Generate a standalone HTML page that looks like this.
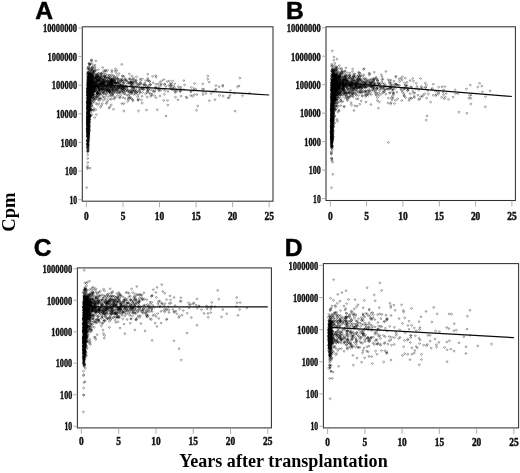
<!DOCTYPE html>
<html><head><meta charset="utf-8"><title>Figure</title>
<style>
html,body{margin:0;padding:0;background:#fff}
svg{display:block}
.tk text{font-family:"Liberation Serif",serif;font-weight:bold;font-size:11.5px;fill:#111;stroke:#111;stroke-width:.45px}
.pl{font-family:"Liberation Sans",sans-serif;font-weight:bold;font-size:24.6px;fill:#000;stroke:#000;stroke-width:.5px}
.ax{font-family:"Liberation Serif",serif;font-weight:bold;font-size:18px;fill:#000}
</style></head><body>
<svg width="520" height="473" viewBox="0 0 520 473">
<rect width="520" height="473" fill="#fff"/>
<g fill="none" stroke="#000" stroke-width="0.8" stroke-opacity="0.42">
<path d="M120.2 84.7a.85 .85 0 1 0 .01 0M88.4 128.6a.85 .85 0 1 0 .01 0M211.1 92.7a.85 .85 0 1 0 .01 0M88.4 111.8a.85 .85 0 1 0 .01 0M89.4 88.7a.85 .85 0 1 0 .01 0M88.1 103.7a.85 .85 0 1 0 .01 0M215.2 89.2a.85 .85 0 1 0 .01 0M91.4 88.2a.85 .85 0 1 0 .01 0M95.3 77.5a.85 .85 0 1 0 .01 0M90.2 77a.85 .85 0 1 0 .01 0M89.2 77.2a.85 .85 0 1 0 .01 0M88.3 84.9a.85 .85 0 1 0 .01 0M87.9 94.8a.85 .85 0 1 0 .01 0M88.6 93.9a.85 .85 0 1 0 .01 0M91.1 85.7a.85 .85 0 1 0 .01 0M105 75.9a.85 .85 0 1 0 .01 0M92.7 93.8a.85 .85 0 1 0 .01 0M163.7 88.4a.85 .85 0 1 0 .01 0M87.5 94.7a.85 .85 0 1 0 .01 0M88.4 87.8a.85 .85 0 1 0 .01 0M138.7 83.8a.85 .85 0 1 0 .01 0M87.6 128.9a.85 .85 0 1 0 .01 0M94.5 68.1a.85 .85 0 1 0 .01 0M102.4 71.7a.85 .85 0 1 0 .01 0M159.8 89.9a.85 .85 0 1 0 .01 0M88.2 132.3a.85 .85 0 1 0 .01 0M88.1 97.7a.85 .85 0 1 0 .01 0M87.8 149.8a.85 .85 0 1 0 .01 0M93.4 90.1a.85 .85 0 1 0 .01 0M148.4 86a.85 .85 0 1 0 .01 0M115 86.4a.85 .85 0 1 0 .01 0M88.4 83.6a.85 .85 0 1 0 .01 0M88.1 112.7a.85 .85 0 1 0 .01 0M140 92a.85 .85 0 1 0 .01 0M89.6 103.4a.85 .85 0 1 0 .01 0M89 113.4a.85 .85 0 1 0 .01 0M90.2 91.4a.85 .85 0 1 0 .01 0M87.6 118.9a.85 .85 0 1 0 .01 0M89.1 86.8a.85 .85 0 1 0 .01 0M88.2 133a.85 .85 0 1 0 .01 0M230.4 89.7a.85 .85 0 1 0 .01 0M90.2 94.5a.85 .85 0 1 0 .01 0M88.3 95.9a.85 .85 0 1 0 .01 0M90.1 78.5a.85 .85 0 1 0 .01 0M123.3 82.2a.85 .85 0 1 0 .01 0M123.4 87.1a.85 .85 0 1 0 .01 0M92.1 92.3a.85 .85 0 1 0 .01 0M90.6 96a.85 .85 0 1 0 .01 0M89 83.9a.85 .85 0 1 0 .01 0M214.9 98.9a.85 .85 0 1 0 .01 0M95.6 74.8a.85 .85 0 1 0 .01 0M87.4 113.9a.85 .85 0 1 0 .01 0M88.2 144.2a.85 .85 0 1 0 .01 0M89.9 108.9a.85 .85 0 1 0 .01 0M87.9 81.6a.85 .85 0 1 0 .01 0M147.8 89.8a.85 .85 0 1 0 .01 0M99.5 78.1a.85 .85 0 1 0 .01 0M126.7 88.8a.85 .85 0 1 0 .01 0M107.1 91a.85 .85 0 1 0 .01 0M87.9 80a.85 .85 0 1 0 .01 0M90.5 73.2a.85 .85 0 1 0 .01 0M94 90.9a.85 .85 0 1 0 .01 0M96.3 73.9a.85 .85 0 1 0 .01 0M107.3 77.2a.85 .85 0 1 0 .01 0M98.3 83.8a.85 .85 0 1 0 .01 0M234.4 92.3a.85 .85 0 1 0 .01 0M180.9 86.4a.85 .85 0 1 0 .01 0M93.1 78.1a.85 .85 0 1 0 .01 0M87.7 121.7a.85 .85 0 1 0 .01 0M145.8 84.2a.85 .85 0 1 0 .01 0M87.8 88.4a.85 .85 0 1 0 .01 0M116.1 88.9a.85 .85 0 1 0 .01 0M89.9 96.9a.85 .85 0 1 0 .01 0M87.8 123a.85 .85 0 1 0 .01 0M87.9 112.3a.85 .85 0 1 0 .01 0M125.2 79.2a.85 .85 0 1 0 .01 0M87.5 102.6a.85 .85 0 1 0 .01 0M91.1 88.6a.85 .85 0 1 0 .01 0M136.6 84.8a.85 .85 0 1 0 .01 0M152.6 75.5a.85 .85 0 1 0 .01 0M96.8 96.1a.85 .85 0 1 0 .01 0M87.9 130a.85 .85 0 1 0 .01 0M132.1 83.9a.85 .85 0 1 0 .01 0M137 82.8a.85 .85 0 1 0 .01 0M89.6 104a.85 .85 0 1 0 .01 0M88.5 94a.85 .85 0 1 0 .01 0M102.8 78.2a.85 .85 0 1 0 .01 0M88 142.1a.85 .85 0 1 0 .01 0M88.3 126.8a.85 .85 0 1 0 .01 0M87.4 166.9a.85 .85 0 1 0 .01 0M145.6 93.1a.85 .85 0 1 0 .01 0M93.7 89.2a.85 .85 0 1 0 .01 0M157.3 109a.85 .85 0 1 0 .01 0M89.4 90.3a.85 .85 0 1 0 .01 0M91.5 90.4a.85 .85 0 1 0 .01 0M88.1 102.4a.85 .85 0 1 0 .01 0M96.4 81.3a.85 .85 0 1 0 .01 0M113.1 88.8a.85 .85 0 1 0 .01 0M90.7 79.1a.85 .85 0 1 0 .01 0M127.5 83a.85 .85 0 1 0 .01 0M105.7 73.4a.85 .85 0 1 0 .01 0M87.6 112a.85 .85 0 1 0 .01 0M100.3 83.2a.85 .85 0 1 0 .01 0M88.2 108.4a.85 .85 0 1 0 .01 0M87.9 139.3a.85 .85 0 1 0 .01 0M171.8 87.7a.85 .85 0 1 0 .01 0M90.5 102.9a.85 .85 0 1 0 .01 0M91.5 75.5a.85 .85 0 1 0 .01 0M88.3 88.3a.85 .85 0 1 0 .01 0M89.2 87.8a.85 .85 0 1 0 .01 0M87.3 120.9a.85 .85 0 1 0 .01 0M101.8 79.5a.85 .85 0 1 0 .01 0M138.1 99.2a.85 .85 0 1 0 .01 0M88.2 101.5a.85 .85 0 1 0 .01 0M92.3 81a.85 .85 0 1 0 .01 0M92.3 82.2a.85 .85 0 1 0 .01 0M112.1 81.6a.85 .85 0 1 0 .01 0M106.3 102.8a.85 .85 0 1 0 .01 0M98.8 87.6a.85 .85 0 1 0 .01 0M87.1 128a.85 .85 0 1 0 .01 0M104.2 79.7a.85 .85 0 1 0 .01 0M108.1 85a.85 .85 0 1 0 .01 0M89 73.3a.85 .85 0 1 0 .01 0M87.8 94.2a.85 .85 0 1 0 .01 0M91.5 94.8a.85 .85 0 1 0 .01 0M88.6 88.3a.85 .85 0 1 0 .01 0M93.6 81.8a.85 .85 0 1 0 .01 0M89.3 128.8a.85 .85 0 1 0 .01 0M111.2 82.6a.85 .85 0 1 0 .01 0M89.1 79.2a.85 .85 0 1 0 .01 0M151.8 93.2a.85 .85 0 1 0 .01 0M87.5 105.4a.85 .85 0 1 0 .01 0M91.9 94.8a.85 .85 0 1 0 .01 0M91.9 66.8a.85 .85 0 1 0 .01 0M87.8 127.1a.85 .85 0 1 0 .01 0M88.9 102.1a.85 .85 0 1 0 .01 0M87.9 116.9a.85 .85 0 1 0 .01 0M98.2 92a.85 .85 0 1 0 .01 0M102.6 82.2a.85 .85 0 1 0 .01 0M88.1 125.1a.85 .85 0 1 0 .01 0M92.5 90.6a.85 .85 0 1 0 .01 0M87.5 123.1a.85 .85 0 1 0 .01 0M115.1 85.4a.85 .85 0 1 0 .01 0M87.8 67.7a.85 .85 0 1 0 .01 0M99 89.1a.85 .85 0 1 0 .01 0M87.9 129.3a.85 .85 0 1 0 .01 0M87.9 94.5a.85 .85 0 1 0 .01 0M90.4 80.5a.85 .85 0 1 0 .01 0M144.9 82.2a.85 .85 0 1 0 .01 0M103.3 80.3a.85 .85 0 1 0 .01 0M91.7 104.5a.85 .85 0 1 0 .01 0M89.8 87.1a.85 .85 0 1 0 .01 0M90.7 87.6a.85 .85 0 1 0 .01 0M239.9 77.2a.85 .85 0 1 0 .01 0M93 89.1a.85 .85 0 1 0 .01 0M91.2 91.2a.85 .85 0 1 0 .01 0M91.7 59.5a.85 .85 0 1 0 .01 0M88.9 102.4a.85 .85 0 1 0 .01 0M110.7 88.4a.85 .85 0 1 0 .01 0M114.2 80.2a.85 .85 0 1 0 .01 0M89.3 94.6a.85 .85 0 1 0 .01 0M112.3 90.7a.85 .85 0 1 0 .01 0M139.2 90a.85 .85 0 1 0 .01 0M95.9 60.1a.85 .85 0 1 0 .01 0M87.6 106.4a.85 .85 0 1 0 .01 0M89.1 126.8a.85 .85 0 1 0 .01 0M142.1 87.6a.85 .85 0 1 0 .01 0M88.2 120.6a.85 .85 0 1 0 .01 0M87.9 119.2a.85 .85 0 1 0 .01 0M87.7 124.9a.85 .85 0 1 0 .01 0M96.9 73.1a.85 .85 0 1 0 .01 0M87.4 120.3a.85 .85 0 1 0 .01 0M88.5 104.1a.85 .85 0 1 0 .01 0M89.5 81.5a.85 .85 0 1 0 .01 0M147.1 90.5a.85 .85 0 1 0 .01 0M114.8 76.5a.85 .85 0 1 0 .01 0M88.3 81.9a.85 .85 0 1 0 .01 0M91.2 73.3a.85 .85 0 1 0 .01 0M161.7 80a.85 .85 0 1 0 .01 0M89 113.9a.85 .85 0 1 0 .01 0M95.1 75.8a.85 .85 0 1 0 .01 0M88.5 109.5a.85 .85 0 1 0 .01 0M114.8 77.5a.85 .85 0 1 0 .01 0M88 85.5a.85 .85 0 1 0 .01 0M91.7 109.2a.85 .85 0 1 0 .01 0M91.6 73.6a.85 .85 0 1 0 .01 0M88.1 127.2a.85 .85 0 1 0 .01 0M148.4 89a.85 .85 0 1 0 .01 0M97 90.9a.85 .85 0 1 0 .01 0M97.1 103.6a.85 .85 0 1 0 .01 0M88.9 107.4a.85 .85 0 1 0 .01 0M93.1 68.8a.85 .85 0 1 0 .01 0M88 135.7a.85 .85 0 1 0 .01 0M87.6 117.6a.85 .85 0 1 0 .01 0M110.1 98.4a.85 .85 0 1 0 .01 0M117.5 78.1a.85 .85 0 1 0 .01 0M88.1 100.6a.85 .85 0 1 0 .01 0M91.8 79.1a.85 .85 0 1 0 .01 0M88 77.6a.85 .85 0 1 0 .01 0M235.1 110.3a.85 .85 0 1 0 .01 0M97.4 89.6a.85 .85 0 1 0 .01 0M87.8 143.9a.85 .85 0 1 0 .01 0M90.8 72.4a.85 .85 0 1 0 .01 0M88.2 91.9a.85 .85 0 1 0 .01 0M87.8 87.2a.85 .85 0 1 0 .01 0M117.2 86.5a.85 .85 0 1 0 .01 0M102.8 91.8a.85 .85 0 1 0 .01 0M87.6 97.9a.85 .85 0 1 0 .01 0M88.1 107.8a.85 .85 0 1 0 .01 0M88.1 102.2a.85 .85 0 1 0 .01 0M87.8 82.6a.85 .85 0 1 0 .01 0M88 96.3a.85 .85 0 1 0 .01 0M117.8 82.1a.85 .85 0 1 0 .01 0M133 82.6a.85 .85 0 1 0 .01 0M92.1 91.8a.85 .85 0 1 0 .01 0M90.1 72a.85 .85 0 1 0 .01 0M91 89.3a.85 .85 0 1 0 .01 0M88 93a.85 .85 0 1 0 .01 0M111.6 98.2a.85 .85 0 1 0 .01 0M110.6 86.2a.85 .85 0 1 0 .01 0M92.3 70.3a.85 .85 0 1 0 .01 0M128.6 94.9a.85 .85 0 1 0 .01 0M88.1 112.1a.85 .85 0 1 0 .01 0M107.7 99.6a.85 .85 0 1 0 .01 0M96 85.2a.85 .85 0 1 0 .01 0M106.1 82.3a.85 .85 0 1 0 .01 0M119 91.1a.85 .85 0 1 0 .01 0M90.1 82.5a.85 .85 0 1 0 .01 0M89.4 109.3a.85 .85 0 1 0 .01 0M94.8 81.2a.85 .85 0 1 0 .01 0M93.2 80.3a.85 .85 0 1 0 .01 0M88.3 129.6a.85 .85 0 1 0 .01 0M97.5 92a.85 .85 0 1 0 .01 0M89.9 102a.85 .85 0 1 0 .01 0M147 87.3a.85 .85 0 1 0 .01 0M110.4 79.3a.85 .85 0 1 0 .01 0M93 83.9a.85 .85 0 1 0 .01 0M93.5 100.3a.85 .85 0 1 0 .01 0M95.4 98.4a.85 .85 0 1 0 .01 0M127.2 90.6a.85 .85 0 1 0 .01 0M90 80.3a.85 .85 0 1 0 .01 0M87.8 92.6a.85 .85 0 1 0 .01 0M89.5 117.6a.85 .85 0 1 0 .01 0M88.1 93.4a.85 .85 0 1 0 .01 0M89.3 80.2a.85 .85 0 1 0 .01 0M89.5 78.8a.85 .85 0 1 0 .01 0M90.4 79.4a.85 .85 0 1 0 .01 0M119.6 83.9a.85 .85 0 1 0 .01 0M87.7 140a.85 .85 0 1 0 .01 0M93.6 89.1a.85 .85 0 1 0 .01 0M87.3 84.2a.85 .85 0 1 0 .01 0M89.3 110.2a.85 .85 0 1 0 .01 0M105.2 81.2a.85 .85 0 1 0 .01 0M116.2 87.2a.85 .85 0 1 0 .01 0M127 86.1a.85 .85 0 1 0 .01 0M88.3 135.1a.85 .85 0 1 0 .01 0M99.4 82.9a.85 .85 0 1 0 .01 0M118.3 88.5a.85 .85 0 1 0 .01 0M131.2 84.3a.85 .85 0 1 0 .01 0M89.1 90.5a.85 .85 0 1 0 .01 0M90.9 79.9a.85 .85 0 1 0 .01 0M131.5 91.4a.85 .85 0 1 0 .01 0M123.5 90.6a.85 .85 0 1 0 .01 0M87.7 88.5a.85 .85 0 1 0 .01 0M90.1 92.6a.85 .85 0 1 0 .01 0M155.7 74.8a.85 .85 0 1 0 .01 0M90.6 87.5a.85 .85 0 1 0 .01 0"/>
<path d="M128.2 89.3a.85 .85 0 1 0 .01 0M91.5 87.4a.85 .85 0 1 0 .01 0M90.5 85.9a.85 .85 0 1 0 .01 0M95.6 102.3a.85 .85 0 1 0 .01 0M88.4 110.8a.85 .85 0 1 0 .01 0M101.2 73.6a.85 .85 0 1 0 .01 0M88.2 133.3a.85 .85 0 1 0 .01 0M89.3 79.5a.85 .85 0 1 0 .01 0M89 101.2a.85 .85 0 1 0 .01 0M107.6 88.1a.85 .85 0 1 0 .01 0M87.6 108.6a.85 .85 0 1 0 .01 0M112.8 77.1a.85 .85 0 1 0 .01 0M170.4 85a.85 .85 0 1 0 .01 0M89.9 102.4a.85 .85 0 1 0 .01 0M89.6 84a.85 .85 0 1 0 .01 0M91 76.2a.85 .85 0 1 0 .01 0M90 89.5a.85 .85 0 1 0 .01 0M87.7 131.6a.85 .85 0 1 0 .01 0M132.9 90.3a.85 .85 0 1 0 .01 0M88.6 113.4a.85 .85 0 1 0 .01 0M92 89.6a.85 .85 0 1 0 .01 0M93.3 85.9a.85 .85 0 1 0 .01 0M93.8 99a.85 .85 0 1 0 .01 0M89.5 101.3a.85 .85 0 1 0 .01 0M91.8 73.1a.85 .85 0 1 0 .01 0M87.6 129.2a.85 .85 0 1 0 .01 0M132.7 81.5a.85 .85 0 1 0 .01 0M88.6 107a.85 .85 0 1 0 .01 0M88.5 133.2a.85 .85 0 1 0 .01 0M87.8 124.4a.85 .85 0 1 0 .01 0M105 85.1a.85 .85 0 1 0 .01 0M109.3 75.1a.85 .85 0 1 0 .01 0M87.8 117.4a.85 .85 0 1 0 .01 0M117.1 88.3a.85 .85 0 1 0 .01 0M88.7 92.4a.85 .85 0 1 0 .01 0M92.9 109.6a.85 .85 0 1 0 .01 0M89.7 93.4a.85 .85 0 1 0 .01 0M142.7 87.5a.85 .85 0 1 0 .01 0M98.1 93.4a.85 .85 0 1 0 .01 0M87.8 102.7a.85 .85 0 1 0 .01 0M105.5 89.1a.85 .85 0 1 0 .01 0M102.3 79.3a.85 .85 0 1 0 .01 0M89 134a.85 .85 0 1 0 .01 0M111.8 80.6a.85 .85 0 1 0 .01 0M88.8 116.5a.85 .85 0 1 0 .01 0M89.6 86.8a.85 .85 0 1 0 .01 0M172.5 80.3a.85 .85 0 1 0 .01 0M89.6 90.5a.85 .85 0 1 0 .01 0M88.4 94.1a.85 .85 0 1 0 .01 0M88.8 110.9a.85 .85 0 1 0 .01 0M88.8 113.1a.85 .85 0 1 0 .01 0M92.3 91.4a.85 .85 0 1 0 .01 0M126.9 87.5a.85 .85 0 1 0 .01 0M98.8 88.7a.85 .85 0 1 0 .01 0M90.7 88.7a.85 .85 0 1 0 .01 0M117.9 79.6a.85 .85 0 1 0 .01 0M87.7 101.2a.85 .85 0 1 0 .01 0M119.5 85.8a.85 .85 0 1 0 .01 0M87.4 143a.85 .85 0 1 0 .01 0M118.1 87.4a.85 .85 0 1 0 .01 0M91.6 75.1a.85 .85 0 1 0 .01 0M89.6 74.7a.85 .85 0 1 0 .01 0M93.1 74.1a.85 .85 0 1 0 .01 0M92.6 78.1a.85 .85 0 1 0 .01 0M105.6 85.6a.85 .85 0 1 0 .01 0M87.6 131.8a.85 .85 0 1 0 .01 0M111.6 91.9a.85 .85 0 1 0 .01 0M169.3 80.2a.85 .85 0 1 0 .01 0M87.8 123.6a.85 .85 0 1 0 .01 0M101.4 83.4a.85 .85 0 1 0 .01 0M87.8 96.5a.85 .85 0 1 0 .01 0M87.2 117.7a.85 .85 0 1 0 .01 0M88 91a.85 .85 0 1 0 .01 0M88.2 90.9a.85 .85 0 1 0 .01 0M147.8 77.7a.85 .85 0 1 0 .01 0M102.6 88.2a.85 .85 0 1 0 .01 0M92.3 86.6a.85 .85 0 1 0 .01 0M92.2 93.2a.85 .85 0 1 0 .01 0M87.6 89.1a.85 .85 0 1 0 .01 0M90 81.4a.85 .85 0 1 0 .01 0M89 109.8a.85 .85 0 1 0 .01 0M103 82.2a.85 .85 0 1 0 .01 0M131 81.7a.85 .85 0 1 0 .01 0M89.5 102.7a.85 .85 0 1 0 .01 0M88.1 123.2a.85 .85 0 1 0 .01 0M109.4 87.2a.85 .85 0 1 0 .01 0M87.8 140.2a.85 .85 0 1 0 .01 0M100.6 89.4a.85 .85 0 1 0 .01 0M89.9 87a.85 .85 0 1 0 .01 0M88.7 83.9a.85 .85 0 1 0 .01 0M112.1 78.9a.85 .85 0 1 0 .01 0M90 78a.85 .85 0 1 0 .01 0M175.4 91.8a.85 .85 0 1 0 .01 0M130.6 81.3a.85 .85 0 1 0 .01 0M92.6 87.9a.85 .85 0 1 0 .01 0M143.7 83.9a.85 .85 0 1 0 .01 0M87.6 122a.85 .85 0 1 0 .01 0M87.6 122.7a.85 .85 0 1 0 .01 0M88.3 89.1a.85 .85 0 1 0 .01 0M202.5 88.3a.85 .85 0 1 0 .01 0M97.6 92.7a.85 .85 0 1 0 .01 0M112.4 81.3a.85 .85 0 1 0 .01 0M90.5 87.3a.85 .85 0 1 0 .01 0M98.6 77.5a.85 .85 0 1 0 .01 0M129.1 82.2a.85 .85 0 1 0 .01 0M88.2 116.2a.85 .85 0 1 0 .01 0M88.7 83.3a.85 .85 0 1 0 .01 0M96.7 93.7a.85 .85 0 1 0 .01 0M90.6 77.3a.85 .85 0 1 0 .01 0M87.4 91a.85 .85 0 1 0 .01 0M173.2 89.2a.85 .85 0 1 0 .01 0M90.1 82.3a.85 .85 0 1 0 .01 0M89.1 97.8a.85 .85 0 1 0 .01 0M190.8 90.5a.85 .85 0 1 0 .01 0M88.5 94.4a.85 .85 0 1 0 .01 0M99.8 76.5a.85 .85 0 1 0 .01 0M113.5 108.5a.85 .85 0 1 0 .01 0M87.9 84.4a.85 .85 0 1 0 .01 0M127.7 100.5a.85 .85 0 1 0 .01 0M90.1 110.4a.85 .85 0 1 0 .01 0M164.4 93.4a.85 .85 0 1 0 .01 0M98.1 80.9a.85 .85 0 1 0 .01 0M88 113a.85 .85 0 1 0 .01 0M89.6 116.2a.85 .85 0 1 0 .01 0M116.4 72.5a.85 .85 0 1 0 .01 0M99.2 85.3a.85 .85 0 1 0 .01 0M129.5 97a.85 .85 0 1 0 .01 0M87.8 127.3a.85 .85 0 1 0 .01 0M104.2 96.4a.85 .85 0 1 0 .01 0M102 82a.85 .85 0 1 0 .01 0M104.9 88.2a.85 .85 0 1 0 .01 0M167.5 99.6a.85 .85 0 1 0 .01 0M90 106.1a.85 .85 0 1 0 .01 0M125.1 93.4a.85 .85 0 1 0 .01 0M88 95.4a.85 .85 0 1 0 .01 0M116.8 89.3a.85 .85 0 1 0 .01 0M87.7 103.1a.85 .85 0 1 0 .01 0M147.9 79.1a.85 .85 0 1 0 .01 0M90.5 114.9a.85 .85 0 1 0 .01 0M91.9 86.3a.85 .85 0 1 0 .01 0M180.5 89.5a.85 .85 0 1 0 .01 0M125 91.3a.85 .85 0 1 0 .01 0M110.3 84.4a.85 .85 0 1 0 .01 0M88.6 83.5a.85 .85 0 1 0 .01 0M124.4 88.5a.85 .85 0 1 0 .01 0M97.1 76.1a.85 .85 0 1 0 .01 0M87.2 135.1a.85 .85 0 1 0 .01 0M90 82.7a.85 .85 0 1 0 .01 0M87.7 129.5a.85 .85 0 1 0 .01 0M91.1 93.8a.85 .85 0 1 0 .01 0M191.4 86.6a.85 .85 0 1 0 .01 0M99.4 100.1a.85 .85 0 1 0 .01 0M146.5 109.2a.85 .85 0 1 0 .01 0M103.4 90.9a.85 .85 0 1 0 .01 0M111.4 83.7a.85 .85 0 1 0 .01 0M122.9 80.4a.85 .85 0 1 0 .01 0M207.8 75.2a.85 .85 0 1 0 .01 0M103 91.6a.85 .85 0 1 0 .01 0M87.9 78.5a.85 .85 0 1 0 .01 0M87.8 118.1a.85 .85 0 1 0 .01 0M92.4 86.6a.85 .85 0 1 0 .01 0M90.7 69.3a.85 .85 0 1 0 .01 0M113.3 78.3a.85 .85 0 1 0 .01 0M92.6 98.2a.85 .85 0 1 0 .01 0M87.9 118.2a.85 .85 0 1 0 .01 0M92.9 83.3a.85 .85 0 1 0 .01 0M97.6 85.4a.85 .85 0 1 0 .01 0M96.8 93.6a.85 .85 0 1 0 .01 0M177.1 90.1a.85 .85 0 1 0 .01 0M110.8 92.3a.85 .85 0 1 0 .01 0M88.4 104.9a.85 .85 0 1 0 .01 0M107.1 85.2a.85 .85 0 1 0 .01 0M92.1 63a.85 .85 0 1 0 .01 0M94.2 86.9a.85 .85 0 1 0 .01 0M142.4 91.7a.85 .85 0 1 0 .01 0M88.2 127.8a.85 .85 0 1 0 .01 0M88.1 115a.85 .85 0 1 0 .01 0M93 75.1a.85 .85 0 1 0 .01 0M91.8 78a.85 .85 0 1 0 .01 0M88.3 105.3a.85 .85 0 1 0 .01 0M87.8 114.4a.85 .85 0 1 0 .01 0M90.3 81.4a.85 .85 0 1 0 .01 0M99.2 76.3a.85 .85 0 1 0 .01 0M120.5 78.9a.85 .85 0 1 0 .01 0M88 101a.85 .85 0 1 0 .01 0M87.7 106.7a.85 .85 0 1 0 .01 0M88.9 118.9a.85 .85 0 1 0 .01 0M88.1 89.5a.85 .85 0 1 0 .01 0M113.6 74.9a.85 .85 0 1 0 .01 0M88.3 82.8a.85 .85 0 1 0 .01 0M143.7 88.6a.85 .85 0 1 0 .01 0M106.4 93.2a.85 .85 0 1 0 .01 0M99.2 87.6a.85 .85 0 1 0 .01 0M123.2 85.7a.85 .85 0 1 0 .01 0M115 89.9a.85 .85 0 1 0 .01 0M105.2 84.7a.85 .85 0 1 0 .01 0M88.2 140.3a.85 .85 0 1 0 .01 0M173.6 85.5a.85 .85 0 1 0 .01 0M91.2 109.2a.85 .85 0 1 0 .01 0M92.9 84.6a.85 .85 0 1 0 .01 0M89.5 76.7a.85 .85 0 1 0 .01 0M90.1 96.7a.85 .85 0 1 0 .01 0M88 127.3a.85 .85 0 1 0 .01 0M102.4 85.3a.85 .85 0 1 0 .01 0M107.9 79.7a.85 .85 0 1 0 .01 0M145.2 87.4a.85 .85 0 1 0 .01 0M91 97.1a.85 .85 0 1 0 .01 0M99.8 91.9a.85 .85 0 1 0 .01 0M87.5 150.8a.85 .85 0 1 0 .01 0M90.8 109a.85 .85 0 1 0 .01 0M91.3 97.2a.85 .85 0 1 0 .01 0M131.7 85a.85 .85 0 1 0 .01 0M95.9 69.4a.85 .85 0 1 0 .01 0M122 79a.85 .85 0 1 0 .01 0M98.6 90.1a.85 .85 0 1 0 .01 0M90 63.5a.85 .85 0 1 0 .01 0M89.7 96a.85 .85 0 1 0 .01 0M125.7 84.9a.85 .85 0 1 0 .01 0M92.2 78.5a.85 .85 0 1 0 .01 0M115.2 91.8a.85 .85 0 1 0 .01 0M98.5 79.6a.85 .85 0 1 0 .01 0M88.1 87a.85 .85 0 1 0 .01 0M90.7 77.7a.85 .85 0 1 0 .01 0M88.6 76.3a.85 .85 0 1 0 .01 0M142.1 95.5a.85 .85 0 1 0 .01 0M87.6 154a.85 .85 0 1 0 .01 0M88.1 108a.85 .85 0 1 0 .01 0M95 66.6a.85 .85 0 1 0 .01 0M120.9 80.2a.85 .85 0 1 0 .01 0M168 90.7a.85 .85 0 1 0 .01 0M93.1 77.6a.85 .85 0 1 0 .01 0M95.7 88.2a.85 .85 0 1 0 .01 0M116.8 81.1a.85 .85 0 1 0 .01 0M149.1 91.9a.85 .85 0 1 0 .01 0M118.1 84.6a.85 .85 0 1 0 .01 0M91.2 79.7a.85 .85 0 1 0 .01 0M88.8 91.3a.85 .85 0 1 0 .01 0M87.5 99.4a.85 .85 0 1 0 .01 0M87.9 81.7a.85 .85 0 1 0 .01 0M87.6 110.7a.85 .85 0 1 0 .01 0M129.6 93.6a.85 .85 0 1 0 .01 0M88 100.8a.85 .85 0 1 0 .01 0M87.7 116.8a.85 .85 0 1 0 .01 0M114.9 81.9a.85 .85 0 1 0 .01 0M92.9 96.9a.85 .85 0 1 0 .01 0M89.1 96.8a.85 .85 0 1 0 .01 0M88.9 82.4a.85 .85 0 1 0 .01 0M88.4 122.5a.85 .85 0 1 0 .01 0M93.6 78.4a.85 .85 0 1 0 .01 0M89 92.5a.85 .85 0 1 0 .01 0M90.4 83.2a.85 .85 0 1 0 .01 0M88.8 89.2a.85 .85 0 1 0 .01 0M87.6 143.7a.85 .85 0 1 0 .01 0M88.4 78.9a.85 .85 0 1 0 .01 0M90.6 115.2a.85 .85 0 1 0 .01 0M87.8 127.5a.85 .85 0 1 0 .01 0M91.1 76.8a.85 .85 0 1 0 .01 0M100.7 85.1a.85 .85 0 1 0 .01 0M88.3 106.1a.85 .85 0 1 0 .01 0M134.2 83.8a.85 .85 0 1 0 .01 0M91 97.3a.85 .85 0 1 0 .01 0M87.7 109.2a.85 .85 0 1 0 .01 0M106.6 85.5a.85 .85 0 1 0 .01 0M124.5 86.1a.85 .85 0 1 0 .01 0M89.9 108.5a.85 .85 0 1 0 .01 0M99.2 88.7a.85 .85 0 1 0 .01 0M91.1 90a.85 .85 0 1 0 .01 0"/>
<path d="M115.1 78.7a.85 .85 0 1 0 .01 0M106.8 84.2a.85 .85 0 1 0 .01 0M100.4 82.6a.85 .85 0 1 0 .01 0M89.4 90.5a.85 .85 0 1 0 .01 0M88.5 119.1a.85 .85 0 1 0 .01 0M107.7 96.1a.85 .85 0 1 0 .01 0M89.2 117.7a.85 .85 0 1 0 .01 0M87.8 83.8a.85 .85 0 1 0 .01 0M91.8 88.9a.85 .85 0 1 0 .01 0M229.2 96.7a.85 .85 0 1 0 .01 0M90 81.9a.85 .85 0 1 0 .01 0M110.2 88.9a.85 .85 0 1 0 .01 0M89.3 101.6a.85 .85 0 1 0 .01 0M88.3 112.2a.85 .85 0 1 0 .01 0M89 137.3a.85 .85 0 1 0 .01 0M100.2 82.9a.85 .85 0 1 0 .01 0M88 71a.85 .85 0 1 0 .01 0M87.7 135.3a.85 .85 0 1 0 .01 0M90 77.5a.85 .85 0 1 0 .01 0M92 82.3a.85 .85 0 1 0 .01 0M88.3 85.8a.85 .85 0 1 0 .01 0M96.5 85a.85 .85 0 1 0 .01 0M88.1 98a.85 .85 0 1 0 .01 0M88.3 101.1a.85 .85 0 1 0 .01 0M88.6 101.3a.85 .85 0 1 0 .01 0M88.1 112.4a.85 .85 0 1 0 .01 0M125.1 85.5a.85 .85 0 1 0 .01 0M95.2 77.1a.85 .85 0 1 0 .01 0M89.5 99.5a.85 .85 0 1 0 .01 0M87.9 108.6a.85 .85 0 1 0 .01 0M114.9 70.3a.85 .85 0 1 0 .01 0M91.1 88.5a.85 .85 0 1 0 .01 0M140.1 81.8a.85 .85 0 1 0 .01 0M192.6 95.5a.85 .85 0 1 0 .01 0M91.5 82.3a.85 .85 0 1 0 .01 0M88.8 136.4a.85 .85 0 1 0 .01 0M88.2 90.6a.85 .85 0 1 0 .01 0M102.5 93.7a.85 .85 0 1 0 .01 0M89.3 80.3a.85 .85 0 1 0 .01 0M93.2 90.8a.85 .85 0 1 0 .01 0M103.2 87.8a.85 .85 0 1 0 .01 0M111.3 79.6a.85 .85 0 1 0 .01 0M87.9 138.3a.85 .85 0 1 0 .01 0M87.8 130.7a.85 .85 0 1 0 .01 0M118.4 78.1a.85 .85 0 1 0 .01 0M89.9 83.1a.85 .85 0 1 0 .01 0M88 149a.85 .85 0 1 0 .01 0M87.7 80.7a.85 .85 0 1 0 .01 0M178 99a.85 .85 0 1 0 .01 0M115.6 68a.85 .85 0 1 0 .01 0M90.9 89a.85 .85 0 1 0 .01 0M88.5 128.5a.85 .85 0 1 0 .01 0M87.8 97.1a.85 .85 0 1 0 .01 0M87.8 127.8a.85 .85 0 1 0 .01 0M99.7 93.5a.85 .85 0 1 0 .01 0M90.2 70.3a.85 .85 0 1 0 .01 0M117.3 77.9a.85 .85 0 1 0 .01 0M89.7 95a.85 .85 0 1 0 .01 0M89.5 83.1a.85 .85 0 1 0 .01 0M181.1 95.4a.85 .85 0 1 0 .01 0M141.4 99.2a.85 .85 0 1 0 .01 0M87.7 90.3a.85 .85 0 1 0 .01 0M98.7 91a.85 .85 0 1 0 .01 0M89.4 89.9a.85 .85 0 1 0 .01 0M88.1 117.5a.85 .85 0 1 0 .01 0M88.2 123.5a.85 .85 0 1 0 .01 0M88.9 125a.85 .85 0 1 0 .01 0M89.4 81.9a.85 .85 0 1 0 .01 0M88.7 109.7a.85 .85 0 1 0 .01 0M88.6 128.2a.85 .85 0 1 0 .01 0M111.5 78.9a.85 .85 0 1 0 .01 0M89.2 127.7a.85 .85 0 1 0 .01 0M88.5 81.1a.85 .85 0 1 0 .01 0M89.1 116.4a.85 .85 0 1 0 .01 0M88.1 107.5a.85 .85 0 1 0 .01 0M132.2 85.6a.85 .85 0 1 0 .01 0M89 88.9a.85 .85 0 1 0 .01 0M95.8 87.4a.85 .85 0 1 0 .01 0M87.5 105.9a.85 .85 0 1 0 .01 0M191.1 91a.85 .85 0 1 0 .01 0M92.9 80.8a.85 .85 0 1 0 .01 0M89 119.2a.85 .85 0 1 0 .01 0M100.7 85a.85 .85 0 1 0 .01 0M93.9 98.6a.85 .85 0 1 0 .01 0M97.6 79.6a.85 .85 0 1 0 .01 0M109.1 89.6a.85 .85 0 1 0 .01 0M96.3 77.3a.85 .85 0 1 0 .01 0M96.8 82.4a.85 .85 0 1 0 .01 0M93.5 91.7a.85 .85 0 1 0 .01 0M111.3 82.4a.85 .85 0 1 0 .01 0M93.1 93.6a.85 .85 0 1 0 .01 0M87.6 112.4a.85 .85 0 1 0 .01 0M130.6 82a.85 .85 0 1 0 .01 0M87.9 110.2a.85 .85 0 1 0 .01 0M110.2 80.4a.85 .85 0 1 0 .01 0M89 118.5a.85 .85 0 1 0 .01 0M87.6 135.6a.85 .85 0 1 0 .01 0M88.1 87a.85 .85 0 1 0 .01 0M88.4 121.5a.85 .85 0 1 0 .01 0M98.8 87.8a.85 .85 0 1 0 .01 0M88.2 121.9a.85 .85 0 1 0 .01 0M88.2 76.4a.85 .85 0 1 0 .01 0M107.5 88.7a.85 .85 0 1 0 .01 0M88 134.6a.85 .85 0 1 0 .01 0M88 136.2a.85 .85 0 1 0 .01 0M111.4 93.8a.85 .85 0 1 0 .01 0M171.4 84.2a.85 .85 0 1 0 .01 0M88.4 96.1a.85 .85 0 1 0 .01 0M102.7 86.4a.85 .85 0 1 0 .01 0M88 97.4a.85 .85 0 1 0 .01 0M88.2 103.4a.85 .85 0 1 0 .01 0M87.9 129.6a.85 .85 0 1 0 .01 0M150.7 95.5a.85 .85 0 1 0 .01 0M105.4 75.3a.85 .85 0 1 0 .01 0M186.2 96.2a.85 .85 0 1 0 .01 0M131.9 98.1a.85 .85 0 1 0 .01 0M89.6 85.4a.85 .85 0 1 0 .01 0M87.9 132.4a.85 .85 0 1 0 .01 0M94.9 84.5a.85 .85 0 1 0 .01 0M90.4 80.8a.85 .85 0 1 0 .01 0M88.1 67.9a.85 .85 0 1 0 .01 0M110.3 85a.85 .85 0 1 0 .01 0M119.6 88.1a.85 .85 0 1 0 .01 0M89.3 99.6a.85 .85 0 1 0 .01 0M93.5 79.8a.85 .85 0 1 0 .01 0M103 89.3a.85 .85 0 1 0 .01 0M87.9 150.9a.85 .85 0 1 0 .01 0M101.4 88.8a.85 .85 0 1 0 .01 0M117 91.7a.85 .85 0 1 0 .01 0M95 77.3a.85 .85 0 1 0 .01 0M88.3 106.6a.85 .85 0 1 0 .01 0M121.8 102.8a.85 .85 0 1 0 .01 0M88.1 123.4a.85 .85 0 1 0 .01 0M99.4 87.8a.85 .85 0 1 0 .01 0M102.2 87.6a.85 .85 0 1 0 .01 0M140.7 88.3a.85 .85 0 1 0 .01 0M88.9 95.5a.85 .85 0 1 0 .01 0M88.1 109.3a.85 .85 0 1 0 .01 0M87.9 132.2a.85 .85 0 1 0 .01 0M89 113a.85 .85 0 1 0 .01 0M98.2 79.2a.85 .85 0 1 0 .01 0M87.8 134.4a.85 .85 0 1 0 .01 0M89.4 108.8a.85 .85 0 1 0 .01 0M107.5 88.9a.85 .85 0 1 0 .01 0M87.9 81.8a.85 .85 0 1 0 .01 0M116.7 77.3a.85 .85 0 1 0 .01 0M87.9 115.6a.85 .85 0 1 0 .01 0M100.2 76.9a.85 .85 0 1 0 .01 0M88.6 76.4a.85 .85 0 1 0 .01 0M90.1 103.6a.85 .85 0 1 0 .01 0M89.8 114.5a.85 .85 0 1 0 .01 0M88.4 135.1a.85 .85 0 1 0 .01 0M131.4 83a.85 .85 0 1 0 .01 0M93.5 90.6a.85 .85 0 1 0 .01 0M106 85a.85 .85 0 1 0 .01 0M88.4 98.5a.85 .85 0 1 0 .01 0M110.9 85.9a.85 .85 0 1 0 .01 0M89.9 74.8a.85 .85 0 1 0 .01 0M87.9 76.1a.85 .85 0 1 0 .01 0M110 95a.85 .85 0 1 0 .01 0M87.6 122.6a.85 .85 0 1 0 .01 0M88.3 108.1a.85 .85 0 1 0 .01 0M88.2 86.3a.85 .85 0 1 0 .01 0M93.8 86.3a.85 .85 0 1 0 .01 0M88.4 90.8a.85 .85 0 1 0 .01 0M110.2 90.3a.85 .85 0 1 0 .01 0M101.8 75.2a.85 .85 0 1 0 .01 0M88 127.4a.85 .85 0 1 0 .01 0M90.4 83.1a.85 .85 0 1 0 .01 0M215.8 84.8a.85 .85 0 1 0 .01 0M88.8 97.1a.85 .85 0 1 0 .01 0M171.2 82.8a.85 .85 0 1 0 .01 0M89.1 75.2a.85 .85 0 1 0 .01 0M110.6 83.3a.85 .85 0 1 0 .01 0M87.9 98.2a.85 .85 0 1 0 .01 0M87.9 120.4a.85 .85 0 1 0 .01 0M105.2 98a.85 .85 0 1 0 .01 0M99.3 83.3a.85 .85 0 1 0 .01 0M180.9 88.2a.85 .85 0 1 0 .01 0M99.3 77.8a.85 .85 0 1 0 .01 0M89.5 129.8a.85 .85 0 1 0 .01 0M88.1 133.1a.85 .85 0 1 0 .01 0M88.2 118.3a.85 .85 0 1 0 .01 0M92.5 83.7a.85 .85 0 1 0 .01 0M87.8 123.5a.85 .85 0 1 0 .01 0M88.2 119.4a.85 .85 0 1 0 .01 0M111.2 104.2a.85 .85 0 1 0 .01 0M180.5 90.7a.85 .85 0 1 0 .01 0M119.2 72.9a.85 .85 0 1 0 .01 0M97.1 83.1a.85 .85 0 1 0 .01 0M105.8 80a.85 .85 0 1 0 .01 0M91.6 76.9a.85 .85 0 1 0 .01 0M101.5 84.8a.85 .85 0 1 0 .01 0M124.4 79a.85 .85 0 1 0 .01 0M88 122a.85 .85 0 1 0 .01 0M96.9 86.3a.85 .85 0 1 0 .01 0M88.3 85.1a.85 .85 0 1 0 .01 0M89.1 80a.85 .85 0 1 0 .01 0M158.8 89.6a.85 .85 0 1 0 .01 0M90.2 90.4a.85 .85 0 1 0 .01 0M134 87.1a.85 .85 0 1 0 .01 0M87.8 112.4a.85 .85 0 1 0 .01 0M91.3 87.2a.85 .85 0 1 0 .01 0M88.3 117.8a.85 .85 0 1 0 .01 0M88 145.7a.85 .85 0 1 0 .01 0M88.2 109.8a.85 .85 0 1 0 .01 0M120.4 79.5a.85 .85 0 1 0 .01 0M90.3 85.2a.85 .85 0 1 0 .01 0M88.6 106.1a.85 .85 0 1 0 .01 0M128.3 98.6a.85 .85 0 1 0 .01 0M88.8 121.7a.85 .85 0 1 0 .01 0M99 83.7a.85 .85 0 1 0 .01 0M87.8 86.7a.85 .85 0 1 0 .01 0M88.3 82.3a.85 .85 0 1 0 .01 0M87.8 93.6a.85 .85 0 1 0 .01 0M110.6 80.6a.85 .85 0 1 0 .01 0M87.7 123a.85 .85 0 1 0 .01 0M98.4 68.9a.85 .85 0 1 0 .01 0M99.9 83.3a.85 .85 0 1 0 .01 0M88 124.9a.85 .85 0 1 0 .01 0M134.6 89.7a.85 .85 0 1 0 .01 0M96.8 93a.85 .85 0 1 0 .01 0M88.6 115.9a.85 .85 0 1 0 .01 0M87.7 83.3a.85 .85 0 1 0 .01 0M88.1 118.3a.85 .85 0 1 0 .01 0M124.5 88.4a.85 .85 0 1 0 .01 0M105.7 79.5a.85 .85 0 1 0 .01 0M88.7 80.5a.85 .85 0 1 0 .01 0M89.2 62.6a.85 .85 0 1 0 .01 0M148.4 89.1a.85 .85 0 1 0 .01 0M87.9 131.7a.85 .85 0 1 0 .01 0M103.6 84.2a.85 .85 0 1 0 .01 0M89.8 76.5a.85 .85 0 1 0 .01 0M166 115.3a.85 .85 0 1 0 .01 0M87.2 107.2a.85 .85 0 1 0 .01 0M88.3 123.5a.85 .85 0 1 0 .01 0M87.9 107.5a.85 .85 0 1 0 .01 0M120 85.4a.85 .85 0 1 0 .01 0M123.4 90.2a.85 .85 0 1 0 .01 0M90.6 102a.85 .85 0 1 0 .01 0M88.6 100.9a.85 .85 0 1 0 .01 0M89.1 92a.85 .85 0 1 0 .01 0M127.7 81.1a.85 .85 0 1 0 .01 0M103.2 86.8a.85 .85 0 1 0 .01 0M237.5 86a.85 .85 0 1 0 .01 0M88.3 90.9a.85 .85 0 1 0 .01 0M90.8 94a.85 .85 0 1 0 .01 0M194.3 87.7a.85 .85 0 1 0 .01 0M87.5 94.9a.85 .85 0 1 0 .01 0M92 82.3a.85 .85 0 1 0 .01 0M88.1 92.3a.85 .85 0 1 0 .01 0M99 89.5a.85 .85 0 1 0 .01 0M88.3 146.5a.85 .85 0 1 0 .01 0M90.1 81.8a.85 .85 0 1 0 .01 0M87.7 104.5a.85 .85 0 1 0 .01 0M91.1 83.8a.85 .85 0 1 0 .01 0M89 85.4a.85 .85 0 1 0 .01 0M124.1 86a.85 .85 0 1 0 .01 0M109.4 82.2a.85 .85 0 1 0 .01 0M119.4 97a.85 .85 0 1 0 .01 0M87.7 139.8a.85 .85 0 1 0 .01 0M93.5 81.4a.85 .85 0 1 0 .01 0M88.2 124.3a.85 .85 0 1 0 .01 0M98.7 103.1a.85 .85 0 1 0 .01 0M88.4 130.9a.85 .85 0 1 0 .01 0M89.7 89.5a.85 .85 0 1 0 .01 0M89.5 83a.85 .85 0 1 0 .01 0"/>
<path d="M87.5 145.7a.85 .85 0 1 0 .01 0M87.9 120.2a.85 .85 0 1 0 .01 0M88 111.4a.85 .85 0 1 0 .01 0M90.3 83.5a.85 .85 0 1 0 .01 0M111.3 79.2a.85 .85 0 1 0 .01 0M87.7 157.8a.85 .85 0 1 0 .01 0M87.2 140.7a.85 .85 0 1 0 .01 0M91.8 82.6a.85 .85 0 1 0 .01 0M174.7 83a.85 .85 0 1 0 .01 0M150.7 83.9a.85 .85 0 1 0 .01 0M89.2 88a.85 .85 0 1 0 .01 0M112.4 78.3a.85 .85 0 1 0 .01 0M121.6 83.8a.85 .85 0 1 0 .01 0M121.6 79.9a.85 .85 0 1 0 .01 0M87.8 115.8a.85 .85 0 1 0 .01 0M155.5 86.4a.85 .85 0 1 0 .01 0M101.2 97.9a.85 .85 0 1 0 .01 0M95.5 77.9a.85 .85 0 1 0 .01 0M97 80.9a.85 .85 0 1 0 .01 0M89 73.2a.85 .85 0 1 0 .01 0M88.5 116a.85 .85 0 1 0 .01 0M154.7 91a.85 .85 0 1 0 .01 0M165.9 85.8a.85 .85 0 1 0 .01 0M95.2 97.6a.85 .85 0 1 0 .01 0M88 85.1a.85 .85 0 1 0 .01 0M129.2 78a.85 .85 0 1 0 .01 0M91.4 60.5a.85 .85 0 1 0 .01 0M95 89.6a.85 .85 0 1 0 .01 0M92.3 75a.85 .85 0 1 0 .01 0M88.2 91.6a.85 .85 0 1 0 .01 0M249.5 92.4a.85 .85 0 1 0 .01 0M137.9 99.4a.85 .85 0 1 0 .01 0M148 87.8a.85 .85 0 1 0 .01 0M90.8 94.1a.85 .85 0 1 0 .01 0M94.7 86.7a.85 .85 0 1 0 .01 0M88.2 113.4a.85 .85 0 1 0 .01 0M104.4 74.9a.85 .85 0 1 0 .01 0M88 104.7a.85 .85 0 1 0 .01 0M93.4 95.4a.85 .85 0 1 0 .01 0M95.6 78.6a.85 .85 0 1 0 .01 0M89 99.3a.85 .85 0 1 0 .01 0M91.1 100.2a.85 .85 0 1 0 .01 0M100.8 83a.85 .85 0 1 0 .01 0M92.5 76.8a.85 .85 0 1 0 .01 0M93.2 86.7a.85 .85 0 1 0 .01 0M93.6 72a.85 .85 0 1 0 .01 0M88.4 142.1a.85 .85 0 1 0 .01 0M91 82.8a.85 .85 0 1 0 .01 0M113 90a.85 .85 0 1 0 .01 0M87.5 91.9a.85 .85 0 1 0 .01 0M109 84.7a.85 .85 0 1 0 .01 0M87.5 143a.85 .85 0 1 0 .01 0M96.4 76.3a.85 .85 0 1 0 .01 0M87.3 101.2a.85 .85 0 1 0 .01 0M98.3 72.5a.85 .85 0 1 0 .01 0M87.7 120.4a.85 .85 0 1 0 .01 0M91.3 84.2a.85 .85 0 1 0 .01 0M97.3 76a.85 .85 0 1 0 .01 0M164.6 83.6a.85 .85 0 1 0 .01 0M88.6 101.1a.85 .85 0 1 0 .01 0M114.3 75.8a.85 .85 0 1 0 .01 0M89 93.5a.85 .85 0 1 0 .01 0M139.3 84.1a.85 .85 0 1 0 .01 0M89.9 98.8a.85 .85 0 1 0 .01 0M87.7 118a.85 .85 0 1 0 .01 0M133.7 93.6a.85 .85 0 1 0 .01 0M87.7 128.3a.85 .85 0 1 0 .01 0M91.8 83.3a.85 .85 0 1 0 .01 0M121.5 91.9a.85 .85 0 1 0 .01 0M90.2 93a.85 .85 0 1 0 .01 0M87.9 105.3a.85 .85 0 1 0 .01 0M128.9 91.2a.85 .85 0 1 0 .01 0M91.8 69.6a.85 .85 0 1 0 .01 0M142.2 102.3a.85 .85 0 1 0 .01 0M123.4 86.9a.85 .85 0 1 0 .01 0M92.7 82.8a.85 .85 0 1 0 .01 0M88.9 99.1a.85 .85 0 1 0 .01 0M89.7 77a.85 .85 0 1 0 .01 0M159.9 95.3a.85 .85 0 1 0 .01 0M89.5 120.9a.85 .85 0 1 0 .01 0M88.5 85.8a.85 .85 0 1 0 .01 0M89.8 96.6a.85 .85 0 1 0 .01 0M88 133.5a.85 .85 0 1 0 .01 0M88.1 90.9a.85 .85 0 1 0 .01 0M107 101.5a.85 .85 0 1 0 .01 0M95.7 78.7a.85 .85 0 1 0 .01 0M90.3 91.4a.85 .85 0 1 0 .01 0M87.2 128.5a.85 .85 0 1 0 .01 0M87.2 101.4a.85 .85 0 1 0 .01 0M92 80.7a.85 .85 0 1 0 .01 0M202.9 93.8a.85 .85 0 1 0 .01 0M102.6 66.7a.85 .85 0 1 0 .01 0M88.2 102.6a.85 .85 0 1 0 .01 0M90.9 96.1a.85 .85 0 1 0 .01 0M99.8 93.2a.85 .85 0 1 0 .01 0M91.5 96.9a.85 .85 0 1 0 .01 0M93.7 90.4a.85 .85 0 1 0 .01 0M136.2 79.8a.85 .85 0 1 0 .01 0M97.9 74.7a.85 .85 0 1 0 .01 0M88.3 116.1a.85 .85 0 1 0 .01 0M88.4 91.1a.85 .85 0 1 0 .01 0M89.1 101.6a.85 .85 0 1 0 .01 0M104.3 81.2a.85 .85 0 1 0 .01 0M89.3 78.3a.85 .85 0 1 0 .01 0M89.7 125.9a.85 .85 0 1 0 .01 0M88.6 135.3a.85 .85 0 1 0 .01 0M89.2 115.8a.85 .85 0 1 0 .01 0M89 80.3a.85 .85 0 1 0 .01 0M103.7 81.7a.85 .85 0 1 0 .01 0M90.5 95.4a.85 .85 0 1 0 .01 0M167.3 80.8a.85 .85 0 1 0 .01 0M156 76.5a.85 .85 0 1 0 .01 0M87.7 105.5a.85 .85 0 1 0 .01 0M90 115.3a.85 .85 0 1 0 .01 0M99.5 77.3a.85 .85 0 1 0 .01 0M163.7 99.6a.85 .85 0 1 0 .01 0M87.7 137.1a.85 .85 0 1 0 .01 0M88.3 118.2a.85 .85 0 1 0 .01 0M94.2 86.8a.85 .85 0 1 0 .01 0M91.2 94.5a.85 .85 0 1 0 .01 0M90.1 92.7a.85 .85 0 1 0 .01 0M88.1 122.2a.85 .85 0 1 0 .01 0M87.6 142.4a.85 .85 0 1 0 .01 0M87.3 99.1a.85 .85 0 1 0 .01 0M87.9 92.5a.85 .85 0 1 0 .01 0M100.4 75.7a.85 .85 0 1 0 .01 0M87.4 101.9a.85 .85 0 1 0 .01 0M108.9 89.1a.85 .85 0 1 0 .01 0M117 89.7a.85 .85 0 1 0 .01 0M87.6 105.7a.85 .85 0 1 0 .01 0M107.8 74.4a.85 .85 0 1 0 .01 0M105.9 87.9a.85 .85 0 1 0 .01 0M88.5 128.4a.85 .85 0 1 0 .01 0M87.3 131a.85 .85 0 1 0 .01 0M88.8 84.2a.85 .85 0 1 0 .01 0M92.3 105.3a.85 .85 0 1 0 .01 0M89.1 114.6a.85 .85 0 1 0 .01 0M88.3 127.4a.85 .85 0 1 0 .01 0M88.2 90.5a.85 .85 0 1 0 .01 0M87.8 90.6a.85 .85 0 1 0 .01 0M114.1 81.7a.85 .85 0 1 0 .01 0M96.9 92.2a.85 .85 0 1 0 .01 0M87.8 126.1a.85 .85 0 1 0 .01 0M88 125.4a.85 .85 0 1 0 .01 0M87.5 119.4a.85 .85 0 1 0 .01 0M109.7 91.1a.85 .85 0 1 0 .01 0M90.4 83.5a.85 .85 0 1 0 .01 0M90.5 73.3a.85 .85 0 1 0 .01 0M87.8 117.7a.85 .85 0 1 0 .01 0M91.4 77.3a.85 .85 0 1 0 .01 0M89.4 122.4a.85 .85 0 1 0 .01 0M87.3 123.3a.85 .85 0 1 0 .01 0M110.8 75.9a.85 .85 0 1 0 .01 0M197.7 105.2a.85 .85 0 1 0 .01 0M98.3 93.6a.85 .85 0 1 0 .01 0M88.6 115.2a.85 .85 0 1 0 .01 0M111.4 86.9a.85 .85 0 1 0 .01 0M118 90.2a.85 .85 0 1 0 .01 0M87.8 127.7a.85 .85 0 1 0 .01 0M122.6 75.3a.85 .85 0 1 0 .01 0M87.3 147.2a.85 .85 0 1 0 .01 0M123.6 88.9a.85 .85 0 1 0 .01 0M88 136.1a.85 .85 0 1 0 .01 0M89.4 109.2a.85 .85 0 1 0 .01 0M158.6 87.5a.85 .85 0 1 0 .01 0M90.2 82a.85 .85 0 1 0 .01 0M88 121.7a.85 .85 0 1 0 .01 0M122.4 80.7a.85 .85 0 1 0 .01 0M88.2 106.9a.85 .85 0 1 0 .01 0M88.5 109.5a.85 .85 0 1 0 .01 0M99.2 98.3a.85 .85 0 1 0 .01 0M87.9 122.4a.85 .85 0 1 0 .01 0M87.7 85.7a.85 .85 0 1 0 .01 0M111.7 80.6a.85 .85 0 1 0 .01 0M99.7 97.6a.85 .85 0 1 0 .01 0M98.3 85.9a.85 .85 0 1 0 .01 0M88 112.9a.85 .85 0 1 0 .01 0M90.1 115.9a.85 .85 0 1 0 .01 0M114 85.5a.85 .85 0 1 0 .01 0M117.4 75.2a.85 .85 0 1 0 .01 0M122.2 89.6a.85 .85 0 1 0 .01 0M113.9 82a.85 .85 0 1 0 .01 0M88.1 86.7a.85 .85 0 1 0 .01 0M89.6 118.8a.85 .85 0 1 0 .01 0M89.6 80.9a.85 .85 0 1 0 .01 0M87.8 126.4a.85 .85 0 1 0 .01 0M120.8 87.2a.85 .85 0 1 0 .01 0M88 112.1a.85 .85 0 1 0 .01 0M167.8 104.3a.85 .85 0 1 0 .01 0M88.5 110.1a.85 .85 0 1 0 .01 0M91.9 86.8a.85 .85 0 1 0 .01 0M90.4 73.3a.85 .85 0 1 0 .01 0M103.9 69.9a.85 .85 0 1 0 .01 0M89 81.5a.85 .85 0 1 0 .01 0M121 85.7a.85 .85 0 1 0 .01 0M92.6 78.8a.85 .85 0 1 0 .01 0M101.5 76.6a.85 .85 0 1 0 .01 0M87.9 128.6a.85 .85 0 1 0 .01 0M88.9 125.5a.85 .85 0 1 0 .01 0M105.2 77.9a.85 .85 0 1 0 .01 0M88 72.3a.85 .85 0 1 0 .01 0M94.4 89.3a.85 .85 0 1 0 .01 0M94.1 107.7a.85 .85 0 1 0 .01 0M105.6 94.2a.85 .85 0 1 0 .01 0M135.5 81.3a.85 .85 0 1 0 .01 0M102.5 84.1a.85 .85 0 1 0 .01 0M102 78.3a.85 .85 0 1 0 .01 0M95.6 86a.85 .85 0 1 0 .01 0M116 89.1a.85 .85 0 1 0 .01 0M92.2 79.5a.85 .85 0 1 0 .01 0M129.8 97.4a.85 .85 0 1 0 .01 0M115.5 82.2a.85 .85 0 1 0 .01 0M223.2 95.2a.85 .85 0 1 0 .01 0M97.1 88.2a.85 .85 0 1 0 .01 0M103.9 85.7a.85 .85 0 1 0 .01 0M112.8 93.6a.85 .85 0 1 0 .01 0M137.6 95.9a.85 .85 0 1 0 .01 0M87.7 79.3a.85 .85 0 1 0 .01 0M88.3 66.3a.85 .85 0 1 0 .01 0M150.4 84a.85 .85 0 1 0 .01 0M87.5 72.6a.85 .85 0 1 0 .01 0M89.1 87.1a.85 .85 0 1 0 .01 0M161.1 84.3a.85 .85 0 1 0 .01 0M136.2 90a.85 .85 0 1 0 .01 0M87.7 108.5a.85 .85 0 1 0 .01 0M161.4 88.7a.85 .85 0 1 0 .01 0M88.8 97.1a.85 .85 0 1 0 .01 0M93.6 65.1a.85 .85 0 1 0 .01 0M87.5 139.7a.85 .85 0 1 0 .01 0M93.2 81.4a.85 .85 0 1 0 .01 0M164.7 83.4a.85 .85 0 1 0 .01 0M119.5 81.9a.85 .85 0 1 0 .01 0M96 84.1a.85 .85 0 1 0 .01 0M88.6 119.9a.85 .85 0 1 0 .01 0M92 74.7a.85 .85 0 1 0 .01 0M89.4 81.9a.85 .85 0 1 0 .01 0M88.2 80.9a.85 .85 0 1 0 .01 0M87.9 101.2a.85 .85 0 1 0 .01 0M122.4 75.2a.85 .85 0 1 0 .01 0M108.7 92.8a.85 .85 0 1 0 .01 0M87.4 121.2a.85 .85 0 1 0 .01 0M89.2 107.2a.85 .85 0 1 0 .01 0M92.4 85.2a.85 .85 0 1 0 .01 0M87.8 104.9a.85 .85 0 1 0 .01 0M88.1 136.7a.85 .85 0 1 0 .01 0M88.2 84.7a.85 .85 0 1 0 .01 0M88.6 89.3a.85 .85 0 1 0 .01 0M88 135.7a.85 .85 0 1 0 .01 0M93.3 88.8a.85 .85 0 1 0 .01 0M98.5 74.3a.85 .85 0 1 0 .01 0M87.4 100.5a.85 .85 0 1 0 .01 0M154.6 95a.85 .85 0 1 0 .01 0M110.7 79.4a.85 .85 0 1 0 .01 0M87.7 116.3a.85 .85 0 1 0 .01 0M105.3 76.7a.85 .85 0 1 0 .01 0M98.3 95a.85 .85 0 1 0 .01 0M88 109.4a.85 .85 0 1 0 .01 0M89.9 100a.85 .85 0 1 0 .01 0M195.8 88.6a.85 .85 0 1 0 .01 0M127 80.4a.85 .85 0 1 0 .01 0M174.3 86.7a.85 .85 0 1 0 .01 0M100.5 106.4a.85 .85 0 1 0 .01 0M145.9 85a.85 .85 0 1 0 .01 0M92.8 70.8a.85 .85 0 1 0 .01 0M94.9 83.6a.85 .85 0 1 0 .01 0M120.7 86a.85 .85 0 1 0 .01 0"/>
<path d="M91.6 91a.85 .85 0 1 0 .01 0M112.7 94.4a.85 .85 0 1 0 .01 0M88.6 107.1a.85 .85 0 1 0 .01 0M88.4 73.3a.85 .85 0 1 0 .01 0M138.6 98.2a.85 .85 0 1 0 .01 0M103.1 82.9a.85 .85 0 1 0 .01 0M88.3 126a.85 .85 0 1 0 .01 0M113.7 81.1a.85 .85 0 1 0 .01 0M90.2 82.7a.85 .85 0 1 0 .01 0M88.8 118.8a.85 .85 0 1 0 .01 0M89.5 82.2a.85 .85 0 1 0 .01 0M136.5 76a.85 .85 0 1 0 .01 0M88.7 108.4a.85 .85 0 1 0 .01 0M103.8 78.5a.85 .85 0 1 0 .01 0M89 100.4a.85 .85 0 1 0 .01 0M89.1 69a.85 .85 0 1 0 .01 0M87.3 146.9a.85 .85 0 1 0 .01 0M87.9 101.6a.85 .85 0 1 0 .01 0M104.1 83.3a.85 .85 0 1 0 .01 0M183.9 88.8a.85 .85 0 1 0 .01 0M87.6 132.4a.85 .85 0 1 0 .01 0M90.2 69.8a.85 .85 0 1 0 .01 0M88.4 90.8a.85 .85 0 1 0 .01 0M88.7 109.4a.85 .85 0 1 0 .01 0M87.9 84.8a.85 .85 0 1 0 .01 0M87.6 100.7a.85 .85 0 1 0 .01 0M88.4 77.7a.85 .85 0 1 0 .01 0M91.3 90.5a.85 .85 0 1 0 .01 0M87.9 120.2a.85 .85 0 1 0 .01 0M88.2 108a.85 .85 0 1 0 .01 0M179.9 90.4a.85 .85 0 1 0 .01 0M135.5 93.3a.85 .85 0 1 0 .01 0M88.6 71.5a.85 .85 0 1 0 .01 0M88.5 88.6a.85 .85 0 1 0 .01 0M139.7 91a.85 .85 0 1 0 .01 0M97.7 79.9a.85 .85 0 1 0 .01 0M89.3 77.8a.85 .85 0 1 0 .01 0M119.9 91.6a.85 .85 0 1 0 .01 0M132.4 86.1a.85 .85 0 1 0 .01 0M89.3 91.1a.85 .85 0 1 0 .01 0M88.2 117.5a.85 .85 0 1 0 .01 0M194.3 93.9a.85 .85 0 1 0 .01 0M87.7 124.6a.85 .85 0 1 0 .01 0M121.7 63.6a.85 .85 0 1 0 .01 0M108.3 83.4a.85 .85 0 1 0 .01 0M133.4 81.4a.85 .85 0 1 0 .01 0M89.9 77.6a.85 .85 0 1 0 .01 0M88.3 132a.85 .85 0 1 0 .01 0M96.4 83.9a.85 .85 0 1 0 .01 0M89.6 115.8a.85 .85 0 1 0 .01 0M90.2 89.8a.85 .85 0 1 0 .01 0M106.9 82a.85 .85 0 1 0 .01 0M95.5 98.3a.85 .85 0 1 0 .01 0M89.9 98.7a.85 .85 0 1 0 .01 0M88 146.7a.85 .85 0 1 0 .01 0M88.6 86a.85 .85 0 1 0 .01 0M87.9 96.8a.85 .85 0 1 0 .01 0M109 107.4a.85 .85 0 1 0 .01 0M118.7 85.3a.85 .85 0 1 0 .01 0M93.7 85.9a.85 .85 0 1 0 .01 0M94.2 70a.85 .85 0 1 0 .01 0M87.8 117a.85 .85 0 1 0 .01 0M89.2 130.4a.85 .85 0 1 0 .01 0M175.5 88.1a.85 .85 0 1 0 .01 0M87.6 107.7a.85 .85 0 1 0 .01 0M102.1 83.3a.85 .85 0 1 0 .01 0M123.8 102.9a.85 .85 0 1 0 .01 0M109.6 85.3a.85 .85 0 1 0 .01 0M209.4 100a.85 .85 0 1 0 .01 0M120.4 86.4a.85 .85 0 1 0 .01 0M88 95.1a.85 .85 0 1 0 .01 0M88.3 77.5a.85 .85 0 1 0 .01 0M121.8 87.9a.85 .85 0 1 0 .01 0M107.8 77.9a.85 .85 0 1 0 .01 0M88.6 126.9a.85 .85 0 1 0 .01 0M100.9 75.6a.85 .85 0 1 0 .01 0M87.7 144.6a.85 .85 0 1 0 .01 0M88.1 140.3a.85 .85 0 1 0 .01 0M96.3 76.1a.85 .85 0 1 0 .01 0M131.1 92a.85 .85 0 1 0 .01 0M100.4 90.9a.85 .85 0 1 0 .01 0M125 85.7a.85 .85 0 1 0 .01 0M213.1 90.8a.85 .85 0 1 0 .01 0M104.3 80.5a.85 .85 0 1 0 .01 0M168.8 84.7a.85 .85 0 1 0 .01 0M88.4 121.1a.85 .85 0 1 0 .01 0M87.7 127a.85 .85 0 1 0 .01 0M158.8 88.6a.85 .85 0 1 0 .01 0M87.9 117.4a.85 .85 0 1 0 .01 0M142.4 78.1a.85 .85 0 1 0 .01 0M125.1 97.7a.85 .85 0 1 0 .01 0M94.1 86.3a.85 .85 0 1 0 .01 0M88.4 120.1a.85 .85 0 1 0 .01 0M92.2 79.4a.85 .85 0 1 0 .01 0M89.5 76.2a.85 .85 0 1 0 .01 0M165.2 89.8a.85 .85 0 1 0 .01 0M112.3 80.7a.85 .85 0 1 0 .01 0M88 131.6a.85 .85 0 1 0 .01 0M89.6 81.8a.85 .85 0 1 0 .01 0M88.1 112.4a.85 .85 0 1 0 .01 0M87.7 118.5a.85 .85 0 1 0 .01 0M89 121.9a.85 .85 0 1 0 .01 0M194.5 82.8a.85 .85 0 1 0 .01 0M88.6 121.4a.85 .85 0 1 0 .01 0M88.6 98.9a.85 .85 0 1 0 .01 0M102.8 75.9a.85 .85 0 1 0 .01 0M90.3 84a.85 .85 0 1 0 .01 0M100.3 87.9a.85 .85 0 1 0 .01 0M103.9 91.7a.85 .85 0 1 0 .01 0M136.3 81.6a.85 .85 0 1 0 .01 0M89 107.6a.85 .85 0 1 0 .01 0M88.5 97.5a.85 .85 0 1 0 .01 0M89.2 79.3a.85 .85 0 1 0 .01 0M87.8 88.8a.85 .85 0 1 0 .01 0M87.7 92.9a.85 .85 0 1 0 .01 0M89 128.8a.85 .85 0 1 0 .01 0M88.2 111.3a.85 .85 0 1 0 .01 0M111.9 86.7a.85 .85 0 1 0 .01 0M89.7 89.9a.85 .85 0 1 0 .01 0M87.4 129.8a.85 .85 0 1 0 .01 0M105.8 77.1a.85 .85 0 1 0 .01 0M106.6 89a.85 .85 0 1 0 .01 0M87.4 134a.85 .85 0 1 0 .01 0M125.6 89.8a.85 .85 0 1 0 .01 0M87.9 115.8a.85 .85 0 1 0 .01 0M117.7 82a.85 .85 0 1 0 .01 0M90.8 100.8a.85 .85 0 1 0 .01 0M87.8 130.7a.85 .85 0 1 0 .01 0M88.3 117.1a.85 .85 0 1 0 .01 0M106.8 87.4a.85 .85 0 1 0 .01 0M108 89.2a.85 .85 0 1 0 .01 0M87.9 125.9a.85 .85 0 1 0 .01 0M92.3 85.8a.85 .85 0 1 0 .01 0M93.8 86.6a.85 .85 0 1 0 .01 0M119.6 84.1a.85 .85 0 1 0 .01 0M122.4 87a.85 .85 0 1 0 .01 0M89.1 115.5a.85 .85 0 1 0 .01 0M143.8 84.1a.85 .85 0 1 0 .01 0M87.9 147.7a.85 .85 0 1 0 .01 0M87.3 97a.85 .85 0 1 0 .01 0M90.9 76.8a.85 .85 0 1 0 .01 0M88.2 84a.85 .85 0 1 0 .01 0M99.6 84.5a.85 .85 0 1 0 .01 0M112.9 93.2a.85 .85 0 1 0 .01 0M99.3 86.5a.85 .85 0 1 0 .01 0M98.8 85.3a.85 .85 0 1 0 .01 0M88.4 97.6a.85 .85 0 1 0 .01 0M87.7 87.8a.85 .85 0 1 0 .01 0M88.1 105.4a.85 .85 0 1 0 .01 0M107.4 81.3a.85 .85 0 1 0 .01 0M89.8 124.4a.85 .85 0 1 0 .01 0M88.1 112.7a.85 .85 0 1 0 .01 0M88.2 97.8a.85 .85 0 1 0 .01 0M95.6 73.5a.85 .85 0 1 0 .01 0M89.8 99.8a.85 .85 0 1 0 .01 0M88.1 88a.85 .85 0 1 0 .01 0M87.8 143.1a.85 .85 0 1 0 .01 0M126.3 79.2a.85 .85 0 1 0 .01 0M111.5 79.6a.85 .85 0 1 0 .01 0M92.3 92a.85 .85 0 1 0 .01 0M89.8 90.9a.85 .85 0 1 0 .01 0M88.3 138.6a.85 .85 0 1 0 .01 0M110.5 77.9a.85 .85 0 1 0 .01 0M91.3 102.1a.85 .85 0 1 0 .01 0M242.6 94.9a.85 .85 0 1 0 .01 0M96 78.4a.85 .85 0 1 0 .01 0M88.3 100.7a.85 .85 0 1 0 .01 0M90.9 76.6a.85 .85 0 1 0 .01 0M203.6 88.4a.85 .85 0 1 0 .01 0M103.5 87.5a.85 .85 0 1 0 .01 0M102.4 80.9a.85 .85 0 1 0 .01 0M88.2 75.4a.85 .85 0 1 0 .01 0M90.6 87.8a.85 .85 0 1 0 .01 0M88 124.5a.85 .85 0 1 0 .01 0M120.2 96.5a.85 .85 0 1 0 .01 0M87.9 124.8a.85 .85 0 1 0 .01 0M88 115.5a.85 .85 0 1 0 .01 0M93.9 109.6a.85 .85 0 1 0 .01 0M133.4 90.1a.85 .85 0 1 0 .01 0M118.1 85.9a.85 .85 0 1 0 .01 0M109 77.1a.85 .85 0 1 0 .01 0M88.7 81.4a.85 .85 0 1 0 .01 0M108.2 81.2a.85 .85 0 1 0 .01 0M97.6 81.8a.85 .85 0 1 0 .01 0M138.5 110.1a.85 .85 0 1 0 .01 0M88.3 96.1a.85 .85 0 1 0 .01 0M88.3 135.5a.85 .85 0 1 0 .01 0M92 90.9a.85 .85 0 1 0 .01 0M175.4 89.8a.85 .85 0 1 0 .01 0M96.6 74.5a.85 .85 0 1 0 .01 0M90 106.4a.85 .85 0 1 0 .01 0M91.6 82.5a.85 .85 0 1 0 .01 0M88.5 86.2a.85 .85 0 1 0 .01 0M123.8 75.6a.85 .85 0 1 0 .01 0M88.3 80.9a.85 .85 0 1 0 .01 0M88.8 101.8a.85 .85 0 1 0 .01 0M128.4 97.3a.85 .85 0 1 0 .01 0M95.6 84.7a.85 .85 0 1 0 .01 0M102.8 88.6a.85 .85 0 1 0 .01 0M107.1 76.8a.85 .85 0 1 0 .01 0M88.3 71.7a.85 .85 0 1 0 .01 0M87.6 120.1a.85 .85 0 1 0 .01 0M115.1 82.5a.85 .85 0 1 0 .01 0M101.3 86.5a.85 .85 0 1 0 .01 0M90 84.8a.85 .85 0 1 0 .01 0M87.6 122.3a.85 .85 0 1 0 .01 0M108.4 83.2a.85 .85 0 1 0 .01 0M148.1 80a.85 .85 0 1 0 .01 0M90.2 90.4a.85 .85 0 1 0 .01 0M130.3 85.1a.85 .85 0 1 0 .01 0M87.5 113.5a.85 .85 0 1 0 .01 0M103.4 99.4a.85 .85 0 1 0 .01 0M95.1 85.2a.85 .85 0 1 0 .01 0M88.5 128a.85 .85 0 1 0 .01 0M97.1 80a.85 .85 0 1 0 .01 0M102.1 87.9a.85 .85 0 1 0 .01 0M89.6 86a.85 .85 0 1 0 .01 0M101.4 104.8a.85 .85 0 1 0 .01 0M87.8 136.4a.85 .85 0 1 0 .01 0M120.8 89.7a.85 .85 0 1 0 .01 0M87.9 145.2a.85 .85 0 1 0 .01 0M88.6 97.7a.85 .85 0 1 0 .01 0M88.4 95a.85 .85 0 1 0 .01 0M93.9 93.6a.85 .85 0 1 0 .01 0M175 90.8a.85 .85 0 1 0 .01 0M90 75.4a.85 .85 0 1 0 .01 0M118.6 80.1a.85 .85 0 1 0 .01 0M88.4 121.8a.85 .85 0 1 0 .01 0M117.9 85.6a.85 .85 0 1 0 .01 0M87.6 119.9a.85 .85 0 1 0 .01 0M88.6 85.7a.85 .85 0 1 0 .01 0M103.4 83.7a.85 .85 0 1 0 .01 0M96.5 91a.85 .85 0 1 0 .01 0M91.4 79.8a.85 .85 0 1 0 .01 0M105.9 89.8a.85 .85 0 1 0 .01 0M87.9 87.4a.85 .85 0 1 0 .01 0M109.5 91a.85 .85 0 1 0 .01 0M100.6 81.7a.85 .85 0 1 0 .01 0M87.9 128.9a.85 .85 0 1 0 .01 0M87.9 104.4a.85 .85 0 1 0 .01 0M88.6 111.9a.85 .85 0 1 0 .01 0M89.4 103.4a.85 .85 0 1 0 .01 0M95.6 86.1a.85 .85 0 1 0 .01 0M87.5 131.1a.85 .85 0 1 0 .01 0M88.6 129.2a.85 .85 0 1 0 .01 0M94.7 81.3a.85 .85 0 1 0 .01 0M87.9 82.2a.85 .85 0 1 0 .01 0M90.6 103.2a.85 .85 0 1 0 .01 0M90.8 90.2a.85 .85 0 1 0 .01 0M95 82.2a.85 .85 0 1 0 .01 0M87.4 116a.85 .85 0 1 0 .01 0M109.7 74.3a.85 .85 0 1 0 .01 0M88 125.6a.85 .85 0 1 0 .01 0M92 77.5a.85 .85 0 1 0 .01 0M98.8 72.7a.85 .85 0 1 0 .01 0M88.4 132.6a.85 .85 0 1 0 .01 0M92 85.2a.85 .85 0 1 0 .01 0M94.6 84.3a.85 .85 0 1 0 .01 0M88 144.6a.85 .85 0 1 0 .01 0M87.9 116a.85 .85 0 1 0 .01 0M87.6 119.3a.85 .85 0 1 0 .01 0M104.6 88.4a.85 .85 0 1 0 .01 0M87.4 120.6a.85 .85 0 1 0 .01 0M111.2 84a.85 .85 0 1 0 .01 0M88.3 107a.85 .85 0 1 0 .01 0M88.5 133.1a.85 .85 0 1 0 .01 0"/>
<path d="M161.2 83.2a.85 .85 0 1 0 .01 0M125.3 77.6a.85 .85 0 1 0 .01 0M190.8 94.7a.85 .85 0 1 0 .01 0M91.2 74.5a.85 .85 0 1 0 .01 0M108.7 89.8a.85 .85 0 1 0 .01 0M89.5 114a.85 .85 0 1 0 .01 0M157.3 87.9a.85 .85 0 1 0 .01 0M88.9 82.3a.85 .85 0 1 0 .01 0M87.8 133.1a.85 .85 0 1 0 .01 0M87.5 143.2a.85 .85 0 1 0 .01 0M96.8 84.8a.85 .85 0 1 0 .01 0M93.7 80.1a.85 .85 0 1 0 .01 0M112.5 88.7a.85 .85 0 1 0 .01 0M88 106.2a.85 .85 0 1 0 .01 0M88.1 93.9a.85 .85 0 1 0 .01 0M125.7 85.8a.85 .85 0 1 0 .01 0M95.1 82.9a.85 .85 0 1 0 .01 0M88 116.8a.85 .85 0 1 0 .01 0M222.8 84.4a.85 .85 0 1 0 .01 0M152.6 89.8a.85 .85 0 1 0 .01 0M97.9 79.8a.85 .85 0 1 0 .01 0M91.5 98.9a.85 .85 0 1 0 .01 0M87.8 73.8a.85 .85 0 1 0 .01 0M108.4 84.6a.85 .85 0 1 0 .01 0M89.5 108.5a.85 .85 0 1 0 .01 0M141.7 87a.85 .85 0 1 0 .01 0M117.4 92.4a.85 .85 0 1 0 .01 0M90.6 95.5a.85 .85 0 1 0 .01 0M112.3 86.6a.85 .85 0 1 0 .01 0M87.6 138.8a.85 .85 0 1 0 .01 0M88 128.3a.85 .85 0 1 0 .01 0M101 86.2a.85 .85 0 1 0 .01 0M88.1 118.7a.85 .85 0 1 0 .01 0M87.8 105.4a.85 .85 0 1 0 .01 0M94 90.7a.85 .85 0 1 0 .01 0M88.3 98.9a.85 .85 0 1 0 .01 0M124 93a.85 .85 0 1 0 .01 0M88 134.9a.85 .85 0 1 0 .01 0M87.5 111.3a.85 .85 0 1 0 .01 0M87.6 125.8a.85 .85 0 1 0 .01 0M228 97.2a.85 .85 0 1 0 .01 0M90.8 111.9a.85 .85 0 1 0 .01 0M193.6 89.4a.85 .85 0 1 0 .01 0M102.1 85.1a.85 .85 0 1 0 .01 0M90 88.5a.85 .85 0 1 0 .01 0M89.8 63.7a.85 .85 0 1 0 .01 0M88.8 90.9a.85 .85 0 1 0 .01 0M106.9 80a.85 .85 0 1 0 .01 0M123.8 110.2a.85 .85 0 1 0 .01 0M125.1 88a.85 .85 0 1 0 .01 0M94.1 89.1a.85 .85 0 1 0 .01 0M89.7 121.2a.85 .85 0 1 0 .01 0M117.6 87.4a.85 .85 0 1 0 .01 0M127.2 94.3a.85 .85 0 1 0 .01 0M92.5 66.9a.85 .85 0 1 0 .01 0M88.2 121.3a.85 .85 0 1 0 .01 0M88.1 111.9a.85 .85 0 1 0 .01 0M97.1 81a.85 .85 0 1 0 .01 0M88.8 119.5a.85 .85 0 1 0 .01 0M88.8 130.8a.85 .85 0 1 0 .01 0M88.5 84.6a.85 .85 0 1 0 .01 0M101.5 84.5a.85 .85 0 1 0 .01 0M88.8 89.7a.85 .85 0 1 0 .01 0M111.8 71.3a.85 .85 0 1 0 .01 0M87.9 127.5a.85 .85 0 1 0 .01 0M87.9 130.5a.85 .85 0 1 0 .01 0M88.5 89.4a.85 .85 0 1 0 .01 0M92.2 84.4a.85 .85 0 1 0 .01 0M88.2 116.6a.85 .85 0 1 0 .01 0M87.6 116.5a.85 .85 0 1 0 .01 0M129.2 90.6a.85 .85 0 1 0 .01 0M111.8 69.6a.85 .85 0 1 0 .01 0M90.2 99.7a.85 .85 0 1 0 .01 0M87.6 125.3a.85 .85 0 1 0 .01 0M87.9 133.3a.85 .85 0 1 0 .01 0M89.9 103.4a.85 .85 0 1 0 .01 0M118.2 81.7a.85 .85 0 1 0 .01 0M89 107.8a.85 .85 0 1 0 .01 0M109.8 85.2a.85 .85 0 1 0 .01 0M104.5 75.7a.85 .85 0 1 0 .01 0M142.6 87.7a.85 .85 0 1 0 .01 0M88 131.5a.85 .85 0 1 0 .01 0M90 72.9a.85 .85 0 1 0 .01 0M87.9 91.9a.85 .85 0 1 0 .01 0M95 64.4a.85 .85 0 1 0 .01 0M115.2 90.3a.85 .85 0 1 0 .01 0M131.9 75.4a.85 .85 0 1 0 .01 0M89.8 83.5a.85 .85 0 1 0 .01 0M119.4 81.5a.85 .85 0 1 0 .01 0M107.2 90.9a.85 .85 0 1 0 .01 0M216.1 88.5a.85 .85 0 1 0 .01 0M87.8 101.5a.85 .85 0 1 0 .01 0M99.3 92.7a.85 .85 0 1 0 .01 0M121.7 78a.85 .85 0 1 0 .01 0M149.7 80.9a.85 .85 0 1 0 .01 0M87.3 88.4a.85 .85 0 1 0 .01 0M89.9 84.9a.85 .85 0 1 0 .01 0M88.2 126.4a.85 .85 0 1 0 .01 0M90.5 74a.85 .85 0 1 0 .01 0M122.9 87.2a.85 .85 0 1 0 .01 0M114.5 84.2a.85 .85 0 1 0 .01 0M87.8 80a.85 .85 0 1 0 .01 0M109.4 89.7a.85 .85 0 1 0 .01 0M159.9 81.5a.85 .85 0 1 0 .01 0M90.8 91.2a.85 .85 0 1 0 .01 0M99.8 79.6a.85 .85 0 1 0 .01 0M94.3 83.3a.85 .85 0 1 0 .01 0M156.2 97a.85 .85 0 1 0 .01 0M88.5 148a.85 .85 0 1 0 .01 0M87.6 124.3a.85 .85 0 1 0 .01 0M88.9 83.8a.85 .85 0 1 0 .01 0M88.5 108.3a.85 .85 0 1 0 .01 0M100.3 97.7a.85 .85 0 1 0 .01 0M101.2 80.7a.85 .85 0 1 0 .01 0M87.9 108a.85 .85 0 1 0 .01 0M89.6 85.9a.85 .85 0 1 0 .01 0M88.2 82a.85 .85 0 1 0 .01 0M95.1 85.2a.85 .85 0 1 0 .01 0M88.8 90.2a.85 .85 0 1 0 .01 0M87.9 117a.85 .85 0 1 0 .01 0M88.4 110.7a.85 .85 0 1 0 .01 0M131.2 82.6a.85 .85 0 1 0 .01 0M88.2 89.5a.85 .85 0 1 0 .01 0M113.2 91.5a.85 .85 0 1 0 .01 0M87.5 74.3a.85 .85 0 1 0 .01 0M106.9 80.6a.85 .85 0 1 0 .01 0M99.7 78.2a.85 .85 0 1 0 .01 0M183.8 79.8a.85 .85 0 1 0 .01 0M130.5 96.5a.85 .85 0 1 0 .01 0M133.7 86.6a.85 .85 0 1 0 .01 0M109.4 89.3a.85 .85 0 1 0 .01 0M111.7 81.2a.85 .85 0 1 0 .01 0M104.2 88.7a.85 .85 0 1 0 .01 0M116.8 69.9a.85 .85 0 1 0 .01 0M95.6 89.5a.85 .85 0 1 0 .01 0M203.3 91.3a.85 .85 0 1 0 .01 0M131.8 92.6a.85 .85 0 1 0 .01 0M88.7 91.9a.85 .85 0 1 0 .01 0M88.2 80.9a.85 .85 0 1 0 .01 0M89.3 96.9a.85 .85 0 1 0 .01 0M89.8 106.5a.85 .85 0 1 0 .01 0M130.6 89.6a.85 .85 0 1 0 .01 0M101.1 72.5a.85 .85 0 1 0 .01 0M184.6 84.1a.85 .85 0 1 0 .01 0M103.8 73a.85 .85 0 1 0 .01 0M88.1 94.3a.85 .85 0 1 0 .01 0M91.6 88.3a.85 .85 0 1 0 .01 0M140.7 79.6a.85 .85 0 1 0 .01 0M99.5 79.6a.85 .85 0 1 0 .01 0M92.5 96.7a.85 .85 0 1 0 .01 0M102.9 81.2a.85 .85 0 1 0 .01 0M88.8 115.6a.85 .85 0 1 0 .01 0M88.4 118a.85 .85 0 1 0 .01 0M90.1 99.8a.85 .85 0 1 0 .01 0M88.9 62.7a.85 .85 0 1 0 .01 0M93 73a.85 .85 0 1 0 .01 0M196.5 109.5a.85 .85 0 1 0 .01 0M93 83.1a.85 .85 0 1 0 .01 0M88.4 89.6a.85 .85 0 1 0 .01 0M97.6 79.5a.85 .85 0 1 0 .01 0M105.1 83.1a.85 .85 0 1 0 .01 0M110.3 83.8a.85 .85 0 1 0 .01 0M87.7 103.2a.85 .85 0 1 0 .01 0M87.7 97.7a.85 .85 0 1 0 .01 0M88.5 82.4a.85 .85 0 1 0 .01 0M132.9 100a.85 .85 0 1 0 .01 0M88 131.6a.85 .85 0 1 0 .01 0M133.4 88.1a.85 .85 0 1 0 .01 0M90 86.9a.85 .85 0 1 0 .01 0M101.3 89.5a.85 .85 0 1 0 .01 0M100.5 81.2a.85 .85 0 1 0 .01 0M88.3 141.7a.85 .85 0 1 0 .01 0M89 75a.85 .85 0 1 0 .01 0M101.2 81.5a.85 .85 0 1 0 .01 0M109.7 90.9a.85 .85 0 1 0 .01 0M102.3 102.9a.85 .85 0 1 0 .01 0M88.4 96.3a.85 .85 0 1 0 .01 0M144.4 83.9a.85 .85 0 1 0 .01 0M94.9 84.5a.85 .85 0 1 0 .01 0M89.5 89.5a.85 .85 0 1 0 .01 0M88.7 116.9a.85 .85 0 1 0 .01 0M88.4 90.8a.85 .85 0 1 0 .01 0M117.4 82.7a.85 .85 0 1 0 .01 0M179.4 87.3a.85 .85 0 1 0 .01 0M87.1 94.8a.85 .85 0 1 0 .01 0M89 90.7a.85 .85 0 1 0 .01 0M108.9 77.5a.85 .85 0 1 0 .01 0M119 92.5a.85 .85 0 1 0 .01 0M88 91.5a.85 .85 0 1 0 .01 0M88.7 88a.85 .85 0 1 0 .01 0M209.2 81.3a.85 .85 0 1 0 .01 0M105.5 92.8a.85 .85 0 1 0 .01 0M89.5 81.3a.85 .85 0 1 0 .01 0M109.8 106.1a.85 .85 0 1 0 .01 0M109.4 80.4a.85 .85 0 1 0 .01 0M89.9 108.1a.85 .85 0 1 0 .01 0M147.8 73.4a.85 .85 0 1 0 .01 0M89.8 94a.85 .85 0 1 0 .01 0M88.4 84.8a.85 .85 0 1 0 .01 0M155.8 83.4a.85 .85 0 1 0 .01 0M91.1 84.2a.85 .85 0 1 0 .01 0M87.9 123.7a.85 .85 0 1 0 .01 0M115.3 87.3a.85 .85 0 1 0 .01 0M95.4 81.4a.85 .85 0 1 0 .01 0M89.5 90.8a.85 .85 0 1 0 .01 0M155.5 87.4a.85 .85 0 1 0 .01 0M134.7 79.4a.85 .85 0 1 0 .01 0M97.8 98.9a.85 .85 0 1 0 .01 0M88.6 128a.85 .85 0 1 0 .01 0M89.7 105.4a.85 .85 0 1 0 .01 0M105.6 86.1a.85 .85 0 1 0 .01 0M97.9 85.7a.85 .85 0 1 0 .01 0M92 89.1a.85 .85 0 1 0 .01 0M219 85.9a.85 .85 0 1 0 .01 0M87.8 134.9a.85 .85 0 1 0 .01 0M88 118.9a.85 .85 0 1 0 .01 0M87.8 135.6a.85 .85 0 1 0 .01 0M118.5 87.1a.85 .85 0 1 0 .01 0M88.9 123.5a.85 .85 0 1 0 .01 0M87.2 91.2a.85 .85 0 1 0 .01 0M133.7 77.3a.85 .85 0 1 0 .01 0M88.2 125.4a.85 .85 0 1 0 .01 0M100.3 81.6a.85 .85 0 1 0 .01 0M103.7 90.1a.85 .85 0 1 0 .01 0M239 85.2a.85 .85 0 1 0 .01 0M120.6 94.6a.85 .85 0 1 0 .01 0M88.4 127.7a.85 .85 0 1 0 .01 0M91.4 89.1a.85 .85 0 1 0 .01 0M89.1 78.8a.85 .85 0 1 0 .01 0M121.7 89.6a.85 .85 0 1 0 .01 0M87.5 165.3a.85 .85 0 1 0 .01 0M90.3 80.4a.85 .85 0 1 0 .01 0M172.6 87.9a.85 .85 0 1 0 .01 0M103.5 80.1a.85 .85 0 1 0 .01 0M88.4 109.5a.85 .85 0 1 0 .01 0M91.5 108.6a.85 .85 0 1 0 .01 0M88.8 91.3a.85 .85 0 1 0 .01 0M89.5 104.2a.85 .85 0 1 0 .01 0M90.1 99.2a.85 .85 0 1 0 .01 0M87.5 103a.85 .85 0 1 0 .01 0M135.7 88.4a.85 .85 0 1 0 .01 0M100.5 94.3a.85 .85 0 1 0 .01 0M88.8 94.8a.85 .85 0 1 0 .01 0M89.1 107.7a.85 .85 0 1 0 .01 0M132.2 87.6a.85 .85 0 1 0 .01 0M96.8 83.2a.85 .85 0 1 0 .01 0M88.5 125.4a.85 .85 0 1 0 .01 0M89.3 98.7a.85 .85 0 1 0 .01 0M127.9 89.7a.85 .85 0 1 0 .01 0M90 100a.85 .85 0 1 0 .01 0M120.6 88.1a.85 .85 0 1 0 .01 0M88.3 87.1a.85 .85 0 1 0 .01 0M88 77.1a.85 .85 0 1 0 .01 0M92.1 66.3a.85 .85 0 1 0 .01 0M92.2 68.3a.85 .85 0 1 0 .01 0M123.1 85.6a.85 .85 0 1 0 .01 0M94.5 94.6a.85 .85 0 1 0 .01 0M202.7 83.1a.85 .85 0 1 0 .01 0M88.3 84a.85 .85 0 1 0 .01 0M119.6 82.5a.85 .85 0 1 0 .01 0M88.4 107.7a.85 .85 0 1 0 .01 0M87.9 111.9a.85 .85 0 1 0 .01 0M101.6 78.6a.85 .85 0 1 0 .01 0M88 118.1a.85 .85 0 1 0 .01 0M95.7 89.9a.85 .85 0 1 0 .01 0M88.2 130.3a.85 .85 0 1 0 .01 0"/>
<path d="M90.6 86a.85 .85 0 1 0 .01 0M88.1 122.1a.85 .85 0 1 0 .01 0M87.3 123a.85 .85 0 1 0 .01 0M87.8 133.8a.85 .85 0 1 0 .01 0M108 85.2a.85 .85 0 1 0 .01 0M90.5 85.8a.85 .85 0 1 0 .01 0M90.7 91.3a.85 .85 0 1 0 .01 0M92 114.1a.85 .85 0 1 0 .01 0M90.9 91.7a.85 .85 0 1 0 .01 0M87.8 123.8a.85 .85 0 1 0 .01 0M88.9 97.9a.85 .85 0 1 0 .01 0M113.2 89.1a.85 .85 0 1 0 .01 0M92.4 93.7a.85 .85 0 1 0 .01 0M99.6 85.4a.85 .85 0 1 0 .01 0M88.2 92a.85 .85 0 1 0 .01 0M93.7 76.1a.85 .85 0 1 0 .01 0M91.9 80.7a.85 .85 0 1 0 .01 0M89.8 101.4a.85 .85 0 1 0 .01 0M105 87.6a.85 .85 0 1 0 .01 0M101.4 88.1a.85 .85 0 1 0 .01 0M97.1 92.4a.85 .85 0 1 0 .01 0M92 93.3a.85 .85 0 1 0 .01 0M98.2 96.2a.85 .85 0 1 0 .01 0M120 91.3a.85 .85 0 1 0 .01 0M91.4 91.7a.85 .85 0 1 0 .01 0M87.6 113.3a.85 .85 0 1 0 .01 0M91.7 86.1a.85 .85 0 1 0 .01 0M153.1 81.9a.85 .85 0 1 0 .01 0M89.8 100.7a.85 .85 0 1 0 .01 0M89 68.3a.85 .85 0 1 0 .01 0M93 84.7a.85 .85 0 1 0 .01 0M93 71.2a.85 .85 0 1 0 .01 0M88.2 129.4a.85 .85 0 1 0 .01 0M90.1 167.4a.85 .85 0 1 0 .01 0M89.1 104.7a.85 .85 0 1 0 .01 0M88.6 85.6a.85 .85 0 1 0 .01 0M88.8 113.7a.85 .85 0 1 0 .01 0M88.8 89.8a.85 .85 0 1 0 .01 0M107.4 84.6a.85 .85 0 1 0 .01 0M131.1 81.2a.85 .85 0 1 0 .01 0M87.4 107.2a.85 .85 0 1 0 .01 0M93 83.9a.85 .85 0 1 0 .01 0M116.3 83a.85 .85 0 1 0 .01 0M135.8 79.5a.85 .85 0 1 0 .01 0M95.7 85.9a.85 .85 0 1 0 .01 0M89.2 85.8a.85 .85 0 1 0 .01 0M103.6 86a.85 .85 0 1 0 .01 0M147 91.9a.85 .85 0 1 0 .01 0M114.4 89.1a.85 .85 0 1 0 .01 0M98.2 85.1a.85 .85 0 1 0 .01 0M99.2 78.9a.85 .85 0 1 0 .01 0M132.8 89.7a.85 .85 0 1 0 .01 0M149.5 80.4a.85 .85 0 1 0 .01 0M88.8 119.5a.85 .85 0 1 0 .01 0M90.6 80a.85 .85 0 1 0 .01 0M108.6 86.8a.85 .85 0 1 0 .01 0M94.6 116.8a.85 .85 0 1 0 .01 0M88.2 119.5a.85 .85 0 1 0 .01 0M132.5 98.9a.85 .85 0 1 0 .01 0M89.4 98.5a.85 .85 0 1 0 .01 0M91.3 79.4a.85 .85 0 1 0 .01 0M110 82.1a.85 .85 0 1 0 .01 0M90 83.1a.85 .85 0 1 0 .01 0M88.3 136.3a.85 .85 0 1 0 .01 0M88.5 82a.85 .85 0 1 0 .01 0M109.6 86.8a.85 .85 0 1 0 .01 0M131.9 91.7a.85 .85 0 1 0 .01 0M88.8 111a.85 .85 0 1 0 .01 0M108.8 85.7a.85 .85 0 1 0 .01 0M89.7 107a.85 .85 0 1 0 .01 0M147.9 85.6a.85 .85 0 1 0 .01 0M92.7 85.2a.85 .85 0 1 0 .01 0M131.2 89.1a.85 .85 0 1 0 .01 0M103.6 82a.85 .85 0 1 0 .01 0M88.7 102.1a.85 .85 0 1 0 .01 0M87.9 104.1a.85 .85 0 1 0 .01 0M87.7 125.9a.85 .85 0 1 0 .01 0M89.2 87.3a.85 .85 0 1 0 .01 0M88.7 83.2a.85 .85 0 1 0 .01 0M87.8 76a.85 .85 0 1 0 .01 0M97.8 84.6a.85 .85 0 1 0 .01 0M133.3 86.3a.85 .85 0 1 0 .01 0M170.5 83a.85 .85 0 1 0 .01 0M108.9 82.5a.85 .85 0 1 0 .01 0M94.1 73a.85 .85 0 1 0 .01 0M150.4 93a.85 .85 0 1 0 .01 0M87.9 149.8a.85 .85 0 1 0 .01 0M88.5 100.4a.85 .85 0 1 0 .01 0M88 127.3a.85 .85 0 1 0 .01 0M97.8 79.8a.85 .85 0 1 0 .01 0M91.5 68.3a.85 .85 0 1 0 .01 0M89.4 89.2a.85 .85 0 1 0 .01 0M87.7 100.6a.85 .85 0 1 0 .01 0M88.7 131.7a.85 .85 0 1 0 .01 0M175.5 96.4a.85 .85 0 1 0 .01 0M88.2 98.3a.85 .85 0 1 0 .01 0M88.8 115.3a.85 .85 0 1 0 .01 0M111.5 95.1a.85 .85 0 1 0 .01 0M91.2 79.6a.85 .85 0 1 0 .01 0M112.3 83.7a.85 .85 0 1 0 .01 0M89.4 98.3a.85 .85 0 1 0 .01 0M111.8 84.8a.85 .85 0 1 0 .01 0M109.2 91.1a.85 .85 0 1 0 .01 0M96.1 75.6a.85 .85 0 1 0 .01 0M88.4 102.8a.85 .85 0 1 0 .01 0M101.5 92.1a.85 .85 0 1 0 .01 0M87.8 91a.85 .85 0 1 0 .01 0M88.1 140.8a.85 .85 0 1 0 .01 0M93.7 95.5a.85 .85 0 1 0 .01 0M88.4 106.6a.85 .85 0 1 0 .01 0M88.2 125.3a.85 .85 0 1 0 .01 0M229.9 94.6a.85 .85 0 1 0 .01 0M90.3 86.7a.85 .85 0 1 0 .01 0M90.3 76.9a.85 .85 0 1 0 .01 0M91.5 87.4a.85 .85 0 1 0 .01 0M94.4 87.9a.85 .85 0 1 0 .01 0M91 81a.85 .85 0 1 0 .01 0M87.9 92.1a.85 .85 0 1 0 .01 0M91.8 86.7a.85 .85 0 1 0 .01 0M94.8 79.8a.85 .85 0 1 0 .01 0M90.4 90.1a.85 .85 0 1 0 .01 0M88.8 74.8a.85 .85 0 1 0 .01 0M140.9 83.3a.85 .85 0 1 0 .01 0M87.1 115.1a.85 .85 0 1 0 .01 0M103.2 82.2a.85 .85 0 1 0 .01 0M92.7 102a.85 .85 0 1 0 .01 0M207.7 78.3a.85 .85 0 1 0 .01 0M88.3 103.5a.85 .85 0 1 0 .01 0M101.2 82.6a.85 .85 0 1 0 .01 0M115 79.3a.85 .85 0 1 0 .01 0M94 90.7a.85 .85 0 1 0 .01 0M109.2 88.1a.85 .85 0 1 0 .01 0M101.5 89.2a.85 .85 0 1 0 .01 0M89.7 114.3a.85 .85 0 1 0 .01 0M101 73.5a.85 .85 0 1 0 .01 0M89.9 89.2a.85 .85 0 1 0 .01 0M95.9 96.4a.85 .85 0 1 0 .01 0M88.6 85.3a.85 .85 0 1 0 .01 0M89.2 108.2a.85 .85 0 1 0 .01 0M88.6 73.1a.85 .85 0 1 0 .01 0M109.1 83.1a.85 .85 0 1 0 .01 0M114.1 98.2a.85 .85 0 1 0 .01 0M116.2 82.3a.85 .85 0 1 0 .01 0M88.6 109.6a.85 .85 0 1 0 .01 0M97.7 75.2a.85 .85 0 1 0 .01 0M121.2 84.7a.85 .85 0 1 0 .01 0M130.8 90.7a.85 .85 0 1 0 .01 0M94 88.8a.85 .85 0 1 0 .01 0M102.6 83.2a.85 .85 0 1 0 .01 0M135.2 91a.85 .85 0 1 0 .01 0M108.3 83.7a.85 .85 0 1 0 .01 0M89 89.9a.85 .85 0 1 0 .01 0M87.5 112.8a.85 .85 0 1 0 .01 0M108.7 83a.85 .85 0 1 0 .01 0M112.6 88.8a.85 .85 0 1 0 .01 0M94.2 70.6a.85 .85 0 1 0 .01 0M103.1 95.9a.85 .85 0 1 0 .01 0M107.1 86.6a.85 .85 0 1 0 .01 0M96.5 77.5a.85 .85 0 1 0 .01 0M92.9 75.9a.85 .85 0 1 0 .01 0M114.4 87.9a.85 .85 0 1 0 .01 0M88.5 106a.85 .85 0 1 0 .01 0M88.6 89.6a.85 .85 0 1 0 .01 0M104.4 79a.85 .85 0 1 0 .01 0M129.7 81.4a.85 .85 0 1 0 .01 0M129.4 73.2a.85 .85 0 1 0 .01 0M107.5 69.4a.85 .85 0 1 0 .01 0M93.2 76.7a.85 .85 0 1 0 .01 0M88.1 87.3a.85 .85 0 1 0 .01 0M87.8 83.2a.85 .85 0 1 0 .01 0M150.4 88.6a.85 .85 0 1 0 .01 0M91.6 77.9a.85 .85 0 1 0 .01 0M112.4 85.1a.85 .85 0 1 0 .01 0M113.5 85.5a.85 .85 0 1 0 .01 0M97.8 75a.85 .85 0 1 0 .01 0M108.9 80.8a.85 .85 0 1 0 .01 0M91.8 94.5a.85 .85 0 1 0 .01 0M87.9 121.3a.85 .85 0 1 0 .01 0M93 75.3a.85 .85 0 1 0 .01 0M103.8 92.6a.85 .85 0 1 0 .01 0M113 79.4a.85 .85 0 1 0 .01 0M89.4 88.7a.85 .85 0 1 0 .01 0M89.9 89.6a.85 .85 0 1 0 .01 0M87.8 124.2a.85 .85 0 1 0 .01 0M88 105.2a.85 .85 0 1 0 .01 0M87.8 87.5a.85 .85 0 1 0 .01 0M88.4 103.9a.85 .85 0 1 0 .01 0M90 91.5a.85 .85 0 1 0 .01 0M88 75.8a.85 .85 0 1 0 .01 0M91.9 91.5a.85 .85 0 1 0 .01 0M95.9 82.8a.85 .85 0 1 0 .01 0M90.2 78.9a.85 .85 0 1 0 .01 0M87.9 93.4a.85 .85 0 1 0 .01 0M92.8 84.2a.85 .85 0 1 0 .01 0M88.1 140.2a.85 .85 0 1 0 .01 0M88 102.1a.85 .85 0 1 0 .01 0M93.1 88.7a.85 .85 0 1 0 .01 0M89.9 63.3a.85 .85 0 1 0 .01 0M92.7 91.6a.85 .85 0 1 0 .01 0M119.1 86.5a.85 .85 0 1 0 .01 0M140.1 78.1a.85 .85 0 1 0 .01 0M130.2 78.7a.85 .85 0 1 0 .01 0M111.5 80.7a.85 .85 0 1 0 .01 0M178.3 85.8a.85 .85 0 1 0 .01 0M88.1 138.2a.85 .85 0 1 0 .01 0M90 80.9a.85 .85 0 1 0 .01 0M101 83.2a.85 .85 0 1 0 .01 0M102.1 85.7a.85 .85 0 1 0 .01 0M87.6 89.1a.85 .85 0 1 0 .01 0M97.3 94.4a.85 .85 0 1 0 .01 0M88.2 101.8a.85 .85 0 1 0 .01 0M88 134.3a.85 .85 0 1 0 .01 0M108.5 81.9a.85 .85 0 1 0 .01 0M88.6 89.1a.85 .85 0 1 0 .01 0M93 71.7a.85 .85 0 1 0 .01 0M89.9 100.9a.85 .85 0 1 0 .01 0M147.2 96.3a.85 .85 0 1 0 .01 0M91.6 85.6a.85 .85 0 1 0 .01 0M89.7 73.1a.85 .85 0 1 0 .01 0M94.3 86.7a.85 .85 0 1 0 .01 0M87.8 112.3a.85 .85 0 1 0 .01 0M90.7 108.3a.85 .85 0 1 0 .01 0M88.8 97.8a.85 .85 0 1 0 .01 0M88.2 84.8a.85 .85 0 1 0 .01 0M111.3 84.5a.85 .85 0 1 0 .01 0M90.6 71.8a.85 .85 0 1 0 .01 0M88.7 106.2a.85 .85 0 1 0 .01 0M89.9 96a.85 .85 0 1 0 .01 0M88.3 86.6a.85 .85 0 1 0 .01 0M89 83.7a.85 .85 0 1 0 .01 0M87.5 128.3a.85 .85 0 1 0 .01 0M88.2 103.7a.85 .85 0 1 0 .01 0M110.5 92a.85 .85 0 1 0 .01 0M94.6 87.9a.85 .85 0 1 0 .01 0M87.8 134.1a.85 .85 0 1 0 .01 0M112.9 83.4a.85 .85 0 1 0 .01 0M170.1 87.4a.85 .85 0 1 0 .01 0M105.4 69.5a.85 .85 0 1 0 .01 0M88 109.1a.85 .85 0 1 0 .01 0M88.8 110.9a.85 .85 0 1 0 .01 0M89.6 76.6a.85 .85 0 1 0 .01 0M109.9 91a.85 .85 0 1 0 .01 0M93.7 80.5a.85 .85 0 1 0 .01 0M89.2 116.3a.85 .85 0 1 0 .01 0M89.5 86.8a.85 .85 0 1 0 .01 0M140.2 88.9a.85 .85 0 1 0 .01 0M111.5 82.1a.85 .85 0 1 0 .01 0M91.3 74.9a.85 .85 0 1 0 .01 0M113.3 83.6a.85 .85 0 1 0 .01 0M94.3 96.4a.85 .85 0 1 0 .01 0M88.1 124a.85 .85 0 1 0 .01 0M88.5 89.1a.85 .85 0 1 0 .01 0M91.7 81.5a.85 .85 0 1 0 .01 0M103.4 82.4a.85 .85 0 1 0 .01 0M115.9 82.2a.85 .85 0 1 0 .01 0M129 82.6a.85 .85 0 1 0 .01 0M222.7 85.5a.85 .85 0 1 0 .01 0M87.6 112.3a.85 .85 0 1 0 .01 0M87.7 101.6a.85 .85 0 1 0 .01 0M87.7 113.7a.85 .85 0 1 0 .01 0M129.6 91.7a.85 .85 0 1 0 .01 0M146.9 87.2a.85 .85 0 1 0 .01 0M87.7 100.5a.85 .85 0 1 0 .01 0M91.7 82.1a.85 .85 0 1 0 .01 0M88.5 129.3a.85 .85 0 1 0 .01 0M87.4 93.8a.85 .85 0 1 0 .01 0"/>
<path d="M90.2 80.1a.85 .85 0 1 0 .01 0M122.9 96.8a.85 .85 0 1 0 .01 0M87.7 115.5a.85 .85 0 1 0 .01 0M113.6 80a.85 .85 0 1 0 .01 0M122.3 85.6a.85 .85 0 1 0 .01 0M92.4 92.3a.85 .85 0 1 0 .01 0M110.5 80.9a.85 .85 0 1 0 .01 0M89.6 77a.85 .85 0 1 0 .01 0M152 94.5a.85 .85 0 1 0 .01 0M109 81.4a.85 .85 0 1 0 .01 0M88.8 100.6a.85 .85 0 1 0 .01 0M112.4 82.9a.85 .85 0 1 0 .01 0M96.4 82.9a.85 .85 0 1 0 .01 0M90 119a.85 .85 0 1 0 .01 0M96.2 96.1a.85 .85 0 1 0 .01 0M97.9 86.4a.85 .85 0 1 0 .01 0M93.5 94a.85 .85 0 1 0 .01 0M87.8 129.7a.85 .85 0 1 0 .01 0M114.1 85.7a.85 .85 0 1 0 .01 0M87.8 103.2a.85 .85 0 1 0 .01 0M87.7 161.8a.85 .85 0 1 0 .01 0M92.4 75.6a.85 .85 0 1 0 .01 0M88.3 124.8a.85 .85 0 1 0 .01 0M124.4 82a.85 .85 0 1 0 .01 0M101.4 73a.85 .85 0 1 0 .01 0M97.3 92.3a.85 .85 0 1 0 .01 0M132.1 79.4a.85 .85 0 1 0 .01 0M87.6 132.9a.85 .85 0 1 0 .01 0M122.7 87.9a.85 .85 0 1 0 .01 0M89.1 131.2a.85 .85 0 1 0 .01 0M171.1 85.4a.85 .85 0 1 0 .01 0M87.6 167.6a.85 .85 0 1 0 .01 0M88.5 122.7a.85 .85 0 1 0 .01 0M92.4 90.6a.85 .85 0 1 0 .01 0M123.3 85.7a.85 .85 0 1 0 .01 0M87.8 91.8a.85 .85 0 1 0 .01 0M136.7 85.9a.85 .85 0 1 0 .01 0M104.4 85.9a.85 .85 0 1 0 .01 0M87.5 119.1a.85 .85 0 1 0 .01 0M98.7 90.3a.85 .85 0 1 0 .01 0M104.4 75.4a.85 .85 0 1 0 .01 0M87.8 149.3a.85 .85 0 1 0 .01 0M135.1 91.9a.85 .85 0 1 0 .01 0M88.3 135.6a.85 .85 0 1 0 .01 0M100.6 79.9a.85 .85 0 1 0 .01 0M87.8 123.8a.85 .85 0 1 0 .01 0M88.3 100.9a.85 .85 0 1 0 .01 0M87.6 111.2a.85 .85 0 1 0 .01 0M88.3 102.1a.85 .85 0 1 0 .01 0M88.5 121.4a.85 .85 0 1 0 .01 0M186.9 97.1a.85 .85 0 1 0 .01 0M196.9 93.8a.85 .85 0 1 0 .01 0M111.6 82.1a.85 .85 0 1 0 .01 0M87.8 143.7a.85 .85 0 1 0 .01 0M88.4 111.4a.85 .85 0 1 0 .01 0M87.8 110.1a.85 .85 0 1 0 .01 0M95.3 70.4a.85 .85 0 1 0 .01 0M91.3 59.1a.85 .85 0 1 0 .01 0M87.5 124a.85 .85 0 1 0 .01 0M97.6 85.9a.85 .85 0 1 0 .01 0M87.9 136.7a.85 .85 0 1 0 .01 0M88.4 78.6a.85 .85 0 1 0 .01 0M137.4 91a.85 .85 0 1 0 .01 0M88.3 100.2a.85 .85 0 1 0 .01 0M91.4 95.3a.85 .85 0 1 0 .01 0M159.5 85.4a.85 .85 0 1 0 .01 0M93.1 81a.85 .85 0 1 0 .01 0M93.4 91.3a.85 .85 0 1 0 .01 0M100.8 77.3a.85 .85 0 1 0 .01 0M89 100a.85 .85 0 1 0 .01 0M87.7 143.8a.85 .85 0 1 0 .01 0M88.1 140.5a.85 .85 0 1 0 .01 0M109.2 76.5a.85 .85 0 1 0 .01 0M88 122.9a.85 .85 0 1 0 .01 0M102.8 79.3a.85 .85 0 1 0 .01 0M87.9 125.4a.85 .85 0 1 0 .01 0M87.6 89.3a.85 .85 0 1 0 .01 0M88.1 118.3a.85 .85 0 1 0 .01 0M88.2 71.6a.85 .85 0 1 0 .01 0M91.3 79.8a.85 .85 0 1 0 .01 0M90.3 76a.85 .85 0 1 0 .01 0M88.9 90.7a.85 .85 0 1 0 .01 0M98.9 80.1a.85 .85 0 1 0 .01 0M219.5 94.6a.85 .85 0 1 0 .01 0M87.6 128.6a.85 .85 0 1 0 .01 0M106 70.6a.85 .85 0 1 0 .01 0M100.1 88.6a.85 .85 0 1 0 .01 0M87.7 130.9a.85 .85 0 1 0 .01 0M95.3 81.5a.85 .85 0 1 0 .01 0M88 107.6a.85 .85 0 1 0 .01 0M88 118.3a.85 .85 0 1 0 .01 0M105 90.3a.85 .85 0 1 0 .01 0M87.5 140.8a.85 .85 0 1 0 .01 0M89.8 95.1a.85 .85 0 1 0 .01 0M94.5 70.4a.85 .85 0 1 0 .01 0M87.7 109.6a.85 .85 0 1 0 .01 0M91.3 83a.85 .85 0 1 0 .01 0M95.3 90.5a.85 .85 0 1 0 .01 0M87.8 117.4a.85 .85 0 1 0 .01 0M97.7 85.8a.85 .85 0 1 0 .01 0M136.6 91.6a.85 .85 0 1 0 .01 0M87.8 114.2a.85 .85 0 1 0 .01 0M87.9 104.7a.85 .85 0 1 0 .01 0M93.1 77.9a.85 .85 0 1 0 .01 0M122.9 91.6a.85 .85 0 1 0 .01 0M89.1 122.3a.85 .85 0 1 0 .01 0M111.1 82.3a.85 .85 0 1 0 .01 0M143.1 88.7a.85 .85 0 1 0 .01 0M113.9 79.2a.85 .85 0 1 0 .01 0M98.3 75.3a.85 .85 0 1 0 .01 0M122.8 84.3a.85 .85 0 1 0 .01 0M113.9 87.3a.85 .85 0 1 0 .01 0M89.5 74.3a.85 .85 0 1 0 .01 0M91.4 85.3a.85 .85 0 1 0 .01 0M98.1 79.9a.85 .85 0 1 0 .01 0M88.8 127.3a.85 .85 0 1 0 .01 0M121.2 84.3a.85 .85 0 1 0 .01 0M136.6 91.5a.85 .85 0 1 0 .01 0M103.7 77a.85 .85 0 1 0 .01 0M111.8 80.6a.85 .85 0 1 0 .01 0M113.4 87.7a.85 .85 0 1 0 .01 0M87.8 130.4a.85 .85 0 1 0 .01 0M88.2 134a.85 .85 0 1 0 .01 0M138.3 94a.85 .85 0 1 0 .01 0M89.1 104.1a.85 .85 0 1 0 .01 0M88.8 102a.85 .85 0 1 0 .01 0M90.2 84.5a.85 .85 0 1 0 .01 0M91.6 80.5a.85 .85 0 1 0 .01 0M89.6 78.5a.85 .85 0 1 0 .01 0M95.7 108.9a.85 .85 0 1 0 .01 0M106.7 90.2a.85 .85 0 1 0 .01 0M107.9 87.3a.85 .85 0 1 0 .01 0M123.8 82.6a.85 .85 0 1 0 .01 0M105.5 85.5a.85 .85 0 1 0 .01 0M112.3 89.4a.85 .85 0 1 0 .01 0M96.7 79.5a.85 .85 0 1 0 .01 0M88.6 111.3a.85 .85 0 1 0 .01 0M145.7 79.8a.85 .85 0 1 0 .01 0M112.1 78.3a.85 .85 0 1 0 .01 0M94.6 80.8a.85 .85 0 1 0 .01 0M154.8 89.6a.85 .85 0 1 0 .01 0M96.1 87.7a.85 .85 0 1 0 .01 0M87.5 87.6a.85 .85 0 1 0 .01 0M89 93.6a.85 .85 0 1 0 .01 0M112.5 85.3a.85 .85 0 1 0 .01 0M88.1 115a.85 .85 0 1 0 .01 0M87.9 88.1a.85 .85 0 1 0 .01 0M87.9 77.7a.85 .85 0 1 0 .01 0M92.3 92.7a.85 .85 0 1 0 .01 0M98.9 87a.85 .85 0 1 0 .01 0M89.5 64.5a.85 .85 0 1 0 .01 0M105.2 84a.85 .85 0 1 0 .01 0M107.4 89.8a.85 .85 0 1 0 .01 0M114.9 80.4a.85 .85 0 1 0 .01 0M88.1 78.8a.85 .85 0 1 0 .01 0M98.4 77.2a.85 .85 0 1 0 .01 0M119 87a.85 .85 0 1 0 .01 0M153.5 90.7a.85 .85 0 1 0 .01 0M112.1 82.9a.85 .85 0 1 0 .01 0M110.2 78.9a.85 .85 0 1 0 .01 0M88.6 114.1a.85 .85 0 1 0 .01 0M87.5 103.3a.85 .85 0 1 0 .01 0M95.1 87.6a.85 .85 0 1 0 .01 0M87.5 111.4a.85 .85 0 1 0 .01 0M91.4 105.4a.85 .85 0 1 0 .01 0M96 76.8a.85 .85 0 1 0 .01 0M122.6 87.7a.85 .85 0 1 0 .01 0M93.2 83.2a.85 .85 0 1 0 .01 0M156.1 86.9a.85 .85 0 1 0 .01 0M97.5 96.3a.85 .85 0 1 0 .01 0M92.6 75.4a.85 .85 0 1 0 .01 0M158.1 83.4a.85 .85 0 1 0 .01 0M90.3 81.2a.85 .85 0 1 0 .01 0M88.9 92.7a.85 .85 0 1 0 .01 0M96.4 113.8a.85 .85 0 1 0 .01 0M104.8 70.4a.85 .85 0 1 0 .01 0M114.5 96.3a.85 .85 0 1 0 .01 0M88.5 82.7a.85 .85 0 1 0 .01 0M88.2 138.9a.85 .85 0 1 0 .01 0M90.7 84.8a.85 .85 0 1 0 .01 0M95.3 84.8a.85 .85 0 1 0 .01 0M90.8 82.6a.85 .85 0 1 0 .01 0M88.4 71.8a.85 .85 0 1 0 .01 0M88.6 106.5a.85 .85 0 1 0 .01 0M88.9 100.5a.85 .85 0 1 0 .01 0M89.4 85.6a.85 .85 0 1 0 .01 0M106.2 81.1a.85 .85 0 1 0 .01 0M89.7 102.5a.85 .85 0 1 0 .01 0M88.6 99.8a.85 .85 0 1 0 .01 0M93.3 100.5a.85 .85 0 1 0 .01 0M89.4 85.2a.85 .85 0 1 0 .01 0M88.7 81.1a.85 .85 0 1 0 .01 0M116.7 86.5a.85 .85 0 1 0 .01 0M87.9 145.3a.85 .85 0 1 0 .01 0M87.5 90.8a.85 .85 0 1 0 .01 0M99.2 86.5a.85 .85 0 1 0 .01 0M111.7 88.1a.85 .85 0 1 0 .01 0M108.6 83.7a.85 .85 0 1 0 .01 0M89 138.9a.85 .85 0 1 0 .01 0M115.3 96.8a.85 .85 0 1 0 .01 0M113.8 86.1a.85 .85 0 1 0 .01 0M92.8 91.3a.85 .85 0 1 0 .01 0M102.4 85.2a.85 .85 0 1 0 .01 0M130.3 78.1a.85 .85 0 1 0 .01 0M104.2 83.1a.85 .85 0 1 0 .01 0M88.6 144.1a.85 .85 0 1 0 .01 0M90.9 103.2a.85 .85 0 1 0 .01 0M91 94.6a.85 .85 0 1 0 .01 0M97.2 76.8a.85 .85 0 1 0 .01 0M87.8 107.5a.85 .85 0 1 0 .01 0M89.3 106.4a.85 .85 0 1 0 .01 0M88.1 150.3a.85 .85 0 1 0 .01 0M111.3 86a.85 .85 0 1 0 .01 0M117.5 95a.85 .85 0 1 0 .01 0M93.3 96.9a.85 .85 0 1 0 .01 0M92.6 72.6a.85 .85 0 1 0 .01 0M89.5 115.3a.85 .85 0 1 0 .01 0M133 78.4a.85 .85 0 1 0 .01 0M89.3 114.2a.85 .85 0 1 0 .01 0M88.9 100.3a.85 .85 0 1 0 .01 0M90 109.4a.85 .85 0 1 0 .01 0M94.2 82.7a.85 .85 0 1 0 .01 0M87.8 140.1a.85 .85 0 1 0 .01 0M90.1 88.3a.85 .85 0 1 0 .01 0M88.2 103a.85 .85 0 1 0 .01 0M104.8 80.8a.85 .85 0 1 0 .01 0M87.9 130.1a.85 .85 0 1 0 .01 0M163.9 78.7a.85 .85 0 1 0 .01 0M113.8 91.7a.85 .85 0 1 0 .01 0M90.8 84.9a.85 .85 0 1 0 .01 0M88.1 95.3a.85 .85 0 1 0 .01 0M107.4 79.8a.85 .85 0 1 0 .01 0M86.6 186.8a.85 .85 0 1 0 .01 0M88.7 133a.85 .85 0 1 0 .01 0M88.4 79.3a.85 .85 0 1 0 .01 0M131.7 82.1a.85 .85 0 1 0 .01 0M106.4 85.3a.85 .85 0 1 0 .01 0M138.5 83.4a.85 .85 0 1 0 .01 0M88 107.7a.85 .85 0 1 0 .01 0M88.6 120.8a.85 .85 0 1 0 .01 0M110.6 77.9a.85 .85 0 1 0 .01 0M126 79.9a.85 .85 0 1 0 .01 0M88.5 91.5a.85 .85 0 1 0 .01 0M95.9 84.9a.85 .85 0 1 0 .01 0M87.8 88.1a.85 .85 0 1 0 .01 0M205.9 92.6a.85 .85 0 1 0 .01 0M111.9 74.3a.85 .85 0 1 0 .01 0M115.9 83.2a.85 .85 0 1 0 .01 0M88.3 104a.85 .85 0 1 0 .01 0M140.7 82.3a.85 .85 0 1 0 .01 0M126.9 86.2a.85 .85 0 1 0 .01 0M88.9 118.2a.85 .85 0 1 0 .01 0M88.5 66.5a.85 .85 0 1 0 .01 0M134.3 89.8a.85 .85 0 1 0 .01 0M91.2 92.3a.85 .85 0 1 0 .01 0M88.1 133.6a.85 .85 0 1 0 .01 0M133.4 80.8a.85 .85 0 1 0 .01 0M88 96.3a.85 .85 0 1 0 .01 0M92.5 93.2a.85 .85 0 1 0 .01 0M90.1 67.5a.85 .85 0 1 0 .01 0M171.2 88.5a.85 .85 0 1 0 .01 0M88.1 131.6a.85 .85 0 1 0 .01 0M139 88.1a.85 .85 0 1 0 .01 0M149.6 84.1a.85 .85 0 1 0 .01 0M88.3 128.5a.85 .85 0 1 0 .01 0M114.7 80.5a.85 .85 0 1 0 .01 0"/>
</g>
<line x1="93.0" y1="84.4" x2="269.2" y2="95.0" stroke="#0a0a0a" stroke-width="1.25"/>
<rect x="82.3" y="26.8" width="190.7" height="174.4" fill="none" stroke="#303030" stroke-width="1.05"/>
<path d="M82.3 199.7h-4M82.3 171.1h-4M82.3 142.5h-4M82.3 113.8h-4M82.3 85.2h-4M82.3 56.6h-4M82.3 28.0h-4M86.4 201.2v6M123.0 201.2v6M159.5 201.2v6M196.1 201.2v6M232.6 201.2v6M269.2 201.2v6" stroke="#999" stroke-width="0.8" fill="none"/>
<g class="tk">
<text x="77.1" y="203.9" text-anchor="end" textLength="7.7" lengthAdjust="spacingAndGlyphs">10</text>
<text x="77.1" y="175.3" text-anchor="end" textLength="12.1" lengthAdjust="spacingAndGlyphs">100</text>
<text x="77.1" y="146.7" text-anchor="end" textLength="16.5" lengthAdjust="spacingAndGlyphs">1000</text>
<text x="77.1" y="118.0" text-anchor="end" textLength="20.9" lengthAdjust="spacingAndGlyphs">10000</text>
<text x="77.1" y="89.4" text-anchor="end" textLength="25.3" lengthAdjust="spacingAndGlyphs">100000</text>
<text x="77.1" y="60.8" text-anchor="end" textLength="29.7" lengthAdjust="spacingAndGlyphs">1000000</text>
<text x="77.1" y="32.2" text-anchor="end" textLength="34.1" lengthAdjust="spacingAndGlyphs">10000000</text>
<text x="86.4" y="220.2" text-anchor="middle" textLength="4.7" lengthAdjust="spacingAndGlyphs">0</text>
<text x="123.0" y="220.2" text-anchor="middle" textLength="4.7" lengthAdjust="spacingAndGlyphs">5</text>
<text x="159.5" y="220.2" text-anchor="middle" textLength="9.4" lengthAdjust="spacingAndGlyphs">10</text>
<text x="196.1" y="220.2" text-anchor="middle" textLength="9.4" lengthAdjust="spacingAndGlyphs">15</text>
<text x="232.6" y="220.2" text-anchor="middle" textLength="9.4" lengthAdjust="spacingAndGlyphs">20</text>
<text x="269.2" y="220.2" text-anchor="middle" textLength="9.4" lengthAdjust="spacingAndGlyphs">25</text>
</g>
<text class="pl" x="35.2" y="18.9">A</text>
<g fill="none" stroke="#000" stroke-width="0.8" stroke-opacity="0.42">
<path d="M331.8 157.8a.85 .85 0 1 0 .01 0M331.7 124.1a.85 .85 0 1 0 .01 0M394.3 84.3a.85 .85 0 1 0 .01 0M336.5 65.8a.85 .85 0 1 0 .01 0M365.2 85a.85 .85 0 1 0 .01 0M354.1 79.9a.85 .85 0 1 0 .01 0M333 96.2a.85 .85 0 1 0 .01 0M331.8 103.8a.85 .85 0 1 0 .01 0M357.1 90.1a.85 .85 0 1 0 .01 0M335.7 74.5a.85 .85 0 1 0 .01 0M331.9 133.9a.85 .85 0 1 0 .01 0M343.4 87.6a.85 .85 0 1 0 .01 0M335.1 94.7a.85 .85 0 1 0 .01 0M333.1 73.8a.85 .85 0 1 0 .01 0M331.4 78.1a.85 .85 0 1 0 .01 0M332 130.2a.85 .85 0 1 0 .01 0M332.5 84.2a.85 .85 0 1 0 .01 0M331.4 123.8a.85 .85 0 1 0 .01 0M353.7 75.6a.85 .85 0 1 0 .01 0M332.1 118.3a.85 .85 0 1 0 .01 0M333.1 107.2a.85 .85 0 1 0 .01 0M455.2 89.1a.85 .85 0 1 0 .01 0M331.9 91.6a.85 .85 0 1 0 .01 0M359.3 72.3a.85 .85 0 1 0 .01 0M332.6 137.6a.85 .85 0 1 0 .01 0M350.9 81.6a.85 .85 0 1 0 .01 0M377.2 86.6a.85 .85 0 1 0 .01 0M349.8 74.2a.85 .85 0 1 0 .01 0M335.8 105.2a.85 .85 0 1 0 .01 0M333.3 96.2a.85 .85 0 1 0 .01 0M332.1 117.8a.85 .85 0 1 0 .01 0M363.4 83.9a.85 .85 0 1 0 .01 0M332.9 109.8a.85 .85 0 1 0 .01 0M331.8 103.3a.85 .85 0 1 0 .01 0M364.8 79.6a.85 .85 0 1 0 .01 0M376.1 76.4a.85 .85 0 1 0 .01 0M344.3 85.3a.85 .85 0 1 0 .01 0M338.8 89a.85 .85 0 1 0 .01 0M481.8 85.2a.85 .85 0 1 0 .01 0M339.4 73.7a.85 .85 0 1 0 .01 0M331.3 129.2a.85 .85 0 1 0 .01 0M485.5 95.9a.85 .85 0 1 0 .01 0M333.8 97.2a.85 .85 0 1 0 .01 0M332.2 106.7a.85 .85 0 1 0 .01 0M332.6 161.4a.85 .85 0 1 0 .01 0M455.5 92.8a.85 .85 0 1 0 .01 0M332.2 85.6a.85 .85 0 1 0 .01 0M333.3 105.6a.85 .85 0 1 0 .01 0M331.8 97.1a.85 .85 0 1 0 .01 0M356 86a.85 .85 0 1 0 .01 0M374.6 85.8a.85 .85 0 1 0 .01 0M332.9 138.9a.85 .85 0 1 0 .01 0M390.8 86.5a.85 .85 0 1 0 .01 0M337.5 84.2a.85 .85 0 1 0 .01 0M405.3 77.3a.85 .85 0 1 0 .01 0M343.2 85.1a.85 .85 0 1 0 .01 0M332.4 91.2a.85 .85 0 1 0 .01 0M437.5 90.6a.85 .85 0 1 0 .01 0M333.7 86.3a.85 .85 0 1 0 .01 0M351.2 85.8a.85 .85 0 1 0 .01 0M332.8 74.6a.85 .85 0 1 0 .01 0M332.1 136.6a.85 .85 0 1 0 .01 0M331.2 108.2a.85 .85 0 1 0 .01 0M336 68.6a.85 .85 0 1 0 .01 0M333.9 89.3a.85 .85 0 1 0 .01 0M342.3 75.5a.85 .85 0 1 0 .01 0M368.7 90.5a.85 .85 0 1 0 .01 0M332.6 111.3a.85 .85 0 1 0 .01 0M332.2 121.9a.85 .85 0 1 0 .01 0M396 83.5a.85 .85 0 1 0 .01 0M337.8 97a.85 .85 0 1 0 .01 0M332.5 79.4a.85 .85 0 1 0 .01 0M336.2 81.3a.85 .85 0 1 0 .01 0M332.6 112a.85 .85 0 1 0 .01 0M331.9 126.6a.85 .85 0 1 0 .01 0M335 81.9a.85 .85 0 1 0 .01 0M339.6 74.7a.85 .85 0 1 0 .01 0M332.5 76.2a.85 .85 0 1 0 .01 0M339.5 86.4a.85 .85 0 1 0 .01 0M332.9 92.5a.85 .85 0 1 0 .01 0M331.5 133.4a.85 .85 0 1 0 .01 0M331.5 110.3a.85 .85 0 1 0 .01 0M344.9 76.6a.85 .85 0 1 0 .01 0M331.9 109.8a.85 .85 0 1 0 .01 0M331.6 137.8a.85 .85 0 1 0 .01 0M345.9 82.8a.85 .85 0 1 0 .01 0M415.6 87.9a.85 .85 0 1 0 .01 0M348 87.9a.85 .85 0 1 0 .01 0M331.8 86.5a.85 .85 0 1 0 .01 0M334.4 108.7a.85 .85 0 1 0 .01 0M337.7 87.5a.85 .85 0 1 0 .01 0M343.9 88.4a.85 .85 0 1 0 .01 0M332.2 106a.85 .85 0 1 0 .01 0M331.8 130.1a.85 .85 0 1 0 .01 0M339.9 78.9a.85 .85 0 1 0 .01 0M453.2 96.3a.85 .85 0 1 0 .01 0M350.5 84.9a.85 .85 0 1 0 .01 0M332.8 116.6a.85 .85 0 1 0 .01 0M370.6 81.4a.85 .85 0 1 0 .01 0M356.6 83.3a.85 .85 0 1 0 .01 0M338.4 79.6a.85 .85 0 1 0 .01 0M365.1 94.2a.85 .85 0 1 0 .01 0M331.5 104.4a.85 .85 0 1 0 .01 0M332.4 97.9a.85 .85 0 1 0 .01 0M340.3 83.6a.85 .85 0 1 0 .01 0M331.8 64.7a.85 .85 0 1 0 .01 0M352.7 95.2a.85 .85 0 1 0 .01 0M331.7 117.6a.85 .85 0 1 0 .01 0M353.7 78.5a.85 .85 0 1 0 .01 0M331.6 97.8a.85 .85 0 1 0 .01 0M336.5 76.1a.85 .85 0 1 0 .01 0M344.6 86a.85 .85 0 1 0 .01 0M334.3 83.9a.85 .85 0 1 0 .01 0M331.9 70.3a.85 .85 0 1 0 .01 0M357.4 82.9a.85 .85 0 1 0 .01 0M344.8 76.2a.85 .85 0 1 0 .01 0M361.1 85.9a.85 .85 0 1 0 .01 0M331.2 120a.85 .85 0 1 0 .01 0M332 128.2a.85 .85 0 1 0 .01 0M331.9 80a.85 .85 0 1 0 .01 0M332 119.2a.85 .85 0 1 0 .01 0M409 99.7a.85 .85 0 1 0 .01 0M352.2 84.8a.85 .85 0 1 0 .01 0M354.6 83.3a.85 .85 0 1 0 .01 0M332 113.6a.85 .85 0 1 0 .01 0M332.8 104a.85 .85 0 1 0 .01 0M371.7 82a.85 .85 0 1 0 .01 0M331.6 145.7a.85 .85 0 1 0 .01 0M332.2 109.4a.85 .85 0 1 0 .01 0M411.6 97.7a.85 .85 0 1 0 .01 0M331.7 135.7a.85 .85 0 1 0 .01 0M401 77.6a.85 .85 0 1 0 .01 0M333.3 99.4a.85 .85 0 1 0 .01 0M331.5 89.1a.85 .85 0 1 0 .01 0M350.6 84.7a.85 .85 0 1 0 .01 0M347.1 79.9a.85 .85 0 1 0 .01 0M339.1 109.5a.85 .85 0 1 0 .01 0M350.5 84.6a.85 .85 0 1 0 .01 0M353 81.5a.85 .85 0 1 0 .01 0M332.2 105.2a.85 .85 0 1 0 .01 0M331.5 120.8a.85 .85 0 1 0 .01 0M337.2 87.6a.85 .85 0 1 0 .01 0M419.6 98.4a.85 .85 0 1 0 .01 0M344.4 90a.85 .85 0 1 0 .01 0M331.9 142.2a.85 .85 0 1 0 .01 0M333.1 88.3a.85 .85 0 1 0 .01 0M331.9 118.7a.85 .85 0 1 0 .01 0M332 120.9a.85 .85 0 1 0 .01 0M332.5 104.3a.85 .85 0 1 0 .01 0M344.9 84.6a.85 .85 0 1 0 .01 0M334.1 84.1a.85 .85 0 1 0 .01 0M332.1 105.4a.85 .85 0 1 0 .01 0M350.6 84.1a.85 .85 0 1 0 .01 0M335.4 90.8a.85 .85 0 1 0 .01 0M334.5 95.4a.85 .85 0 1 0 .01 0M337.1 69.2a.85 .85 0 1 0 .01 0M332.5 113.4a.85 .85 0 1 0 .01 0M331.5 140.3a.85 .85 0 1 0 .01 0M333.8 113.2a.85 .85 0 1 0 .01 0M332.1 121.3a.85 .85 0 1 0 .01 0M344.6 82.9a.85 .85 0 1 0 .01 0M404.3 95.1a.85 .85 0 1 0 .01 0M331.9 134.7a.85 .85 0 1 0 .01 0M334.3 102.7a.85 .85 0 1 0 .01 0M352.5 84.2a.85 .85 0 1 0 .01 0M401.8 99.8a.85 .85 0 1 0 .01 0M332.2 136.3a.85 .85 0 1 0 .01 0M332.5 68.4a.85 .85 0 1 0 .01 0M332.6 103a.85 .85 0 1 0 .01 0M337.1 94.2a.85 .85 0 1 0 .01 0M336.1 81.9a.85 .85 0 1 0 .01 0M336.6 99.2a.85 .85 0 1 0 .01 0M331.4 136a.85 .85 0 1 0 .01 0M342.7 87.9a.85 .85 0 1 0 .01 0M344.3 88.9a.85 .85 0 1 0 .01 0M333.1 90.4a.85 .85 0 1 0 .01 0M332.1 122.2a.85 .85 0 1 0 .01 0M343.2 71.5a.85 .85 0 1 0 .01 0M332.2 113a.85 .85 0 1 0 .01 0M331.9 88.5a.85 .85 0 1 0 .01 0M332 119.1a.85 .85 0 1 0 .01 0M332.4 70.9a.85 .85 0 1 0 .01 0M331.4 84.7a.85 .85 0 1 0 .01 0M334.7 98.7a.85 .85 0 1 0 .01 0M331.8 63.5a.85 .85 0 1 0 .01 0M333.4 112.3a.85 .85 0 1 0 .01 0M331.9 147.1a.85 .85 0 1 0 .01 0M352.1 77.7a.85 .85 0 1 0 .01 0M333.1 73a.85 .85 0 1 0 .01 0M331.6 118.2a.85 .85 0 1 0 .01 0M353.1 89.6a.85 .85 0 1 0 .01 0M336.8 83a.85 .85 0 1 0 .01 0M332.8 95.4a.85 .85 0 1 0 .01 0M352.3 91.7a.85 .85 0 1 0 .01 0M336.9 58.4a.85 .85 0 1 0 .01 0M332 101.9a.85 .85 0 1 0 .01 0M357.5 84.1a.85 .85 0 1 0 .01 0M369.2 81.7a.85 .85 0 1 0 .01 0M404.5 82.1a.85 .85 0 1 0 .01 0M343.2 82.9a.85 .85 0 1 0 .01 0M334.4 86.6a.85 .85 0 1 0 .01 0M379.7 90.1a.85 .85 0 1 0 .01 0M344 83.5a.85 .85 0 1 0 .01 0M350.3 81.1a.85 .85 0 1 0 .01 0M342.4 91.2a.85 .85 0 1 0 .01 0M331.4 112.9a.85 .85 0 1 0 .01 0M357.8 87.7a.85 .85 0 1 0 .01 0M352.6 76.6a.85 .85 0 1 0 .01 0M382.6 83a.85 .85 0 1 0 .01 0M346.1 94.5a.85 .85 0 1 0 .01 0M331.9 146a.85 .85 0 1 0 .01 0M331.8 127.5a.85 .85 0 1 0 .01 0M333 81a.85 .85 0 1 0 .01 0M332.6 110a.85 .85 0 1 0 .01 0M356.7 77.8a.85 .85 0 1 0 .01 0M373.1 84.7a.85 .85 0 1 0 .01 0M333.3 110a.85 .85 0 1 0 .01 0M333.2 96.5a.85 .85 0 1 0 .01 0M354.4 82.9a.85 .85 0 1 0 .01 0M334.3 92.8a.85 .85 0 1 0 .01 0M331.8 82.6a.85 .85 0 1 0 .01 0M331.9 110.9a.85 .85 0 1 0 .01 0M353.3 86.9a.85 .85 0 1 0 .01 0M373.2 81.5a.85 .85 0 1 0 .01 0M405.4 83.9a.85 .85 0 1 0 .01 0M395.7 76.2a.85 .85 0 1 0 .01 0M356.3 92.2a.85 .85 0 1 0 .01 0M352.6 70.9a.85 .85 0 1 0 .01 0M332.4 98.1a.85 .85 0 1 0 .01 0M398.6 84.4a.85 .85 0 1 0 .01 0M331.5 102.4a.85 .85 0 1 0 .01 0M336.6 83.5a.85 .85 0 1 0 .01 0M332.2 112.4a.85 .85 0 1 0 .01 0M331.8 128.6a.85 .85 0 1 0 .01 0M331.7 77.3a.85 .85 0 1 0 .01 0M331.4 119.3a.85 .85 0 1 0 .01 0M343.2 88.1a.85 .85 0 1 0 .01 0M331.9 85.9a.85 .85 0 1 0 .01 0M365.8 81.4a.85 .85 0 1 0 .01 0M359.8 78.3a.85 .85 0 1 0 .01 0M333.4 68.4a.85 .85 0 1 0 .01 0M376.5 88a.85 .85 0 1 0 .01 0M333.9 80.7a.85 .85 0 1 0 .01 0M340 82.8a.85 .85 0 1 0 .01 0M353.7 88.2a.85 .85 0 1 0 .01 0M334.3 96.9a.85 .85 0 1 0 .01 0M376.8 87.6a.85 .85 0 1 0 .01 0M331.2 143.9a.85 .85 0 1 0 .01 0M333.3 129.4a.85 .85 0 1 0 .01 0M356.5 83.4a.85 .85 0 1 0 .01 0M384.4 84.8a.85 .85 0 1 0 .01 0M332.5 108.8a.85 .85 0 1 0 .01 0M341.4 82.4a.85 .85 0 1 0 .01 0M331.7 109.9a.85 .85 0 1 0 .01 0M373.2 78.5a.85 .85 0 1 0 .01 0M348.8 85.1a.85 .85 0 1 0 .01 0M333.2 82.3a.85 .85 0 1 0 .01 0M396.9 91.4a.85 .85 0 1 0 .01 0M337.5 86.2a.85 .85 0 1 0 .01 0M334 79.8a.85 .85 0 1 0 .01 0M332.4 86.8a.85 .85 0 1 0 .01 0M332.8 83.5a.85 .85 0 1 0 .01 0M360.4 86a.85 .85 0 1 0 .01 0M331.9 120.8a.85 .85 0 1 0 .01 0M358.8 86.8a.85 .85 0 1 0 .01 0M332.2 91.1a.85 .85 0 1 0 .01 0"/>
<path d="M477.8 86.2a.85 .85 0 1 0 .01 0M390.6 103.2a.85 .85 0 1 0 .01 0M335.6 91.5a.85 .85 0 1 0 .01 0M331.7 108.9a.85 .85 0 1 0 .01 0M336 83.2a.85 .85 0 1 0 .01 0M332.8 106.8a.85 .85 0 1 0 .01 0M333.7 82.8a.85 .85 0 1 0 .01 0M356.6 79.1a.85 .85 0 1 0 .01 0M332.2 129.9a.85 .85 0 1 0 .01 0M363.6 68.5a.85 .85 0 1 0 .01 0M371.4 86.4a.85 .85 0 1 0 .01 0M340 74.6a.85 .85 0 1 0 .01 0M332.3 103.2a.85 .85 0 1 0 .01 0M348.9 84.2a.85 .85 0 1 0 .01 0M334.5 83.2a.85 .85 0 1 0 .01 0M368.5 88.8a.85 .85 0 1 0 .01 0M337.7 95.4a.85 .85 0 1 0 .01 0M362.2 94.9a.85 .85 0 1 0 .01 0M331.7 110.8a.85 .85 0 1 0 .01 0M337.9 88a.85 .85 0 1 0 .01 0M335.1 81.6a.85 .85 0 1 0 .01 0M335.1 93a.85 .85 0 1 0 .01 0M351.1 102a.85 .85 0 1 0 .01 0M360.6 86.8a.85 .85 0 1 0 .01 0M332.3 106.2a.85 .85 0 1 0 .01 0M349.4 74.5a.85 .85 0 1 0 .01 0M345.6 78.4a.85 .85 0 1 0 .01 0M332 141.9a.85 .85 0 1 0 .01 0M408.3 88.9a.85 .85 0 1 0 .01 0M389.6 81.6a.85 .85 0 1 0 .01 0M332.5 86.9a.85 .85 0 1 0 .01 0M340.6 77.2a.85 .85 0 1 0 .01 0M333.4 99.2a.85 .85 0 1 0 .01 0M339.7 76.2a.85 .85 0 1 0 .01 0M340.8 80.6a.85 .85 0 1 0 .01 0M365.3 86.9a.85 .85 0 1 0 .01 0M342.5 93.5a.85 .85 0 1 0 .01 0M371.4 90.2a.85 .85 0 1 0 .01 0M366 82.3a.85 .85 0 1 0 .01 0M335.4 82.4a.85 .85 0 1 0 .01 0M332.4 116.4a.85 .85 0 1 0 .01 0M331.9 83.2a.85 .85 0 1 0 .01 0M372.6 87.2a.85 .85 0 1 0 .01 0M334.4 74.1a.85 .85 0 1 0 .01 0M331.8 109.1a.85 .85 0 1 0 .01 0M347 83.5a.85 .85 0 1 0 .01 0M336.7 84.3a.85 .85 0 1 0 .01 0M395.5 99.6a.85 .85 0 1 0 .01 0M332.5 93.1a.85 .85 0 1 0 .01 0M331.6 137.4a.85 .85 0 1 0 .01 0M352.7 83.1a.85 .85 0 1 0 .01 0M395.4 87.5a.85 .85 0 1 0 .01 0M372.9 80.7a.85 .85 0 1 0 .01 0M331.3 115.7a.85 .85 0 1 0 .01 0M366.6 93.3a.85 .85 0 1 0 .01 0M332.7 93.1a.85 .85 0 1 0 .01 0M333.6 69.1a.85 .85 0 1 0 .01 0M346.4 83.3a.85 .85 0 1 0 .01 0M334 79.1a.85 .85 0 1 0 .01 0M331.5 109.8a.85 .85 0 1 0 .01 0M332.8 101a.85 .85 0 1 0 .01 0M331.4 141.1a.85 .85 0 1 0 .01 0M332.3 146.4a.85 .85 0 1 0 .01 0M332.8 104.8a.85 .85 0 1 0 .01 0M333.3 78.5a.85 .85 0 1 0 .01 0M383.6 91.3a.85 .85 0 1 0 .01 0M333.2 84.1a.85 .85 0 1 0 .01 0M332.3 99.7a.85 .85 0 1 0 .01 0M331.7 122.9a.85 .85 0 1 0 .01 0M366 85.7a.85 .85 0 1 0 .01 0M335.4 88.1a.85 .85 0 1 0 .01 0M349.6 91.6a.85 .85 0 1 0 .01 0M331.9 106.3a.85 .85 0 1 0 .01 0M331.4 151.9a.85 .85 0 1 0 .01 0M364.6 77.4a.85 .85 0 1 0 .01 0M334.7 62.5a.85 .85 0 1 0 .01 0M335 85.4a.85 .85 0 1 0 .01 0M334.9 85.7a.85 .85 0 1 0 .01 0M375 92.4a.85 .85 0 1 0 .01 0M331.6 124.5a.85 .85 0 1 0 .01 0M331.9 108.3a.85 .85 0 1 0 .01 0M334.9 89.8a.85 .85 0 1 0 .01 0M332.7 84.4a.85 .85 0 1 0 .01 0M470.3 84.3a.85 .85 0 1 0 .01 0M332.4 90.5a.85 .85 0 1 0 .01 0M362.3 80.9a.85 .85 0 1 0 .01 0M352.5 84a.85 .85 0 1 0 .01 0M351.7 80.7a.85 .85 0 1 0 .01 0M331.7 138.6a.85 .85 0 1 0 .01 0M337.1 90.7a.85 .85 0 1 0 .01 0M331.7 73.1a.85 .85 0 1 0 .01 0M332.2 85.9a.85 .85 0 1 0 .01 0M333.8 87a.85 .85 0 1 0 .01 0M332 110.8a.85 .85 0 1 0 .01 0M355.7 88.2a.85 .85 0 1 0 .01 0M332.7 75a.85 .85 0 1 0 .01 0M332.3 109.1a.85 .85 0 1 0 .01 0M331.9 132.1a.85 .85 0 1 0 .01 0M332.9 124.3a.85 .85 0 1 0 .01 0M336.8 85a.85 .85 0 1 0 .01 0M332 105.9a.85 .85 0 1 0 .01 0M332.3 91.6a.85 .85 0 1 0 .01 0M342.9 78a.85 .85 0 1 0 .01 0M334.2 71.6a.85 .85 0 1 0 .01 0M334.3 75.5a.85 .85 0 1 0 .01 0M331.9 137.1a.85 .85 0 1 0 .01 0M351 86.3a.85 .85 0 1 0 .01 0M361.5 89.8a.85 .85 0 1 0 .01 0M331.4 128.1a.85 .85 0 1 0 .01 0M338.1 86.6a.85 .85 0 1 0 .01 0M333.2 89a.85 .85 0 1 0 .01 0M355.6 80.2a.85 .85 0 1 0 .01 0M333 100.6a.85 .85 0 1 0 .01 0M373.7 77.5a.85 .85 0 1 0 .01 0M335.5 89.4a.85 .85 0 1 0 .01 0M350.3 83.4a.85 .85 0 1 0 .01 0M364.6 85.3a.85 .85 0 1 0 .01 0M432.2 87.5a.85 .85 0 1 0 .01 0M333.3 77.2a.85 .85 0 1 0 .01 0M333.6 120.1a.85 .85 0 1 0 .01 0M331.4 120.9a.85 .85 0 1 0 .01 0M331.4 133.1a.85 .85 0 1 0 .01 0M406 87a.85 .85 0 1 0 .01 0M351.8 78.8a.85 .85 0 1 0 .01 0M335.3 80.5a.85 .85 0 1 0 .01 0M402.4 76a.85 .85 0 1 0 .01 0M466.8 112.4a.85 .85 0 1 0 .01 0M417.5 87.7a.85 .85 0 1 0 .01 0M338.4 94.6a.85 .85 0 1 0 .01 0M333.8 109.8a.85 .85 0 1 0 .01 0M335.8 108.6a.85 .85 0 1 0 .01 0M358.5 83.3a.85 .85 0 1 0 .01 0M359.6 86.1a.85 .85 0 1 0 .01 0M331.6 111.5a.85 .85 0 1 0 .01 0M430.6 101.3a.85 .85 0 1 0 .01 0M336.4 96.1a.85 .85 0 1 0 .01 0M349.2 87.9a.85 .85 0 1 0 .01 0M333.4 79.9a.85 .85 0 1 0 .01 0M332.1 133.6a.85 .85 0 1 0 .01 0M332.3 116.2a.85 .85 0 1 0 .01 0M332.4 97.7a.85 .85 0 1 0 .01 0M333.1 110.9a.85 .85 0 1 0 .01 0M331.4 150.8a.85 .85 0 1 0 .01 0M337.4 79.8a.85 .85 0 1 0 .01 0M337.5 120.5a.85 .85 0 1 0 .01 0M333 85a.85 .85 0 1 0 .01 0M347.3 85.3a.85 .85 0 1 0 .01 0M359.7 78.3a.85 .85 0 1 0 .01 0M334 80.7a.85 .85 0 1 0 .01 0M341.4 101a.85 .85 0 1 0 .01 0M332.4 145.2a.85 .85 0 1 0 .01 0M331.9 137.9a.85 .85 0 1 0 .01 0M350.8 82.9a.85 .85 0 1 0 .01 0M347.6 76.6a.85 .85 0 1 0 .01 0M333.3 82.2a.85 .85 0 1 0 .01 0M331.9 75.4a.85 .85 0 1 0 .01 0M343.2 83.6a.85 .85 0 1 0 .01 0M332.4 112.3a.85 .85 0 1 0 .01 0M332.2 95.3a.85 .85 0 1 0 .01 0M431.8 88.6a.85 .85 0 1 0 .01 0M332.5 87.9a.85 .85 0 1 0 .01 0M332.9 93.7a.85 .85 0 1 0 .01 0M332.5 91.5a.85 .85 0 1 0 .01 0M332.2 138.6a.85 .85 0 1 0 .01 0M334.3 100.2a.85 .85 0 1 0 .01 0M337.8 75.1a.85 .85 0 1 0 .01 0M332.1 105.3a.85 .85 0 1 0 .01 0M332.1 101.3a.85 .85 0 1 0 .01 0M342.9 90.4a.85 .85 0 1 0 .01 0M332 138.8a.85 .85 0 1 0 .01 0M331.7 90.7a.85 .85 0 1 0 .01 0M334.1 90.3a.85 .85 0 1 0 .01 0M346.1 91.4a.85 .85 0 1 0 .01 0M331.7 122.9a.85 .85 0 1 0 .01 0M332.8 118.3a.85 .85 0 1 0 .01 0M347.1 82.6a.85 .85 0 1 0 .01 0M348.1 80.7a.85 .85 0 1 0 .01 0M331.2 132.9a.85 .85 0 1 0 .01 0M360.8 84.4a.85 .85 0 1 0 .01 0M331.7 99.4a.85 .85 0 1 0 .01 0M332.4 101.3a.85 .85 0 1 0 .01 0M331.8 81.8a.85 .85 0 1 0 .01 0M360.8 83.2a.85 .85 0 1 0 .01 0M331.2 153.2a.85 .85 0 1 0 .01 0M396.7 83.8a.85 .85 0 1 0 .01 0M350.2 92a.85 .85 0 1 0 .01 0M331.6 84.6a.85 .85 0 1 0 .01 0M339.9 83.4a.85 .85 0 1 0 .01 0M347.3 98.3a.85 .85 0 1 0 .01 0M417.9 94.4a.85 .85 0 1 0 .01 0M381.1 88.2a.85 .85 0 1 0 .01 0M370.9 103.7a.85 .85 0 1 0 .01 0M331.4 127a.85 .85 0 1 0 .01 0M337.5 82.9a.85 .85 0 1 0 .01 0M334.4 78.8a.85 .85 0 1 0 .01 0M334.4 70.6a.85 .85 0 1 0 .01 0M331.8 133.1a.85 .85 0 1 0 .01 0M331.7 108.5a.85 .85 0 1 0 .01 0M334.1 96.2a.85 .85 0 1 0 .01 0M334.8 80.3a.85 .85 0 1 0 .01 0M342.1 70.3a.85 .85 0 1 0 .01 0M332 87a.85 .85 0 1 0 .01 0M338.7 77.4a.85 .85 0 1 0 .01 0M342.4 83a.85 .85 0 1 0 .01 0M358.4 74.8a.85 .85 0 1 0 .01 0M335 77.3a.85 .85 0 1 0 .01 0M336.1 82.2a.85 .85 0 1 0 .01 0M338 92.1a.85 .85 0 1 0 .01 0M342.1 85.7a.85 .85 0 1 0 .01 0M332.9 87.9a.85 .85 0 1 0 .01 0M331.5 83.8a.85 .85 0 1 0 .01 0M335.2 94.6a.85 .85 0 1 0 .01 0M331.6 128.4a.85 .85 0 1 0 .01 0M331.8 107.8a.85 .85 0 1 0 .01 0M334.5 103.1a.85 .85 0 1 0 .01 0M332.9 106.9a.85 .85 0 1 0 .01 0M346.7 83.8a.85 .85 0 1 0 .01 0M391.4 84.3a.85 .85 0 1 0 .01 0M344.5 97a.85 .85 0 1 0 .01 0M335.4 90.2a.85 .85 0 1 0 .01 0M338.5 91.8a.85 .85 0 1 0 .01 0M339.1 84.2a.85 .85 0 1 0 .01 0M332.8 94.4a.85 .85 0 1 0 .01 0M356 85.1a.85 .85 0 1 0 .01 0M393.1 97.1a.85 .85 0 1 0 .01 0M332.1 92.3a.85 .85 0 1 0 .01 0M338.8 101.3a.85 .85 0 1 0 .01 0M332.4 130.9a.85 .85 0 1 0 .01 0M375.4 83.5a.85 .85 0 1 0 .01 0M342 72.8a.85 .85 0 1 0 .01 0M332.5 70.9a.85 .85 0 1 0 .01 0M333.2 79a.85 .85 0 1 0 .01 0M338.6 92.7a.85 .85 0 1 0 .01 0M340.1 93.5a.85 .85 0 1 0 .01 0M360 81.7a.85 .85 0 1 0 .01 0M331.9 123.4a.85 .85 0 1 0 .01 0M333.4 98.5a.85 .85 0 1 0 .01 0M332.9 90.9a.85 .85 0 1 0 .01 0M357 105.4a.85 .85 0 1 0 .01 0M334 95.7a.85 .85 0 1 0 .01 0M363.8 74.1a.85 .85 0 1 0 .01 0M364.2 86a.85 .85 0 1 0 .01 0M336.3 94a.85 .85 0 1 0 .01 0M331.3 114.2a.85 .85 0 1 0 .01 0M331.6 121.5a.85 .85 0 1 0 .01 0M334 119.1a.85 .85 0 1 0 .01 0M357.5 86.7a.85 .85 0 1 0 .01 0M334.3 110.3a.85 .85 0 1 0 .01 0M371.4 93.9a.85 .85 0 1 0 .01 0M333.2 85.2a.85 .85 0 1 0 .01 0M343.1 79.2a.85 .85 0 1 0 .01 0M373.9 86.6a.85 .85 0 1 0 .01 0M338.7 83.9a.85 .85 0 1 0 .01 0M423.1 94.5a.85 .85 0 1 0 .01 0M343.9 79.2a.85 .85 0 1 0 .01 0M370.2 92.6a.85 .85 0 1 0 .01 0M332.3 137.3a.85 .85 0 1 0 .01 0M355.3 88.3a.85 .85 0 1 0 .01 0M334.8 74.2a.85 .85 0 1 0 .01 0M354.1 87.7a.85 .85 0 1 0 .01 0M353.1 74.7a.85 .85 0 1 0 .01 0M343.1 79.4a.85 .85 0 1 0 .01 0M332.9 133.6a.85 .85 0 1 0 .01 0M332 104.2a.85 .85 0 1 0 .01 0M443.6 94.2a.85 .85 0 1 0 .01 0M420.5 77.8a.85 .85 0 1 0 .01 0"/>
<path d="M332.5 87.6a.85 .85 0 1 0 .01 0M331.1 125.6a.85 .85 0 1 0 .01 0M344.4 106a.85 .85 0 1 0 .01 0M331.9 102.8a.85 .85 0 1 0 .01 0M338.2 82.2a.85 .85 0 1 0 .01 0M359.7 72.2a.85 .85 0 1 0 .01 0M354.8 105a.85 .85 0 1 0 .01 0M335.7 87.7a.85 .85 0 1 0 .01 0M331.7 106.5a.85 .85 0 1 0 .01 0M341.4 92.7a.85 .85 0 1 0 .01 0M331.6 121.4a.85 .85 0 1 0 .01 0M340.7 72.5a.85 .85 0 1 0 .01 0M353.6 79.7a.85 .85 0 1 0 .01 0M366.6 86a.85 .85 0 1 0 .01 0M340.9 99.4a.85 .85 0 1 0 .01 0M338.7 84.8a.85 .85 0 1 0 .01 0M338.3 75.6a.85 .85 0 1 0 .01 0M363.9 78.2a.85 .85 0 1 0 .01 0M403.2 86.9a.85 .85 0 1 0 .01 0M331.9 129.5a.85 .85 0 1 0 .01 0M333.4 90.4a.85 .85 0 1 0 .01 0M337.3 105.2a.85 .85 0 1 0 .01 0M332.9 95.9a.85 .85 0 1 0 .01 0M335.2 81.7a.85 .85 0 1 0 .01 0M332.9 69.1a.85 .85 0 1 0 .01 0M332.3 124.9a.85 .85 0 1 0 .01 0M374 79.5a.85 .85 0 1 0 .01 0M332.1 136.8a.85 .85 0 1 0 .01 0M339.7 87.4a.85 .85 0 1 0 .01 0M390.8 79.4a.85 .85 0 1 0 .01 0M331.3 86.9a.85 .85 0 1 0 .01 0M331.5 107a.85 .85 0 1 0 .01 0M342.9 83.9a.85 .85 0 1 0 .01 0M331.8 139.4a.85 .85 0 1 0 .01 0M332.5 102.3a.85 .85 0 1 0 .01 0M331.9 113.4a.85 .85 0 1 0 .01 0M332.8 103.1a.85 .85 0 1 0 .01 0M331.9 113.3a.85 .85 0 1 0 .01 0M332.9 109a.85 .85 0 1 0 .01 0M335.2 97.5a.85 .85 0 1 0 .01 0M332.4 97.9a.85 .85 0 1 0 .01 0M332.1 126.1a.85 .85 0 1 0 .01 0M395.1 82.9a.85 .85 0 1 0 .01 0M407.5 89.8a.85 .85 0 1 0 .01 0M331.8 118.6a.85 .85 0 1 0 .01 0M331.5 115.4a.85 .85 0 1 0 .01 0M333.8 73.4a.85 .85 0 1 0 .01 0M371.1 78.4a.85 .85 0 1 0 .01 0M433.3 83.4a.85 .85 0 1 0 .01 0M335.9 82a.85 .85 0 1 0 .01 0M331.7 131.6a.85 .85 0 1 0 .01 0M349.8 88.4a.85 .85 0 1 0 .01 0M340.7 88.1a.85 .85 0 1 0 .01 0M331.9 126.9a.85 .85 0 1 0 .01 0M378.4 107.4a.85 .85 0 1 0 .01 0M332.4 76.8a.85 .85 0 1 0 .01 0M370.2 89.5a.85 .85 0 1 0 .01 0M331.7 108.3a.85 .85 0 1 0 .01 0M331.3 131.4a.85 .85 0 1 0 .01 0M332.3 102.9a.85 .85 0 1 0 .01 0M362.2 86.8a.85 .85 0 1 0 .01 0M333.9 99.4a.85 .85 0 1 0 .01 0M333.3 88.1a.85 .85 0 1 0 .01 0M332.1 144.8a.85 .85 0 1 0 .01 0M359.9 85.5a.85 .85 0 1 0 .01 0M333 117.8a.85 .85 0 1 0 .01 0M333.5 108.4a.85 .85 0 1 0 .01 0M336.2 88.1a.85 .85 0 1 0 .01 0M364.8 91.1a.85 .85 0 1 0 .01 0M388.4 97.3a.85 .85 0 1 0 .01 0M339.8 77.9a.85 .85 0 1 0 .01 0M332.1 100.8a.85 .85 0 1 0 .01 0M335.6 92.2a.85 .85 0 1 0 .01 0M334 96.8a.85 .85 0 1 0 .01 0M388.4 141.6a.85 .85 0 1 0 .01 0M332.1 134.3a.85 .85 0 1 0 .01 0M333.3 117.9a.85 .85 0 1 0 .01 0M337 84.7a.85 .85 0 1 0 .01 0M331.8 126.7a.85 .85 0 1 0 .01 0M332.1 134.4a.85 .85 0 1 0 .01 0M333.1 96.9a.85 .85 0 1 0 .01 0M342.6 78.8a.85 .85 0 1 0 .01 0M335.9 87.5a.85 .85 0 1 0 .01 0M387 88.1a.85 .85 0 1 0 .01 0M349.6 87.5a.85 .85 0 1 0 .01 0M331.7 119.9a.85 .85 0 1 0 .01 0M331.9 131.7a.85 .85 0 1 0 .01 0M339.8 88.1a.85 .85 0 1 0 .01 0M331.8 112.3a.85 .85 0 1 0 .01 0M334.3 74.2a.85 .85 0 1 0 .01 0M377.4 80.3a.85 .85 0 1 0 .01 0M333.5 131.4a.85 .85 0 1 0 .01 0M331.8 139.1a.85 .85 0 1 0 .01 0M340.6 99.5a.85 .85 0 1 0 .01 0M333.1 107.7a.85 .85 0 1 0 .01 0M333.7 126.1a.85 .85 0 1 0 .01 0M358 76.5a.85 .85 0 1 0 .01 0M333.4 73.7a.85 .85 0 1 0 .01 0M332 117.8a.85 .85 0 1 0 .01 0M351.4 104.2a.85 .85 0 1 0 .01 0M336 84a.85 .85 0 1 0 .01 0M371.4 84.6a.85 .85 0 1 0 .01 0M331.7 136.3a.85 .85 0 1 0 .01 0M331.2 119.9a.85 .85 0 1 0 .01 0M345.9 80.1a.85 .85 0 1 0 .01 0M428.4 93.2a.85 .85 0 1 0 .01 0M379.7 83.7a.85 .85 0 1 0 .01 0M338.8 110a.85 .85 0 1 0 .01 0M331.9 91.9a.85 .85 0 1 0 .01 0M333.5 82a.85 .85 0 1 0 .01 0M331.8 130.6a.85 .85 0 1 0 .01 0M389.4 79.9a.85 .85 0 1 0 .01 0M332.7 93a.85 .85 0 1 0 .01 0M444.2 98a.85 .85 0 1 0 .01 0M331.6 133.1a.85 .85 0 1 0 .01 0M333.2 91.6a.85 .85 0 1 0 .01 0M358 84.1a.85 .85 0 1 0 .01 0M334.4 87.9a.85 .85 0 1 0 .01 0M356 82a.85 .85 0 1 0 .01 0M399.2 78a.85 .85 0 1 0 .01 0M335 80.5a.85 .85 0 1 0 .01 0M342.7 82.4a.85 .85 0 1 0 .01 0M331.9 145.8a.85 .85 0 1 0 .01 0M370.5 82.1a.85 .85 0 1 0 .01 0M332.3 124.3a.85 .85 0 1 0 .01 0M389.9 86.7a.85 .85 0 1 0 .01 0M360.4 89.4a.85 .85 0 1 0 .01 0M346.7 79.3a.85 .85 0 1 0 .01 0M330.9 125.6a.85 .85 0 1 0 .01 0M331.3 97a.85 .85 0 1 0 .01 0M360.4 90.2a.85 .85 0 1 0 .01 0M333.5 84.1a.85 .85 0 1 0 .01 0M333.1 81.3a.85 .85 0 1 0 .01 0M403.9 93a.85 .85 0 1 0 .01 0M361.2 100.2a.85 .85 0 1 0 .01 0M385.9 70.8a.85 .85 0 1 0 .01 0M336.4 98a.85 .85 0 1 0 .01 0M336.9 91.6a.85 .85 0 1 0 .01 0M334.7 88a.85 .85 0 1 0 .01 0M333 93.5a.85 .85 0 1 0 .01 0M359.8 103.4a.85 .85 0 1 0 .01 0M337.9 101.5a.85 .85 0 1 0 .01 0M335.7 73.7a.85 .85 0 1 0 .01 0M334.1 71.7a.85 .85 0 1 0 .01 0M332.8 104.2a.85 .85 0 1 0 .01 0M332.9 90a.85 .85 0 1 0 .01 0M338.2 84.6a.85 .85 0 1 0 .01 0M344.1 87.1a.85 .85 0 1 0 .01 0M367.6 92.6a.85 .85 0 1 0 .01 0M412 87.6a.85 .85 0 1 0 .01 0M353.3 87a.85 .85 0 1 0 .01 0M337 86.4a.85 .85 0 1 0 .01 0M412.7 77.8a.85 .85 0 1 0 .01 0M347.5 72a.85 .85 0 1 0 .01 0M343.9 89.6a.85 .85 0 1 0 .01 0M482.4 91.1a.85 .85 0 1 0 .01 0M356.3 81.6a.85 .85 0 1 0 .01 0M343.7 76.6a.85 .85 0 1 0 .01 0M343 88.9a.85 .85 0 1 0 .01 0M331.5 136.4a.85 .85 0 1 0 .01 0M356.8 83.5a.85 .85 0 1 0 .01 0M335.9 76.9a.85 .85 0 1 0 .01 0M340.5 84.3a.85 .85 0 1 0 .01 0M446.2 92.7a.85 .85 0 1 0 .01 0M333.2 114.8a.85 .85 0 1 0 .01 0M345.5 80.6a.85 .85 0 1 0 .01 0M422.1 95.7a.85 .85 0 1 0 .01 0M342 73.3a.85 .85 0 1 0 .01 0M353.2 95.9a.85 .85 0 1 0 .01 0M331.2 94.3a.85 .85 0 1 0 .01 0M332.7 126.9a.85 .85 0 1 0 .01 0M342.8 85.7a.85 .85 0 1 0 .01 0M332.2 87a.85 .85 0 1 0 .01 0M331.8 95.6a.85 .85 0 1 0 .01 0M393.8 86.5a.85 .85 0 1 0 .01 0M333.1 88.2a.85 .85 0 1 0 .01 0M339.6 88.7a.85 .85 0 1 0 .01 0M404.1 95.1a.85 .85 0 1 0 .01 0M333.5 82.4a.85 .85 0 1 0 .01 0M331.3 115.5a.85 .85 0 1 0 .01 0M365.8 91.4a.85 .85 0 1 0 .01 0M333.9 87.2a.85 .85 0 1 0 .01 0M332.4 85.5a.85 .85 0 1 0 .01 0M332.2 124.8a.85 .85 0 1 0 .01 0M354.5 92a.85 .85 0 1 0 .01 0M333.7 77a.85 .85 0 1 0 .01 0M390.7 86.6a.85 .85 0 1 0 .01 0M332.6 126a.85 .85 0 1 0 .01 0M379.2 94.7a.85 .85 0 1 0 .01 0M332.5 80.3a.85 .85 0 1 0 .01 0M332.7 97.6a.85 .85 0 1 0 .01 0M331.4 82.5a.85 .85 0 1 0 .01 0M337.7 93.4a.85 .85 0 1 0 .01 0M332.5 125.2a.85 .85 0 1 0 .01 0M332.3 110.4a.85 .85 0 1 0 .01 0M333.4 90.3a.85 .85 0 1 0 .01 0M332.1 101.5a.85 .85 0 1 0 .01 0M332.6 109.6a.85 .85 0 1 0 .01 0M332.2 115.4a.85 .85 0 1 0 .01 0M332.3 105.2a.85 .85 0 1 0 .01 0M357.6 86.3a.85 .85 0 1 0 .01 0M384.3 82.8a.85 .85 0 1 0 .01 0M331.8 108.9a.85 .85 0 1 0 .01 0M332.8 87.6a.85 .85 0 1 0 .01 0M344.6 79a.85 .85 0 1 0 .01 0M332.5 98.6a.85 .85 0 1 0 .01 0M366 101.3a.85 .85 0 1 0 .01 0M377.6 79.9a.85 .85 0 1 0 .01 0M339.2 77.5a.85 .85 0 1 0 .01 0M332.9 109.3a.85 .85 0 1 0 .01 0M332.2 107.1a.85 .85 0 1 0 .01 0M331.9 139a.85 .85 0 1 0 .01 0M345.1 92.8a.85 .85 0 1 0 .01 0M331.4 94.5a.85 .85 0 1 0 .01 0M334.8 92.3a.85 .85 0 1 0 .01 0M334.6 90.7a.85 .85 0 1 0 .01 0M332 108a.85 .85 0 1 0 .01 0M332.2 102.9a.85 .85 0 1 0 .01 0M341.4 67.5a.85 .85 0 1 0 .01 0M332.9 86.6a.85 .85 0 1 0 .01 0M339 86.5a.85 .85 0 1 0 .01 0M331.3 147.3a.85 .85 0 1 0 .01 0M368.3 94.4a.85 .85 0 1 0 .01 0M414.3 95.5a.85 .85 0 1 0 .01 0M402.6 91.6a.85 .85 0 1 0 .01 0M331.9 128a.85 .85 0 1 0 .01 0M335.1 79.7a.85 .85 0 1 0 .01 0M331.7 115.6a.85 .85 0 1 0 .01 0M332 80.8a.85 .85 0 1 0 .01 0M333.6 85.5a.85 .85 0 1 0 .01 0M363.9 81.7a.85 .85 0 1 0 .01 0M332 81.4a.85 .85 0 1 0 .01 0M340.4 76.4a.85 .85 0 1 0 .01 0M362.3 95.3a.85 .85 0 1 0 .01 0M331.6 137.8a.85 .85 0 1 0 .01 0M331.9 133.9a.85 .85 0 1 0 .01 0M331.9 127.2a.85 .85 0 1 0 .01 0M364.8 82.8a.85 .85 0 1 0 .01 0M377.5 96.8a.85 .85 0 1 0 .01 0M333.2 118.3a.85 .85 0 1 0 .01 0M336.5 87.4a.85 .85 0 1 0 .01 0M342.8 85.8a.85 .85 0 1 0 .01 0M331.4 141a.85 .85 0 1 0 .01 0M404 88.6a.85 .85 0 1 0 .01 0M360.1 83.8a.85 .85 0 1 0 .01 0M347.5 92.8a.85 .85 0 1 0 .01 0M334.8 93a.85 .85 0 1 0 .01 0M335 67.5a.85 .85 0 1 0 .01 0M334.9 88.9a.85 .85 0 1 0 .01 0M349.9 76.8a.85 .85 0 1 0 .01 0M332.2 115.7a.85 .85 0 1 0 .01 0M334 82.2a.85 .85 0 1 0 .01 0M337 72.2a.85 .85 0 1 0 .01 0M332.1 68.9a.85 .85 0 1 0 .01 0M337.6 88.7a.85 .85 0 1 0 .01 0M349.2 91.2a.85 .85 0 1 0 .01 0M335.4 84.4a.85 .85 0 1 0 .01 0M339.6 91.8a.85 .85 0 1 0 .01 0M337 79.3a.85 .85 0 1 0 .01 0M332.1 100.4a.85 .85 0 1 0 .01 0M410.1 79.7a.85 .85 0 1 0 .01 0M354.6 80.2a.85 .85 0 1 0 .01 0M333.9 74.7a.85 .85 0 1 0 .01 0M333.9 76.5a.85 .85 0 1 0 .01 0M341 89.9a.85 .85 0 1 0 .01 0M333.6 70.1a.85 .85 0 1 0 .01 0"/>
<path d="M332.7 96.7a.85 .85 0 1 0 .01 0M392.8 91.7a.85 .85 0 1 0 .01 0M334.3 86.5a.85 .85 0 1 0 .01 0M378.7 92.5a.85 .85 0 1 0 .01 0M332 128.4a.85 .85 0 1 0 .01 0M367 85a.85 .85 0 1 0 .01 0M332.9 81.8a.85 .85 0 1 0 .01 0M331.5 117.2a.85 .85 0 1 0 .01 0M377.9 82.9a.85 .85 0 1 0 .01 0M333.2 73.3a.85 .85 0 1 0 .01 0M334.2 96.3a.85 .85 0 1 0 .01 0M359.4 79.3a.85 .85 0 1 0 .01 0M332.1 128.1a.85 .85 0 1 0 .01 0M353.4 88.3a.85 .85 0 1 0 .01 0M338.6 88.8a.85 .85 0 1 0 .01 0M343.1 85.2a.85 .85 0 1 0 .01 0M350.7 84.7a.85 .85 0 1 0 .01 0M352.2 83.9a.85 .85 0 1 0 .01 0M350.9 89.5a.85 .85 0 1 0 .01 0M347.5 92.8a.85 .85 0 1 0 .01 0M331.8 140.9a.85 .85 0 1 0 .01 0M370 73.1a.85 .85 0 1 0 .01 0M332 140.2a.85 .85 0 1 0 .01 0M468.9 97.5a.85 .85 0 1 0 .01 0M358.8 85.9a.85 .85 0 1 0 .01 0M413.5 80.4a.85 .85 0 1 0 .01 0M355.6 75.5a.85 .85 0 1 0 .01 0M342.6 85.6a.85 .85 0 1 0 .01 0M410.8 97.1a.85 .85 0 1 0 .01 0M332.4 97.7a.85 .85 0 1 0 .01 0M335.4 87.8a.85 .85 0 1 0 .01 0M337.3 87.3a.85 .85 0 1 0 .01 0M367.2 83.2a.85 .85 0 1 0 .01 0M332.1 123a.85 .85 0 1 0 .01 0M362.5 85.1a.85 .85 0 1 0 .01 0M332.1 98.3a.85 .85 0 1 0 .01 0M332.7 136.8a.85 .85 0 1 0 .01 0M334.6 81.6a.85 .85 0 1 0 .01 0M338.4 87.5a.85 .85 0 1 0 .01 0M333.1 107.8a.85 .85 0 1 0 .01 0M336.6 82.9a.85 .85 0 1 0 .01 0M335.9 72.1a.85 .85 0 1 0 .01 0M390 87.8a.85 .85 0 1 0 .01 0M334.4 95.6a.85 .85 0 1 0 .01 0M331.1 131a.85 .85 0 1 0 .01 0M334.6 99.8a.85 .85 0 1 0 .01 0M331.5 142.1a.85 .85 0 1 0 .01 0M332.7 95.7a.85 .85 0 1 0 .01 0M331.9 117.4a.85 .85 0 1 0 .01 0M335.3 86.2a.85 .85 0 1 0 .01 0M384.6 90.8a.85 .85 0 1 0 .01 0M336.8 92.7a.85 .85 0 1 0 .01 0M336.4 88.3a.85 .85 0 1 0 .01 0M335.5 82.9a.85 .85 0 1 0 .01 0M334.7 80a.85 .85 0 1 0 .01 0M370.1 85a.85 .85 0 1 0 .01 0M333.2 99a.85 .85 0 1 0 .01 0M333.1 112.7a.85 .85 0 1 0 .01 0M331.6 103.6a.85 .85 0 1 0 .01 0M338.4 77a.85 .85 0 1 0 .01 0M338.3 97.4a.85 .85 0 1 0 .01 0M332.1 117.9a.85 .85 0 1 0 .01 0M333.1 96.6a.85 .85 0 1 0 .01 0M343.3 76.3a.85 .85 0 1 0 .01 0M331.9 110a.85 .85 0 1 0 .01 0M332.1 98.4a.85 .85 0 1 0 .01 0M336.2 93.2a.85 .85 0 1 0 .01 0M416.3 82.5a.85 .85 0 1 0 .01 0M352.3 81.5a.85 .85 0 1 0 .01 0M331.9 130.7a.85 .85 0 1 0 .01 0M405.2 87.1a.85 .85 0 1 0 .01 0M361.3 91.9a.85 .85 0 1 0 .01 0M332.6 100a.85 .85 0 1 0 .01 0M348.1 88.8a.85 .85 0 1 0 .01 0M332 89.6a.85 .85 0 1 0 .01 0M338.7 87.1a.85 .85 0 1 0 .01 0M336.9 90a.85 .85 0 1 0 .01 0M333 99.5a.85 .85 0 1 0 .01 0M340.8 84.6a.85 .85 0 1 0 .01 0M331.6 108.9a.85 .85 0 1 0 .01 0M331.7 89.8a.85 .85 0 1 0 .01 0M334.4 83.4a.85 .85 0 1 0 .01 0M332.2 122.4a.85 .85 0 1 0 .01 0M418.6 98.5a.85 .85 0 1 0 .01 0M334.3 85.5a.85 .85 0 1 0 .01 0M334 85.7a.85 .85 0 1 0 .01 0M343.9 78.7a.85 .85 0 1 0 .01 0M334.1 74.6a.85 .85 0 1 0 .01 0M332 106a.85 .85 0 1 0 .01 0M332 134.7a.85 .85 0 1 0 .01 0M332.9 93.2a.85 .85 0 1 0 .01 0M332.1 121.2a.85 .85 0 1 0 .01 0M374 87.9a.85 .85 0 1 0 .01 0M332.4 89.7a.85 .85 0 1 0 .01 0M333.7 75.3a.85 .85 0 1 0 .01 0M349.2 84.9a.85 .85 0 1 0 .01 0M336.8 102.6a.85 .85 0 1 0 .01 0M331.6 104.3a.85 .85 0 1 0 .01 0M362 87a.85 .85 0 1 0 .01 0M332.6 118.8a.85 .85 0 1 0 .01 0M332.9 102a.85 .85 0 1 0 .01 0M357.2 83.3a.85 .85 0 1 0 .01 0M383.4 89a.85 .85 0 1 0 .01 0M331 138.6a.85 .85 0 1 0 .01 0M358.1 85.6a.85 .85 0 1 0 .01 0M334.3 93.3a.85 .85 0 1 0 .01 0M331.9 105.6a.85 .85 0 1 0 .01 0M332 81.9a.85 .85 0 1 0 .01 0M458.8 111.3a.85 .85 0 1 0 .01 0M331.6 128.5a.85 .85 0 1 0 .01 0M438.6 86.4a.85 .85 0 1 0 .01 0M360.3 88.2a.85 .85 0 1 0 .01 0M333 104.3a.85 .85 0 1 0 .01 0M332 137.8a.85 .85 0 1 0 .01 0M332 159.9a.85 .85 0 1 0 .01 0M366.2 94.6a.85 .85 0 1 0 .01 0M332.6 90.3a.85 .85 0 1 0 .01 0M358.4 91.1a.85 .85 0 1 0 .01 0M336.3 87.7a.85 .85 0 1 0 .01 0M332 116.8a.85 .85 0 1 0 .01 0M332.2 109.6a.85 .85 0 1 0 .01 0M334.4 96.8a.85 .85 0 1 0 .01 0M332.3 87.6a.85 .85 0 1 0 .01 0M331.6 99.2a.85 .85 0 1 0 .01 0M354.1 73.2a.85 .85 0 1 0 .01 0M332.3 80.5a.85 .85 0 1 0 .01 0M341.5 83.3a.85 .85 0 1 0 .01 0M335.7 105.4a.85 .85 0 1 0 .01 0M334 90.7a.85 .85 0 1 0 .01 0M367 80.3a.85 .85 0 1 0 .01 0M339.4 64.8a.85 .85 0 1 0 .01 0M339 84.8a.85 .85 0 1 0 .01 0M337.5 85.2a.85 .85 0 1 0 .01 0M332.1 104.4a.85 .85 0 1 0 .01 0M371.1 85.6a.85 .85 0 1 0 .01 0M332.4 123a.85 .85 0 1 0 .01 0M335.1 76.2a.85 .85 0 1 0 .01 0M342.4 87.3a.85 .85 0 1 0 .01 0M335.5 77.8a.85 .85 0 1 0 .01 0M332 135.9a.85 .85 0 1 0 .01 0M334.8 82.1a.85 .85 0 1 0 .01 0M395.9 75.5a.85 .85 0 1 0 .01 0M332.8 90.8a.85 .85 0 1 0 .01 0M374.4 88.3a.85 .85 0 1 0 .01 0M343.4 84.7a.85 .85 0 1 0 .01 0M332.3 134.8a.85 .85 0 1 0 .01 0M399.5 84.6a.85 .85 0 1 0 .01 0M336.6 94.9a.85 .85 0 1 0 .01 0M336.2 87.1a.85 .85 0 1 0 .01 0M332.6 82.8a.85 .85 0 1 0 .01 0M337 87.8a.85 .85 0 1 0 .01 0M333.2 92.9a.85 .85 0 1 0 .01 0M397.6 98.1a.85 .85 0 1 0 .01 0M331.8 79.4a.85 .85 0 1 0 .01 0M359.7 76.2a.85 .85 0 1 0 .01 0M332 111.3a.85 .85 0 1 0 .01 0M331.5 84.4a.85 .85 0 1 0 .01 0M336.3 107.8a.85 .85 0 1 0 .01 0M334.1 88.2a.85 .85 0 1 0 .01 0M332.2 104.8a.85 .85 0 1 0 .01 0M339.8 82.5a.85 .85 0 1 0 .01 0M331.3 96.5a.85 .85 0 1 0 .01 0M366.4 83.1a.85 .85 0 1 0 .01 0M332.1 98.8a.85 .85 0 1 0 .01 0M337.6 85a.85 .85 0 1 0 .01 0M377.4 99.7a.85 .85 0 1 0 .01 0M336.9 78.6a.85 .85 0 1 0 .01 0M334.1 89.3a.85 .85 0 1 0 .01 0M346 95.2a.85 .85 0 1 0 .01 0M361.3 84.8a.85 .85 0 1 0 .01 0M331.6 81.9a.85 .85 0 1 0 .01 0M332.5 141a.85 .85 0 1 0 .01 0M331.5 99.9a.85 .85 0 1 0 .01 0M331.6 123.7a.85 .85 0 1 0 .01 0M353.6 83.2a.85 .85 0 1 0 .01 0M332.1 106.3a.85 .85 0 1 0 .01 0M342.3 87.2a.85 .85 0 1 0 .01 0M348.3 80.8a.85 .85 0 1 0 .01 0M332.1 99.4a.85 .85 0 1 0 .01 0M338.1 93.4a.85 .85 0 1 0 .01 0M343.1 83.7a.85 .85 0 1 0 .01 0M393 88.7a.85 .85 0 1 0 .01 0M331.9 91.6a.85 .85 0 1 0 .01 0M347 87a.85 .85 0 1 0 .01 0M334.6 87.1a.85 .85 0 1 0 .01 0M332.7 115.4a.85 .85 0 1 0 .01 0M348.1 89.5a.85 .85 0 1 0 .01 0M334.1 80.9a.85 .85 0 1 0 .01 0M333.6 103.5a.85 .85 0 1 0 .01 0M342.8 94.7a.85 .85 0 1 0 .01 0M331.7 97.5a.85 .85 0 1 0 .01 0M355.5 82a.85 .85 0 1 0 .01 0M441.9 86a.85 .85 0 1 0 .01 0M380.7 86.1a.85 .85 0 1 0 .01 0M333.8 71.6a.85 .85 0 1 0 .01 0M418.7 89.2a.85 .85 0 1 0 .01 0M335 105.1a.85 .85 0 1 0 .01 0M332.2 87.7a.85 .85 0 1 0 .01 0M342.1 70.6a.85 .85 0 1 0 .01 0M374.2 78.8a.85 .85 0 1 0 .01 0M331.6 70.4a.85 .85 0 1 0 .01 0M390.8 87a.85 .85 0 1 0 .01 0M332.1 140.5a.85 .85 0 1 0 .01 0M331.8 122.4a.85 .85 0 1 0 .01 0M332.3 89.8a.85 .85 0 1 0 .01 0M334.6 84.6a.85 .85 0 1 0 .01 0M332.7 108.6a.85 .85 0 1 0 .01 0M392.3 95.5a.85 .85 0 1 0 .01 0M379.3 101.1a.85 .85 0 1 0 .01 0M333.1 79.7a.85 .85 0 1 0 .01 0M346.9 75.1a.85 .85 0 1 0 .01 0M333.7 73.3a.85 .85 0 1 0 .01 0M396.5 83.7a.85 .85 0 1 0 .01 0M353.7 76.2a.85 .85 0 1 0 .01 0M332 89a.85 .85 0 1 0 .01 0M333 107.8a.85 .85 0 1 0 .01 0M426.4 84.3a.85 .85 0 1 0 .01 0M331.8 103.8a.85 .85 0 1 0 .01 0M435.8 94.8a.85 .85 0 1 0 .01 0M331.9 110.5a.85 .85 0 1 0 .01 0M333.1 100.7a.85 .85 0 1 0 .01 0M351.3 87.1a.85 .85 0 1 0 .01 0M333.6 108.4a.85 .85 0 1 0 .01 0M345 70.1a.85 .85 0 1 0 .01 0M335.6 85.4a.85 .85 0 1 0 .01 0M340.2 94.7a.85 .85 0 1 0 .01 0M332 142a.85 .85 0 1 0 .01 0M337.7 88.8a.85 .85 0 1 0 .01 0M342.7 81.4a.85 .85 0 1 0 .01 0M331.3 121a.85 .85 0 1 0 .01 0M331.3 98.1a.85 .85 0 1 0 .01 0M333.2 100.9a.85 .85 0 1 0 .01 0M331.8 144.9a.85 .85 0 1 0 .01 0M391.5 85.7a.85 .85 0 1 0 .01 0M332.7 122.5a.85 .85 0 1 0 .01 0M333.7 101.8a.85 .85 0 1 0 .01 0M331.8 113.6a.85 .85 0 1 0 .01 0M346 86.4a.85 .85 0 1 0 .01 0M331.3 133.9a.85 .85 0 1 0 .01 0M358.2 77.9a.85 .85 0 1 0 .01 0M331.5 187a.85 .85 0 1 0 .01 0M334.8 69a.85 .85 0 1 0 .01 0M333 85a.85 .85 0 1 0 .01 0M332.9 76.5a.85 .85 0 1 0 .01 0M332.3 86.1a.85 .85 0 1 0 .01 0M333.8 90.9a.85 .85 0 1 0 .01 0M332.4 111.2a.85 .85 0 1 0 .01 0M335.3 79.8a.85 .85 0 1 0 .01 0M373.9 83.6a.85 .85 0 1 0 .01 0M336.3 76a.85 .85 0 1 0 .01 0M337 90.3a.85 .85 0 1 0 .01 0M331.8 126.9a.85 .85 0 1 0 .01 0M331.7 96.3a.85 .85 0 1 0 .01 0M332.6 122.1a.85 .85 0 1 0 .01 0M349.4 96.6a.85 .85 0 1 0 .01 0M334 115.8a.85 .85 0 1 0 .01 0M333.1 103.6a.85 .85 0 1 0 .01 0M333.9 98.9a.85 .85 0 1 0 .01 0M334.3 75.4a.85 .85 0 1 0 .01 0M351 80a.85 .85 0 1 0 .01 0M425.4 86.6a.85 .85 0 1 0 .01 0M332.5 85.3a.85 .85 0 1 0 .01 0M340.4 71.6a.85 .85 0 1 0 .01 0M393.9 80.4a.85 .85 0 1 0 .01 0M346.7 81a.85 .85 0 1 0 .01 0M331.7 133.3a.85 .85 0 1 0 .01 0"/>
<path d="M334.8 83.2a.85 .85 0 1 0 .01 0M333 87.7a.85 .85 0 1 0 .01 0M354.9 73.4a.85 .85 0 1 0 .01 0M338.5 85.8a.85 .85 0 1 0 .01 0M332.4 148.8a.85 .85 0 1 0 .01 0M425.3 82.3a.85 .85 0 1 0 .01 0M333.4 83.3a.85 .85 0 1 0 .01 0M371.8 85.4a.85 .85 0 1 0 .01 0M334.4 115.4a.85 .85 0 1 0 .01 0M331.5 75.2a.85 .85 0 1 0 .01 0M332.5 110.2a.85 .85 0 1 0 .01 0M334.7 85.9a.85 .85 0 1 0 .01 0M335.4 102.9a.85 .85 0 1 0 .01 0M351 95a.85 .85 0 1 0 .01 0M359.4 79.6a.85 .85 0 1 0 .01 0M331.5 99.5a.85 .85 0 1 0 .01 0M350.5 77.7a.85 .85 0 1 0 .01 0M355.7 93.4a.85 .85 0 1 0 .01 0M378.2 82.4a.85 .85 0 1 0 .01 0M338.4 84.1a.85 .85 0 1 0 .01 0M369.1 84.7a.85 .85 0 1 0 .01 0M333.4 96.9a.85 .85 0 1 0 .01 0M332.5 88.8a.85 .85 0 1 0 .01 0M344.4 79.1a.85 .85 0 1 0 .01 0M331.8 105.3a.85 .85 0 1 0 .01 0M350 84.4a.85 .85 0 1 0 .01 0M336.8 85a.85 .85 0 1 0 .01 0M343.9 86.3a.85 .85 0 1 0 .01 0M331.8 119.2a.85 .85 0 1 0 .01 0M336 95.1a.85 .85 0 1 0 .01 0M332 111.4a.85 .85 0 1 0 .01 0M332.3 92.9a.85 .85 0 1 0 .01 0M357.2 78.7a.85 .85 0 1 0 .01 0M354.2 84.3a.85 .85 0 1 0 .01 0M404 87.6a.85 .85 0 1 0 .01 0M374.3 71.5a.85 .85 0 1 0 .01 0M359.3 86.5a.85 .85 0 1 0 .01 0M331.5 121.6a.85 .85 0 1 0 .01 0M331.6 131.7a.85 .85 0 1 0 .01 0M389.3 85.3a.85 .85 0 1 0 .01 0M358.4 94.6a.85 .85 0 1 0 .01 0M373.3 85.4a.85 .85 0 1 0 .01 0M438.5 93.2a.85 .85 0 1 0 .01 0M332.7 113.4a.85 .85 0 1 0 .01 0M360.4 91.8a.85 .85 0 1 0 .01 0M332.4 87.6a.85 .85 0 1 0 .01 0M331.8 116.4a.85 .85 0 1 0 .01 0M360.2 79.1a.85 .85 0 1 0 .01 0M331.9 127.6a.85 .85 0 1 0 .01 0M352.5 87.2a.85 .85 0 1 0 .01 0M331.9 102.3a.85 .85 0 1 0 .01 0M332.2 132.7a.85 .85 0 1 0 .01 0M334.5 87.7a.85 .85 0 1 0 .01 0M361 75a.85 .85 0 1 0 .01 0M331.5 108.4a.85 .85 0 1 0 .01 0M346.2 77.8a.85 .85 0 1 0 .01 0M338.5 82.6a.85 .85 0 1 0 .01 0M345.6 73.5a.85 .85 0 1 0 .01 0M333.4 89.8a.85 .85 0 1 0 .01 0M346.2 80.3a.85 .85 0 1 0 .01 0M335.6 98.9a.85 .85 0 1 0 .01 0M335.3 95.2a.85 .85 0 1 0 .01 0M335.4 78.3a.85 .85 0 1 0 .01 0M335.8 67.3a.85 .85 0 1 0 .01 0M340.4 90.9a.85 .85 0 1 0 .01 0M343.5 92a.85 .85 0 1 0 .01 0M333 82.7a.85 .85 0 1 0 .01 0M332.5 120.6a.85 .85 0 1 0 .01 0M331.8 134.4a.85 .85 0 1 0 .01 0M355.9 82a.85 .85 0 1 0 .01 0M380.6 86.8a.85 .85 0 1 0 .01 0M331.8 112a.85 .85 0 1 0 .01 0M334.9 109.9a.85 .85 0 1 0 .01 0M336 74.1a.85 .85 0 1 0 .01 0M338.9 91.2a.85 .85 0 1 0 .01 0M332.2 119.6a.85 .85 0 1 0 .01 0M331.8 138a.85 .85 0 1 0 .01 0M334.7 78.7a.85 .85 0 1 0 .01 0M331.8 139.3a.85 .85 0 1 0 .01 0M332 119.3a.85 .85 0 1 0 .01 0M332 124.4a.85 .85 0 1 0 .01 0M337.2 83.6a.85 .85 0 1 0 .01 0M343.3 84.9a.85 .85 0 1 0 .01 0M331.5 137.4a.85 .85 0 1 0 .01 0M331.6 105a.85 .85 0 1 0 .01 0M333.6 91.9a.85 .85 0 1 0 .01 0M368.1 90.2a.85 .85 0 1 0 .01 0M331.7 107.8a.85 .85 0 1 0 .01 0M332.1 79.4a.85 .85 0 1 0 .01 0M392.4 87.5a.85 .85 0 1 0 .01 0M348.9 83.4a.85 .85 0 1 0 .01 0M332.1 81.7a.85 .85 0 1 0 .01 0M332.3 84.5a.85 .85 0 1 0 .01 0M332.8 120.7a.85 .85 0 1 0 .01 0M332.9 133.3a.85 .85 0 1 0 .01 0M332.1 83.4a.85 .85 0 1 0 .01 0M332.1 118.6a.85 .85 0 1 0 .01 0M354.1 75.5a.85 .85 0 1 0 .01 0M331.8 113a.85 .85 0 1 0 .01 0M332.2 92.9a.85 .85 0 1 0 .01 0M342.7 88.2a.85 .85 0 1 0 .01 0M336.8 66.5a.85 .85 0 1 0 .01 0M354.2 92.4a.85 .85 0 1 0 .01 0M331.6 129.5a.85 .85 0 1 0 .01 0M336.8 77.2a.85 .85 0 1 0 .01 0M331.7 89.9a.85 .85 0 1 0 .01 0M331.5 117.7a.85 .85 0 1 0 .01 0M333.4 82.5a.85 .85 0 1 0 .01 0M339.6 78.9a.85 .85 0 1 0 .01 0M331.9 136a.85 .85 0 1 0 .01 0M344.6 82.2a.85 .85 0 1 0 .01 0M331.5 112.6a.85 .85 0 1 0 .01 0M331.8 112.7a.85 .85 0 1 0 .01 0M332.2 125a.85 .85 0 1 0 .01 0M335.3 81.9a.85 .85 0 1 0 .01 0M333.4 84.1a.85 .85 0 1 0 .01 0M332 105.1a.85 .85 0 1 0 .01 0M331.5 105a.85 .85 0 1 0 .01 0M337.8 111.3a.85 .85 0 1 0 .01 0M357.7 80.7a.85 .85 0 1 0 .01 0M357.8 80.8a.85 .85 0 1 0 .01 0M333.6 91.8a.85 .85 0 1 0 .01 0M331.7 116.3a.85 .85 0 1 0 .01 0M333.5 91.2a.85 .85 0 1 0 .01 0M332 107.8a.85 .85 0 1 0 .01 0M332.7 116.9a.85 .85 0 1 0 .01 0M470.8 103.2a.85 .85 0 1 0 .01 0M331.6 132.8a.85 .85 0 1 0 .01 0M363 85.1a.85 .85 0 1 0 .01 0M332.3 116.9a.85 .85 0 1 0 .01 0M332.4 116a.85 .85 0 1 0 .01 0M367.6 93.5a.85 .85 0 1 0 .01 0M332.7 70.5a.85 .85 0 1 0 .01 0M339.7 72.1a.85 .85 0 1 0 .01 0M348 82.1a.85 .85 0 1 0 .01 0M346.1 80.6a.85 .85 0 1 0 .01 0M337.4 86a.85 .85 0 1 0 .01 0M333.6 85.1a.85 .85 0 1 0 .01 0M336.6 93.1a.85 .85 0 1 0 .01 0M332.6 95.3a.85 .85 0 1 0 .01 0M338.2 75.9a.85 .85 0 1 0 .01 0M332.6 95.9a.85 .85 0 1 0 .01 0M344.5 81.1a.85 .85 0 1 0 .01 0M331.8 142.4a.85 .85 0 1 0 .01 0M344.8 92.2a.85 .85 0 1 0 .01 0M338.3 77.6a.85 .85 0 1 0 .01 0M369 91a.85 .85 0 1 0 .01 0M332.1 120.1a.85 .85 0 1 0 .01 0M351.9 78.2a.85 .85 0 1 0 .01 0M389.5 92.2a.85 .85 0 1 0 .01 0M347.5 74.8a.85 .85 0 1 0 .01 0M332.1 113.2a.85 .85 0 1 0 .01 0M333 83.1a.85 .85 0 1 0 .01 0M332.2 110.9a.85 .85 0 1 0 .01 0M340 80.2a.85 .85 0 1 0 .01 0M344.5 92.8a.85 .85 0 1 0 .01 0M364.9 86.7a.85 .85 0 1 0 .01 0M458.1 92.9a.85 .85 0 1 0 .01 0M332.4 139.4a.85 .85 0 1 0 .01 0M406.2 85.4a.85 .85 0 1 0 .01 0M333.2 104.6a.85 .85 0 1 0 .01 0M335.5 91a.85 .85 0 1 0 .01 0M377 88.1a.85 .85 0 1 0 .01 0M333 71.7a.85 .85 0 1 0 .01 0M356.6 88.5a.85 .85 0 1 0 .01 0M331.9 129.6a.85 .85 0 1 0 .01 0M332.3 50.1a.85 .85 0 1 0 .01 0M347.2 87.4a.85 .85 0 1 0 .01 0M332.5 91.1a.85 .85 0 1 0 .01 0M342.6 81.1a.85 .85 0 1 0 .01 0M332.2 127.2a.85 .85 0 1 0 .01 0M332 136.2a.85 .85 0 1 0 .01 0M332.3 101a.85 .85 0 1 0 .01 0M335.7 69.6a.85 .85 0 1 0 .01 0M335 97.8a.85 .85 0 1 0 .01 0M338.2 85.6a.85 .85 0 1 0 .01 0M332.5 76.5a.85 .85 0 1 0 .01 0M335.7 101.6a.85 .85 0 1 0 .01 0M331.6 102.8a.85 .85 0 1 0 .01 0M341.1 90.6a.85 .85 0 1 0 .01 0M332.5 104.2a.85 .85 0 1 0 .01 0M435.4 90.5a.85 .85 0 1 0 .01 0M408 87.4a.85 .85 0 1 0 .01 0M332.1 111.8a.85 .85 0 1 0 .01 0M336.7 68.8a.85 .85 0 1 0 .01 0M349 91.7a.85 .85 0 1 0 .01 0M351 84.4a.85 .85 0 1 0 .01 0M364.1 85.8a.85 .85 0 1 0 .01 0M334 82.6a.85 .85 0 1 0 .01 0M336.8 79.7a.85 .85 0 1 0 .01 0M331.7 127.7a.85 .85 0 1 0 .01 0M332.4 106.1a.85 .85 0 1 0 .01 0M376.2 77.7a.85 .85 0 1 0 .01 0M331.3 136.1a.85 .85 0 1 0 .01 0M345.9 78.7a.85 .85 0 1 0 .01 0M372.9 88.6a.85 .85 0 1 0 .01 0M385.3 84.4a.85 .85 0 1 0 .01 0M332.1 108.1a.85 .85 0 1 0 .01 0M381.2 86.4a.85 .85 0 1 0 .01 0M356.3 94.5a.85 .85 0 1 0 .01 0M331.9 105.2a.85 .85 0 1 0 .01 0M331.8 108.8a.85 .85 0 1 0 .01 0M331.5 126.4a.85 .85 0 1 0 .01 0M332.6 120.9a.85 .85 0 1 0 .01 0M369.1 74.2a.85 .85 0 1 0 .01 0M338.3 73.6a.85 .85 0 1 0 .01 0M331.7 141.4a.85 .85 0 1 0 .01 0M341.4 82.9a.85 .85 0 1 0 .01 0M365.9 86.5a.85 .85 0 1 0 .01 0M340.1 86.6a.85 .85 0 1 0 .01 0M333.8 91.6a.85 .85 0 1 0 .01 0M332.6 111.7a.85 .85 0 1 0 .01 0M379.4 84a.85 .85 0 1 0 .01 0M336 88.1a.85 .85 0 1 0 .01 0M393.6 93.9a.85 .85 0 1 0 .01 0M333.1 66.5a.85 .85 0 1 0 .01 0M331.6 131.5a.85 .85 0 1 0 .01 0M335.1 96a.85 .85 0 1 0 .01 0M332.2 114.1a.85 .85 0 1 0 .01 0M344.6 83.6a.85 .85 0 1 0 .01 0M333.8 70.1a.85 .85 0 1 0 .01 0M332.9 109.3a.85 .85 0 1 0 .01 0M331.3 130.3a.85 .85 0 1 0 .01 0M332.6 113.6a.85 .85 0 1 0 .01 0M332.1 73.3a.85 .85 0 1 0 .01 0M331.8 123a.85 .85 0 1 0 .01 0M331.6 143.1a.85 .85 0 1 0 .01 0M333.3 95.3a.85 .85 0 1 0 .01 0M426.6 97.3a.85 .85 0 1 0 .01 0M332.9 129.5a.85 .85 0 1 0 .01 0M336.4 84.3a.85 .85 0 1 0 .01 0M331.6 137.2a.85 .85 0 1 0 .01 0M332.4 108.8a.85 .85 0 1 0 .01 0M335.9 93.8a.85 .85 0 1 0 .01 0M342.9 87.9a.85 .85 0 1 0 .01 0M336.7 67.1a.85 .85 0 1 0 .01 0M333.5 97.7a.85 .85 0 1 0 .01 0M331.7 77.7a.85 .85 0 1 0 .01 0M331.7 125.2a.85 .85 0 1 0 .01 0M389.7 86.3a.85 .85 0 1 0 .01 0M333.3 113.7a.85 .85 0 1 0 .01 0M332.3 92a.85 .85 0 1 0 .01 0M371.2 83.8a.85 .85 0 1 0 .01 0M332.7 71a.85 .85 0 1 0 .01 0M347.5 84a.85 .85 0 1 0 .01 0M332 104.5a.85 .85 0 1 0 .01 0M349.7 84.6a.85 .85 0 1 0 .01 0M332 132.2a.85 .85 0 1 0 .01 0M405.6 96.8a.85 .85 0 1 0 .01 0M334.1 90.9a.85 .85 0 1 0 .01 0M333 88.4a.85 .85 0 1 0 .01 0M350.4 90.2a.85 .85 0 1 0 .01 0M332.1 119.2a.85 .85 0 1 0 .01 0M392.1 99.1a.85 .85 0 1 0 .01 0M331.3 118.6a.85 .85 0 1 0 .01 0M359.9 91.7a.85 .85 0 1 0 .01 0M485.4 106a.85 .85 0 1 0 .01 0M334 112.6a.85 .85 0 1 0 .01 0M338.6 87.5a.85 .85 0 1 0 .01 0M335.8 79.6a.85 .85 0 1 0 .01 0M364.4 90.5a.85 .85 0 1 0 .01 0M345.2 89.6a.85 .85 0 1 0 .01 0M335.4 99.5a.85 .85 0 1 0 .01 0M331.5 119.3a.85 .85 0 1 0 .01 0M334.4 85.2a.85 .85 0 1 0 .01 0M335.9 79a.85 .85 0 1 0 .01 0"/>
<path d="M337.6 84.6a.85 .85 0 1 0 .01 0M332.2 137a.85 .85 0 1 0 .01 0M333.3 93.5a.85 .85 0 1 0 .01 0M352.6 90.4a.85 .85 0 1 0 .01 0M332 110.6a.85 .85 0 1 0 .01 0M337.9 81.4a.85 .85 0 1 0 .01 0M336.7 73.5a.85 .85 0 1 0 .01 0M340.8 89.7a.85 .85 0 1 0 .01 0M331.9 99.9a.85 .85 0 1 0 .01 0M383.1 87.1a.85 .85 0 1 0 .01 0M332 98.7a.85 .85 0 1 0 .01 0M346.9 91.9a.85 .85 0 1 0 .01 0M343.7 89.7a.85 .85 0 1 0 .01 0M340.9 94.3a.85 .85 0 1 0 .01 0M332 87.7a.85 .85 0 1 0 .01 0M384.1 86.2a.85 .85 0 1 0 .01 0M331.8 109.2a.85 .85 0 1 0 .01 0M332.2 105.1a.85 .85 0 1 0 .01 0M332.6 131.4a.85 .85 0 1 0 .01 0M333.3 95.8a.85 .85 0 1 0 .01 0M331.6 112.1a.85 .85 0 1 0 .01 0M354.8 86.6a.85 .85 0 1 0 .01 0M394.5 85.6a.85 .85 0 1 0 .01 0M352.6 84.7a.85 .85 0 1 0 .01 0M341.6 68.5a.85 .85 0 1 0 .01 0M355 90.1a.85 .85 0 1 0 .01 0M349.1 92.2a.85 .85 0 1 0 .01 0M332.8 90.9a.85 .85 0 1 0 .01 0M333 123.2a.85 .85 0 1 0 .01 0M379.7 82.9a.85 .85 0 1 0 .01 0M334.7 115a.85 .85 0 1 0 .01 0M333.8 84a.85 .85 0 1 0 .01 0M332.2 109.9a.85 .85 0 1 0 .01 0M374.4 82.9a.85 .85 0 1 0 .01 0M332.4 89.8a.85 .85 0 1 0 .01 0M332.2 114.9a.85 .85 0 1 0 .01 0M332 145.1a.85 .85 0 1 0 .01 0M332 137.8a.85 .85 0 1 0 .01 0M362.4 81.2a.85 .85 0 1 0 .01 0M362.6 75.4a.85 .85 0 1 0 .01 0M358.5 84.8a.85 .85 0 1 0 .01 0M338.9 79.8a.85 .85 0 1 0 .01 0M333.5 92.7a.85 .85 0 1 0 .01 0M444.7 85.8a.85 .85 0 1 0 .01 0M407.7 87.8a.85 .85 0 1 0 .01 0M335.3 97.9a.85 .85 0 1 0 .01 0M337.1 78.3a.85 .85 0 1 0 .01 0M332.6 133.6a.85 .85 0 1 0 .01 0M359.6 76.2a.85 .85 0 1 0 .01 0M332.7 86.8a.85 .85 0 1 0 .01 0M332.4 91.5a.85 .85 0 1 0 .01 0M331.8 145.2a.85 .85 0 1 0 .01 0M335.2 69.2a.85 .85 0 1 0 .01 0M332.9 112.5a.85 .85 0 1 0 .01 0M331.7 88.8a.85 .85 0 1 0 .01 0M332.5 80a.85 .85 0 1 0 .01 0M347.5 99.7a.85 .85 0 1 0 .01 0M333.8 125.6a.85 .85 0 1 0 .01 0M335.4 82.6a.85 .85 0 1 0 .01 0M347.6 85.5a.85 .85 0 1 0 .01 0M332.8 113.3a.85 .85 0 1 0 .01 0M333.4 92.8a.85 .85 0 1 0 .01 0M332.3 116.6a.85 .85 0 1 0 .01 0M333.8 92.7a.85 .85 0 1 0 .01 0M333.7 112.1a.85 .85 0 1 0 .01 0M334.6 79.9a.85 .85 0 1 0 .01 0M331.2 87.1a.85 .85 0 1 0 .01 0M332.8 122.5a.85 .85 0 1 0 .01 0M363.4 82.1a.85 .85 0 1 0 .01 0M332 88.2a.85 .85 0 1 0 .01 0M351 83.2a.85 .85 0 1 0 .01 0M354.8 76.8a.85 .85 0 1 0 .01 0M333.3 94.7a.85 .85 0 1 0 .01 0M344.7 91.8a.85 .85 0 1 0 .01 0M334.9 91.4a.85 .85 0 1 0 .01 0M362.8 88.4a.85 .85 0 1 0 .01 0M344.7 78.2a.85 .85 0 1 0 .01 0M355.4 83.3a.85 .85 0 1 0 .01 0M361.2 83.1a.85 .85 0 1 0 .01 0M331.7 75.4a.85 .85 0 1 0 .01 0M350.1 93.9a.85 .85 0 1 0 .01 0M332.4 96.2a.85 .85 0 1 0 .01 0M332.4 111.7a.85 .85 0 1 0 .01 0M347.8 78.3a.85 .85 0 1 0 .01 0M352.9 82.3a.85 .85 0 1 0 .01 0M333.5 108.3a.85 .85 0 1 0 .01 0M336.4 91.4a.85 .85 0 1 0 .01 0M381.3 73.9a.85 .85 0 1 0 .01 0M350 83.9a.85 .85 0 1 0 .01 0M334.8 86a.85 .85 0 1 0 .01 0M433.3 94.4a.85 .85 0 1 0 .01 0M331.3 141.4a.85 .85 0 1 0 .01 0M359.3 86.3a.85 .85 0 1 0 .01 0M337.9 83.4a.85 .85 0 1 0 .01 0M339.5 91.5a.85 .85 0 1 0 .01 0M334.5 64.8a.85 .85 0 1 0 .01 0M332.2 112.2a.85 .85 0 1 0 .01 0M332.5 83.5a.85 .85 0 1 0 .01 0M346.6 82.1a.85 .85 0 1 0 .01 0M332.3 117.7a.85 .85 0 1 0 .01 0M331.5 134.3a.85 .85 0 1 0 .01 0M331.8 125.8a.85 .85 0 1 0 .01 0M332 109.8a.85 .85 0 1 0 .01 0M373.7 86.2a.85 .85 0 1 0 .01 0M353.2 89.6a.85 .85 0 1 0 .01 0M332.1 140.1a.85 .85 0 1 0 .01 0M341 83.5a.85 .85 0 1 0 .01 0M341.1 80.7a.85 .85 0 1 0 .01 0M352.6 93a.85 .85 0 1 0 .01 0M424.6 93.1a.85 .85 0 1 0 .01 0M470.9 94.2a.85 .85 0 1 0 .01 0M332.7 109.2a.85 .85 0 1 0 .01 0M333.9 83.3a.85 .85 0 1 0 .01 0M358.4 79a.85 .85 0 1 0 .01 0M331.3 108.6a.85 .85 0 1 0 .01 0M369.2 79.1a.85 .85 0 1 0 .01 0M335.7 74.7a.85 .85 0 1 0 .01 0M343.6 81.5a.85 .85 0 1 0 .01 0M333.2 105.9a.85 .85 0 1 0 .01 0M334.6 79a.85 .85 0 1 0 .01 0M331.5 132.9a.85 .85 0 1 0 .01 0M346.5 86.2a.85 .85 0 1 0 .01 0M331.4 122.2a.85 .85 0 1 0 .01 0M331.8 134.6a.85 .85 0 1 0 .01 0M341.5 80.2a.85 .85 0 1 0 .01 0M332.2 68.7a.85 .85 0 1 0 .01 0M331.6 125.8a.85 .85 0 1 0 .01 0M352.1 93a.85 .85 0 1 0 .01 0M331.8 113.8a.85 .85 0 1 0 .01 0M331.8 132.8a.85 .85 0 1 0 .01 0M331.4 126.4a.85 .85 0 1 0 .01 0M333.7 101.9a.85 .85 0 1 0 .01 0M372.4 79.3a.85 .85 0 1 0 .01 0M338.9 93.3a.85 .85 0 1 0 .01 0M388.1 102.3a.85 .85 0 1 0 .01 0M391.4 84.2a.85 .85 0 1 0 .01 0M375.3 84.3a.85 .85 0 1 0 .01 0M335.3 96.9a.85 .85 0 1 0 .01 0M335.1 87.5a.85 .85 0 1 0 .01 0M369 85.2a.85 .85 0 1 0 .01 0M335.6 74.3a.85 .85 0 1 0 .01 0M331.4 114.9a.85 .85 0 1 0 .01 0M399.6 80.6a.85 .85 0 1 0 .01 0M331.8 138.7a.85 .85 0 1 0 .01 0M337.3 73.4a.85 .85 0 1 0 .01 0M335.8 70.3a.85 .85 0 1 0 .01 0M332.2 104.2a.85 .85 0 1 0 .01 0M334.5 92.2a.85 .85 0 1 0 .01 0M389.6 82.5a.85 .85 0 1 0 .01 0M354.6 86.1a.85 .85 0 1 0 .01 0M377.1 78.2a.85 .85 0 1 0 .01 0M333.4 117.5a.85 .85 0 1 0 .01 0M362.5 84.1a.85 .85 0 1 0 .01 0M341.2 92.3a.85 .85 0 1 0 .01 0M355.5 85.6a.85 .85 0 1 0 .01 0M348.5 83a.85 .85 0 1 0 .01 0M343.1 84a.85 .85 0 1 0 .01 0M407.7 89.5a.85 .85 0 1 0 .01 0M385.1 89.4a.85 .85 0 1 0 .01 0M331.8 128.5a.85 .85 0 1 0 .01 0M337.9 87.5a.85 .85 0 1 0 .01 0M334.9 98.6a.85 .85 0 1 0 .01 0M334.7 91.3a.85 .85 0 1 0 .01 0M336.9 118.6a.85 .85 0 1 0 .01 0M338.3 92.8a.85 .85 0 1 0 .01 0M361.1 83.4a.85 .85 0 1 0 .01 0M331.7 88.3a.85 .85 0 1 0 .01 0M334 78.2a.85 .85 0 1 0 .01 0M331.9 120.1a.85 .85 0 1 0 .01 0M333.1 120.5a.85 .85 0 1 0 .01 0M332.9 81a.85 .85 0 1 0 .01 0M341.6 79.5a.85 .85 0 1 0 .01 0M344.5 92.1a.85 .85 0 1 0 .01 0M336.5 99.9a.85 .85 0 1 0 .01 0M348.1 96.1a.85 .85 0 1 0 .01 0M343 76.9a.85 .85 0 1 0 .01 0M338 89.8a.85 .85 0 1 0 .01 0M333.5 75.8a.85 .85 0 1 0 .01 0M332.4 101.4a.85 .85 0 1 0 .01 0M332.2 118a.85 .85 0 1 0 .01 0M354.1 109.7a.85 .85 0 1 0 .01 0M352.2 93.3a.85 .85 0 1 0 .01 0M334.1 116.4a.85 .85 0 1 0 .01 0M445.4 96.5a.85 .85 0 1 0 .01 0M343 84.5a.85 .85 0 1 0 .01 0M339.2 92.2a.85 .85 0 1 0 .01 0M381.7 81.2a.85 .85 0 1 0 .01 0M337.5 90.9a.85 .85 0 1 0 .01 0M332.2 120.2a.85 .85 0 1 0 .01 0M334.9 96.8a.85 .85 0 1 0 .01 0M358.1 98.1a.85 .85 0 1 0 .01 0M345.4 85.1a.85 .85 0 1 0 .01 0M331.7 117.9a.85 .85 0 1 0 .01 0M436.4 93.8a.85 .85 0 1 0 .01 0M332.2 111.5a.85 .85 0 1 0 .01 0M331.5 114.8a.85 .85 0 1 0 .01 0M337.6 84a.85 .85 0 1 0 .01 0M336.9 99a.85 .85 0 1 0 .01 0M378.1 85a.85 .85 0 1 0 .01 0M427.8 89.9a.85 .85 0 1 0 .01 0M361.4 87.1a.85 .85 0 1 0 .01 0M332.6 88.3a.85 .85 0 1 0 .01 0M414.3 96.7a.85 .85 0 1 0 .01 0M342.5 87.3a.85 .85 0 1 0 .01 0M334.9 79a.85 .85 0 1 0 .01 0M354.5 86.3a.85 .85 0 1 0 .01 0M334.5 98.8a.85 .85 0 1 0 .01 0M365.9 90.2a.85 .85 0 1 0 .01 0M336.5 81.3a.85 .85 0 1 0 .01 0M344.7 83.8a.85 .85 0 1 0 .01 0M334.1 103.1a.85 .85 0 1 0 .01 0M345.5 75.9a.85 .85 0 1 0 .01 0M331.4 118.9a.85 .85 0 1 0 .01 0M332 136.1a.85 .85 0 1 0 .01 0M333.3 93.1a.85 .85 0 1 0 .01 0M334.5 75.4a.85 .85 0 1 0 .01 0M332.3 79.1a.85 .85 0 1 0 .01 0M331.7 143.5a.85 .85 0 1 0 .01 0M332 134.8a.85 .85 0 1 0 .01 0M357 81.9a.85 .85 0 1 0 .01 0M422.3 86.9a.85 .85 0 1 0 .01 0M331.4 126.4a.85 .85 0 1 0 .01 0M405.4 85a.85 .85 0 1 0 .01 0M333.6 74.3a.85 .85 0 1 0 .01 0M331.6 131.1a.85 .85 0 1 0 .01 0M334.4 90a.85 .85 0 1 0 .01 0M333.8 78.3a.85 .85 0 1 0 .01 0M333.7 86.5a.85 .85 0 1 0 .01 0M331.8 119.8a.85 .85 0 1 0 .01 0M337.7 77.4a.85 .85 0 1 0 .01 0M407.1 81.5a.85 .85 0 1 0 .01 0M331.9 114a.85 .85 0 1 0 .01 0M335 101.6a.85 .85 0 1 0 .01 0M332.5 90.8a.85 .85 0 1 0 .01 0M333.5 88.4a.85 .85 0 1 0 .01 0M336.2 75a.85 .85 0 1 0 .01 0M347.4 92a.85 .85 0 1 0 .01 0M332.3 118.5a.85 .85 0 1 0 .01 0M332.4 109.8a.85 .85 0 1 0 .01 0M346.3 84.8a.85 .85 0 1 0 .01 0M332 146a.85 .85 0 1 0 .01 0M388.3 78.9a.85 .85 0 1 0 .01 0M331.7 82.1a.85 .85 0 1 0 .01 0M350.2 95.6a.85 .85 0 1 0 .01 0M337.8 85.2a.85 .85 0 1 0 .01 0M377 92.3a.85 .85 0 1 0 .01 0M344.4 93.4a.85 .85 0 1 0 .01 0M335.9 83a.85 .85 0 1 0 .01 0M332.7 87a.85 .85 0 1 0 .01 0M332 131.3a.85 .85 0 1 0 .01 0M390 92a.85 .85 0 1 0 .01 0M338.3 75.6a.85 .85 0 1 0 .01 0M490.1 90.1a.85 .85 0 1 0 .01 0M334.2 84.1a.85 .85 0 1 0 .01 0M331.7 93.1a.85 .85 0 1 0 .01 0M340 81.6a.85 .85 0 1 0 .01 0M333.8 59.4a.85 .85 0 1 0 .01 0M333.5 106.9a.85 .85 0 1 0 .01 0M333 90.8a.85 .85 0 1 0 .01 0M370.8 82.8a.85 .85 0 1 0 .01 0M375.4 90.2a.85 .85 0 1 0 .01 0M332.1 89.9a.85 .85 0 1 0 .01 0M358.3 74.8a.85 .85 0 1 0 .01 0M338.4 77.2a.85 .85 0 1 0 .01 0M333.5 70.7a.85 .85 0 1 0 .01 0"/>
<path d="M355.8 84.6a.85 .85 0 1 0 .01 0M331.8 114.5a.85 .85 0 1 0 .01 0M333.3 85.7a.85 .85 0 1 0 .01 0M333.1 100.5a.85 .85 0 1 0 .01 0M331.6 132.7a.85 .85 0 1 0 .01 0M333.6 97.2a.85 .85 0 1 0 .01 0M332.3 116.3a.85 .85 0 1 0 .01 0M332.8 92.4a.85 .85 0 1 0 .01 0M332.2 110.1a.85 .85 0 1 0 .01 0M332.3 139a.85 .85 0 1 0 .01 0M332.9 86.2a.85 .85 0 1 0 .01 0M333.5 136.1a.85 .85 0 1 0 .01 0M350.5 82.3a.85 .85 0 1 0 .01 0M337.9 79.9a.85 .85 0 1 0 .01 0M332 134.2a.85 .85 0 1 0 .01 0M331.4 137.1a.85 .85 0 1 0 .01 0M331.5 105.9a.85 .85 0 1 0 .01 0M331.3 139.8a.85 .85 0 1 0 .01 0M331.9 124.1a.85 .85 0 1 0 .01 0M333.5 75.5a.85 .85 0 1 0 .01 0M332.4 83.4a.85 .85 0 1 0 .01 0M333 81.6a.85 .85 0 1 0 .01 0M360.1 85.8a.85 .85 0 1 0 .01 0M331.9 122.9a.85 .85 0 1 0 .01 0M371.7 85.5a.85 .85 0 1 0 .01 0M333.4 90.1a.85 .85 0 1 0 .01 0M372.3 86.3a.85 .85 0 1 0 .01 0M336.5 89.4a.85 .85 0 1 0 .01 0M331.7 119.8a.85 .85 0 1 0 .01 0M331.6 133.9a.85 .85 0 1 0 .01 0M350.1 72.4a.85 .85 0 1 0 .01 0M333.3 106.5a.85 .85 0 1 0 .01 0M340 85.7a.85 .85 0 1 0 .01 0M345.5 76.1a.85 .85 0 1 0 .01 0M335.6 76.6a.85 .85 0 1 0 .01 0M375.3 90.5a.85 .85 0 1 0 .01 0M336.8 85.7a.85 .85 0 1 0 .01 0M338.5 76.9a.85 .85 0 1 0 .01 0M339.8 85.3a.85 .85 0 1 0 .01 0M417 85.6a.85 .85 0 1 0 .01 0M338.2 84.6a.85 .85 0 1 0 .01 0M337.1 85.5a.85 .85 0 1 0 .01 0M338 91a.85 .85 0 1 0 .01 0M391.3 97.4a.85 .85 0 1 0 .01 0M333.3 82.3a.85 .85 0 1 0 .01 0M334.4 122.2a.85 .85 0 1 0 .01 0M332.4 87.1a.85 .85 0 1 0 .01 0M332.4 120.9a.85 .85 0 1 0 .01 0M410.1 92.9a.85 .85 0 1 0 .01 0M351.2 86.3a.85 .85 0 1 0 .01 0M331.7 119.7a.85 .85 0 1 0 .01 0M333 97.8a.85 .85 0 1 0 .01 0M345.2 75.3a.85 .85 0 1 0 .01 0M370.6 82.8a.85 .85 0 1 0 .01 0M443.6 89.2a.85 .85 0 1 0 .01 0M361.5 78.5a.85 .85 0 1 0 .01 0M332.2 133.2a.85 .85 0 1 0 .01 0M332.1 92.6a.85 .85 0 1 0 .01 0M331.5 129.8a.85 .85 0 1 0 .01 0M426.9 115.1a.85 .85 0 1 0 .01 0M367.5 80.7a.85 .85 0 1 0 .01 0M394.5 102.8a.85 .85 0 1 0 .01 0M331.3 117.9a.85 .85 0 1 0 .01 0M331.8 79.4a.85 .85 0 1 0 .01 0M332.7 100.3a.85 .85 0 1 0 .01 0M381.3 93.2a.85 .85 0 1 0 .01 0M336.5 72.7a.85 .85 0 1 0 .01 0M365.7 95.6a.85 .85 0 1 0 .01 0M332.5 87.1a.85 .85 0 1 0 .01 0M332.7 93.5a.85 .85 0 1 0 .01 0M332.3 127.1a.85 .85 0 1 0 .01 0M340.5 85.8a.85 .85 0 1 0 .01 0M420.6 87.7a.85 .85 0 1 0 .01 0M331.6 126.1a.85 .85 0 1 0 .01 0M331.7 136.3a.85 .85 0 1 0 .01 0M354.9 84.4a.85 .85 0 1 0 .01 0M353.3 76.3a.85 .85 0 1 0 .01 0M335.4 74.1a.85 .85 0 1 0 .01 0M334 95.5a.85 .85 0 1 0 .01 0M334.4 122.3a.85 .85 0 1 0 .01 0M335.4 81.7a.85 .85 0 1 0 .01 0M393.2 92.8a.85 .85 0 1 0 .01 0M335.4 78.7a.85 .85 0 1 0 .01 0M331.7 89.2a.85 .85 0 1 0 .01 0M332.2 113.4a.85 .85 0 1 0 .01 0M380.2 86.2a.85 .85 0 1 0 .01 0M331.7 106.6a.85 .85 0 1 0 .01 0M331.9 114.3a.85 .85 0 1 0 .01 0M336.3 82a.85 .85 0 1 0 .01 0M402 90a.85 .85 0 1 0 .01 0M332.3 83.2a.85 .85 0 1 0 .01 0M333.1 103.5a.85 .85 0 1 0 .01 0M362.2 86.5a.85 .85 0 1 0 .01 0M364.8 83.6a.85 .85 0 1 0 .01 0M332.6 136.5a.85 .85 0 1 0 .01 0M368.4 81a.85 .85 0 1 0 .01 0M338.2 84.4a.85 .85 0 1 0 .01 0M348.7 96.4a.85 .85 0 1 0 .01 0M336.5 74.7a.85 .85 0 1 0 .01 0M334.2 80.7a.85 .85 0 1 0 .01 0M333.7 85.6a.85 .85 0 1 0 .01 0M352 82.2a.85 .85 0 1 0 .01 0M338 81.2a.85 .85 0 1 0 .01 0M332.7 99.9a.85 .85 0 1 0 .01 0M338.1 75.4a.85 .85 0 1 0 .01 0M336.9 103.2a.85 .85 0 1 0 .01 0M333.5 95.3a.85 .85 0 1 0 .01 0M332.4 137.5a.85 .85 0 1 0 .01 0M340.5 97.3a.85 .85 0 1 0 .01 0M332.6 119.5a.85 .85 0 1 0 .01 0M358.1 80.3a.85 .85 0 1 0 .01 0M356.5 98.1a.85 .85 0 1 0 .01 0M335.6 88.8a.85 .85 0 1 0 .01 0M407 84.6a.85 .85 0 1 0 .01 0M356 85.7a.85 .85 0 1 0 .01 0M332.5 121.7a.85 .85 0 1 0 .01 0M349.1 77.8a.85 .85 0 1 0 .01 0M359 82.1a.85 .85 0 1 0 .01 0M331.8 129.6a.85 .85 0 1 0 .01 0M345.5 83.4a.85 .85 0 1 0 .01 0M332.8 120.5a.85 .85 0 1 0 .01 0M334.3 85.2a.85 .85 0 1 0 .01 0M350.5 83.5a.85 .85 0 1 0 .01 0M332.4 129.7a.85 .85 0 1 0 .01 0M335.8 82.9a.85 .85 0 1 0 .01 0M376.3 94.6a.85 .85 0 1 0 .01 0M331.7 134.8a.85 .85 0 1 0 .01 0M332 108a.85 .85 0 1 0 .01 0M351.2 90.5a.85 .85 0 1 0 .01 0M331.4 130.4a.85 .85 0 1 0 .01 0M335.1 84.9a.85 .85 0 1 0 .01 0M332 115a.85 .85 0 1 0 .01 0M361.4 80a.85 .85 0 1 0 .01 0M332.1 130.2a.85 .85 0 1 0 .01 0M336.3 81.8a.85 .85 0 1 0 .01 0M342.2 80a.85 .85 0 1 0 .01 0M338.9 84.9a.85 .85 0 1 0 .01 0M331.6 95.8a.85 .85 0 1 0 .01 0M333.3 98.5a.85 .85 0 1 0 .01 0M331.7 158.3a.85 .85 0 1 0 .01 0M331.9 131.7a.85 .85 0 1 0 .01 0M342.4 82a.85 .85 0 1 0 .01 0M331.2 131.6a.85 .85 0 1 0 .01 0M362.1 91.1a.85 .85 0 1 0 .01 0M420.6 96a.85 .85 0 1 0 .01 0M340.3 94a.85 .85 0 1 0 .01 0M368.6 83.5a.85 .85 0 1 0 .01 0M331.7 135.6a.85 .85 0 1 0 .01 0M333.9 85a.85 .85 0 1 0 .01 0M333.6 94.6a.85 .85 0 1 0 .01 0M332.5 86.4a.85 .85 0 1 0 .01 0M441.6 96.6a.85 .85 0 1 0 .01 0M331.5 135.3a.85 .85 0 1 0 .01 0M355.8 86.1a.85 .85 0 1 0 .01 0M331.4 138.3a.85 .85 0 1 0 .01 0M331.3 130.8a.85 .85 0 1 0 .01 0M331.6 117.6a.85 .85 0 1 0 .01 0M382.9 78.5a.85 .85 0 1 0 .01 0M385.9 93.4a.85 .85 0 1 0 .01 0M332.3 112a.85 .85 0 1 0 .01 0M331.7 104.3a.85 .85 0 1 0 .01 0M448.5 98.6a.85 .85 0 1 0 .01 0M426.2 119.4a.85 .85 0 1 0 .01 0M331.7 110.9a.85 .85 0 1 0 .01 0M332.1 93a.85 .85 0 1 0 .01 0M331.9 139a.85 .85 0 1 0 .01 0M397.2 84.3a.85 .85 0 1 0 .01 0M356.1 84.8a.85 .85 0 1 0 .01 0M356.2 83.7a.85 .85 0 1 0 .01 0M359 86.7a.85 .85 0 1 0 .01 0M332.5 97a.85 .85 0 1 0 .01 0M343 82.4a.85 .85 0 1 0 .01 0M331.2 96.2a.85 .85 0 1 0 .01 0M365.1 82.2a.85 .85 0 1 0 .01 0M332.1 99.3a.85 .85 0 1 0 .01 0M411.4 86.1a.85 .85 0 1 0 .01 0M364.7 85.4a.85 .85 0 1 0 .01 0M381.9 78.8a.85 .85 0 1 0 .01 0M382.1 76a.85 .85 0 1 0 .01 0M336.4 97.4a.85 .85 0 1 0 .01 0M331.7 102.4a.85 .85 0 1 0 .01 0M331.8 120.3a.85 .85 0 1 0 .01 0M338.1 80.1a.85 .85 0 1 0 .01 0M391 101.9a.85 .85 0 1 0 .01 0M343.9 87.6a.85 .85 0 1 0 .01 0M338.1 93.8a.85 .85 0 1 0 .01 0M331.3 106.6a.85 .85 0 1 0 .01 0M335 108.2a.85 .85 0 1 0 .01 0M331.4 137.4a.85 .85 0 1 0 .01 0M345.4 75a.85 .85 0 1 0 .01 0M336.2 81.6a.85 .85 0 1 0 .01 0M331.9 120.1a.85 .85 0 1 0 .01 0M383 91.8a.85 .85 0 1 0 .01 0M378.6 88.5a.85 .85 0 1 0 .01 0M339.6 81.2a.85 .85 0 1 0 .01 0M334.1 105.9a.85 .85 0 1 0 .01 0M469.6 94.9a.85 .85 0 1 0 .01 0M334.9 99.9a.85 .85 0 1 0 .01 0M332.3 102.5a.85 .85 0 1 0 .01 0M333.1 98.9a.85 .85 0 1 0 .01 0M331.7 134.7a.85 .85 0 1 0 .01 0M335.7 77.6a.85 .85 0 1 0 .01 0M347.5 80.7a.85 .85 0 1 0 .01 0M331.4 115.2a.85 .85 0 1 0 .01 0M356.7 86.6a.85 .85 0 1 0 .01 0M377.8 79.5a.85 .85 0 1 0 .01 0M377 86.7a.85 .85 0 1 0 .01 0M346.6 95.4a.85 .85 0 1 0 .01 0M332.4 128.6a.85 .85 0 1 0 .01 0M336 82a.85 .85 0 1 0 .01 0M335.5 106a.85 .85 0 1 0 .01 0M341.6 89.6a.85 .85 0 1 0 .01 0M466.4 88.1a.85 .85 0 1 0 .01 0M332.9 81a.85 .85 0 1 0 .01 0M331.5 110.7a.85 .85 0 1 0 .01 0M337.3 84.4a.85 .85 0 1 0 .01 0M334.9 79.8a.85 .85 0 1 0 .01 0M332.7 94a.85 .85 0 1 0 .01 0M334.9 96.8a.85 .85 0 1 0 .01 0M333.1 114.8a.85 .85 0 1 0 .01 0M339.8 75.5a.85 .85 0 1 0 .01 0M340.7 104.8a.85 .85 0 1 0 .01 0M372.1 80.7a.85 .85 0 1 0 .01 0M333.7 92.7a.85 .85 0 1 0 .01 0M332.6 89.3a.85 .85 0 1 0 .01 0M332.5 92.4a.85 .85 0 1 0 .01 0M391.3 82.4a.85 .85 0 1 0 .01 0M332.9 79.6a.85 .85 0 1 0 .01 0M331.3 101.9a.85 .85 0 1 0 .01 0M332.3 112.6a.85 .85 0 1 0 .01 0M333.6 102.2a.85 .85 0 1 0 .01 0M332.5 86.1a.85 .85 0 1 0 .01 0M333.2 108.8a.85 .85 0 1 0 .01 0M349.1 77.1a.85 .85 0 1 0 .01 0M331.5 89.5a.85 .85 0 1 0 .01 0M332.2 107.4a.85 .85 0 1 0 .01 0M347 85.5a.85 .85 0 1 0 .01 0M342.7 82a.85 .85 0 1 0 .01 0M363.2 84.7a.85 .85 0 1 0 .01 0M331.9 80.5a.85 .85 0 1 0 .01 0M335.7 84.3a.85 .85 0 1 0 .01 0M355.7 82.7a.85 .85 0 1 0 .01 0M347.7 97.9a.85 .85 0 1 0 .01 0M333 86.5a.85 .85 0 1 0 .01 0M331.5 132a.85 .85 0 1 0 .01 0M393.3 89.2a.85 .85 0 1 0 .01 0M334.2 95.4a.85 .85 0 1 0 .01 0M332.7 83.9a.85 .85 0 1 0 .01 0M425.7 86.8a.85 .85 0 1 0 .01 0M358.7 91.1a.85 .85 0 1 0 .01 0M383 87.3a.85 .85 0 1 0 .01 0M339.8 75.3a.85 .85 0 1 0 .01 0M414.8 92.1a.85 .85 0 1 0 .01 0M338.7 82.2a.85 .85 0 1 0 .01 0M352 88.3a.85 .85 0 1 0 .01 0M331.6 90.9a.85 .85 0 1 0 .01 0M345.9 67.1a.85 .85 0 1 0 .01 0M345.2 85.4a.85 .85 0 1 0 .01 0M333.6 78.5a.85 .85 0 1 0 .01 0M338.6 85.9a.85 .85 0 1 0 .01 0M334.2 86.4a.85 .85 0 1 0 .01 0M337.7 93.3a.85 .85 0 1 0 .01 0M331.6 120.6a.85 .85 0 1 0 .01 0M331.3 124.5a.85 .85 0 1 0 .01 0M331.8 78.9a.85 .85 0 1 0 .01 0"/>
<path d="M389.2 88.2a.85 .85 0 1 0 .01 0M331.5 157.3a.85 .85 0 1 0 .01 0M333.8 81.2a.85 .85 0 1 0 .01 0M344.6 74.3a.85 .85 0 1 0 .01 0M331.9 108a.85 .85 0 1 0 .01 0M331.9 96.6a.85 .85 0 1 0 .01 0M438.7 91.6a.85 .85 0 1 0 .01 0M412.8 90.5a.85 .85 0 1 0 .01 0M331.4 124.7a.85 .85 0 1 0 .01 0M335 94.5a.85 .85 0 1 0 .01 0M333.2 91.3a.85 .85 0 1 0 .01 0M335.2 82.2a.85 .85 0 1 0 .01 0M332.8 173.5a.85 .85 0 1 0 .01 0M334.4 84a.85 .85 0 1 0 .01 0M333.3 123.9a.85 .85 0 1 0 .01 0M338.5 81.4a.85 .85 0 1 0 .01 0M334.8 100.7a.85 .85 0 1 0 .01 0M338 83.1a.85 .85 0 1 0 .01 0M334.2 89.6a.85 .85 0 1 0 .01 0M336 83.4a.85 .85 0 1 0 .01 0M331.9 106.2a.85 .85 0 1 0 .01 0M376.5 93.7a.85 .85 0 1 0 .01 0M331.9 143.3a.85 .85 0 1 0 .01 0M339.2 86.7a.85 .85 0 1 0 .01 0M356.6 88a.85 .85 0 1 0 .01 0M334.2 82.3a.85 .85 0 1 0 .01 0M364.8 81a.85 .85 0 1 0 .01 0M332 110a.85 .85 0 1 0 .01 0M331.8 114.6a.85 .85 0 1 0 .01 0M331.7 65.7a.85 .85 0 1 0 .01 0M443.2 91.6a.85 .85 0 1 0 .01 0M332.7 107.3a.85 .85 0 1 0 .01 0M334.5 98.4a.85 .85 0 1 0 .01 0M336.9 75.3a.85 .85 0 1 0 .01 0M331.5 143.7a.85 .85 0 1 0 .01 0M349 83.6a.85 .85 0 1 0 .01 0M345.8 77.6a.85 .85 0 1 0 .01 0M409.4 97.9a.85 .85 0 1 0 .01 0M336.2 82.6a.85 .85 0 1 0 .01 0M332.7 84.1a.85 .85 0 1 0 .01 0M479.5 82.5a.85 .85 0 1 0 .01 0M339.9 74a.85 .85 0 1 0 .01 0M358.5 71.5a.85 .85 0 1 0 .01 0M402.1 79.4a.85 .85 0 1 0 .01 0M363.7 81.6a.85 .85 0 1 0 .01 0M384.3 86.4a.85 .85 0 1 0 .01 0M360.4 73.8a.85 .85 0 1 0 .01 0M332.2 74.4a.85 .85 0 1 0 .01 0M333 104.9a.85 .85 0 1 0 .01 0M331 130.7a.85 .85 0 1 0 .01 0M337.3 99a.85 .85 0 1 0 .01 0M339.3 67.7a.85 .85 0 1 0 .01 0M336.1 87a.85 .85 0 1 0 .01 0M341.2 82a.85 .85 0 1 0 .01 0M339.4 79.1a.85 .85 0 1 0 .01 0M362.8 91.6a.85 .85 0 1 0 .01 0M333.5 99.2a.85 .85 0 1 0 .01 0M331.5 93.7a.85 .85 0 1 0 .01 0M333.8 80a.85 .85 0 1 0 .01 0M331.3 93.4a.85 .85 0 1 0 .01 0M332.9 73.5a.85 .85 0 1 0 .01 0M333.9 56.2a.85 .85 0 1 0 .01 0M361.4 80.2a.85 .85 0 1 0 .01 0M332.8 98.2a.85 .85 0 1 0 .01 0M332.1 103.6a.85 .85 0 1 0 .01 0M332.8 94.3a.85 .85 0 1 0 .01 0M332.5 128a.85 .85 0 1 0 .01 0M332.8 102.6a.85 .85 0 1 0 .01 0M350.5 82.1a.85 .85 0 1 0 .01 0M331.2 143a.85 .85 0 1 0 .01 0M367 86.2a.85 .85 0 1 0 .01 0M342.3 75.9a.85 .85 0 1 0 .01 0M345.4 79.1a.85 .85 0 1 0 .01 0M331.5 119.5a.85 .85 0 1 0 .01 0M332.2 91.9a.85 .85 0 1 0 .01 0M332.5 96.8a.85 .85 0 1 0 .01 0M343.9 85.2a.85 .85 0 1 0 .01 0M353 93a.85 .85 0 1 0 .01 0M343 80.3a.85 .85 0 1 0 .01 0M357.5 80a.85 .85 0 1 0 .01 0M339.8 78.8a.85 .85 0 1 0 .01 0M370.1 79.6a.85 .85 0 1 0 .01 0M332.4 119.9a.85 .85 0 1 0 .01 0M343.1 80.2a.85 .85 0 1 0 .01 0M413.6 92.3a.85 .85 0 1 0 .01 0M340.7 78a.85 .85 0 1 0 .01 0M331.8 113a.85 .85 0 1 0 .01 0M336.6 77.2a.85 .85 0 1 0 .01 0M366 78.2a.85 .85 0 1 0 .01 0M334.5 90.7a.85 .85 0 1 0 .01 0M332.7 88.1a.85 .85 0 1 0 .01 0M359.3 76a.85 .85 0 1 0 .01 0M375.3 82.4a.85 .85 0 1 0 .01 0M357.5 82a.85 .85 0 1 0 .01 0M335.7 78.9a.85 .85 0 1 0 .01 0M332.3 95.9a.85 .85 0 1 0 .01 0M334.5 75.2a.85 .85 0 1 0 .01 0M401 87.6a.85 .85 0 1 0 .01 0M331.9 92.7a.85 .85 0 1 0 .01 0M338.4 75.8a.85 .85 0 1 0 .01 0M334.8 73.3a.85 .85 0 1 0 .01 0M333.5 74.2a.85 .85 0 1 0 .01 0M332.2 129.9a.85 .85 0 1 0 .01 0M351.6 84.7a.85 .85 0 1 0 .01 0M331.8 101.8a.85 .85 0 1 0 .01 0M332.4 108a.85 .85 0 1 0 .01 0M384.8 88.7a.85 .85 0 1 0 .01 0M331.8 100.9a.85 .85 0 1 0 .01 0M331.7 115.4a.85 .85 0 1 0 .01 0M331.7 117a.85 .85 0 1 0 .01 0M346.4 92.9a.85 .85 0 1 0 .01 0M331.8 86.3a.85 .85 0 1 0 .01 0M333 101.8a.85 .85 0 1 0 .01 0M332.3 130.1a.85 .85 0 1 0 .01 0M391.8 89.2a.85 .85 0 1 0 .01 0M340.9 73.3a.85 .85 0 1 0 .01 0M332.9 127a.85 .85 0 1 0 .01 0M332.7 135.2a.85 .85 0 1 0 .01 0M371.5 84.4a.85 .85 0 1 0 .01 0M339.7 85.4a.85 .85 0 1 0 .01 0M334.1 89.5a.85 .85 0 1 0 .01 0M332.6 88.1a.85 .85 0 1 0 .01 0M338.3 105.5a.85 .85 0 1 0 .01 0M334.2 94.4a.85 .85 0 1 0 .01 0M365.7 90.2a.85 .85 0 1 0 .01 0M352.2 81.9a.85 .85 0 1 0 .01 0M332.1 109.1a.85 .85 0 1 0 .01 0M331.4 128.2a.85 .85 0 1 0 .01 0M369.1 72.3a.85 .85 0 1 0 .01 0M332.3 113.6a.85 .85 0 1 0 .01 0M340 82.9a.85 .85 0 1 0 .01 0M331.6 139.1a.85 .85 0 1 0 .01 0M339 87.7a.85 .85 0 1 0 .01 0M334.9 83.8a.85 .85 0 1 0 .01 0M470.9 97.5a.85 .85 0 1 0 .01 0M373.4 83a.85 .85 0 1 0 .01 0M340.1 79.2a.85 .85 0 1 0 .01 0M367 79a.85 .85 0 1 0 .01 0M340.6 88.1a.85 .85 0 1 0 .01 0M333.7 93.3a.85 .85 0 1 0 .01 0M352.7 84.1a.85 .85 0 1 0 .01 0M335.5 90a.85 .85 0 1 0 .01 0M349.7 75.5a.85 .85 0 1 0 .01 0M331.9 69.8a.85 .85 0 1 0 .01 0M335.1 96.7a.85 .85 0 1 0 .01 0M373.7 81a.85 .85 0 1 0 .01 0M351.2 87.7a.85 .85 0 1 0 .01 0M331.5 128.4a.85 .85 0 1 0 .01 0M331.7 136.9a.85 .85 0 1 0 .01 0M340.4 82a.85 .85 0 1 0 .01 0M331.6 121.5a.85 .85 0 1 0 .01 0M333.4 73.6a.85 .85 0 1 0 .01 0M333.2 97.4a.85 .85 0 1 0 .01 0M333.2 86.6a.85 .85 0 1 0 .01 0M332.2 99.3a.85 .85 0 1 0 .01 0M338.2 71.2a.85 .85 0 1 0 .01 0M331.6 146.2a.85 .85 0 1 0 .01 0M369.3 84.8a.85 .85 0 1 0 .01 0M353.7 87.3a.85 .85 0 1 0 .01 0M374.6 78.1a.85 .85 0 1 0 .01 0M331.6 135.5a.85 .85 0 1 0 .01 0M344.2 83.9a.85 .85 0 1 0 .01 0M331.3 136.4a.85 .85 0 1 0 .01 0M393.8 92.1a.85 .85 0 1 0 .01 0M370.9 82.3a.85 .85 0 1 0 .01 0M336.1 85.3a.85 .85 0 1 0 .01 0M343.8 79.3a.85 .85 0 1 0 .01 0M332.1 133.4a.85 .85 0 1 0 .01 0M370.1 81.9a.85 .85 0 1 0 .01 0M331.5 145.1a.85 .85 0 1 0 .01 0M352.7 68.1a.85 .85 0 1 0 .01 0M350.2 85.3a.85 .85 0 1 0 .01 0M352.3 80.3a.85 .85 0 1 0 .01 0M364.1 67.9a.85 .85 0 1 0 .01 0M346.2 78.7a.85 .85 0 1 0 .01 0M334.4 91.3a.85 .85 0 1 0 .01 0M401 88.7a.85 .85 0 1 0 .01 0M339.8 75.1a.85 .85 0 1 0 .01 0M333.8 102.3a.85 .85 0 1 0 .01 0M337.5 71a.85 .85 0 1 0 .01 0M332 138.2a.85 .85 0 1 0 .01 0M331.8 137.8a.85 .85 0 1 0 .01 0M332.3 82a.85 .85 0 1 0 .01 0M373.1 89.5a.85 .85 0 1 0 .01 0M332.8 82.9a.85 .85 0 1 0 .01 0M332 128.8a.85 .85 0 1 0 .01 0M331.6 88.8a.85 .85 0 1 0 .01 0M332.3 97.2a.85 .85 0 1 0 .01 0M332.7 105.7a.85 .85 0 1 0 .01 0M378.8 82.5a.85 .85 0 1 0 .01 0M336.4 87.5a.85 .85 0 1 0 .01 0M346.3 97.2a.85 .85 0 1 0 .01 0M334 83.5a.85 .85 0 1 0 .01 0M332.8 74.6a.85 .85 0 1 0 .01 0M331.3 124a.85 .85 0 1 0 .01 0M337 79.1a.85 .85 0 1 0 .01 0M336.7 84.7a.85 .85 0 1 0 .01 0M332.7 83a.85 .85 0 1 0 .01 0M338 89.3a.85 .85 0 1 0 .01 0M386 85.7a.85 .85 0 1 0 .01 0M354.4 80.2a.85 .85 0 1 0 .01 0M369.6 86.4a.85 .85 0 1 0 .01 0M340.4 91.7a.85 .85 0 1 0 .01 0M342.7 100.7a.85 .85 0 1 0 .01 0M334.2 90.1a.85 .85 0 1 0 .01 0M331.6 114a.85 .85 0 1 0 .01 0M340.4 76.8a.85 .85 0 1 0 .01 0M332 107a.85 .85 0 1 0 .01 0M331.5 128.1a.85 .85 0 1 0 .01 0M331.9 118.1a.85 .85 0 1 0 .01 0M335.4 81.6a.85 .85 0 1 0 .01 0M344.9 90.9a.85 .85 0 1 0 .01 0M332.4 99.8a.85 .85 0 1 0 .01 0M421.3 85.7a.85 .85 0 1 0 .01 0M332.1 130.8a.85 .85 0 1 0 .01 0M333 87.6a.85 .85 0 1 0 .01 0M339.6 76.2a.85 .85 0 1 0 .01 0M333.2 102.7a.85 .85 0 1 0 .01 0M346.6 89.1a.85 .85 0 1 0 .01 0M334.4 83.7a.85 .85 0 1 0 .01 0M410.6 86.2a.85 .85 0 1 0 .01 0M336.5 92.9a.85 .85 0 1 0 .01 0M331.7 117.2a.85 .85 0 1 0 .01 0M347.5 80.3a.85 .85 0 1 0 .01 0M331.9 132.6a.85 .85 0 1 0 .01 0M332.8 106.5a.85 .85 0 1 0 .01 0M335.8 79.1a.85 .85 0 1 0 .01 0M344 105.6a.85 .85 0 1 0 .01 0M331.5 127.5a.85 .85 0 1 0 .01 0M340.4 83.7a.85 .85 0 1 0 .01 0M333.9 100.1a.85 .85 0 1 0 .01 0M335.9 94.8a.85 .85 0 1 0 .01 0M341.8 88.2a.85 .85 0 1 0 .01 0M332.2 118.9a.85 .85 0 1 0 .01 0M332.3 112.6a.85 .85 0 1 0 .01 0M331.5 133.4a.85 .85 0 1 0 .01 0M343.1 78.8a.85 .85 0 1 0 .01 0M341.5 71.6a.85 .85 0 1 0 .01 0M358.1 78.1a.85 .85 0 1 0 .01 0M345 70.8a.85 .85 0 1 0 .01 0M338.7 96.5a.85 .85 0 1 0 .01 0M331.8 132.9a.85 .85 0 1 0 .01 0M332.9 89.8a.85 .85 0 1 0 .01 0M352.4 78.7a.85 .85 0 1 0 .01 0M332.9 111.7a.85 .85 0 1 0 .01 0M332.9 92.8a.85 .85 0 1 0 .01 0M334.9 94.8a.85 .85 0 1 0 .01 0M336.6 76.5a.85 .85 0 1 0 .01 0M349.2 81.5a.85 .85 0 1 0 .01 0M388.2 88.2a.85 .85 0 1 0 .01 0M387.2 88a.85 .85 0 1 0 .01 0M333 86.1a.85 .85 0 1 0 .01 0M332.8 94.8a.85 .85 0 1 0 .01 0M332.3 110.4a.85 .85 0 1 0 .01 0M331.7 136.2a.85 .85 0 1 0 .01 0M333.6 85.8a.85 .85 0 1 0 .01 0M334.5 78.3a.85 .85 0 1 0 .01 0M331.4 152.9a.85 .85 0 1 0 .01 0M365.4 83a.85 .85 0 1 0 .01 0M350.3 75.6a.85 .85 0 1 0 .01 0M343.2 71.7a.85 .85 0 1 0 .01 0M349.3 80.1a.85 .85 0 1 0 .01 0M336 80.2a.85 .85 0 1 0 .01 0M337.9 90a.85 .85 0 1 0 .01 0M346.1 83.7a.85 .85 0 1 0 .01 0"/>
</g>
<line x1="336.8" y1="82.4" x2="511.9" y2="96.5" stroke="#0a0a0a" stroke-width="1.25"/>
<rect x="326.0" y="26.8" width="189.4" height="173.7" fill="none" stroke="#303030" stroke-width="1.05"/>
<path d="M326.0 198.5h-4M326.0 170.1h-4M326.0 141.6h-4M326.0 113.2h-4M326.0 84.7h-4M326.0 56.2h-4M326.0 27.8h-4M330.3 200.5v6M366.6 200.5v6M402.9 200.5v6M439.3 200.5v6M475.6 200.5v6M511.9 200.5v6" stroke="#999" stroke-width="0.8" fill="none"/>
<g class="tk">
<text x="320.8" y="202.7" text-anchor="end" textLength="7.7" lengthAdjust="spacingAndGlyphs">10</text>
<text x="320.8" y="174.2" text-anchor="end" textLength="12.1" lengthAdjust="spacingAndGlyphs">100</text>
<text x="320.8" y="145.8" text-anchor="end" textLength="16.5" lengthAdjust="spacingAndGlyphs">1000</text>
<text x="320.8" y="117.4" text-anchor="end" textLength="20.9" lengthAdjust="spacingAndGlyphs">10000</text>
<text x="320.8" y="88.9" text-anchor="end" textLength="25.3" lengthAdjust="spacingAndGlyphs">100000</text>
<text x="320.8" y="60.5" text-anchor="end" textLength="29.7" lengthAdjust="spacingAndGlyphs">1000000</text>
<text x="320.8" y="32.0" text-anchor="end" textLength="34.1" lengthAdjust="spacingAndGlyphs">10000000</text>
<text x="330.3" y="219.5" text-anchor="middle" textLength="4.7" lengthAdjust="spacingAndGlyphs">0</text>
<text x="366.6" y="219.5" text-anchor="middle" textLength="4.7" lengthAdjust="spacingAndGlyphs">5</text>
<text x="402.9" y="219.5" text-anchor="middle" textLength="9.4" lengthAdjust="spacingAndGlyphs">10</text>
<text x="439.3" y="219.5" text-anchor="middle" textLength="9.4" lengthAdjust="spacingAndGlyphs">15</text>
<text x="475.6" y="219.5" text-anchor="middle" textLength="9.4" lengthAdjust="spacingAndGlyphs">20</text>
<text x="511.9" y="219.5" text-anchor="middle" textLength="9.4" lengthAdjust="spacingAndGlyphs">25</text>
</g>
<text class="pl" x="286.0" y="18.9">B</text>
<g fill="none" stroke="#000" stroke-width="0.8" stroke-opacity="0.42">
<path d="M211 306.4a.85 .85 0 1 0 .01 0M88.9 307.5a.85 .85 0 1 0 .01 0M121.2 310.7a.85 .85 0 1 0 .01 0M88.2 312.9a.85 .85 0 1 0 .01 0M85.3 310.6a.85 .85 0 1 0 .01 0M84.4 332.7a.85 .85 0 1 0 .01 0M83.8 326.1a.85 .85 0 1 0 .01 0M87.3 309.3a.85 .85 0 1 0 .01 0M121.5 302.8a.85 .85 0 1 0 .01 0M137.8 305.6a.85 .85 0 1 0 .01 0M135.6 297.4a.85 .85 0 1 0 .01 0M86.3 303.2a.85 .85 0 1 0 .01 0M83.9 343.9a.85 .85 0 1 0 .01 0M84.3 340.9a.85 .85 0 1 0 .01 0M83.5 349.4a.85 .85 0 1 0 .01 0M117.1 292.8a.85 .85 0 1 0 .01 0M237.1 302a.85 .85 0 1 0 .01 0M84.4 314.8a.85 .85 0 1 0 .01 0M85.3 334.6a.85 .85 0 1 0 .01 0M111.9 311.7a.85 .85 0 1 0 .01 0M87.7 312.5a.85 .85 0 1 0 .01 0M87.2 310.1a.85 .85 0 1 0 .01 0M84.2 337.4a.85 .85 0 1 0 .01 0M124.8 332.9a.85 .85 0 1 0 .01 0M83.3 305.5a.85 .85 0 1 0 .01 0M83.9 303.7a.85 .85 0 1 0 .01 0M85.6 312.4a.85 .85 0 1 0 .01 0M117.7 315.3a.85 .85 0 1 0 .01 0M112.7 304.6a.85 .85 0 1 0 .01 0M83.6 374.9a.85 .85 0 1 0 .01 0M99 300.5a.85 .85 0 1 0 .01 0M83.2 337.5a.85 .85 0 1 0 .01 0M84.3 339.5a.85 .85 0 1 0 .01 0M140.9 294.5a.85 .85 0 1 0 .01 0M83.3 330.2a.85 .85 0 1 0 .01 0M84.1 329.1a.85 .85 0 1 0 .01 0M87.8 308.3a.85 .85 0 1 0 .01 0M116.6 313.6a.85 .85 0 1 0 .01 0M100.3 290.3a.85 .85 0 1 0 .01 0M84.2 350.2a.85 .85 0 1 0 .01 0M86.6 323.7a.85 .85 0 1 0 .01 0M89.5 280.4a.85 .85 0 1 0 .01 0M84.3 317.4a.85 .85 0 1 0 .01 0M84.4 316.9a.85 .85 0 1 0 .01 0M90.3 326.4a.85 .85 0 1 0 .01 0M149.9 301.4a.85 .85 0 1 0 .01 0M152.9 304.6a.85 .85 0 1 0 .01 0M133.4 311.3a.85 .85 0 1 0 .01 0M86.3 348a.85 .85 0 1 0 .01 0M89.8 328.5a.85 .85 0 1 0 .01 0M83.7 323.8a.85 .85 0 1 0 .01 0M84 316.1a.85 .85 0 1 0 .01 0M86.8 302.6a.85 .85 0 1 0 .01 0M125.3 304.5a.85 .85 0 1 0 .01 0M84.3 307.2a.85 .85 0 1 0 .01 0M85.1 341.9a.85 .85 0 1 0 .01 0M84.2 317.9a.85 .85 0 1 0 .01 0M123.7 312a.85 .85 0 1 0 .01 0M134.2 302.4a.85 .85 0 1 0 .01 0M152 294.9a.85 .85 0 1 0 .01 0M85.7 302.6a.85 .85 0 1 0 .01 0M147 310.8a.85 .85 0 1 0 .01 0M85.5 332.5a.85 .85 0 1 0 .01 0M90.6 303.7a.85 .85 0 1 0 .01 0M143.4 309.5a.85 .85 0 1 0 .01 0M95 304.6a.85 .85 0 1 0 .01 0M84.5 353.9a.85 .85 0 1 0 .01 0M83.6 317.8a.85 .85 0 1 0 .01 0M112.3 305.4a.85 .85 0 1 0 .01 0M84 328.7a.85 .85 0 1 0 .01 0M85 304.1a.85 .85 0 1 0 .01 0M85.2 331.1a.85 .85 0 1 0 .01 0M89.7 301.3a.85 .85 0 1 0 .01 0M85.7 306.5a.85 .85 0 1 0 .01 0M111.9 299.5a.85 .85 0 1 0 .01 0M85 296.5a.85 .85 0 1 0 .01 0M179.6 308.3a.85 .85 0 1 0 .01 0M110.6 318.9a.85 .85 0 1 0 .01 0M86.8 306.8a.85 .85 0 1 0 .01 0M83.5 324.7a.85 .85 0 1 0 .01 0M84.4 317.9a.85 .85 0 1 0 .01 0M94.6 312.2a.85 .85 0 1 0 .01 0M83.6 347.2a.85 .85 0 1 0 .01 0M107.7 307.9a.85 .85 0 1 0 .01 0M84.3 295.6a.85 .85 0 1 0 .01 0M140.6 305.6a.85 .85 0 1 0 .01 0M84.4 300.4a.85 .85 0 1 0 .01 0M84.4 351.8a.85 .85 0 1 0 .01 0M127 302.4a.85 .85 0 1 0 .01 0M89.9 316.6a.85 .85 0 1 0 .01 0M84.1 332.2a.85 .85 0 1 0 .01 0M119.4 316.4a.85 .85 0 1 0 .01 0M92.8 306.5a.85 .85 0 1 0 .01 0M89.1 323a.85 .85 0 1 0 .01 0M120 312.8a.85 .85 0 1 0 .01 0M83.7 336.6a.85 .85 0 1 0 .01 0M83.8 339a.85 .85 0 1 0 .01 0M117.9 301.4a.85 .85 0 1 0 .01 0M132.4 315.2a.85 .85 0 1 0 .01 0M174 311.2a.85 .85 0 1 0 .01 0M84.4 305.5a.85 .85 0 1 0 .01 0M85.4 324.3a.85 .85 0 1 0 .01 0M90.2 316.5a.85 .85 0 1 0 .01 0M83.8 359.9a.85 .85 0 1 0 .01 0M87.3 314.8a.85 .85 0 1 0 .01 0M86.2 330.3a.85 .85 0 1 0 .01 0M84 346.2a.85 .85 0 1 0 .01 0M100 301.8a.85 .85 0 1 0 .01 0M83.9 312.3a.85 .85 0 1 0 .01 0M87.4 298a.85 .85 0 1 0 .01 0M85.2 329.5a.85 .85 0 1 0 .01 0M85.1 311.3a.85 .85 0 1 0 .01 0M112.1 309.4a.85 .85 0 1 0 .01 0M84.6 328.7a.85 .85 0 1 0 .01 0M143.5 305.1a.85 .85 0 1 0 .01 0M86.2 318.8a.85 .85 0 1 0 .01 0M132.9 306.6a.85 .85 0 1 0 .01 0M140.9 322.8a.85 .85 0 1 0 .01 0M196.1 304.4a.85 .85 0 1 0 .01 0M140.9 310.3a.85 .85 0 1 0 .01 0M113.3 309.7a.85 .85 0 1 0 .01 0M84.1 316.6a.85 .85 0 1 0 .01 0M120.5 306.2a.85 .85 0 1 0 .01 0M96.9 321.9a.85 .85 0 1 0 .01 0M107.1 308.6a.85 .85 0 1 0 .01 0M84.8 322.8a.85 .85 0 1 0 .01 0M85.6 314.3a.85 .85 0 1 0 .01 0M91.6 318.1a.85 .85 0 1 0 .01 0M102.5 311.2a.85 .85 0 1 0 .01 0M93.5 295a.85 .85 0 1 0 .01 0M91.1 328.9a.85 .85 0 1 0 .01 0M84.1 336.7a.85 .85 0 1 0 .01 0M110.9 303.9a.85 .85 0 1 0 .01 0M83.6 387.3a.85 .85 0 1 0 .01 0M83.7 318.6a.85 .85 0 1 0 .01 0M146.4 310.2a.85 .85 0 1 0 .01 0M98.9 310.4a.85 .85 0 1 0 .01 0M119.2 308.5a.85 .85 0 1 0 .01 0M110 305.7a.85 .85 0 1 0 .01 0M96.8 311.4a.85 .85 0 1 0 .01 0M83.9 335.7a.85 .85 0 1 0 .01 0M84.5 296.3a.85 .85 0 1 0 .01 0M97.5 300a.85 .85 0 1 0 .01 0M91 323.3a.85 .85 0 1 0 .01 0M109.9 315.9a.85 .85 0 1 0 .01 0M87.1 296.6a.85 .85 0 1 0 .01 0M85.1 380.9a.85 .85 0 1 0 .01 0M84.9 339.6a.85 .85 0 1 0 .01 0M87 310.3a.85 .85 0 1 0 .01 0M89.4 299.2a.85 .85 0 1 0 .01 0M87.3 281.3a.85 .85 0 1 0 .01 0M99.8 294.6a.85 .85 0 1 0 .01 0M102.1 299.3a.85 .85 0 1 0 .01 0M86.5 355a.85 .85 0 1 0 .01 0M105.2 301a.85 .85 0 1 0 .01 0M119 316.5a.85 .85 0 1 0 .01 0M84.1 334.3a.85 .85 0 1 0 .01 0M85.9 306.8a.85 .85 0 1 0 .01 0M89.2 322a.85 .85 0 1 0 .01 0M130.5 309.7a.85 .85 0 1 0 .01 0M89.2 303.6a.85 .85 0 1 0 .01 0M84.8 322.3a.85 .85 0 1 0 .01 0M84 322.2a.85 .85 0 1 0 .01 0M83.6 314.7a.85 .85 0 1 0 .01 0M109.9 312.4a.85 .85 0 1 0 .01 0M83.8 351.2a.85 .85 0 1 0 .01 0M85.4 309a.85 .85 0 1 0 .01 0M84 342.4a.85 .85 0 1 0 .01 0M90.8 312.7a.85 .85 0 1 0 .01 0M88.9 342.2a.85 .85 0 1 0 .01 0M101.6 306.5a.85 .85 0 1 0 .01 0M138.9 301.3a.85 .85 0 1 0 .01 0M83.9 348a.85 .85 0 1 0 .01 0M83.9 348.1a.85 .85 0 1 0 .01 0M92.6 292.2a.85 .85 0 1 0 .01 0M92.8 318a.85 .85 0 1 0 .01 0M83.6 349.4a.85 .85 0 1 0 .01 0M84.7 318.5a.85 .85 0 1 0 .01 0M89.6 298.2a.85 .85 0 1 0 .01 0M84.7 304.3a.85 .85 0 1 0 .01 0M111.7 301.2a.85 .85 0 1 0 .01 0M84.3 326.4a.85 .85 0 1 0 .01 0M85 329.6a.85 .85 0 1 0 .01 0M117.3 312.5a.85 .85 0 1 0 .01 0M85.9 336.9a.85 .85 0 1 0 .01 0M108.3 304.9a.85 .85 0 1 0 .01 0M109.4 300.1a.85 .85 0 1 0 .01 0M84.4 343.2a.85 .85 0 1 0 .01 0M85.4 355a.85 .85 0 1 0 .01 0M91.8 298a.85 .85 0 1 0 .01 0M105.8 309.8a.85 .85 0 1 0 .01 0M131.1 304.4a.85 .85 0 1 0 .01 0M87.3 310.5a.85 .85 0 1 0 .01 0M83.9 322.9a.85 .85 0 1 0 .01 0M116.4 301.6a.85 .85 0 1 0 .01 0M149.1 311a.85 .85 0 1 0 .01 0M94.4 304.7a.85 .85 0 1 0 .01 0M84.4 311.8a.85 .85 0 1 0 .01 0M87.3 347.2a.85 .85 0 1 0 .01 0M84.1 351.4a.85 .85 0 1 0 .01 0M159 299.9a.85 .85 0 1 0 .01 0M126.8 308.4a.85 .85 0 1 0 .01 0M191.3 316.7a.85 .85 0 1 0 .01 0M87 308.5a.85 .85 0 1 0 .01 0M91.3 304.1a.85 .85 0 1 0 .01 0M83.4 352.5a.85 .85 0 1 0 .01 0M83.9 337.8a.85 .85 0 1 0 .01 0M105.7 309a.85 .85 0 1 0 .01 0M84.2 303.7a.85 .85 0 1 0 .01 0M85 316.4a.85 .85 0 1 0 .01 0M88.7 302.7a.85 .85 0 1 0 .01 0M83.9 296a.85 .85 0 1 0 .01 0M100.9 301.5a.85 .85 0 1 0 .01 0M85.3 308.5a.85 .85 0 1 0 .01 0M85.7 332.6a.85 .85 0 1 0 .01 0M84.4 339.8a.85 .85 0 1 0 .01 0M97.1 308.7a.85 .85 0 1 0 .01 0M84.3 349.3a.85 .85 0 1 0 .01 0M164.8 308a.85 .85 0 1 0 .01 0M103 313.4a.85 .85 0 1 0 .01 0M84.2 333a.85 .85 0 1 0 .01 0M83.7 307.4a.85 .85 0 1 0 .01 0M86.4 337.5a.85 .85 0 1 0 .01 0M84.5 326.3a.85 .85 0 1 0 .01 0M111.7 297.9a.85 .85 0 1 0 .01 0M90.2 306.7a.85 .85 0 1 0 .01 0M97.9 319.1a.85 .85 0 1 0 .01 0M175.1 304.7a.85 .85 0 1 0 .01 0M92.9 306a.85 .85 0 1 0 .01 0M207.8 306.1a.85 .85 0 1 0 .01 0M85.1 334.2a.85 .85 0 1 0 .01 0M103.5 316.5a.85 .85 0 1 0 .01 0M237.9 314.6a.85 .85 0 1 0 .01 0M90.7 330.9a.85 .85 0 1 0 .01 0M88.6 311.2a.85 .85 0 1 0 .01 0M146.5 314.9a.85 .85 0 1 0 .01 0M152.1 294.8a.85 .85 0 1 0 .01 0M116.3 311.5a.85 .85 0 1 0 .01 0M91.7 305.1a.85 .85 0 1 0 .01 0M104.8 305.3a.85 .85 0 1 0 .01 0M84.2 315.8a.85 .85 0 1 0 .01 0M87.1 317.2a.85 .85 0 1 0 .01 0M83.6 339.4a.85 .85 0 1 0 .01 0M84.5 351a.85 .85 0 1 0 .01 0M120.4 303.2a.85 .85 0 1 0 .01 0M93.9 316a.85 .85 0 1 0 .01 0M85.8 353.6a.85 .85 0 1 0 .01 0M84.4 317.5a.85 .85 0 1 0 .01 0M174.4 311.1a.85 .85 0 1 0 .01 0M84 327.3a.85 .85 0 1 0 .01 0M179.5 315.3a.85 .85 0 1 0 .01 0M84.7 364a.85 .85 0 1 0 .01 0M83.6 347.7a.85 .85 0 1 0 .01 0M84.5 315.4a.85 .85 0 1 0 .01 0M83.8 340.8a.85 .85 0 1 0 .01 0M87.5 313.5a.85 .85 0 1 0 .01 0M104 311.7a.85 .85 0 1 0 .01 0M84.7 319.3a.85 .85 0 1 0 .01 0M85 324.4a.85 .85 0 1 0 .01 0M146.4 314.1a.85 .85 0 1 0 .01 0M116.8 315.9a.85 .85 0 1 0 .01 0M84.2 341a.85 .85 0 1 0 .01 0M94.7 318.7a.85 .85 0 1 0 .01 0M124.8 306.2a.85 .85 0 1 0 .01 0M90.4 301.3a.85 .85 0 1 0 .01 0"/>
<path d="M86.7 321.6a.85 .85 0 1 0 .01 0M83.2 306.2a.85 .85 0 1 0 .01 0M84.2 346.8a.85 .85 0 1 0 .01 0M90.7 301.5a.85 .85 0 1 0 .01 0M84.8 305.8a.85 .85 0 1 0 .01 0M84.1 330.5a.85 .85 0 1 0 .01 0M98.1 310.8a.85 .85 0 1 0 .01 0M83.5 327.3a.85 .85 0 1 0 .01 0M84 337.9a.85 .85 0 1 0 .01 0M112.7 295.3a.85 .85 0 1 0 .01 0M88.6 328.2a.85 .85 0 1 0 .01 0M89.4 302.6a.85 .85 0 1 0 .01 0M125.6 310.1a.85 .85 0 1 0 .01 0M112.4 311.9a.85 .85 0 1 0 .01 0M84.5 333.2a.85 .85 0 1 0 .01 0M87.4 330.1a.85 .85 0 1 0 .01 0M102.1 315.8a.85 .85 0 1 0 .01 0M83.9 346.2a.85 .85 0 1 0 .01 0M84.4 324.5a.85 .85 0 1 0 .01 0M85 318a.85 .85 0 1 0 .01 0M84.1 344.9a.85 .85 0 1 0 .01 0M84 339.2a.85 .85 0 1 0 .01 0M92.8 308.5a.85 .85 0 1 0 .01 0M95.4 307.2a.85 .85 0 1 0 .01 0M88 301.5a.85 .85 0 1 0 .01 0M88.6 305.3a.85 .85 0 1 0 .01 0M84 308.6a.85 .85 0 1 0 .01 0M88.1 307.3a.85 .85 0 1 0 .01 0M86.2 328.5a.85 .85 0 1 0 .01 0M132.7 312.1a.85 .85 0 1 0 .01 0M98.4 300.3a.85 .85 0 1 0 .01 0M102 306.5a.85 .85 0 1 0 .01 0M84.5 301.7a.85 .85 0 1 0 .01 0M85.4 301.7a.85 .85 0 1 0 .01 0M84.3 322.1a.85 .85 0 1 0 .01 0M86 345.7a.85 .85 0 1 0 .01 0M181.3 359.2a.85 .85 0 1 0 .01 0M91 298a.85 .85 0 1 0 .01 0M85.9 304.4a.85 .85 0 1 0 .01 0M98.8 306.7a.85 .85 0 1 0 .01 0M101.7 299.2a.85 .85 0 1 0 .01 0M86.8 306a.85 .85 0 1 0 .01 0M83.2 322.7a.85 .85 0 1 0 .01 0M86.4 295.4a.85 .85 0 1 0 .01 0M94.6 301.7a.85 .85 0 1 0 .01 0M104.5 320.2a.85 .85 0 1 0 .01 0M145.1 330.1a.85 .85 0 1 0 .01 0M86.6 341.3a.85 .85 0 1 0 .01 0M110.6 298.7a.85 .85 0 1 0 .01 0M84.4 318a.85 .85 0 1 0 .01 0M101.6 314.4a.85 .85 0 1 0 .01 0M84.4 362.5a.85 .85 0 1 0 .01 0M87 303.2a.85 .85 0 1 0 .01 0M83.8 352.8a.85 .85 0 1 0 .01 0M84.6 339.6a.85 .85 0 1 0 .01 0M84 322.7a.85 .85 0 1 0 .01 0M90.1 313.4a.85 .85 0 1 0 .01 0M90.4 312.3a.85 .85 0 1 0 .01 0M85.2 320a.85 .85 0 1 0 .01 0M89.5 316.9a.85 .85 0 1 0 .01 0M204.1 312.6a.85 .85 0 1 0 .01 0M115.9 321.7a.85 .85 0 1 0 .01 0M83.9 317.1a.85 .85 0 1 0 .01 0M161.7 283.8a.85 .85 0 1 0 .01 0M126.1 305a.85 .85 0 1 0 .01 0M92.9 314.5a.85 .85 0 1 0 .01 0M86.8 297.6a.85 .85 0 1 0 .01 0M85.9 313.8a.85 .85 0 1 0 .01 0M110.7 303.4a.85 .85 0 1 0 .01 0M86.2 307.7a.85 .85 0 1 0 .01 0M101.4 310.7a.85 .85 0 1 0 .01 0M84 336.3a.85 .85 0 1 0 .01 0M84.3 333.1a.85 .85 0 1 0 .01 0M86.1 309.4a.85 .85 0 1 0 .01 0M84.1 346.7a.85 .85 0 1 0 .01 0M127.1 318.8a.85 .85 0 1 0 .01 0M101.4 317.7a.85 .85 0 1 0 .01 0M85.4 320.6a.85 .85 0 1 0 .01 0M84.2 352.4a.85 .85 0 1 0 .01 0M120.6 295.6a.85 .85 0 1 0 .01 0M83.6 344.5a.85 .85 0 1 0 .01 0M84 347.4a.85 .85 0 1 0 .01 0M88.6 308.4a.85 .85 0 1 0 .01 0M112.3 308.7a.85 .85 0 1 0 .01 0M85.3 317.8a.85 .85 0 1 0 .01 0M84.3 322.5a.85 .85 0 1 0 .01 0M84.2 342.5a.85 .85 0 1 0 .01 0M107.4 301.2a.85 .85 0 1 0 .01 0M87.3 315.9a.85 .85 0 1 0 .01 0M97.2 308.5a.85 .85 0 1 0 .01 0M84.4 312.8a.85 .85 0 1 0 .01 0M91 327.8a.85 .85 0 1 0 .01 0M88.2 300.3a.85 .85 0 1 0 .01 0M150.5 310a.85 .85 0 1 0 .01 0M84.9 300.8a.85 .85 0 1 0 .01 0M106.6 312.5a.85 .85 0 1 0 .01 0M157.1 286.6a.85 .85 0 1 0 .01 0M94.9 306.8a.85 .85 0 1 0 .01 0M123.8 300.9a.85 .85 0 1 0 .01 0M174.1 296.7a.85 .85 0 1 0 .01 0M110.6 295.9a.85 .85 0 1 0 .01 0M148.9 305a.85 .85 0 1 0 .01 0M137 294.1a.85 .85 0 1 0 .01 0M92.1 298.9a.85 .85 0 1 0 .01 0M83.8 326.5a.85 .85 0 1 0 .01 0M141.3 297a.85 .85 0 1 0 .01 0M113.4 303a.85 .85 0 1 0 .01 0M84.5 310a.85 .85 0 1 0 .01 0M86.6 292.6a.85 .85 0 1 0 .01 0M84.8 311.5a.85 .85 0 1 0 .01 0M211.6 305.4a.85 .85 0 1 0 .01 0M84.6 358.8a.85 .85 0 1 0 .01 0M84.9 354a.85 .85 0 1 0 .01 0M148.1 314.6a.85 .85 0 1 0 .01 0M83.7 340.2a.85 .85 0 1 0 .01 0M93.1 318.2a.85 .85 0 1 0 .01 0M104.9 313.4a.85 .85 0 1 0 .01 0M84.8 312.2a.85 .85 0 1 0 .01 0M83.8 333.6a.85 .85 0 1 0 .01 0M84.6 325.5a.85 .85 0 1 0 .01 0M98.4 303.4a.85 .85 0 1 0 .01 0M151.7 308.3a.85 .85 0 1 0 .01 0M85.5 314.8a.85 .85 0 1 0 .01 0M89.9 302.7a.85 .85 0 1 0 .01 0M128.3 312.9a.85 .85 0 1 0 .01 0M88.6 325.7a.85 .85 0 1 0 .01 0M115.3 316.5a.85 .85 0 1 0 .01 0M109.6 320.5a.85 .85 0 1 0 .01 0M88.1 303.8a.85 .85 0 1 0 .01 0M88.3 313.1a.85 .85 0 1 0 .01 0M93.5 321a.85 .85 0 1 0 .01 0M83.3 311.8a.85 .85 0 1 0 .01 0M85 308.3a.85 .85 0 1 0 .01 0M83.9 335.9a.85 .85 0 1 0 .01 0M83.3 292.1a.85 .85 0 1 0 .01 0M87.4 303.2a.85 .85 0 1 0 .01 0M131.7 307a.85 .85 0 1 0 .01 0M88.9 301.1a.85 .85 0 1 0 .01 0M86.8 312.8a.85 .85 0 1 0 .01 0M169 311.7a.85 .85 0 1 0 .01 0M112.1 295.6a.85 .85 0 1 0 .01 0M109.9 295.6a.85 .85 0 1 0 .01 0M88.8 307.4a.85 .85 0 1 0 .01 0M84.5 322.5a.85 .85 0 1 0 .01 0M94.8 305.6a.85 .85 0 1 0 .01 0M84.2 351.4a.85 .85 0 1 0 .01 0M87.1 299a.85 .85 0 1 0 .01 0M83.7 342.7a.85 .85 0 1 0 .01 0M84 329.6a.85 .85 0 1 0 .01 0M211.7 301.7a.85 .85 0 1 0 .01 0M83.6 329.6a.85 .85 0 1 0 .01 0M86.2 335.6a.85 .85 0 1 0 .01 0M99.7 306.3a.85 .85 0 1 0 .01 0M107.4 294.4a.85 .85 0 1 0 .01 0M95.8 301.2a.85 .85 0 1 0 .01 0M85.7 324.9a.85 .85 0 1 0 .01 0M150.6 303.3a.85 .85 0 1 0 .01 0M86.7 295.8a.85 .85 0 1 0 .01 0M94.9 310.1a.85 .85 0 1 0 .01 0M108.3 295.4a.85 .85 0 1 0 .01 0M95.6 311a.85 .85 0 1 0 .01 0M111.5 307.9a.85 .85 0 1 0 .01 0M104.4 307.7a.85 .85 0 1 0 .01 0M84.3 303.4a.85 .85 0 1 0 .01 0M85.8 319.4a.85 .85 0 1 0 .01 0M84.8 323.3a.85 .85 0 1 0 .01 0M83.7 331.2a.85 .85 0 1 0 .01 0M96.2 310.8a.85 .85 0 1 0 .01 0M85.3 316.2a.85 .85 0 1 0 .01 0M87.9 295.9a.85 .85 0 1 0 .01 0M85.8 310.6a.85 .85 0 1 0 .01 0M132.3 303.4a.85 .85 0 1 0 .01 0M94.6 305.8a.85 .85 0 1 0 .01 0M84 333.1a.85 .85 0 1 0 .01 0M84.5 352.3a.85 .85 0 1 0 .01 0M83.5 342.7a.85 .85 0 1 0 .01 0M84.4 344.5a.85 .85 0 1 0 .01 0M87.5 312.3a.85 .85 0 1 0 .01 0M84.8 355.6a.85 .85 0 1 0 .01 0M83.9 333.7a.85 .85 0 1 0 .01 0M85.7 322.9a.85 .85 0 1 0 .01 0M84.7 331.5a.85 .85 0 1 0 .01 0M151.8 308.2a.85 .85 0 1 0 .01 0M99.1 308.7a.85 .85 0 1 0 .01 0M86.3 300.4a.85 .85 0 1 0 .01 0M84 324.8a.85 .85 0 1 0 .01 0M83.3 330.9a.85 .85 0 1 0 .01 0M84 345.7a.85 .85 0 1 0 .01 0M86.3 326.6a.85 .85 0 1 0 .01 0M85.2 342.6a.85 .85 0 1 0 .01 0M85.9 310.1a.85 .85 0 1 0 .01 0M106.9 307.2a.85 .85 0 1 0 .01 0M85.9 319.4a.85 .85 0 1 0 .01 0M93 291.5a.85 .85 0 1 0 .01 0M145.4 308.1a.85 .85 0 1 0 .01 0M84.1 325a.85 .85 0 1 0 .01 0M128.1 305.7a.85 .85 0 1 0 .01 0M85.7 306.9a.85 .85 0 1 0 .01 0M119.3 298.3a.85 .85 0 1 0 .01 0M94.8 307.2a.85 .85 0 1 0 .01 0M139.5 309.1a.85 .85 0 1 0 .01 0M105.6 302a.85 .85 0 1 0 .01 0M89.1 314.9a.85 .85 0 1 0 .01 0M143.9 292a.85 .85 0 1 0 .01 0M87.4 301.5a.85 .85 0 1 0 .01 0M107.1 306.9a.85 .85 0 1 0 .01 0M84.7 343.8a.85 .85 0 1 0 .01 0M133.7 297.3a.85 .85 0 1 0 .01 0M92.6 303.4a.85 .85 0 1 0 .01 0M109.8 316.8a.85 .85 0 1 0 .01 0M115.4 305.4a.85 .85 0 1 0 .01 0M92.4 298.6a.85 .85 0 1 0 .01 0M135.4 293.2a.85 .85 0 1 0 .01 0M84.3 303.1a.85 .85 0 1 0 .01 0M83.6 348.5a.85 .85 0 1 0 .01 0M85.5 313.3a.85 .85 0 1 0 .01 0M86.3 345a.85 .85 0 1 0 .01 0M120.8 308.4a.85 .85 0 1 0 .01 0M84.9 333.9a.85 .85 0 1 0 .01 0M85 297.4a.85 .85 0 1 0 .01 0M89 328.6a.85 .85 0 1 0 .01 0M95.7 289a.85 .85 0 1 0 .01 0M83.6 327.1a.85 .85 0 1 0 .01 0M129.1 292.6a.85 .85 0 1 0 .01 0M148.5 308.3a.85 .85 0 1 0 .01 0M99.9 309.5a.85 .85 0 1 0 .01 0M83.7 329.8a.85 .85 0 1 0 .01 0M83.4 340.2a.85 .85 0 1 0 .01 0M90.9 314.7a.85 .85 0 1 0 .01 0M103.5 288.3a.85 .85 0 1 0 .01 0M87.5 330.8a.85 .85 0 1 0 .01 0M138 311.2a.85 .85 0 1 0 .01 0M117.5 296.8a.85 .85 0 1 0 .01 0M157 325.7a.85 .85 0 1 0 .01 0M85.4 326a.85 .85 0 1 0 .01 0M119.5 297.3a.85 .85 0 1 0 .01 0M221.5 316.1a.85 .85 0 1 0 .01 0M96.2 297.6a.85 .85 0 1 0 .01 0M84.4 296.3a.85 .85 0 1 0 .01 0M115.3 303.4a.85 .85 0 1 0 .01 0M86.1 312.1a.85 .85 0 1 0 .01 0M86.2 312.1a.85 .85 0 1 0 .01 0M90 315.4a.85 .85 0 1 0 .01 0M120.8 309.2a.85 .85 0 1 0 .01 0M125.2 311.5a.85 .85 0 1 0 .01 0M83.7 329.5a.85 .85 0 1 0 .01 0M84.5 321.9a.85 .85 0 1 0 .01 0M93 309.6a.85 .85 0 1 0 .01 0M83.6 334.7a.85 .85 0 1 0 .01 0M166.9 318.2a.85 .85 0 1 0 .01 0M83.8 318.4a.85 .85 0 1 0 .01 0M83.9 340.5a.85 .85 0 1 0 .01 0M112.5 290.8a.85 .85 0 1 0 .01 0M126 313.4a.85 .85 0 1 0 .01 0M84.3 305.6a.85 .85 0 1 0 .01 0M85.1 319.8a.85 .85 0 1 0 .01 0M93.5 292.4a.85 .85 0 1 0 .01 0M84.9 314.2a.85 .85 0 1 0 .01 0M99.3 309.4a.85 .85 0 1 0 .01 0M86.4 309.6a.85 .85 0 1 0 .01 0M239.5 308.8a.85 .85 0 1 0 .01 0M85.3 315.3a.85 .85 0 1 0 .01 0M84.2 307.8a.85 .85 0 1 0 .01 0M86.6 315.2a.85 .85 0 1 0 .01 0M91.1 303.1a.85 .85 0 1 0 .01 0"/>
<path d="M91.9 307.3a.85 .85 0 1 0 .01 0M92 315.5a.85 .85 0 1 0 .01 0M122.8 311a.85 .85 0 1 0 .01 0M83.4 317.5a.85 .85 0 1 0 .01 0M83.7 352.9a.85 .85 0 1 0 .01 0M85.5 344.8a.85 .85 0 1 0 .01 0M83.8 318a.85 .85 0 1 0 .01 0M84.5 344.7a.85 .85 0 1 0 .01 0M127.5 291.6a.85 .85 0 1 0 .01 0M85.1 320.1a.85 .85 0 1 0 .01 0M89.6 303.4a.85 .85 0 1 0 .01 0M84.1 340.7a.85 .85 0 1 0 .01 0M95.7 338.6a.85 .85 0 1 0 .01 0M83.8 295a.85 .85 0 1 0 .01 0M83.8 310.5a.85 .85 0 1 0 .01 0M160.4 301.1a.85 .85 0 1 0 .01 0M84.3 298.1a.85 .85 0 1 0 .01 0M86 308.2a.85 .85 0 1 0 .01 0M84.1 344.8a.85 .85 0 1 0 .01 0M84.4 298.9a.85 .85 0 1 0 .01 0M84.1 365.5a.85 .85 0 1 0 .01 0M85.1 314a.85 .85 0 1 0 .01 0M84.2 304.8a.85 .85 0 1 0 .01 0M103.9 309.6a.85 .85 0 1 0 .01 0M115 312.2a.85 .85 0 1 0 .01 0M84.6 319.5a.85 .85 0 1 0 .01 0M84.1 335.9a.85 .85 0 1 0 .01 0M119.3 299.6a.85 .85 0 1 0 .01 0M114.2 301.1a.85 .85 0 1 0 .01 0M85.5 304.6a.85 .85 0 1 0 .01 0M84 340.7a.85 .85 0 1 0 .01 0M83.9 359.6a.85 .85 0 1 0 .01 0M84 331.9a.85 .85 0 1 0 .01 0M84.7 310a.85 .85 0 1 0 .01 0M84.7 293.7a.85 .85 0 1 0 .01 0M178.8 316.7a.85 .85 0 1 0 .01 0M111.9 310.8a.85 .85 0 1 0 .01 0M124.8 315.2a.85 .85 0 1 0 .01 0M84.5 309.1a.85 .85 0 1 0 .01 0M84 352.8a.85 .85 0 1 0 .01 0M84 346.6a.85 .85 0 1 0 .01 0M157.6 312.8a.85 .85 0 1 0 .01 0M84.5 309.6a.85 .85 0 1 0 .01 0M85.4 330.3a.85 .85 0 1 0 .01 0M85 333.8a.85 .85 0 1 0 .01 0M96.3 306.6a.85 .85 0 1 0 .01 0M84.1 320a.85 .85 0 1 0 .01 0M88.3 305.7a.85 .85 0 1 0 .01 0M137.4 317a.85 .85 0 1 0 .01 0M88.3 306.6a.85 .85 0 1 0 .01 0M87.2 308.1a.85 .85 0 1 0 .01 0M84 340.2a.85 .85 0 1 0 .01 0M83.6 352.1a.85 .85 0 1 0 .01 0M110 301.5a.85 .85 0 1 0 .01 0M92.9 306.5a.85 .85 0 1 0 .01 0M85.8 319.1a.85 .85 0 1 0 .01 0M84.3 328.4a.85 .85 0 1 0 .01 0M84.2 329a.85 .85 0 1 0 .01 0M87.8 316.2a.85 .85 0 1 0 .01 0M84.3 342.7a.85 .85 0 1 0 .01 0M83.7 313.2a.85 .85 0 1 0 .01 0M84.6 346.5a.85 .85 0 1 0 .01 0M84.7 326.5a.85 .85 0 1 0 .01 0M93.2 308.1a.85 .85 0 1 0 .01 0M103.3 309.3a.85 .85 0 1 0 .01 0M107 312.7a.85 .85 0 1 0 .01 0M83.6 349.7a.85 .85 0 1 0 .01 0M84.8 316.7a.85 .85 0 1 0 .01 0M120.1 300.6a.85 .85 0 1 0 .01 0M147.4 303.7a.85 .85 0 1 0 .01 0M88 295.5a.85 .85 0 1 0 .01 0M84.6 324.4a.85 .85 0 1 0 .01 0M125.7 309.9a.85 .85 0 1 0 .01 0M84.4 338.7a.85 .85 0 1 0 .01 0M88.3 302.5a.85 .85 0 1 0 .01 0M87.2 298.5a.85 .85 0 1 0 .01 0M218.8 298.4a.85 .85 0 1 0 .01 0M83.9 327.4a.85 .85 0 1 0 .01 0M83.7 355.1a.85 .85 0 1 0 .01 0M85 306.1a.85 .85 0 1 0 .01 0M96.2 301.1a.85 .85 0 1 0 .01 0M135.9 318.4a.85 .85 0 1 0 .01 0M84.6 332a.85 .85 0 1 0 .01 0M88.1 340.3a.85 .85 0 1 0 .01 0M84.2 336.2a.85 .85 0 1 0 .01 0M86.5 315a.85 .85 0 1 0 .01 0M83.5 337.2a.85 .85 0 1 0 .01 0M89.4 297.7a.85 .85 0 1 0 .01 0M99.1 291.4a.85 .85 0 1 0 .01 0M95.9 320a.85 .85 0 1 0 .01 0M110.9 298.2a.85 .85 0 1 0 .01 0M102.6 312.1a.85 .85 0 1 0 .01 0M84 329.9a.85 .85 0 1 0 .01 0M99 319.3a.85 .85 0 1 0 .01 0M88.8 305.1a.85 .85 0 1 0 .01 0M89.5 303.7a.85 .85 0 1 0 .01 0M85.7 344.1a.85 .85 0 1 0 .01 0M84.7 331.8a.85 .85 0 1 0 .01 0M85.1 305.4a.85 .85 0 1 0 .01 0M98.1 302.8a.85 .85 0 1 0 .01 0M90 325.6a.85 .85 0 1 0 .01 0M83.8 350.1a.85 .85 0 1 0 .01 0M83.9 335.8a.85 .85 0 1 0 .01 0M84.4 328.1a.85 .85 0 1 0 .01 0M135.9 318.9a.85 .85 0 1 0 .01 0M110.8 310.2a.85 .85 0 1 0 .01 0M85.3 289a.85 .85 0 1 0 .01 0M94.4 303a.85 .85 0 1 0 .01 0M84.2 346.2a.85 .85 0 1 0 .01 0M84.6 342.7a.85 .85 0 1 0 .01 0M84.3 329.4a.85 .85 0 1 0 .01 0M164.7 292.5a.85 .85 0 1 0 .01 0M111.4 317.7a.85 .85 0 1 0 .01 0M84.3 330.7a.85 .85 0 1 0 .01 0M87.8 315.3a.85 .85 0 1 0 .01 0M152.1 310.7a.85 .85 0 1 0 .01 0M84 300.9a.85 .85 0 1 0 .01 0M149.1 307.2a.85 .85 0 1 0 .01 0M86.1 296.6a.85 .85 0 1 0 .01 0M117.4 307.4a.85 .85 0 1 0 .01 0M108.2 318.1a.85 .85 0 1 0 .01 0M84.5 338.5a.85 .85 0 1 0 .01 0M86.5 285a.85 .85 0 1 0 .01 0M84.3 308.8a.85 .85 0 1 0 .01 0M83.2 345.6a.85 .85 0 1 0 .01 0M87.2 309.7a.85 .85 0 1 0 .01 0M84.9 351a.85 .85 0 1 0 .01 0M131 318.2a.85 .85 0 1 0 .01 0M111.4 295a.85 .85 0 1 0 .01 0M83.7 302.7a.85 .85 0 1 0 .01 0M132.6 301.7a.85 .85 0 1 0 .01 0M118.8 293.5a.85 .85 0 1 0 .01 0M83.9 353.3a.85 .85 0 1 0 .01 0M88.5 312a.85 .85 0 1 0 .01 0M91.1 323.8a.85 .85 0 1 0 .01 0M87.6 294.6a.85 .85 0 1 0 .01 0M84.4 344.2a.85 .85 0 1 0 .01 0M90.9 301.2a.85 .85 0 1 0 .01 0M120.2 307.5a.85 .85 0 1 0 .01 0M94.1 303.6a.85 .85 0 1 0 .01 0M89.3 302.8a.85 .85 0 1 0 .01 0M84.7 319.8a.85 .85 0 1 0 .01 0M85.2 352.1a.85 .85 0 1 0 .01 0M92.2 325.7a.85 .85 0 1 0 .01 0M84.4 324.8a.85 .85 0 1 0 .01 0M86.2 333.8a.85 .85 0 1 0 .01 0M84 315.6a.85 .85 0 1 0 .01 0M98.3 301.7a.85 .85 0 1 0 .01 0M139.4 297.5a.85 .85 0 1 0 .01 0M149.8 306.3a.85 .85 0 1 0 .01 0M88.6 327.3a.85 .85 0 1 0 .01 0M85.2 295.3a.85 .85 0 1 0 .01 0M226.7 313a.85 .85 0 1 0 .01 0M208.2 316.5a.85 .85 0 1 0 .01 0M86.1 305.7a.85 .85 0 1 0 .01 0M134.4 305.8a.85 .85 0 1 0 .01 0M123.7 299.3a.85 .85 0 1 0 .01 0M90.2 341.8a.85 .85 0 1 0 .01 0M84.2 307.7a.85 .85 0 1 0 .01 0M106.4 302.9a.85 .85 0 1 0 .01 0M84.5 311.2a.85 .85 0 1 0 .01 0M91.1 305.6a.85 .85 0 1 0 .01 0M83.9 319.3a.85 .85 0 1 0 .01 0M144.5 298.3a.85 .85 0 1 0 .01 0M90.8 305.1a.85 .85 0 1 0 .01 0M84.4 306.4a.85 .85 0 1 0 .01 0M84.5 332.2a.85 .85 0 1 0 .01 0M99.5 311.8a.85 .85 0 1 0 .01 0M85.7 317.4a.85 .85 0 1 0 .01 0M84.2 341.2a.85 .85 0 1 0 .01 0M84.1 362.5a.85 .85 0 1 0 .01 0M109.4 313.4a.85 .85 0 1 0 .01 0M201.5 308.9a.85 .85 0 1 0 .01 0M114.9 299.1a.85 .85 0 1 0 .01 0M87.4 298.7a.85 .85 0 1 0 .01 0M85.1 323.2a.85 .85 0 1 0 .01 0M131 318a.85 .85 0 1 0 .01 0M100.2 312a.85 .85 0 1 0 .01 0M110.1 298.6a.85 .85 0 1 0 .01 0M85.4 299.1a.85 .85 0 1 0 .01 0M85 364.3a.85 .85 0 1 0 .01 0M188.5 302.1a.85 .85 0 1 0 .01 0M88.2 335.1a.85 .85 0 1 0 .01 0M83.8 339.3a.85 .85 0 1 0 .01 0M119.7 307.7a.85 .85 0 1 0 .01 0M85.6 321.3a.85 .85 0 1 0 .01 0M98.9 320.2a.85 .85 0 1 0 .01 0M86.3 320.2a.85 .85 0 1 0 .01 0M84.7 340.6a.85 .85 0 1 0 .01 0M90.5 304.3a.85 .85 0 1 0 .01 0M84.8 338a.85 .85 0 1 0 .01 0M111.3 312.7a.85 .85 0 1 0 .01 0M115.1 303.6a.85 .85 0 1 0 .01 0M84.6 333.4a.85 .85 0 1 0 .01 0M84.4 311.3a.85 .85 0 1 0 .01 0M138.7 303.7a.85 .85 0 1 0 .01 0M101.8 316.6a.85 .85 0 1 0 .01 0M85.6 335a.85 .85 0 1 0 .01 0M84.8 319.1a.85 .85 0 1 0 .01 0M113.1 312.9a.85 .85 0 1 0 .01 0M84.1 333.1a.85 .85 0 1 0 .01 0M112.4 291.8a.85 .85 0 1 0 .01 0M106 315.4a.85 .85 0 1 0 .01 0M84.2 350.1a.85 .85 0 1 0 .01 0M83.9 352.6a.85 .85 0 1 0 .01 0M85.2 334.8a.85 .85 0 1 0 .01 0M84.7 346.8a.85 .85 0 1 0 .01 0M88.9 293.7a.85 .85 0 1 0 .01 0M98.3 310a.85 .85 0 1 0 .01 0M84.4 329.1a.85 .85 0 1 0 .01 0M122.1 314.5a.85 .85 0 1 0 .01 0M83.7 358.2a.85 .85 0 1 0 .01 0M85.8 320.6a.85 .85 0 1 0 .01 0M85.9 307.9a.85 .85 0 1 0 .01 0M83.7 319.2a.85 .85 0 1 0 .01 0M83.4 322.1a.85 .85 0 1 0 .01 0M130.3 295.5a.85 .85 0 1 0 .01 0M84.7 351.1a.85 .85 0 1 0 .01 0M84 361.1a.85 .85 0 1 0 .01 0M114.8 312.6a.85 .85 0 1 0 .01 0M96.6 305.7a.85 .85 0 1 0 .01 0M91.8 306.4a.85 .85 0 1 0 .01 0M142.3 297.8a.85 .85 0 1 0 .01 0M135 295.9a.85 .85 0 1 0 .01 0M88.5 314.6a.85 .85 0 1 0 .01 0M84.9 317.3a.85 .85 0 1 0 .01 0M89.1 318.2a.85 .85 0 1 0 .01 0M87.3 336.5a.85 .85 0 1 0 .01 0M84.1 313.5a.85 .85 0 1 0 .01 0M116.8 301.1a.85 .85 0 1 0 .01 0M85.2 340.7a.85 .85 0 1 0 .01 0M99.2 301a.85 .85 0 1 0 .01 0M84.1 312.3a.85 .85 0 1 0 .01 0M93.4 289.6a.85 .85 0 1 0 .01 0M104.4 290a.85 .85 0 1 0 .01 0M86.9 338.2a.85 .85 0 1 0 .01 0M117.4 296.1a.85 .85 0 1 0 .01 0M222.8 308.7a.85 .85 0 1 0 .01 0M90.6 311.1a.85 .85 0 1 0 .01 0M108.9 307.1a.85 .85 0 1 0 .01 0M138.7 305.7a.85 .85 0 1 0 .01 0M88.3 305.1a.85 .85 0 1 0 .01 0M86 306.4a.85 .85 0 1 0 .01 0M98.3 319.9a.85 .85 0 1 0 .01 0M84.3 339.4a.85 .85 0 1 0 .01 0M104.8 311.5a.85 .85 0 1 0 .01 0M240.2 301.8a.85 .85 0 1 0 .01 0M86.5 302.2a.85 .85 0 1 0 .01 0M92.4 287.1a.85 .85 0 1 0 .01 0M189.5 304.2a.85 .85 0 1 0 .01 0M89.7 303.4a.85 .85 0 1 0 .01 0M84.1 331.9a.85 .85 0 1 0 .01 0M89.2 315.3a.85 .85 0 1 0 .01 0M96.1 321.3a.85 .85 0 1 0 .01 0M114 302a.85 .85 0 1 0 .01 0M85.6 324a.85 .85 0 1 0 .01 0M88.6 314.3a.85 .85 0 1 0 .01 0M123.2 300.8a.85 .85 0 1 0 .01 0M84.8 328.8a.85 .85 0 1 0 .01 0M86.1 288.3a.85 .85 0 1 0 .01 0M89.1 310.9a.85 .85 0 1 0 .01 0M110.4 301.1a.85 .85 0 1 0 .01 0M83.5 345.1a.85 .85 0 1 0 .01 0M107.1 312.1a.85 .85 0 1 0 .01 0M89 311.7a.85 .85 0 1 0 .01 0"/>
<path d="M85.4 296a.85 .85 0 1 0 .01 0M85.5 331.9a.85 .85 0 1 0 .01 0M126.8 303.1a.85 .85 0 1 0 .01 0M88.3 303.4a.85 .85 0 1 0 .01 0M86.1 320a.85 .85 0 1 0 .01 0M87.9 296.2a.85 .85 0 1 0 .01 0M91.8 301.6a.85 .85 0 1 0 .01 0M136.3 308.7a.85 .85 0 1 0 .01 0M93.7 299.6a.85 .85 0 1 0 .01 0M83.9 340a.85 .85 0 1 0 .01 0M109.7 310.5a.85 .85 0 1 0 .01 0M86.3 314.2a.85 .85 0 1 0 .01 0M102.2 304a.85 .85 0 1 0 .01 0M85.9 310.5a.85 .85 0 1 0 .01 0M105.1 301.1a.85 .85 0 1 0 .01 0M102.8 312a.85 .85 0 1 0 .01 0M84.4 312.7a.85 .85 0 1 0 .01 0M83.5 370.4a.85 .85 0 1 0 .01 0M83.5 309.6a.85 .85 0 1 0 .01 0M84.9 288.2a.85 .85 0 1 0 .01 0M86.1 311.5a.85 .85 0 1 0 .01 0M84.1 308.8a.85 .85 0 1 0 .01 0M83.7 337.5a.85 .85 0 1 0 .01 0M94.9 300.5a.85 .85 0 1 0 .01 0M90.2 299.8a.85 .85 0 1 0 .01 0M88.6 311.5a.85 .85 0 1 0 .01 0M91.6 308.9a.85 .85 0 1 0 .01 0M130.3 305.6a.85 .85 0 1 0 .01 0M106.7 305.4a.85 .85 0 1 0 .01 0M83.6 349.7a.85 .85 0 1 0 .01 0M84 326.3a.85 .85 0 1 0 .01 0M104.3 337.3a.85 .85 0 1 0 .01 0M120 327.3a.85 .85 0 1 0 .01 0M84.4 308.3a.85 .85 0 1 0 .01 0M137.2 300.7a.85 .85 0 1 0 .01 0M83.9 351.6a.85 .85 0 1 0 .01 0M83.4 319a.85 .85 0 1 0 .01 0M84.3 319.6a.85 .85 0 1 0 .01 0M83.4 352.8a.85 .85 0 1 0 .01 0M86.4 313.2a.85 .85 0 1 0 .01 0M92.6 317.2a.85 .85 0 1 0 .01 0M85 330.7a.85 .85 0 1 0 .01 0M84 344.8a.85 .85 0 1 0 .01 0M87.5 334a.85 .85 0 1 0 .01 0M88.4 329.7a.85 .85 0 1 0 .01 0M108.6 293a.85 .85 0 1 0 .01 0M83.6 317.7a.85 .85 0 1 0 .01 0M84.3 332.5a.85 .85 0 1 0 .01 0M84.8 304.7a.85 .85 0 1 0 .01 0M97.3 305.2a.85 .85 0 1 0 .01 0M197.2 307.4a.85 .85 0 1 0 .01 0M86.2 305.9a.85 .85 0 1 0 .01 0M93.3 309.6a.85 .85 0 1 0 .01 0M120.8 304.6a.85 .85 0 1 0 .01 0M89.5 297.5a.85 .85 0 1 0 .01 0M85.5 316a.85 .85 0 1 0 .01 0M113.1 303.5a.85 .85 0 1 0 .01 0M84.1 349a.85 .85 0 1 0 .01 0M118.9 291.7a.85 .85 0 1 0 .01 0M124.7 305.7a.85 .85 0 1 0 .01 0M84.5 341.2a.85 .85 0 1 0 .01 0M84.4 307.7a.85 .85 0 1 0 .01 0M83.3 329.4a.85 .85 0 1 0 .01 0M106.6 310.6a.85 .85 0 1 0 .01 0M96.6 298.1a.85 .85 0 1 0 .01 0M101.6 308.1a.85 .85 0 1 0 .01 0M139.3 307.5a.85 .85 0 1 0 .01 0M86.2 316.4a.85 .85 0 1 0 .01 0M85.4 335.7a.85 .85 0 1 0 .01 0M217.7 289.6a.85 .85 0 1 0 .01 0M88.7 313.1a.85 .85 0 1 0 .01 0M93.4 321.2a.85 .85 0 1 0 .01 0M85.1 310.1a.85 .85 0 1 0 .01 0M85.6 295.9a.85 .85 0 1 0 .01 0M84.2 289.3a.85 .85 0 1 0 .01 0M92.5 311.1a.85 .85 0 1 0 .01 0M84.5 332.7a.85 .85 0 1 0 .01 0M85.1 303a.85 .85 0 1 0 .01 0M133.3 306.5a.85 .85 0 1 0 .01 0M126.9 302.3a.85 .85 0 1 0 .01 0M85.7 306.4a.85 .85 0 1 0 .01 0M135 312.4a.85 .85 0 1 0 .01 0M142.6 310.3a.85 .85 0 1 0 .01 0M122.6 305.1a.85 .85 0 1 0 .01 0M84.2 338.9a.85 .85 0 1 0 .01 0M151.4 307a.85 .85 0 1 0 .01 0M84.4 344.9a.85 .85 0 1 0 .01 0M183.3 309.7a.85 .85 0 1 0 .01 0M85.1 288.7a.85 .85 0 1 0 .01 0M85.4 367.5a.85 .85 0 1 0 .01 0M83.7 318.4a.85 .85 0 1 0 .01 0M84.9 327.1a.85 .85 0 1 0 .01 0M129.1 302.6a.85 .85 0 1 0 .01 0M83.9 320.6a.85 .85 0 1 0 .01 0M93.1 310a.85 .85 0 1 0 .01 0M93.3 305.8a.85 .85 0 1 0 .01 0M163.6 309.8a.85 .85 0 1 0 .01 0M130.9 306.2a.85 .85 0 1 0 .01 0M92 309.1a.85 .85 0 1 0 .01 0M122.7 311.6a.85 .85 0 1 0 .01 0M86.1 305.6a.85 .85 0 1 0 .01 0M117.9 301.6a.85 .85 0 1 0 .01 0M118.7 308.7a.85 .85 0 1 0 .01 0M111.5 313.2a.85 .85 0 1 0 .01 0M87.6 312.4a.85 .85 0 1 0 .01 0M90.6 294.2a.85 .85 0 1 0 .01 0M104.7 309.8a.85 .85 0 1 0 .01 0M83.6 393.9a.85 .85 0 1 0 .01 0M86.8 335.1a.85 .85 0 1 0 .01 0M103.4 332.8a.85 .85 0 1 0 .01 0M83.7 323.8a.85 .85 0 1 0 .01 0M85.6 311.5a.85 .85 0 1 0 .01 0M83.8 350a.85 .85 0 1 0 .01 0M83.8 346.9a.85 .85 0 1 0 .01 0M94.3 308a.85 .85 0 1 0 .01 0M85.1 310.3a.85 .85 0 1 0 .01 0M139 299.2a.85 .85 0 1 0 .01 0M110.4 304.1a.85 .85 0 1 0 .01 0M107 317.2a.85 .85 0 1 0 .01 0M210.7 308.3a.85 .85 0 1 0 .01 0M88.6 309.2a.85 .85 0 1 0 .01 0M87.5 297a.85 .85 0 1 0 .01 0M104.9 295.1a.85 .85 0 1 0 .01 0M85.5 311.4a.85 .85 0 1 0 .01 0M121.1 303.4a.85 .85 0 1 0 .01 0M99.4 308.5a.85 .85 0 1 0 .01 0M84.6 310.8a.85 .85 0 1 0 .01 0M208 312.7a.85 .85 0 1 0 .01 0M95.9 297.4a.85 .85 0 1 0 .01 0M84.1 319.9a.85 .85 0 1 0 .01 0M120.3 305.7a.85 .85 0 1 0 .01 0M93 310.1a.85 .85 0 1 0 .01 0M84.3 296.5a.85 .85 0 1 0 .01 0M84 340.7a.85 .85 0 1 0 .01 0M84.9 322.2a.85 .85 0 1 0 .01 0M135.5 298.9a.85 .85 0 1 0 .01 0M83.3 353.6a.85 .85 0 1 0 .01 0M85.8 308.6a.85 .85 0 1 0 .01 0M85.4 329.6a.85 .85 0 1 0 .01 0M130.9 299.3a.85 .85 0 1 0 .01 0M98.4 308.5a.85 .85 0 1 0 .01 0M84.2 322.5a.85 .85 0 1 0 .01 0M89.3 306.5a.85 .85 0 1 0 .01 0M84.8 308.3a.85 .85 0 1 0 .01 0M86.9 318.8a.85 .85 0 1 0 .01 0M96.1 291.5a.85 .85 0 1 0 .01 0M85.1 331a.85 .85 0 1 0 .01 0M125.5 306.8a.85 .85 0 1 0 .01 0M199.1 305.6a.85 .85 0 1 0 .01 0M99.3 309.1a.85 .85 0 1 0 .01 0M91.7 308.4a.85 .85 0 1 0 .01 0M180.8 297a.85 .85 0 1 0 .01 0M84.9 336a.85 .85 0 1 0 .01 0M101.9 322.5a.85 .85 0 1 0 .01 0M167 308.6a.85 .85 0 1 0 .01 0M87.4 325.1a.85 .85 0 1 0 .01 0M193.2 303a.85 .85 0 1 0 .01 0M86.6 332a.85 .85 0 1 0 .01 0M85.5 350.4a.85 .85 0 1 0 .01 0M88 308.4a.85 .85 0 1 0 .01 0M107.3 303a.85 .85 0 1 0 .01 0M85.1 336.7a.85 .85 0 1 0 .01 0M84.7 333.6a.85 .85 0 1 0 .01 0M161 310.6a.85 .85 0 1 0 .01 0M94.1 314.8a.85 .85 0 1 0 .01 0M120.3 307.3a.85 .85 0 1 0 .01 0M130.3 312.5a.85 .85 0 1 0 .01 0M86.1 317.3a.85 .85 0 1 0 .01 0M85 308.1a.85 .85 0 1 0 .01 0M85.3 336.5a.85 .85 0 1 0 .01 0M83.4 306.5a.85 .85 0 1 0 .01 0M151.3 295.7a.85 .85 0 1 0 .01 0M88.9 312.2a.85 .85 0 1 0 .01 0M84.8 313.9a.85 .85 0 1 0 .01 0M83.8 308.1a.85 .85 0 1 0 .01 0M128.4 308.8a.85 .85 0 1 0 .01 0M85.8 319.4a.85 .85 0 1 0 .01 0M115.3 319.4a.85 .85 0 1 0 .01 0M87.3 316.6a.85 .85 0 1 0 .01 0M100 307.5a.85 .85 0 1 0 .01 0M85.9 305a.85 .85 0 1 0 .01 0M84.9 312.4a.85 .85 0 1 0 .01 0M84.8 290.6a.85 .85 0 1 0 .01 0M108.3 308.6a.85 .85 0 1 0 .01 0M89.5 289a.85 .85 0 1 0 .01 0M84.8 319.9a.85 .85 0 1 0 .01 0M89.5 312.5a.85 .85 0 1 0 .01 0M83.8 351a.85 .85 0 1 0 .01 0M104.5 334.7a.85 .85 0 1 0 .01 0M88.1 319.3a.85 .85 0 1 0 .01 0M84.9 315.4a.85 .85 0 1 0 .01 0M83.7 341.7a.85 .85 0 1 0 .01 0M129.1 295.9a.85 .85 0 1 0 .01 0M89.7 302.3a.85 .85 0 1 0 .01 0M84 301.6a.85 .85 0 1 0 .01 0M143.2 298.9a.85 .85 0 1 0 .01 0M131.3 307.6a.85 .85 0 1 0 .01 0M86.8 317.5a.85 .85 0 1 0 .01 0M179.1 347.9a.85 .85 0 1 0 .01 0M96.1 311.7a.85 .85 0 1 0 .01 0M145.8 311.8a.85 .85 0 1 0 .01 0M89.5 338.4a.85 .85 0 1 0 .01 0M92.1 301a.85 .85 0 1 0 .01 0M84.1 336.4a.85 .85 0 1 0 .01 0M84.2 335.1a.85 .85 0 1 0 .01 0M92.5 307.1a.85 .85 0 1 0 .01 0M89.6 300.3a.85 .85 0 1 0 .01 0M106.2 305.7a.85 .85 0 1 0 .01 0M89.4 295.9a.85 .85 0 1 0 .01 0M99.2 306.7a.85 .85 0 1 0 .01 0M114.6 304.4a.85 .85 0 1 0 .01 0M130.7 308.6a.85 .85 0 1 0 .01 0M135.6 299.2a.85 .85 0 1 0 .01 0M187.2 312.4a.85 .85 0 1 0 .01 0M103.1 329.2a.85 .85 0 1 0 .01 0M83.8 323.7a.85 .85 0 1 0 .01 0M103 297.3a.85 .85 0 1 0 .01 0M92.6 310a.85 .85 0 1 0 .01 0M129.5 310.3a.85 .85 0 1 0 .01 0M112 308a.85 .85 0 1 0 .01 0M84.3 329.2a.85 .85 0 1 0 .01 0M114.6 298.8a.85 .85 0 1 0 .01 0M84 325.2a.85 .85 0 1 0 .01 0M86.3 325.7a.85 .85 0 1 0 .01 0M138.2 315.1a.85 .85 0 1 0 .01 0M83.5 330.3a.85 .85 0 1 0 .01 0M85.2 330.7a.85 .85 0 1 0 .01 0M176.8 313a.85 .85 0 1 0 .01 0M85.6 334.8a.85 .85 0 1 0 .01 0M86.9 306.2a.85 .85 0 1 0 .01 0M86.9 298.6a.85 .85 0 1 0 .01 0M88 317.8a.85 .85 0 1 0 .01 0M90.4 296.3a.85 .85 0 1 0 .01 0M124.3 307.6a.85 .85 0 1 0 .01 0M83.5 341.5a.85 .85 0 1 0 .01 0M90.3 309.5a.85 .85 0 1 0 .01 0M84.3 334.8a.85 .85 0 1 0 .01 0M84 364.2a.85 .85 0 1 0 .01 0M124 323.4a.85 .85 0 1 0 .01 0M83.9 319.5a.85 .85 0 1 0 .01 0M84.4 324.9a.85 .85 0 1 0 .01 0M92 306.2a.85 .85 0 1 0 .01 0M85.9 311a.85 .85 0 1 0 .01 0M86.4 324.8a.85 .85 0 1 0 .01 0M126.1 299.1a.85 .85 0 1 0 .01 0M86.5 303a.85 .85 0 1 0 .01 0M85.5 312.5a.85 .85 0 1 0 .01 0M84.8 331.1a.85 .85 0 1 0 .01 0M120.2 293.6a.85 .85 0 1 0 .01 0M123.1 311.5a.85 .85 0 1 0 .01 0M84.4 333.1a.85 .85 0 1 0 .01 0M107.8 303.5a.85 .85 0 1 0 .01 0M84.5 305.8a.85 .85 0 1 0 .01 0M89.6 308.4a.85 .85 0 1 0 .01 0M84 325.7a.85 .85 0 1 0 .01 0M133.3 301.2a.85 .85 0 1 0 .01 0M84.1 345.9a.85 .85 0 1 0 .01 0M190.5 303.6a.85 .85 0 1 0 .01 0M84.6 353a.85 .85 0 1 0 .01 0M83 342.6a.85 .85 0 1 0 .01 0M108.7 302.6a.85 .85 0 1 0 .01 0M96.7 310.1a.85 .85 0 1 0 .01 0M186.9 332.3a.85 .85 0 1 0 .01 0M84.4 341.9a.85 .85 0 1 0 .01 0M86.9 302.1a.85 .85 0 1 0 .01 0"/>
<path d="M111.6 313.3a.85 .85 0 1 0 .01 0M85 322.2a.85 .85 0 1 0 .01 0M87.1 325.8a.85 .85 0 1 0 .01 0M83.2 301.1a.85 .85 0 1 0 .01 0M84.2 313.6a.85 .85 0 1 0 .01 0M83.9 330.3a.85 .85 0 1 0 .01 0M83.8 313.8a.85 .85 0 1 0 .01 0M84.2 320.3a.85 .85 0 1 0 .01 0M140.1 314.8a.85 .85 0 1 0 .01 0M85.5 326.2a.85 .85 0 1 0 .01 0M114 310.5a.85 .85 0 1 0 .01 0M83.9 333.8a.85 .85 0 1 0 .01 0M85.6 318.7a.85 .85 0 1 0 .01 0M87 306.3a.85 .85 0 1 0 .01 0M89.1 299.5a.85 .85 0 1 0 .01 0M85.2 312.1a.85 .85 0 1 0 .01 0M84 317.8a.85 .85 0 1 0 .01 0M85 341.7a.85 .85 0 1 0 .01 0M85.9 307.4a.85 .85 0 1 0 .01 0M83.8 306.1a.85 .85 0 1 0 .01 0M84.9 326.9a.85 .85 0 1 0 .01 0M84.7 349.3a.85 .85 0 1 0 .01 0M84.7 328.1a.85 .85 0 1 0 .01 0M88.9 305.2a.85 .85 0 1 0 .01 0M115.6 311.6a.85 .85 0 1 0 .01 0M85.8 306.6a.85 .85 0 1 0 .01 0M84.1 342a.85 .85 0 1 0 .01 0M130.2 308a.85 .85 0 1 0 .01 0M102.6 311.4a.85 .85 0 1 0 .01 0M91.8 307.9a.85 .85 0 1 0 .01 0M85.4 289.2a.85 .85 0 1 0 .01 0M87.5 316.2a.85 .85 0 1 0 .01 0M109.2 303.3a.85 .85 0 1 0 .01 0M84.5 335.8a.85 .85 0 1 0 .01 0M117 316.7a.85 .85 0 1 0 .01 0M87.1 329.6a.85 .85 0 1 0 .01 0M89.3 308.3a.85 .85 0 1 0 .01 0M95.1 297.5a.85 .85 0 1 0 .01 0M136 299.3a.85 .85 0 1 0 .01 0M83.8 348.4a.85 .85 0 1 0 .01 0M106.8 301.5a.85 .85 0 1 0 .01 0M90.1 321.3a.85 .85 0 1 0 .01 0M107.5 300.5a.85 .85 0 1 0 .01 0M85.4 318.7a.85 .85 0 1 0 .01 0M92.3 310.6a.85 .85 0 1 0 .01 0M100.6 309.7a.85 .85 0 1 0 .01 0M84.7 346.6a.85 .85 0 1 0 .01 0M85.9 299.6a.85 .85 0 1 0 .01 0M119.9 294.1a.85 .85 0 1 0 .01 0M85.7 292.4a.85 .85 0 1 0 .01 0M87.5 302.7a.85 .85 0 1 0 .01 0M84.1 330.6a.85 .85 0 1 0 .01 0M84.1 307a.85 .85 0 1 0 .01 0M84.4 321.3a.85 .85 0 1 0 .01 0M86 313.8a.85 .85 0 1 0 .01 0M104.2 312.7a.85 .85 0 1 0 .01 0M85.7 322.3a.85 .85 0 1 0 .01 0M90.9 304.1a.85 .85 0 1 0 .01 0M84.1 340a.85 .85 0 1 0 .01 0M83.8 344.1a.85 .85 0 1 0 .01 0M156.4 296.6a.85 .85 0 1 0 .01 0M84 334.1a.85 .85 0 1 0 .01 0M116 313a.85 .85 0 1 0 .01 0M118.9 315.5a.85 .85 0 1 0 .01 0M159.5 305.4a.85 .85 0 1 0 .01 0M85 311.2a.85 .85 0 1 0 .01 0M113.3 310.3a.85 .85 0 1 0 .01 0M94.7 299.8a.85 .85 0 1 0 .01 0M85.7 341a.85 .85 0 1 0 .01 0M133.3 312.2a.85 .85 0 1 0 .01 0M85.1 349.7a.85 .85 0 1 0 .01 0M85.4 288.1a.85 .85 0 1 0 .01 0M91.4 304.9a.85 .85 0 1 0 .01 0M130.8 298.6a.85 .85 0 1 0 .01 0M134.9 303.9a.85 .85 0 1 0 .01 0M87.3 325a.85 .85 0 1 0 .01 0M109 309.9a.85 .85 0 1 0 .01 0M83.6 327.6a.85 .85 0 1 0 .01 0M168.8 309.3a.85 .85 0 1 0 .01 0M206.4 305.1a.85 .85 0 1 0 .01 0M90.3 308.7a.85 .85 0 1 0 .01 0M84.2 340.2a.85 .85 0 1 0 .01 0M85.3 295.8a.85 .85 0 1 0 .01 0M84.1 330.6a.85 .85 0 1 0 .01 0M116.2 303.9a.85 .85 0 1 0 .01 0M120 303a.85 .85 0 1 0 .01 0M94 301a.85 .85 0 1 0 .01 0M84.1 311.6a.85 .85 0 1 0 .01 0M85.4 325.6a.85 .85 0 1 0 .01 0M86.9 301.8a.85 .85 0 1 0 .01 0M99.3 307.4a.85 .85 0 1 0 .01 0M162.2 302.5a.85 .85 0 1 0 .01 0M106 303.2a.85 .85 0 1 0 .01 0M102 305.3a.85 .85 0 1 0 .01 0M121.8 313a.85 .85 0 1 0 .01 0M84.5 310.5a.85 .85 0 1 0 .01 0M83.5 309.1a.85 .85 0 1 0 .01 0M125.5 300a.85 .85 0 1 0 .01 0M114.5 300.8a.85 .85 0 1 0 .01 0M126 291.8a.85 .85 0 1 0 .01 0M92.6 295.7a.85 .85 0 1 0 .01 0M175.8 310.3a.85 .85 0 1 0 .01 0M83.4 330.7a.85 .85 0 1 0 .01 0M154.5 313.9a.85 .85 0 1 0 .01 0M94.8 303.9a.85 .85 0 1 0 .01 0M83.6 330.4a.85 .85 0 1 0 .01 0M111.8 311.2a.85 .85 0 1 0 .01 0M84.9 302.7a.85 .85 0 1 0 .01 0M83.6 323.4a.85 .85 0 1 0 .01 0M84.6 336.2a.85 .85 0 1 0 .01 0M180.1 300.5a.85 .85 0 1 0 .01 0M83.6 318.7a.85 .85 0 1 0 .01 0M84.1 314.4a.85 .85 0 1 0 .01 0M110.5 308.1a.85 .85 0 1 0 .01 0M88.1 316.1a.85 .85 0 1 0 .01 0M91.5 291.4a.85 .85 0 1 0 .01 0M90.6 304.9a.85 .85 0 1 0 .01 0M113.2 305.9a.85 .85 0 1 0 .01 0M86.4 313.8a.85 .85 0 1 0 .01 0M84.1 357.1a.85 .85 0 1 0 .01 0M89.3 317.8a.85 .85 0 1 0 .01 0M98.5 315.5a.85 .85 0 1 0 .01 0M97.2 333.9a.85 .85 0 1 0 .01 0M84.2 357.4a.85 .85 0 1 0 .01 0M100.7 299a.85 .85 0 1 0 .01 0M84.6 309.1a.85 .85 0 1 0 .01 0M85.4 303a.85 .85 0 1 0 .01 0M84.5 323a.85 .85 0 1 0 .01 0M136.8 285.8a.85 .85 0 1 0 .01 0M84.9 334.4a.85 .85 0 1 0 .01 0M125.9 306a.85 .85 0 1 0 .01 0M110.6 307.3a.85 .85 0 1 0 .01 0M90.3 318.8a.85 .85 0 1 0 .01 0M84.3 317.5a.85 .85 0 1 0 .01 0M90.9 321a.85 .85 0 1 0 .01 0M85.2 322.2a.85 .85 0 1 0 .01 0M83.9 318.5a.85 .85 0 1 0 .01 0M84.7 319.9a.85 .85 0 1 0 .01 0M86.9 327.5a.85 .85 0 1 0 .01 0M117 303.7a.85 .85 0 1 0 .01 0M115.8 300a.85 .85 0 1 0 .01 0M122.6 308.7a.85 .85 0 1 0 .01 0M84.1 338a.85 .85 0 1 0 .01 0M89.4 310.7a.85 .85 0 1 0 .01 0M84.4 330.5a.85 .85 0 1 0 .01 0M84.8 306a.85 .85 0 1 0 .01 0M127.9 302.2a.85 .85 0 1 0 .01 0M84.3 351a.85 .85 0 1 0 .01 0M93.3 286.5a.85 .85 0 1 0 .01 0M83.5 309.9a.85 .85 0 1 0 .01 0M83.5 330.9a.85 .85 0 1 0 .01 0M83.9 348.8a.85 .85 0 1 0 .01 0M147.7 309.2a.85 .85 0 1 0 .01 0M83.6 332.5a.85 .85 0 1 0 .01 0M95.9 309a.85 .85 0 1 0 .01 0M83.4 322a.85 .85 0 1 0 .01 0M85 322.2a.85 .85 0 1 0 .01 0M83.9 323a.85 .85 0 1 0 .01 0M118.2 300.2a.85 .85 0 1 0 .01 0M105.5 316a.85 .85 0 1 0 .01 0M88.1 316.2a.85 .85 0 1 0 .01 0M93.5 305.7a.85 .85 0 1 0 .01 0M87.9 332.3a.85 .85 0 1 0 .01 0M103 309.9a.85 .85 0 1 0 .01 0M103.6 320.5a.85 .85 0 1 0 .01 0M143.5 308.1a.85 .85 0 1 0 .01 0M84 339.3a.85 .85 0 1 0 .01 0M83.9 341.1a.85 .85 0 1 0 .01 0M85.1 357.1a.85 .85 0 1 0 .01 0M83.7 361a.85 .85 0 1 0 .01 0M83.8 335.5a.85 .85 0 1 0 .01 0M84.9 308.8a.85 .85 0 1 0 .01 0M85.8 320.9a.85 .85 0 1 0 .01 0M154.5 306.5a.85 .85 0 1 0 .01 0M112 306.3a.85 .85 0 1 0 .01 0M86.3 318.9a.85 .85 0 1 0 .01 0M84.3 311.8a.85 .85 0 1 0 .01 0M84.8 295.7a.85 .85 0 1 0 .01 0M85.9 329.1a.85 .85 0 1 0 .01 0M85.4 297.9a.85 .85 0 1 0 .01 0M85.8 294.1a.85 .85 0 1 0 .01 0M83.2 362.1a.85 .85 0 1 0 .01 0M86.9 310.3a.85 .85 0 1 0 .01 0M166.4 319a.85 .85 0 1 0 .01 0M88.7 308.7a.85 .85 0 1 0 .01 0M134.7 308.5a.85 .85 0 1 0 .01 0M85.7 300.2a.85 .85 0 1 0 .01 0M130.3 322.4a.85 .85 0 1 0 .01 0M101.8 310.6a.85 .85 0 1 0 .01 0M109.6 317.1a.85 .85 0 1 0 .01 0M162.8 290.7a.85 .85 0 1 0 .01 0M83.4 345.8a.85 .85 0 1 0 .01 0M197 324.5a.85 .85 0 1 0 .01 0M113.8 316.1a.85 .85 0 1 0 .01 0M138.7 306a.85 .85 0 1 0 .01 0M114 312.7a.85 .85 0 1 0 .01 0M114.5 295.7a.85 .85 0 1 0 .01 0M116.1 305.8a.85 .85 0 1 0 .01 0M92.1 305.3a.85 .85 0 1 0 .01 0M85.6 327.7a.85 .85 0 1 0 .01 0M84.9 333.6a.85 .85 0 1 0 .01 0M88.5 306a.85 .85 0 1 0 .01 0M88.4 303.5a.85 .85 0 1 0 .01 0M93.1 298.2a.85 .85 0 1 0 .01 0M85.3 311a.85 .85 0 1 0 .01 0M104 309.7a.85 .85 0 1 0 .01 0M138.4 301.4a.85 .85 0 1 0 .01 0M86.5 340.3a.85 .85 0 1 0 .01 0M84.1 350.4a.85 .85 0 1 0 .01 0M89.3 305.7a.85 .85 0 1 0 .01 0M83.9 338.4a.85 .85 0 1 0 .01 0M106.6 296a.85 .85 0 1 0 .01 0M114.4 299.1a.85 .85 0 1 0 .01 0M87.1 297.1a.85 .85 0 1 0 .01 0M84.4 302.4a.85 .85 0 1 0 .01 0M83.5 341.8a.85 .85 0 1 0 .01 0M138.3 309a.85 .85 0 1 0 .01 0M102.6 308.4a.85 .85 0 1 0 .01 0M198.9 305.1a.85 .85 0 1 0 .01 0M130.1 299.4a.85 .85 0 1 0 .01 0M87.2 325.5a.85 .85 0 1 0 .01 0M85.1 320.8a.85 .85 0 1 0 .01 0M91.2 295.5a.85 .85 0 1 0 .01 0M83.5 357.8a.85 .85 0 1 0 .01 0M85.6 298.1a.85 .85 0 1 0 .01 0M141.9 309.2a.85 .85 0 1 0 .01 0M85.7 317.7a.85 .85 0 1 0 .01 0M97.8 296.3a.85 .85 0 1 0 .01 0M83.9 356.3a.85 .85 0 1 0 .01 0M166.5 298.9a.85 .85 0 1 0 .01 0M86 323.4a.85 .85 0 1 0 .01 0M84.1 315.2a.85 .85 0 1 0 .01 0M133.7 304.4a.85 .85 0 1 0 .01 0M85.1 334a.85 .85 0 1 0 .01 0M84.3 325.7a.85 .85 0 1 0 .01 0M86.8 306.9a.85 .85 0 1 0 .01 0M108 302.3a.85 .85 0 1 0 .01 0M84.1 303.6a.85 .85 0 1 0 .01 0M92.1 329.5a.85 .85 0 1 0 .01 0M87.4 326.2a.85 .85 0 1 0 .01 0M90.3 300.3a.85 .85 0 1 0 .01 0M114.1 301.6a.85 .85 0 1 0 .01 0M87.6 308.2a.85 .85 0 1 0 .01 0M134.7 312a.85 .85 0 1 0 .01 0M94.3 326.5a.85 .85 0 1 0 .01 0M85.5 312a.85 .85 0 1 0 .01 0M95.6 310.9a.85 .85 0 1 0 .01 0M96.3 295.6a.85 .85 0 1 0 .01 0M84.2 321.1a.85 .85 0 1 0 .01 0M139.6 294.3a.85 .85 0 1 0 .01 0M85.8 308.3a.85 .85 0 1 0 .01 0M109.4 326.6a.85 .85 0 1 0 .01 0M86.6 337.7a.85 .85 0 1 0 .01 0M84.9 329a.85 .85 0 1 0 .01 0M83.7 350.6a.85 .85 0 1 0 .01 0M92.4 306.7a.85 .85 0 1 0 .01 0M84.3 324.1a.85 .85 0 1 0 .01 0M151.3 318.6a.85 .85 0 1 0 .01 0M83.7 394.5a.85 .85 0 1 0 .01 0M84.5 350.6a.85 .85 0 1 0 .01 0M85.3 333.8a.85 .85 0 1 0 .01 0M86.8 318.3a.85 .85 0 1 0 .01 0M88.7 309.1a.85 .85 0 1 0 .01 0M83.8 359a.85 .85 0 1 0 .01 0M84.3 318.9a.85 .85 0 1 0 .01 0"/>
<path d="M104.2 300.5a.85 .85 0 1 0 .01 0M129.2 302.4a.85 .85 0 1 0 .01 0M84 326.8a.85 .85 0 1 0 .01 0M86.7 307.4a.85 .85 0 1 0 .01 0M107.4 301.6a.85 .85 0 1 0 .01 0M83.9 339.7a.85 .85 0 1 0 .01 0M84 347.1a.85 .85 0 1 0 .01 0M85.4 298.1a.85 .85 0 1 0 .01 0M87.1 306.1a.85 .85 0 1 0 .01 0M97.8 316.1a.85 .85 0 1 0 .01 0M84.7 314.8a.85 .85 0 1 0 .01 0M85.8 298.4a.85 .85 0 1 0 .01 0M197.1 298.1a.85 .85 0 1 0 .01 0M89.7 317a.85 .85 0 1 0 .01 0M84 337.4a.85 .85 0 1 0 .01 0M89.6 311.8a.85 .85 0 1 0 .01 0M84.4 319a.85 .85 0 1 0 .01 0M84.5 297.5a.85 .85 0 1 0 .01 0M84.9 337.4a.85 .85 0 1 0 .01 0M135.5 305.8a.85 .85 0 1 0 .01 0M84.6 339.8a.85 .85 0 1 0 .01 0M95.7 303.2a.85 .85 0 1 0 .01 0M84 315.4a.85 .85 0 1 0 .01 0M114.5 295.7a.85 .85 0 1 0 .01 0M84.5 312.4a.85 .85 0 1 0 .01 0M84.1 314.6a.85 .85 0 1 0 .01 0M113.8 305.1a.85 .85 0 1 0 .01 0M145.3 304.4a.85 .85 0 1 0 .01 0M84.3 355.3a.85 .85 0 1 0 .01 0M147.4 315.6a.85 .85 0 1 0 .01 0M83.7 314a.85 .85 0 1 0 .01 0M85.5 298.8a.85 .85 0 1 0 .01 0M84.3 350.7a.85 .85 0 1 0 .01 0M86.5 303.6a.85 .85 0 1 0 .01 0M84.7 312.6a.85 .85 0 1 0 .01 0M84.4 309.3a.85 .85 0 1 0 .01 0M88.8 325.3a.85 .85 0 1 0 .01 0M83.7 298.5a.85 .85 0 1 0 .01 0M84.2 339.6a.85 .85 0 1 0 .01 0M106.5 307.9a.85 .85 0 1 0 .01 0M116.8 300.7a.85 .85 0 1 0 .01 0M155.2 322.3a.85 .85 0 1 0 .01 0M90.2 319.6a.85 .85 0 1 0 .01 0M89.6 315.2a.85 .85 0 1 0 .01 0M84.6 335.1a.85 .85 0 1 0 .01 0M118.1 296.8a.85 .85 0 1 0 .01 0M84.4 307.6a.85 .85 0 1 0 .01 0M83.9 326a.85 .85 0 1 0 .01 0M91.4 301.7a.85 .85 0 1 0 .01 0M86.1 330.1a.85 .85 0 1 0 .01 0M94.6 302.9a.85 .85 0 1 0 .01 0M91.2 288.5a.85 .85 0 1 0 .01 0M84 323.9a.85 .85 0 1 0 .01 0M84.7 326.6a.85 .85 0 1 0 .01 0M85.3 302.4a.85 .85 0 1 0 .01 0M84 357a.85 .85 0 1 0 .01 0M83.9 330.8a.85 .85 0 1 0 .01 0M86.4 316.6a.85 .85 0 1 0 .01 0M150.3 318a.85 .85 0 1 0 .01 0M86.6 302a.85 .85 0 1 0 .01 0M101 304.1a.85 .85 0 1 0 .01 0M86.7 315.1a.85 .85 0 1 0 .01 0M113.2 316.9a.85 .85 0 1 0 .01 0M85.8 326.6a.85 .85 0 1 0 .01 0M111.2 307.3a.85 .85 0 1 0 .01 0M93.2 294a.85 .85 0 1 0 .01 0M113.4 304.7a.85 .85 0 1 0 .01 0M83.8 327.4a.85 .85 0 1 0 .01 0M131.5 300a.85 .85 0 1 0 .01 0M131.7 308.1a.85 .85 0 1 0 .01 0M87.1 322.3a.85 .85 0 1 0 .01 0M84.4 322.1a.85 .85 0 1 0 .01 0M83.8 323.3a.85 .85 0 1 0 .01 0M152.9 314.8a.85 .85 0 1 0 .01 0M118.2 311.9a.85 .85 0 1 0 .01 0M85.9 312.7a.85 .85 0 1 0 .01 0M132 307.5a.85 .85 0 1 0 .01 0M85.6 306.6a.85 .85 0 1 0 .01 0M84.9 318.6a.85 .85 0 1 0 .01 0M137.9 294a.85 .85 0 1 0 .01 0M99.6 321.4a.85 .85 0 1 0 .01 0M99.8 307.4a.85 .85 0 1 0 .01 0M90.1 299a.85 .85 0 1 0 .01 0M84.4 349.5a.85 .85 0 1 0 .01 0M83.6 339.4a.85 .85 0 1 0 .01 0M84.4 332.9a.85 .85 0 1 0 .01 0M84 323.8a.85 .85 0 1 0 .01 0M85.8 330.8a.85 .85 0 1 0 .01 0M98.2 302.6a.85 .85 0 1 0 .01 0M84.6 331.4a.85 .85 0 1 0 .01 0M121 308.9a.85 .85 0 1 0 .01 0M137.1 302.6a.85 .85 0 1 0 .01 0M109.6 300.2a.85 .85 0 1 0 .01 0M84.4 332.5a.85 .85 0 1 0 .01 0M85.2 317.8a.85 .85 0 1 0 .01 0M86.4 326.7a.85 .85 0 1 0 .01 0M84.3 353a.85 .85 0 1 0 .01 0M86.1 333.1a.85 .85 0 1 0 .01 0M127.9 310.8a.85 .85 0 1 0 .01 0M84.6 344.3a.85 .85 0 1 0 .01 0M84.2 336.7a.85 .85 0 1 0 .01 0M87.9 318.1a.85 .85 0 1 0 .01 0M84.6 308.6a.85 .85 0 1 0 .01 0M135.5 303.4a.85 .85 0 1 0 .01 0M84.3 344.3a.85 .85 0 1 0 .01 0M84.4 301.6a.85 .85 0 1 0 .01 0M90.6 301.6a.85 .85 0 1 0 .01 0M84.8 326.7a.85 .85 0 1 0 .01 0M84.9 339a.85 .85 0 1 0 .01 0M84.1 315.9a.85 .85 0 1 0 .01 0M84 324.5a.85 .85 0 1 0 .01 0M84.1 360.3a.85 .85 0 1 0 .01 0M85 317.3a.85 .85 0 1 0 .01 0M142.3 298.6a.85 .85 0 1 0 .01 0M168.4 306a.85 .85 0 1 0 .01 0M84.2 339.5a.85 .85 0 1 0 .01 0M84.1 356.8a.85 .85 0 1 0 .01 0M84 295.3a.85 .85 0 1 0 .01 0M84.5 319.7a.85 .85 0 1 0 .01 0M118.3 308.6a.85 .85 0 1 0 .01 0M104.7 299a.85 .85 0 1 0 .01 0M87.3 311.3a.85 .85 0 1 0 .01 0M83.7 344.9a.85 .85 0 1 0 .01 0M84.5 332.7a.85 .85 0 1 0 .01 0M84.7 338.9a.85 .85 0 1 0 .01 0M83.7 314.7a.85 .85 0 1 0 .01 0M84 351.9a.85 .85 0 1 0 .01 0M84.7 316a.85 .85 0 1 0 .01 0M84.3 302.2a.85 .85 0 1 0 .01 0M84 335.8a.85 .85 0 1 0 .01 0M83.7 335.2a.85 .85 0 1 0 .01 0M139.8 293.4a.85 .85 0 1 0 .01 0M102.7 322.6a.85 .85 0 1 0 .01 0M84.1 303.1a.85 .85 0 1 0 .01 0M98.7 299.5a.85 .85 0 1 0 .01 0M89.1 300.6a.85 .85 0 1 0 .01 0M115.1 312.3a.85 .85 0 1 0 .01 0M84.2 297.3a.85 .85 0 1 0 .01 0M91.8 308.7a.85 .85 0 1 0 .01 0M86.1 342.1a.85 .85 0 1 0 .01 0M83.9 323.9a.85 .85 0 1 0 .01 0M125 297.4a.85 .85 0 1 0 .01 0M148.1 305.2a.85 .85 0 1 0 .01 0M83.9 318.5a.85 .85 0 1 0 .01 0M100.8 309.1a.85 .85 0 1 0 .01 0M125.2 307.7a.85 .85 0 1 0 .01 0M111.2 310.4a.85 .85 0 1 0 .01 0M84.1 358.9a.85 .85 0 1 0 .01 0M86.8 305.8a.85 .85 0 1 0 .01 0M87.3 300.1a.85 .85 0 1 0 .01 0M84.5 328.4a.85 .85 0 1 0 .01 0M143.9 304.7a.85 .85 0 1 0 .01 0M83.7 331.5a.85 .85 0 1 0 .01 0M87.6 311.2a.85 .85 0 1 0 .01 0M108.4 301.7a.85 .85 0 1 0 .01 0M132.9 308.6a.85 .85 0 1 0 .01 0M84.7 287.5a.85 .85 0 1 0 .01 0M84.4 315.3a.85 .85 0 1 0 .01 0M85.6 317.2a.85 .85 0 1 0 .01 0M85 314.2a.85 .85 0 1 0 .01 0M104.2 319.3a.85 .85 0 1 0 .01 0M83.4 337a.85 .85 0 1 0 .01 0M85.1 308.5a.85 .85 0 1 0 .01 0M84.4 326.9a.85 .85 0 1 0 .01 0M84.3 331.4a.85 .85 0 1 0 .01 0M98.2 298.3a.85 .85 0 1 0 .01 0M105.2 306.1a.85 .85 0 1 0 .01 0M98.1 301.5a.85 .85 0 1 0 .01 0M85.5 312.1a.85 .85 0 1 0 .01 0M91.9 293.6a.85 .85 0 1 0 .01 0M84.3 351.1a.85 .85 0 1 0 .01 0M84.4 333.1a.85 .85 0 1 0 .01 0M107.7 317.6a.85 .85 0 1 0 .01 0M86.1 337.1a.85 .85 0 1 0 .01 0M86.3 351.7a.85 .85 0 1 0 .01 0M87.5 302.1a.85 .85 0 1 0 .01 0M116.9 314a.85 .85 0 1 0 .01 0M84 307.6a.85 .85 0 1 0 .01 0M107.3 309.5a.85 .85 0 1 0 .01 0M98.1 297a.85 .85 0 1 0 .01 0M83.9 337.7a.85 .85 0 1 0 .01 0M84.2 342.1a.85 .85 0 1 0 .01 0M83.9 316.7a.85 .85 0 1 0 .01 0M96.3 308.9a.85 .85 0 1 0 .01 0M84.2 341.4a.85 .85 0 1 0 .01 0M86 345.8a.85 .85 0 1 0 .01 0M105.4 310.5a.85 .85 0 1 0 .01 0M90.1 326.5a.85 .85 0 1 0 .01 0M95.4 304.2a.85 .85 0 1 0 .01 0M107.1 307.7a.85 .85 0 1 0 .01 0M95.6 306.4a.85 .85 0 1 0 .01 0M86.2 316.1a.85 .85 0 1 0 .01 0M246.9 307.3a.85 .85 0 1 0 .01 0M84 315.9a.85 .85 0 1 0 .01 0M86.2 326.6a.85 .85 0 1 0 .01 0M84 313.3a.85 .85 0 1 0 .01 0M84.2 325.7a.85 .85 0 1 0 .01 0M131.6 288.1a.85 .85 0 1 0 .01 0M88.6 300.6a.85 .85 0 1 0 .01 0M88.5 294.9a.85 .85 0 1 0 .01 0M86.9 301.1a.85 .85 0 1 0 .01 0M94.4 309.1a.85 .85 0 1 0 .01 0M120.8 294.6a.85 .85 0 1 0 .01 0M86.2 316.9a.85 .85 0 1 0 .01 0M83.9 351.4a.85 .85 0 1 0 .01 0M118.2 310.3a.85 .85 0 1 0 .01 0M100.3 313a.85 .85 0 1 0 .01 0M110.1 288a.85 .85 0 1 0 .01 0M84.2 339.7a.85 .85 0 1 0 .01 0M84.5 339.2a.85 .85 0 1 0 .01 0M158.8 317.7a.85 .85 0 1 0 .01 0M106.1 299.5a.85 .85 0 1 0 .01 0M112.9 302.5a.85 .85 0 1 0 .01 0M95.2 336.7a.85 .85 0 1 0 .01 0M83.1 356.7a.85 .85 0 1 0 .01 0M84.7 300.4a.85 .85 0 1 0 .01 0M86.3 297.8a.85 .85 0 1 0 .01 0M85.5 325.6a.85 .85 0 1 0 .01 0M207.1 308.1a.85 .85 0 1 0 .01 0M99 310.3a.85 .85 0 1 0 .01 0M85.6 351.2a.85 .85 0 1 0 .01 0M89.7 314.1a.85 .85 0 1 0 .01 0M90.1 293.6a.85 .85 0 1 0 .01 0M84.5 304a.85 .85 0 1 0 .01 0M85.2 312.4a.85 .85 0 1 0 .01 0M90.4 343.7a.85 .85 0 1 0 .01 0M88.6 314.1a.85 .85 0 1 0 .01 0M84.1 305a.85 .85 0 1 0 .01 0M89.6 317.3a.85 .85 0 1 0 .01 0M158.4 301.2a.85 .85 0 1 0 .01 0M83.9 381.7a.85 .85 0 1 0 .01 0M90.3 317.3a.85 .85 0 1 0 .01 0M83.9 301.5a.85 .85 0 1 0 .01 0M85.2 330.3a.85 .85 0 1 0 .01 0M97.4 305.8a.85 .85 0 1 0 .01 0M163.9 304.8a.85 .85 0 1 0 .01 0M173.9 340a.85 .85 0 1 0 .01 0M89.5 311.5a.85 .85 0 1 0 .01 0M121.7 302.7a.85 .85 0 1 0 .01 0M84.6 292a.85 .85 0 1 0 .01 0M90 294.4a.85 .85 0 1 0 .01 0M85 326.1a.85 .85 0 1 0 .01 0M88.4 296a.85 .85 0 1 0 .01 0M83.3 355.7a.85 .85 0 1 0 .01 0M122.4 304.7a.85 .85 0 1 0 .01 0M85 338.8a.85 .85 0 1 0 .01 0M89.8 307.5a.85 .85 0 1 0 .01 0M84.3 343.5a.85 .85 0 1 0 .01 0M156.1 315.7a.85 .85 0 1 0 .01 0M83.7 355.3a.85 .85 0 1 0 .01 0M83.9 336.9a.85 .85 0 1 0 .01 0M108.5 297.8a.85 .85 0 1 0 .01 0M85 318.9a.85 .85 0 1 0 .01 0M86.6 304.6a.85 .85 0 1 0 .01 0M135.3 310.1a.85 .85 0 1 0 .01 0M84.9 327.3a.85 .85 0 1 0 .01 0M173 308.8a.85 .85 0 1 0 .01 0M94.5 336.3a.85 .85 0 1 0 .01 0M85.1 355.6a.85 .85 0 1 0 .01 0M84 339.4a.85 .85 0 1 0 .01 0M85.2 334.1a.85 .85 0 1 0 .01 0M84.1 298.7a.85 .85 0 1 0 .01 0M122.7 318.2a.85 .85 0 1 0 .01 0M87.9 298.9a.85 .85 0 1 0 .01 0M87.7 307.2a.85 .85 0 1 0 .01 0"/>
<path d="M84 362.6a.85 .85 0 1 0 .01 0M118 295.2a.85 .85 0 1 0 .01 0M83.9 333a.85 .85 0 1 0 .01 0M94.9 309.3a.85 .85 0 1 0 .01 0M96.2 302.4a.85 .85 0 1 0 .01 0M97 318.7a.85 .85 0 1 0 .01 0M117.4 298.6a.85 .85 0 1 0 .01 0M94.7 307.3a.85 .85 0 1 0 .01 0M123.5 301a.85 .85 0 1 0 .01 0M107.4 306.5a.85 .85 0 1 0 .01 0M104.2 313.3a.85 .85 0 1 0 .01 0M84.5 332.5a.85 .85 0 1 0 .01 0M120.3 305.7a.85 .85 0 1 0 .01 0M85.1 314.4a.85 .85 0 1 0 .01 0M86.4 326a.85 .85 0 1 0 .01 0M83.9 312.7a.85 .85 0 1 0 .01 0M89.1 309.2a.85 .85 0 1 0 .01 0M96.2 296.5a.85 .85 0 1 0 .01 0M84.6 333.5a.85 .85 0 1 0 .01 0M85.4 341.3a.85 .85 0 1 0 .01 0M101.3 325.1a.85 .85 0 1 0 .01 0M143 308.4a.85 .85 0 1 0 .01 0M86.5 289a.85 .85 0 1 0 .01 0M87.4 298.9a.85 .85 0 1 0 .01 0M104.3 307.6a.85 .85 0 1 0 .01 0M83.5 345.4a.85 .85 0 1 0 .01 0M88 318.2a.85 .85 0 1 0 .01 0M109.9 300a.85 .85 0 1 0 .01 0M132.8 309.6a.85 .85 0 1 0 .01 0M83.9 340a.85 .85 0 1 0 .01 0M84.6 322a.85 .85 0 1 0 .01 0M110.9 292.6a.85 .85 0 1 0 .01 0M84.4 343.2a.85 .85 0 1 0 .01 0M100.2 295.4a.85 .85 0 1 0 .01 0M83.9 359.6a.85 .85 0 1 0 .01 0M83.4 358.3a.85 .85 0 1 0 .01 0M105.1 314.2a.85 .85 0 1 0 .01 0M104.6 320a.85 .85 0 1 0 .01 0M86.9 327a.85 .85 0 1 0 .01 0M83.9 306.7a.85 .85 0 1 0 .01 0M127.2 308.3a.85 .85 0 1 0 .01 0M84.2 318.2a.85 .85 0 1 0 .01 0M84.1 297.3a.85 .85 0 1 0 .01 0M89.7 292.8a.85 .85 0 1 0 .01 0M84.9 282.2a.85 .85 0 1 0 .01 0M88.9 307.1a.85 .85 0 1 0 .01 0M92.6 291.8a.85 .85 0 1 0 .01 0M84 325.9a.85 .85 0 1 0 .01 0M85.3 286.5a.85 .85 0 1 0 .01 0M127.6 300.8a.85 .85 0 1 0 .01 0M84.6 339a.85 .85 0 1 0 .01 0M151.7 301.5a.85 .85 0 1 0 .01 0M96.9 318.5a.85 .85 0 1 0 .01 0M112.2 299.6a.85 .85 0 1 0 .01 0M83.8 302.6a.85 .85 0 1 0 .01 0M86.3 339.7a.85 .85 0 1 0 .01 0M86 316.8a.85 .85 0 1 0 .01 0M89.5 319a.85 .85 0 1 0 .01 0M85.2 328.1a.85 .85 0 1 0 .01 0M146.8 299a.85 .85 0 1 0 .01 0M117.8 307.3a.85 .85 0 1 0 .01 0M89.5 311a.85 .85 0 1 0 .01 0M84.3 308.8a.85 .85 0 1 0 .01 0M88.2 303.4a.85 .85 0 1 0 .01 0M85 321.6a.85 .85 0 1 0 .01 0M85.4 307.5a.85 .85 0 1 0 .01 0M87.6 325.6a.85 .85 0 1 0 .01 0M84.1 336.7a.85 .85 0 1 0 .01 0M87.6 295.6a.85 .85 0 1 0 .01 0M86.6 324.6a.85 .85 0 1 0 .01 0M146.6 313.2a.85 .85 0 1 0 .01 0M160 305.8a.85 .85 0 1 0 .01 0M87.3 309.1a.85 .85 0 1 0 .01 0M90.3 301.3a.85 .85 0 1 0 .01 0M85.6 317.9a.85 .85 0 1 0 .01 0M139 301.9a.85 .85 0 1 0 .01 0M133 307a.85 .85 0 1 0 .01 0M85.9 302.6a.85 .85 0 1 0 .01 0M88.5 301.1a.85 .85 0 1 0 .01 0M90.2 302.2a.85 .85 0 1 0 .01 0M87.2 330.7a.85 .85 0 1 0 .01 0M106.9 301.2a.85 .85 0 1 0 .01 0M84.2 328.7a.85 .85 0 1 0 .01 0M130.4 304.7a.85 .85 0 1 0 .01 0M86.6 331.9a.85 .85 0 1 0 .01 0M83.5 306.3a.85 .85 0 1 0 .01 0M85.5 315.7a.85 .85 0 1 0 .01 0M86.2 299.1a.85 .85 0 1 0 .01 0M101.3 302.9a.85 .85 0 1 0 .01 0M170.5 299.2a.85 .85 0 1 0 .01 0M83.6 373.9a.85 .85 0 1 0 .01 0M90 319.5a.85 .85 0 1 0 .01 0M83.8 342.4a.85 .85 0 1 0 .01 0M85.5 334.5a.85 .85 0 1 0 .01 0M86.8 311.9a.85 .85 0 1 0 .01 0M85.2 315.8a.85 .85 0 1 0 .01 0M90.6 310.8a.85 .85 0 1 0 .01 0M94.9 320.8a.85 .85 0 1 0 .01 0M87.8 308a.85 .85 0 1 0 .01 0M118.2 305.7a.85 .85 0 1 0 .01 0M86.4 331.6a.85 .85 0 1 0 .01 0M84.2 353.7a.85 .85 0 1 0 .01 0M118.3 308.7a.85 .85 0 1 0 .01 0M116 296.9a.85 .85 0 1 0 .01 0M140.2 300a.85 .85 0 1 0 .01 0M98.6 312.4a.85 .85 0 1 0 .01 0M117.9 307.1a.85 .85 0 1 0 .01 0M84.8 323.8a.85 .85 0 1 0 .01 0M95.7 307a.85 .85 0 1 0 .01 0M89.8 299.7a.85 .85 0 1 0 .01 0M83.5 327.3a.85 .85 0 1 0 .01 0M83.6 360.8a.85 .85 0 1 0 .01 0M84.6 348.5a.85 .85 0 1 0 .01 0M124.2 303.6a.85 .85 0 1 0 .01 0M84.5 330a.85 .85 0 1 0 .01 0M113.2 308.3a.85 .85 0 1 0 .01 0M84.8 342.2a.85 .85 0 1 0 .01 0M83.8 345.6a.85 .85 0 1 0 .01 0M236.3 305.6a.85 .85 0 1 0 .01 0M84.7 323.1a.85 .85 0 1 0 .01 0M86.2 340.7a.85 .85 0 1 0 .01 0M91.7 309.7a.85 .85 0 1 0 .01 0M91.1 329.4a.85 .85 0 1 0 .01 0M85 313.6a.85 .85 0 1 0 .01 0M118.7 299.3a.85 .85 0 1 0 .01 0M106.7 303.2a.85 .85 0 1 0 .01 0M84.1 328.6a.85 .85 0 1 0 .01 0M84.9 303.8a.85 .85 0 1 0 .01 0M83.6 349.4a.85 .85 0 1 0 .01 0M83.7 348.3a.85 .85 0 1 0 .01 0M83.8 343.4a.85 .85 0 1 0 .01 0M93.7 300.3a.85 .85 0 1 0 .01 0M83.5 362.6a.85 .85 0 1 0 .01 0M94.1 307a.85 .85 0 1 0 .01 0M120.7 301.2a.85 .85 0 1 0 .01 0M132.6 310.4a.85 .85 0 1 0 .01 0M85.2 306.8a.85 .85 0 1 0 .01 0M84.3 330.6a.85 .85 0 1 0 .01 0M91.3 302.6a.85 .85 0 1 0 .01 0M83.6 351.4a.85 .85 0 1 0 .01 0M99 295.3a.85 .85 0 1 0 .01 0M85.9 315.3a.85 .85 0 1 0 .01 0M84.1 300.5a.85 .85 0 1 0 .01 0M83.9 329.6a.85 .85 0 1 0 .01 0M134.8 329.2a.85 .85 0 1 0 .01 0M98.3 309.2a.85 .85 0 1 0 .01 0M92.6 323.6a.85 .85 0 1 0 .01 0M155.9 291.7a.85 .85 0 1 0 .01 0M83.5 355.3a.85 .85 0 1 0 .01 0M92.1 305.6a.85 .85 0 1 0 .01 0M83.8 352.3a.85 .85 0 1 0 .01 0M89.7 294a.85 .85 0 1 0 .01 0M147.1 316.1a.85 .85 0 1 0 .01 0M84.6 334.3a.85 .85 0 1 0 .01 0M84.8 323.4a.85 .85 0 1 0 .01 0M118.3 316.7a.85 .85 0 1 0 .01 0M121.2 306.5a.85 .85 0 1 0 .01 0M143.3 312.2a.85 .85 0 1 0 .01 0M87 302.5a.85 .85 0 1 0 .01 0M83.8 338.3a.85 .85 0 1 0 .01 0M84.1 349.1a.85 .85 0 1 0 .01 0M86 306a.85 .85 0 1 0 .01 0M88.7 298.8a.85 .85 0 1 0 .01 0M91.4 302.7a.85 .85 0 1 0 .01 0M85 353.9a.85 .85 0 1 0 .01 0M102.9 304.5a.85 .85 0 1 0 .01 0M87.6 321.2a.85 .85 0 1 0 .01 0M210.7 311.8a.85 .85 0 1 0 .01 0M86.6 306.8a.85 .85 0 1 0 .01 0M84.1 352.2a.85 .85 0 1 0 .01 0M84.2 333a.85 .85 0 1 0 .01 0M116.4 312.7a.85 .85 0 1 0 .01 0M134.5 304.9a.85 .85 0 1 0 .01 0M83.7 326.7a.85 .85 0 1 0 .01 0M84.5 292.8a.85 .85 0 1 0 .01 0M105.9 298.8a.85 .85 0 1 0 .01 0M84 339.1a.85 .85 0 1 0 .01 0M85 329a.85 .85 0 1 0 .01 0M113.6 300.2a.85 .85 0 1 0 .01 0M84.7 326.2a.85 .85 0 1 0 .01 0M84.1 327.9a.85 .85 0 1 0 .01 0M86.7 321.5a.85 .85 0 1 0 .01 0M88.7 309.9a.85 .85 0 1 0 .01 0M85.7 341.3a.85 .85 0 1 0 .01 0M85 301a.85 .85 0 1 0 .01 0M84.1 336.2a.85 .85 0 1 0 .01 0M91.8 315.2a.85 .85 0 1 0 .01 0M84.6 297.7a.85 .85 0 1 0 .01 0M89.7 331a.85 .85 0 1 0 .01 0M84.4 350.8a.85 .85 0 1 0 .01 0M101.3 304.6a.85 .85 0 1 0 .01 0M215.1 305.8a.85 .85 0 1 0 .01 0M83.9 310.2a.85 .85 0 1 0 .01 0M85.1 328.3a.85 .85 0 1 0 .01 0M85.5 317.2a.85 .85 0 1 0 .01 0M84.9 311.6a.85 .85 0 1 0 .01 0M110.3 306.6a.85 .85 0 1 0 .01 0M85 309.6a.85 .85 0 1 0 .01 0M85.3 318a.85 .85 0 1 0 .01 0M86.4 339.6a.85 .85 0 1 0 .01 0M83.9 336a.85 .85 0 1 0 .01 0M85.9 320.2a.85 .85 0 1 0 .01 0M117.2 316.6a.85 .85 0 1 0 .01 0M117 306.6a.85 .85 0 1 0 .01 0M83.7 316.8a.85 .85 0 1 0 .01 0M84.9 337.9a.85 .85 0 1 0 .01 0M84.6 349.6a.85 .85 0 1 0 .01 0M95.3 302.4a.85 .85 0 1 0 .01 0M87 299.5a.85 .85 0 1 0 .01 0M166.2 309.3a.85 .85 0 1 0 .01 0M83.9 345.2a.85 .85 0 1 0 .01 0M97.3 293.4a.85 .85 0 1 0 .01 0M85.4 313.5a.85 .85 0 1 0 .01 0M95.4 322.1a.85 .85 0 1 0 .01 0M84.5 349.9a.85 .85 0 1 0 .01 0M85.5 314.1a.85 .85 0 1 0 .01 0M83.9 345.5a.85 .85 0 1 0 .01 0M127.2 309.8a.85 .85 0 1 0 .01 0M95.4 311.8a.85 .85 0 1 0 .01 0M98.7 318.3a.85 .85 0 1 0 .01 0M91 301a.85 .85 0 1 0 .01 0M89.7 301.7a.85 .85 0 1 0 .01 0M139.8 316.4a.85 .85 0 1 0 .01 0M83.2 338.6a.85 .85 0 1 0 .01 0M85.9 330.7a.85 .85 0 1 0 .01 0M86 307.4a.85 .85 0 1 0 .01 0M92.8 302.5a.85 .85 0 1 0 .01 0M83 345a.85 .85 0 1 0 .01 0M103.3 302.8a.85 .85 0 1 0 .01 0M84.4 307.9a.85 .85 0 1 0 .01 0M86.5 306.6a.85 .85 0 1 0 .01 0M85.4 332.8a.85 .85 0 1 0 .01 0M83.9 319.6a.85 .85 0 1 0 .01 0M83.3 336.1a.85 .85 0 1 0 .01 0M84.7 304.8a.85 .85 0 1 0 .01 0M85 344.2a.85 .85 0 1 0 .01 0M88.8 301.4a.85 .85 0 1 0 .01 0M83.5 291.4a.85 .85 0 1 0 .01 0M109.4 308.1a.85 .85 0 1 0 .01 0M85 319.2a.85 .85 0 1 0 .01 0M103.9 295a.85 .85 0 1 0 .01 0M84.1 331.3a.85 .85 0 1 0 .01 0M93.1 299.2a.85 .85 0 1 0 .01 0M118.7 310.8a.85 .85 0 1 0 .01 0M86.4 323.5a.85 .85 0 1 0 .01 0M127.3 298.2a.85 .85 0 1 0 .01 0M84.4 345.4a.85 .85 0 1 0 .01 0M83.4 321.6a.85 .85 0 1 0 .01 0M120.4 302a.85 .85 0 1 0 .01 0M85.9 302.1a.85 .85 0 1 0 .01 0M86.5 327.1a.85 .85 0 1 0 .01 0M84 301.7a.85 .85 0 1 0 .01 0M83.8 338.2a.85 .85 0 1 0 .01 0M106.7 318.3a.85 .85 0 1 0 .01 0M83.8 362a.85 .85 0 1 0 .01 0M95.4 287.7a.85 .85 0 1 0 .01 0M106.9 301.4a.85 .85 0 1 0 .01 0M83.5 318.4a.85 .85 0 1 0 .01 0M86.4 282.5a.85 .85 0 1 0 .01 0M125 299.1a.85 .85 0 1 0 .01 0M88.4 319.1a.85 .85 0 1 0 .01 0M119.3 307.2a.85 .85 0 1 0 .01 0M84.2 318.6a.85 .85 0 1 0 .01 0M83.4 411.1a.85 .85 0 1 0 .01 0M86.4 313.8a.85 .85 0 1 0 .01 0"/>
<path d="M83.8 305.9a.85 .85 0 1 0 .01 0M84 323.9a.85 .85 0 1 0 .01 0M97.7 292.1a.85 .85 0 1 0 .01 0M84.1 322.7a.85 .85 0 1 0 .01 0M89 325a.85 .85 0 1 0 .01 0M130.5 303.7a.85 .85 0 1 0 .01 0M87.2 307.9a.85 .85 0 1 0 .01 0M84 330.1a.85 .85 0 1 0 .01 0M83.7 341.1a.85 .85 0 1 0 .01 0M90.7 323.3a.85 .85 0 1 0 .01 0M134.2 295.5a.85 .85 0 1 0 .01 0M83.9 348.6a.85 .85 0 1 0 .01 0M84.6 317.8a.85 .85 0 1 0 .01 0M136 302.2a.85 .85 0 1 0 .01 0M84.8 315.6a.85 .85 0 1 0 .01 0M84.2 347.4a.85 .85 0 1 0 .01 0M84.2 323.4a.85 .85 0 1 0 .01 0M83.4 303.6a.85 .85 0 1 0 .01 0M88.1 320.3a.85 .85 0 1 0 .01 0M121.4 305a.85 .85 0 1 0 .01 0M101.8 303.6a.85 .85 0 1 0 .01 0M102.4 299.4a.85 .85 0 1 0 .01 0M86.5 322.2a.85 .85 0 1 0 .01 0M88.4 309.1a.85 .85 0 1 0 .01 0M88.4 321.5a.85 .85 0 1 0 .01 0M116 304.6a.85 .85 0 1 0 .01 0M164.7 311.2a.85 .85 0 1 0 .01 0M85.2 316.3a.85 .85 0 1 0 .01 0M83.4 348.9a.85 .85 0 1 0 .01 0M83.7 340.6a.85 .85 0 1 0 .01 0M87.2 333.9a.85 .85 0 1 0 .01 0M86.9 312.9a.85 .85 0 1 0 .01 0M88.2 302.7a.85 .85 0 1 0 .01 0M91.8 292.8a.85 .85 0 1 0 .01 0M84.1 309.2a.85 .85 0 1 0 .01 0M84.8 309.4a.85 .85 0 1 0 .01 0M84 347.4a.85 .85 0 1 0 .01 0M97 302.8a.85 .85 0 1 0 .01 0M84.6 315.5a.85 .85 0 1 0 .01 0M89.2 314.6a.85 .85 0 1 0 .01 0M84.6 306.4a.85 .85 0 1 0 .01 0M84.2 358.5a.85 .85 0 1 0 .01 0M132.1 305.6a.85 .85 0 1 0 .01 0M137.4 310.5a.85 .85 0 1 0 .01 0M86.3 318.3a.85 .85 0 1 0 .01 0M181.2 300.5a.85 .85 0 1 0 .01 0M142.2 311.8a.85 .85 0 1 0 .01 0M142.1 294.3a.85 .85 0 1 0 .01 0M84.3 328.3a.85 .85 0 1 0 .01 0M124.9 308.2a.85 .85 0 1 0 .01 0M116.9 309.6a.85 .85 0 1 0 .01 0M85.9 317.3a.85 .85 0 1 0 .01 0M84.5 305.5a.85 .85 0 1 0 .01 0M89.3 303a.85 .85 0 1 0 .01 0M86 317.7a.85 .85 0 1 0 .01 0M84 325.4a.85 .85 0 1 0 .01 0M83.7 311.6a.85 .85 0 1 0 .01 0M83.8 330.7a.85 .85 0 1 0 .01 0M84.4 294.1a.85 .85 0 1 0 .01 0M83.6 328.7a.85 .85 0 1 0 .01 0M83.8 306.8a.85 .85 0 1 0 .01 0M83.7 319.9a.85 .85 0 1 0 .01 0M84.8 351.8a.85 .85 0 1 0 .01 0M84.2 320.7a.85 .85 0 1 0 .01 0M136.3 319.1a.85 .85 0 1 0 .01 0M95.3 305.3a.85 .85 0 1 0 .01 0M87.7 294.1a.85 .85 0 1 0 .01 0M84.6 325.8a.85 .85 0 1 0 .01 0M118.9 307.2a.85 .85 0 1 0 .01 0M84.2 299.4a.85 .85 0 1 0 .01 0M88.7 304.7a.85 .85 0 1 0 .01 0M84.6 340.8a.85 .85 0 1 0 .01 0M103.2 296.9a.85 .85 0 1 0 .01 0M89 297.6a.85 .85 0 1 0 .01 0M169.3 302.6a.85 .85 0 1 0 .01 0M189 307.1a.85 .85 0 1 0 .01 0M87.1 340.7a.85 .85 0 1 0 .01 0M96.9 300.1a.85 .85 0 1 0 .01 0M84.1 316a.85 .85 0 1 0 .01 0M84.3 315.1a.85 .85 0 1 0 .01 0M106 297a.85 .85 0 1 0 .01 0M98.4 299.9a.85 .85 0 1 0 .01 0M84.1 301.4a.85 .85 0 1 0 .01 0M88.1 302.4a.85 .85 0 1 0 .01 0M84.3 315.4a.85 .85 0 1 0 .01 0M86.2 300.6a.85 .85 0 1 0 .01 0M84.6 349.5a.85 .85 0 1 0 .01 0M86.6 299.3a.85 .85 0 1 0 .01 0M87 290.5a.85 .85 0 1 0 .01 0M101.9 305.6a.85 .85 0 1 0 .01 0M88.6 327.6a.85 .85 0 1 0 .01 0M86 303.6a.85 .85 0 1 0 .01 0M85.5 315a.85 .85 0 1 0 .01 0M84.7 312.6a.85 .85 0 1 0 .01 0M83.7 357.5a.85 .85 0 1 0 .01 0M84 289.5a.85 .85 0 1 0 .01 0M85.9 324.3a.85 .85 0 1 0 .01 0M95.8 310.1a.85 .85 0 1 0 .01 0M84.4 321.5a.85 .85 0 1 0 .01 0M153.4 288.8a.85 .85 0 1 0 .01 0M86.4 306.5a.85 .85 0 1 0 .01 0M86.8 329a.85 .85 0 1 0 .01 0M85.8 320.9a.85 .85 0 1 0 .01 0M84.2 342.1a.85 .85 0 1 0 .01 0M88.7 307.7a.85 .85 0 1 0 .01 0M83.5 341.4a.85 .85 0 1 0 .01 0M83.6 355.6a.85 .85 0 1 0 .01 0M84.6 299.5a.85 .85 0 1 0 .01 0M93.9 302.6a.85 .85 0 1 0 .01 0M85.8 290.3a.85 .85 0 1 0 .01 0M144.8 312a.85 .85 0 1 0 .01 0M86.8 301.1a.85 .85 0 1 0 .01 0M108.3 300.1a.85 .85 0 1 0 .01 0M84 346.3a.85 .85 0 1 0 .01 0M83.9 347.7a.85 .85 0 1 0 .01 0M109.5 305.8a.85 .85 0 1 0 .01 0M84.1 349.7a.85 .85 0 1 0 .01 0M87.5 311.7a.85 .85 0 1 0 .01 0M83.8 315.2a.85 .85 0 1 0 .01 0M193.8 302.1a.85 .85 0 1 0 .01 0M106.1 309.5a.85 .85 0 1 0 .01 0M87 313.1a.85 .85 0 1 0 .01 0M87.1 330.6a.85 .85 0 1 0 .01 0M84.3 312.4a.85 .85 0 1 0 .01 0M83.6 330.2a.85 .85 0 1 0 .01 0M85.4 307.6a.85 .85 0 1 0 .01 0M124 301.7a.85 .85 0 1 0 .01 0M87.9 305.5a.85 .85 0 1 0 .01 0M182.1 314.4a.85 .85 0 1 0 .01 0M83.8 316.5a.85 .85 0 1 0 .01 0M86.7 300.9a.85 .85 0 1 0 .01 0M83.5 341.3a.85 .85 0 1 0 .01 0M120 311.5a.85 .85 0 1 0 .01 0M83.6 329.7a.85 .85 0 1 0 .01 0M83.6 331.8a.85 .85 0 1 0 .01 0M85.4 327.8a.85 .85 0 1 0 .01 0M123.9 298.9a.85 .85 0 1 0 .01 0M87 336a.85 .85 0 1 0 .01 0M123 295.9a.85 .85 0 1 0 .01 0M84.8 299.8a.85 .85 0 1 0 .01 0M236.7 296.7a.85 .85 0 1 0 .01 0M127.6 305.6a.85 .85 0 1 0 .01 0M85 337.7a.85 .85 0 1 0 .01 0M84.7 326.1a.85 .85 0 1 0 .01 0M164.9 302.9a.85 .85 0 1 0 .01 0M85.3 301.9a.85 .85 0 1 0 .01 0M92.1 306.4a.85 .85 0 1 0 .01 0M104.7 312.7a.85 .85 0 1 0 .01 0M85.4 338.2a.85 .85 0 1 0 .01 0M84.8 327.7a.85 .85 0 1 0 .01 0M115 308.7a.85 .85 0 1 0 .01 0M93.1 314.3a.85 .85 0 1 0 .01 0M87.5 306.3a.85 .85 0 1 0 .01 0M109.2 299.3a.85 .85 0 1 0 .01 0M84.6 315.7a.85 .85 0 1 0 .01 0M86.4 305.4a.85 .85 0 1 0 .01 0M120.4 308.9a.85 .85 0 1 0 .01 0M111 313.9a.85 .85 0 1 0 .01 0M91.6 310.4a.85 .85 0 1 0 .01 0M119.4 308.3a.85 .85 0 1 0 .01 0M86.7 313.7a.85 .85 0 1 0 .01 0M84.1 346.9a.85 .85 0 1 0 .01 0M118.1 321a.85 .85 0 1 0 .01 0M83.9 333.2a.85 .85 0 1 0 .01 0M114.3 303.7a.85 .85 0 1 0 .01 0M84 330.1a.85 .85 0 1 0 .01 0M84.7 343.3a.85 .85 0 1 0 .01 0M123.2 310.1a.85 .85 0 1 0 .01 0M87.8 325.5a.85 .85 0 1 0 .01 0M84.8 301.5a.85 .85 0 1 0 .01 0M85 322.6a.85 .85 0 1 0 .01 0M140.1 306.9a.85 .85 0 1 0 .01 0M85.4 306a.85 .85 0 1 0 .01 0M157.9 303.2a.85 .85 0 1 0 .01 0M88.4 302.3a.85 .85 0 1 0 .01 0M84.7 353.1a.85 .85 0 1 0 .01 0M115 313.8a.85 .85 0 1 0 .01 0M84.5 341.6a.85 .85 0 1 0 .01 0M86.8 315.3a.85 .85 0 1 0 .01 0M95.7 313.9a.85 .85 0 1 0 .01 0M88.9 313.8a.85 .85 0 1 0 .01 0M84.3 307.2a.85 .85 0 1 0 .01 0M115.7 308.9a.85 .85 0 1 0 .01 0M94.3 307.2a.85 .85 0 1 0 .01 0M84.3 345.6a.85 .85 0 1 0 .01 0M129.5 306.2a.85 .85 0 1 0 .01 0M86.2 337.5a.85 .85 0 1 0 .01 0M116.7 298.2a.85 .85 0 1 0 .01 0M85.4 347.3a.85 .85 0 1 0 .01 0M113.1 298.6a.85 .85 0 1 0 .01 0M86 344.4a.85 .85 0 1 0 .01 0M132.8 291.9a.85 .85 0 1 0 .01 0M85.3 304.3a.85 .85 0 1 0 .01 0M116.2 304.2a.85 .85 0 1 0 .01 0M102.1 294a.85 .85 0 1 0 .01 0M84.5 306.4a.85 .85 0 1 0 .01 0M161.9 303.1a.85 .85 0 1 0 .01 0M129.8 314.8a.85 .85 0 1 0 .01 0M85.4 309.7a.85 .85 0 1 0 .01 0M134.4 307.7a.85 .85 0 1 0 .01 0M85 308.8a.85 .85 0 1 0 .01 0M134.4 298.5a.85 .85 0 1 0 .01 0M95.6 296a.85 .85 0 1 0 .01 0M83.8 336.6a.85 .85 0 1 0 .01 0M86.7 308.9a.85 .85 0 1 0 .01 0M84.2 336.4a.85 .85 0 1 0 .01 0M84.2 304.7a.85 .85 0 1 0 .01 0M83.9 364a.85 .85 0 1 0 .01 0M106.6 307.3a.85 .85 0 1 0 .01 0M84.6 331.6a.85 .85 0 1 0 .01 0M84 363.7a.85 .85 0 1 0 .01 0M84 300.9a.85 .85 0 1 0 .01 0M84 337.9a.85 .85 0 1 0 .01 0M83.5 330.1a.85 .85 0 1 0 .01 0M106.1 303.1a.85 .85 0 1 0 .01 0M84.9 327.2a.85 .85 0 1 0 .01 0M84.3 269.5a.85 .85 0 1 0 .01 0M107.3 293.6a.85 .85 0 1 0 .01 0M139.1 300.8a.85 .85 0 1 0 .01 0M85.7 305.5a.85 .85 0 1 0 .01 0M170.9 302.4a.85 .85 0 1 0 .01 0M92.7 313.8a.85 .85 0 1 0 .01 0M83.9 324.8a.85 .85 0 1 0 .01 0M170 295.2a.85 .85 0 1 0 .01 0M104.9 308.2a.85 .85 0 1 0 .01 0M88.3 309.8a.85 .85 0 1 0 .01 0M123.3 305.7a.85 .85 0 1 0 .01 0M86.8 336.2a.85 .85 0 1 0 .01 0M152.1 339.6a.85 .85 0 1 0 .01 0M103.6 302a.85 .85 0 1 0 .01 0M84.5 326.4a.85 .85 0 1 0 .01 0M83.8 337.9a.85 .85 0 1 0 .01 0M84.5 331.6a.85 .85 0 1 0 .01 0M91.3 314.4a.85 .85 0 1 0 .01 0M92.3 301.4a.85 .85 0 1 0 .01 0M86.6 323.4a.85 .85 0 1 0 .01 0M83.9 339a.85 .85 0 1 0 .01 0M87.3 318.8a.85 .85 0 1 0 .01 0M83.9 336.3a.85 .85 0 1 0 .01 0M113.7 299.6a.85 .85 0 1 0 .01 0M105.8 308a.85 .85 0 1 0 .01 0M84.5 338.2a.85 .85 0 1 0 .01 0M90.2 313.6a.85 .85 0 1 0 .01 0M84.4 343.4a.85 .85 0 1 0 .01 0M113.7 305.4a.85 .85 0 1 0 .01 0M84.1 365.6a.85 .85 0 1 0 .01 0M84.4 344.2a.85 .85 0 1 0 .01 0M86 317.2a.85 .85 0 1 0 .01 0M84.1 345.9a.85 .85 0 1 0 .01 0M104.3 305.9a.85 .85 0 1 0 .01 0M89.8 340.2a.85 .85 0 1 0 .01 0M83.8 326.3a.85 .85 0 1 0 .01 0M161.1 322.3a.85 .85 0 1 0 .01 0M133.2 300.1a.85 .85 0 1 0 .01 0M97.5 315.4a.85 .85 0 1 0 .01 0M112.1 307.1a.85 .85 0 1 0 .01 0M103.6 308.9a.85 .85 0 1 0 .01 0M84.5 339.3a.85 .85 0 1 0 .01 0M120.9 305.2a.85 .85 0 1 0 .01 0M90.2 314.3a.85 .85 0 1 0 .01 0M87.9 307.1a.85 .85 0 1 0 .01 0M135.8 312.7a.85 .85 0 1 0 .01 0M92.4 297.8a.85 .85 0 1 0 .01 0M86.7 315.7a.85 .85 0 1 0 .01 0M87.2 297.6a.85 .85 0 1 0 .01 0"/>
</g>
<line x1="84.4" y1="306.9" x2="267.8" y2="306.9" stroke="#0a0a0a" stroke-width="1.25"/>
<rect x="77.4" y="267.9" width="194.0" height="160.0" fill="none" stroke="#303030" stroke-width="1.05"/>
<path d="M77.4 426.2h-4M77.4 394.7h-4M77.4 363.2h-4M77.4 331.8h-4M77.4 300.3h-4M77.4 268.8h-4M81.4 427.9v6M118.7 427.9v6M156.0 427.9v6M193.2 427.9v6M230.5 427.9v6M267.8 427.9v6" stroke="#999" stroke-width="0.8" fill="none"/>
<g class="tk">
<text x="72.2" y="430.4" text-anchor="end" textLength="7.7" lengthAdjust="spacingAndGlyphs">10</text>
<text x="72.2" y="398.9" text-anchor="end" textLength="12.1" lengthAdjust="spacingAndGlyphs">100</text>
<text x="72.2" y="367.4" text-anchor="end" textLength="16.5" lengthAdjust="spacingAndGlyphs">1000</text>
<text x="72.2" y="336.0" text-anchor="end" textLength="20.9" lengthAdjust="spacingAndGlyphs">10000</text>
<text x="72.2" y="304.5" text-anchor="end" textLength="25.3" lengthAdjust="spacingAndGlyphs">100000</text>
<text x="72.2" y="273.0" text-anchor="end" textLength="29.7" lengthAdjust="spacingAndGlyphs">1000000</text>
<text x="81.4" y="445.4" text-anchor="middle" textLength="4.7" lengthAdjust="spacingAndGlyphs">0</text>
<text x="118.7" y="445.4" text-anchor="middle" textLength="4.7" lengthAdjust="spacingAndGlyphs">5</text>
<text x="156.0" y="445.4" text-anchor="middle" textLength="9.4" lengthAdjust="spacingAndGlyphs">10</text>
<text x="193.2" y="445.4" text-anchor="middle" textLength="9.4" lengthAdjust="spacingAndGlyphs">15</text>
<text x="230.5" y="445.4" text-anchor="middle" textLength="9.4" lengthAdjust="spacingAndGlyphs">20</text>
<text x="267.8" y="445.4" text-anchor="middle" textLength="9.4" lengthAdjust="spacingAndGlyphs">25</text>
</g>
<text class="pl" x="33.7" y="255.5">C</text>
<g fill="none" stroke="#000" stroke-width="0.8" stroke-opacity="0.42">
<path d="M329.4 348.5a.85 .85 0 1 0 .01 0M375.2 299.9a.85 .85 0 1 0 .01 0M345.2 317.6a.85 .85 0 1 0 .01 0M330.5 327.5a.85 .85 0 1 0 .01 0M403.7 311.2a.85 .85 0 1 0 .01 0M329.1 338.7a.85 .85 0 1 0 .01 0M330.8 333.3a.85 .85 0 1 0 .01 0M343.4 319.7a.85 .85 0 1 0 .01 0M328.6 339a.85 .85 0 1 0 .01 0M358.1 346.6a.85 .85 0 1 0 .01 0M331 347.7a.85 .85 0 1 0 .01 0M417.3 347a.85 .85 0 1 0 .01 0M407.7 338.8a.85 .85 0 1 0 .01 0M368 327.7a.85 .85 0 1 0 .01 0M347.3 324.9a.85 .85 0 1 0 .01 0M331.6 322.2a.85 .85 0 1 0 .01 0M331.6 342.2a.85 .85 0 1 0 .01 0M330 327.7a.85 .85 0 1 0 .01 0M329.6 319.5a.85 .85 0 1 0 .01 0M330.4 329.4a.85 .85 0 1 0 .01 0M341.9 316.2a.85 .85 0 1 0 .01 0M341.4 337.1a.85 .85 0 1 0 .01 0M355.1 323.2a.85 .85 0 1 0 .01 0M330 366.8a.85 .85 0 1 0 .01 0M329.7 346.1a.85 .85 0 1 0 .01 0M371.7 355.8a.85 .85 0 1 0 .01 0M331.3 317.8a.85 .85 0 1 0 .01 0M331.5 328.3a.85 .85 0 1 0 .01 0M330.3 353.7a.85 .85 0 1 0 .01 0M361.4 336.6a.85 .85 0 1 0 .01 0M335.2 304.8a.85 .85 0 1 0 .01 0M329.7 328.5a.85 .85 0 1 0 .01 0M373.5 314a.85 .85 0 1 0 .01 0M364.8 335.3a.85 .85 0 1 0 .01 0M329.6 340a.85 .85 0 1 0 .01 0M328.7 340.8a.85 .85 0 1 0 .01 0M330.9 342.7a.85 .85 0 1 0 .01 0M393.9 304.4a.85 .85 0 1 0 .01 0M331.7 324.5a.85 .85 0 1 0 .01 0M329.3 324.6a.85 .85 0 1 0 .01 0M330.1 354.9a.85 .85 0 1 0 .01 0M329.5 333.5a.85 .85 0 1 0 .01 0M346.1 312.4a.85 .85 0 1 0 .01 0M329.3 340a.85 .85 0 1 0 .01 0M419.6 342.8a.85 .85 0 1 0 .01 0M368.1 314.8a.85 .85 0 1 0 .01 0M339.1 319.1a.85 .85 0 1 0 .01 0M331 345.4a.85 .85 0 1 0 .01 0M356.5 306.2a.85 .85 0 1 0 .01 0M338.4 330a.85 .85 0 1 0 .01 0M330.2 349.8a.85 .85 0 1 0 .01 0M328.9 341.2a.85 .85 0 1 0 .01 0M328.8 313.6a.85 .85 0 1 0 .01 0M329.7 354.4a.85 .85 0 1 0 .01 0M331.3 338a.85 .85 0 1 0 .01 0M358.4 335.1a.85 .85 0 1 0 .01 0M332.1 339.5a.85 .85 0 1 0 .01 0M369.1 340.8a.85 .85 0 1 0 .01 0M347 347.4a.85 .85 0 1 0 .01 0M466 346a.85 .85 0 1 0 .01 0M329.7 347.6a.85 .85 0 1 0 .01 0M329.4 331.8a.85 .85 0 1 0 .01 0M338.6 365.5a.85 .85 0 1 0 .01 0M329.4 340.9a.85 .85 0 1 0 .01 0M427.3 343.6a.85 .85 0 1 0 .01 0M369 345.3a.85 .85 0 1 0 .01 0M330.8 333.7a.85 .85 0 1 0 .01 0M414.8 349.8a.85 .85 0 1 0 .01 0M394.3 343.6a.85 .85 0 1 0 .01 0M329 334.6a.85 .85 0 1 0 .01 0M336.5 352.8a.85 .85 0 1 0 .01 0M329.6 337.8a.85 .85 0 1 0 .01 0M336.2 314.2a.85 .85 0 1 0 .01 0M331.4 329.5a.85 .85 0 1 0 .01 0M337.2 333.7a.85 .85 0 1 0 .01 0M387.5 318.3a.85 .85 0 1 0 .01 0M333.4 341.5a.85 .85 0 1 0 .01 0M329.2 342.7a.85 .85 0 1 0 .01 0M345.3 326.6a.85 .85 0 1 0 .01 0M331.2 332.5a.85 .85 0 1 0 .01 0M330.7 328.7a.85 .85 0 1 0 .01 0M334.6 335.8a.85 .85 0 1 0 .01 0M396.3 334.5a.85 .85 0 1 0 .01 0M331.5 337.8a.85 .85 0 1 0 .01 0M331.1 336.9a.85 .85 0 1 0 .01 0M369.1 321.8a.85 .85 0 1 0 .01 0M330.6 334.4a.85 .85 0 1 0 .01 0M398.6 337.8a.85 .85 0 1 0 .01 0M329.3 328a.85 .85 0 1 0 .01 0M363.1 334.2a.85 .85 0 1 0 .01 0M329.7 351.5a.85 .85 0 1 0 .01 0M352.8 334.7a.85 .85 0 1 0 .01 0M329.8 331.7a.85 .85 0 1 0 .01 0M350.7 342a.85 .85 0 1 0 .01 0M331.3 320.3a.85 .85 0 1 0 .01 0M330.5 338.7a.85 .85 0 1 0 .01 0M333.7 337.7a.85 .85 0 1 0 .01 0M344 320.8a.85 .85 0 1 0 .01 0M349.4 314.2a.85 .85 0 1 0 .01 0M347.4 323.1a.85 .85 0 1 0 .01 0M330 322.9a.85 .85 0 1 0 .01 0M451.5 313.3a.85 .85 0 1 0 .01 0M329.9 334.2a.85 .85 0 1 0 .01 0M346.8 333.3a.85 .85 0 1 0 .01 0M435.1 338.3a.85 .85 0 1 0 .01 0M448.9 327.8a.85 .85 0 1 0 .01 0M330.4 333.7a.85 .85 0 1 0 .01 0M336.6 319.6a.85 .85 0 1 0 .01 0M329.6 325.4a.85 .85 0 1 0 .01 0M329.6 345.5a.85 .85 0 1 0 .01 0M350.4 333.9a.85 .85 0 1 0 .01 0M332.6 313.9a.85 .85 0 1 0 .01 0M341.9 291.8a.85 .85 0 1 0 .01 0M364.5 339.1a.85 .85 0 1 0 .01 0M355.5 315.1a.85 .85 0 1 0 .01 0M353.2 313.6a.85 .85 0 1 0 .01 0M331.3 359.5a.85 .85 0 1 0 .01 0M329.4 341.6a.85 .85 0 1 0 .01 0M433.7 306.6a.85 .85 0 1 0 .01 0M330.9 337.4a.85 .85 0 1 0 .01 0M384.1 320.7a.85 .85 0 1 0 .01 0M350.9 345a.85 .85 0 1 0 .01 0M459 342.1a.85 .85 0 1 0 .01 0M338.3 320.6a.85 .85 0 1 0 .01 0M376 338.7a.85 .85 0 1 0 .01 0M330.4 322.6a.85 .85 0 1 0 .01 0M359.9 322.3a.85 .85 0 1 0 .01 0M356.9 340.7a.85 .85 0 1 0 .01 0M347 330.8a.85 .85 0 1 0 .01 0M410.6 334.7a.85 .85 0 1 0 .01 0M351.1 329.9a.85 .85 0 1 0 .01 0"/>
<path d="M395.1 309.5a.85 .85 0 1 0 .01 0M377.7 313.8a.85 .85 0 1 0 .01 0M329.4 329.5a.85 .85 0 1 0 .01 0M404.7 352.9a.85 .85 0 1 0 .01 0M391.5 336.4a.85 .85 0 1 0 .01 0M330.8 339.3a.85 .85 0 1 0 .01 0M331.5 344.3a.85 .85 0 1 0 .01 0M430.1 334.6a.85 .85 0 1 0 .01 0M328.8 344.2a.85 .85 0 1 0 .01 0M331.3 333.6a.85 .85 0 1 0 .01 0M331.8 340.6a.85 .85 0 1 0 .01 0M329 324.2a.85 .85 0 1 0 .01 0M341.8 331.5a.85 .85 0 1 0 .01 0M329.9 364.7a.85 .85 0 1 0 .01 0M347.3 339.3a.85 .85 0 1 0 .01 0M329.7 377.7a.85 .85 0 1 0 .01 0M374.2 294.2a.85 .85 0 1 0 .01 0M332.3 334.9a.85 .85 0 1 0 .01 0M329.6 361.7a.85 .85 0 1 0 .01 0M333.6 346.7a.85 .85 0 1 0 .01 0M427.8 334.5a.85 .85 0 1 0 .01 0M331.1 370.5a.85 .85 0 1 0 .01 0M329.6 338.2a.85 .85 0 1 0 .01 0M454.2 322.9a.85 .85 0 1 0 .01 0M330.2 346.7a.85 .85 0 1 0 .01 0M363.1 332.9a.85 .85 0 1 0 .01 0M401.6 304a.85 .85 0 1 0 .01 0M331.6 351.8a.85 .85 0 1 0 .01 0M369.2 309.3a.85 .85 0 1 0 .01 0M336.9 320.4a.85 .85 0 1 0 .01 0M370.6 318.1a.85 .85 0 1 0 .01 0M329.9 341.3a.85 .85 0 1 0 .01 0M329.2 332.1a.85 .85 0 1 0 .01 0M340.4 319.1a.85 .85 0 1 0 .01 0M411.9 347.1a.85 .85 0 1 0 .01 0M329.2 333.8a.85 .85 0 1 0 .01 0M330.2 353.9a.85 .85 0 1 0 .01 0M341.6 338.7a.85 .85 0 1 0 .01 0M329.8 343a.85 .85 0 1 0 .01 0M329.7 339a.85 .85 0 1 0 .01 0M345 341.5a.85 .85 0 1 0 .01 0M339.3 336.5a.85 .85 0 1 0 .01 0M334.6 324.5a.85 .85 0 1 0 .01 0M352.2 346.5a.85 .85 0 1 0 .01 0M329.9 342.4a.85 .85 0 1 0 .01 0M444.6 346.6a.85 .85 0 1 0 .01 0M331.3 335.1a.85 .85 0 1 0 .01 0M344.1 337.7a.85 .85 0 1 0 .01 0M329.8 328.1a.85 .85 0 1 0 .01 0M330 328.3a.85 .85 0 1 0 .01 0M329.7 330.3a.85 .85 0 1 0 .01 0M338 325.3a.85 .85 0 1 0 .01 0M354.2 308.1a.85 .85 0 1 0 .01 0M387.8 343.3a.85 .85 0 1 0 .01 0M328.7 349.9a.85 .85 0 1 0 .01 0M370.3 316.9a.85 .85 0 1 0 .01 0M338.8 337.9a.85 .85 0 1 0 .01 0M330.2 336.9a.85 .85 0 1 0 .01 0M344.1 341.6a.85 .85 0 1 0 .01 0M357.9 321.5a.85 .85 0 1 0 .01 0M329.8 336.3a.85 .85 0 1 0 .01 0M330.3 358.3a.85 .85 0 1 0 .01 0M331 328.7a.85 .85 0 1 0 .01 0M330.9 325.6a.85 .85 0 1 0 .01 0M355.5 333.1a.85 .85 0 1 0 .01 0M329.8 335.9a.85 .85 0 1 0 .01 0M330.8 334.5a.85 .85 0 1 0 .01 0M330.8 328.3a.85 .85 0 1 0 .01 0M329.7 343.4a.85 .85 0 1 0 .01 0M341 330.7a.85 .85 0 1 0 .01 0M328.8 334.7a.85 .85 0 1 0 .01 0M347.7 329.9a.85 .85 0 1 0 .01 0M337.7 293.5a.85 .85 0 1 0 .01 0M380.4 325.5a.85 .85 0 1 0 .01 0M331.5 337.5a.85 .85 0 1 0 .01 0M338.6 341.8a.85 .85 0 1 0 .01 0M369.5 340.2a.85 .85 0 1 0 .01 0M439.4 330.8a.85 .85 0 1 0 .01 0M329.6 331.3a.85 .85 0 1 0 .01 0M330.3 334a.85 .85 0 1 0 .01 0M330.5 316.2a.85 .85 0 1 0 .01 0M330.8 332.5a.85 .85 0 1 0 .01 0M356.3 339.7a.85 .85 0 1 0 .01 0M329.1 342.7a.85 .85 0 1 0 .01 0M364.7 357a.85 .85 0 1 0 .01 0M387.1 330.4a.85 .85 0 1 0 .01 0M329.6 320.2a.85 .85 0 1 0 .01 0M329.5 327.1a.85 .85 0 1 0 .01 0M329.8 342.3a.85 .85 0 1 0 .01 0M345 328.2a.85 .85 0 1 0 .01 0M370.9 324a.85 .85 0 1 0 .01 0M454.1 350.3a.85 .85 0 1 0 .01 0M337.4 314.1a.85 .85 0 1 0 .01 0M370.9 336.6a.85 .85 0 1 0 .01 0M330.5 337.5a.85 .85 0 1 0 .01 0M360.5 332.4a.85 .85 0 1 0 .01 0M334.6 324.4a.85 .85 0 1 0 .01 0M329.9 338.5a.85 .85 0 1 0 .01 0M421.5 353.5a.85 .85 0 1 0 .01 0M333.8 326.7a.85 .85 0 1 0 .01 0M352 335.5a.85 .85 0 1 0 .01 0M329.1 332.7a.85 .85 0 1 0 .01 0M331.6 335.7a.85 .85 0 1 0 .01 0M344.8 316.4a.85 .85 0 1 0 .01 0M328.7 319.8a.85 .85 0 1 0 .01 0M359.7 338.4a.85 .85 0 1 0 .01 0M329.7 334a.85 .85 0 1 0 .01 0M330.4 309.6a.85 .85 0 1 0 .01 0M329.9 323.4a.85 .85 0 1 0 .01 0M351.1 332.1a.85 .85 0 1 0 .01 0M331.7 332.9a.85 .85 0 1 0 .01 0M378.9 335.7a.85 .85 0 1 0 .01 0M351.3 321.4a.85 .85 0 1 0 .01 0M329.5 346.3a.85 .85 0 1 0 .01 0M353.4 364.3a.85 .85 0 1 0 .01 0M330.2 354.9a.85 .85 0 1 0 .01 0M402.5 354.6a.85 .85 0 1 0 .01 0M336.7 341.6a.85 .85 0 1 0 .01 0M362.2 329.9a.85 .85 0 1 0 .01 0M331.4 326.9a.85 .85 0 1 0 .01 0M328.8 323.7a.85 .85 0 1 0 .01 0M329.6 342.3a.85 .85 0 1 0 .01 0M333.6 351.4a.85 .85 0 1 0 .01 0M370.2 314.8a.85 .85 0 1 0 .01 0M340.5 317.4a.85 .85 0 1 0 .01 0M344.7 327.6a.85 .85 0 1 0 .01 0M330.2 348.2a.85 .85 0 1 0 .01 0M331 336.7a.85 .85 0 1 0 .01 0M373.1 342.4a.85 .85 0 1 0 .01 0M373 316.9a.85 .85 0 1 0 .01 0M330.1 367.3a.85 .85 0 1 0 .01 0"/>
<path d="M343.2 322.5a.85 .85 0 1 0 .01 0M328.4 336.2a.85 .85 0 1 0 .01 0M364.2 328.5a.85 .85 0 1 0 .01 0M330.3 333.9a.85 .85 0 1 0 .01 0M329.4 333.5a.85 .85 0 1 0 .01 0M328.5 335.6a.85 .85 0 1 0 .01 0M341 342.3a.85 .85 0 1 0 .01 0M329.8 335.6a.85 .85 0 1 0 .01 0M329 339.5a.85 .85 0 1 0 .01 0M363.3 320.1a.85 .85 0 1 0 .01 0M330.2 333.2a.85 .85 0 1 0 .01 0M330.9 321.4a.85 .85 0 1 0 .01 0M377.9 321.7a.85 .85 0 1 0 .01 0M330 344.5a.85 .85 0 1 0 .01 0M341 339.3a.85 .85 0 1 0 .01 0M329 345.5a.85 .85 0 1 0 .01 0M339.7 326.4a.85 .85 0 1 0 .01 0M328.4 316.5a.85 .85 0 1 0 .01 0M329.3 337.9a.85 .85 0 1 0 .01 0M331.4 333.2a.85 .85 0 1 0 .01 0M329.7 338.7a.85 .85 0 1 0 .01 0M338.4 341.4a.85 .85 0 1 0 .01 0M343.2 329.3a.85 .85 0 1 0 .01 0M330 343.3a.85 .85 0 1 0 .01 0M377 343.2a.85 .85 0 1 0 .01 0M331 334.9a.85 .85 0 1 0 .01 0M345.7 307.8a.85 .85 0 1 0 .01 0M330.8 351.5a.85 .85 0 1 0 .01 0M449.4 340a.85 .85 0 1 0 .01 0M331 331.4a.85 .85 0 1 0 .01 0M329.1 347a.85 .85 0 1 0 .01 0M340 325.3a.85 .85 0 1 0 .01 0M436.4 343.9a.85 .85 0 1 0 .01 0M330.5 331.8a.85 .85 0 1 0 .01 0M351.8 324.6a.85 .85 0 1 0 .01 0M345.6 319.7a.85 .85 0 1 0 .01 0M331.3 343.1a.85 .85 0 1 0 .01 0M329.7 328a.85 .85 0 1 0 .01 0M361.6 361.4a.85 .85 0 1 0 .01 0M329.4 338.8a.85 .85 0 1 0 .01 0M357.3 333.8a.85 .85 0 1 0 .01 0M330.2 339.2a.85 .85 0 1 0 .01 0M374.9 318.8a.85 .85 0 1 0 .01 0M328.7 331.6a.85 .85 0 1 0 .01 0M350.8 343.4a.85 .85 0 1 0 .01 0M331.6 327.5a.85 .85 0 1 0 .01 0M345.9 321.4a.85 .85 0 1 0 .01 0M335.8 347.7a.85 .85 0 1 0 .01 0M329.8 325.8a.85 .85 0 1 0 .01 0M331.4 330.2a.85 .85 0 1 0 .01 0M350.2 320.1a.85 .85 0 1 0 .01 0M335.4 340a.85 .85 0 1 0 .01 0M389.9 302.5a.85 .85 0 1 0 .01 0M329.4 338.2a.85 .85 0 1 0 .01 0M348.1 322.7a.85 .85 0 1 0 .01 0M330.5 336.9a.85 .85 0 1 0 .01 0M330.3 339.9a.85 .85 0 1 0 .01 0M331.1 330.8a.85 .85 0 1 0 .01 0M346.4 315.9a.85 .85 0 1 0 .01 0M330 338.4a.85 .85 0 1 0 .01 0M419.3 364a.85 .85 0 1 0 .01 0M361.5 319.6a.85 .85 0 1 0 .01 0M329.2 341.5a.85 .85 0 1 0 .01 0M447.2 349a.85 .85 0 1 0 .01 0M329.7 346.7a.85 .85 0 1 0 .01 0M330.7 325.8a.85 .85 0 1 0 .01 0M329.3 340.3a.85 .85 0 1 0 .01 0M330 327.4a.85 .85 0 1 0 .01 0M329.3 335.9a.85 .85 0 1 0 .01 0M330.5 347.4a.85 .85 0 1 0 .01 0M340.1 318.1a.85 .85 0 1 0 .01 0M346 317a.85 .85 0 1 0 .01 0M330.3 324a.85 .85 0 1 0 .01 0M329.2 325a.85 .85 0 1 0 .01 0M373.3 336.3a.85 .85 0 1 0 .01 0M350.8 317.8a.85 .85 0 1 0 .01 0M328.9 334.8a.85 .85 0 1 0 .01 0M329.4 324a.85 .85 0 1 0 .01 0M331 326.7a.85 .85 0 1 0 .01 0M381.9 313.7a.85 .85 0 1 0 .01 0M330.4 337.3a.85 .85 0 1 0 .01 0M345.5 318.2a.85 .85 0 1 0 .01 0M343.3 334a.85 .85 0 1 0 .01 0M329.5 334.6a.85 .85 0 1 0 .01 0M341.3 347.9a.85 .85 0 1 0 .01 0M328.2 344.5a.85 .85 0 1 0 .01 0M329.6 333.2a.85 .85 0 1 0 .01 0M339.6 319.9a.85 .85 0 1 0 .01 0M330.4 330.4a.85 .85 0 1 0 .01 0M463.8 335.9a.85 .85 0 1 0 .01 0M330.2 321.2a.85 .85 0 1 0 .01 0M337.4 302.5a.85 .85 0 1 0 .01 0M355.5 346.1a.85 .85 0 1 0 .01 0M330.2 334.9a.85 .85 0 1 0 .01 0M426 310.7a.85 .85 0 1 0 .01 0M364.4 299.6a.85 .85 0 1 0 .01 0M372.5 311.8a.85 .85 0 1 0 .01 0M330.5 335.2a.85 .85 0 1 0 .01 0M329.7 330.8a.85 .85 0 1 0 .01 0M330.7 308a.85 .85 0 1 0 .01 0M467 328.4a.85 .85 0 1 0 .01 0M345.8 330.3a.85 .85 0 1 0 .01 0M375 331.8a.85 .85 0 1 0 .01 0M330.7 335.1a.85 .85 0 1 0 .01 0M333.2 336.3a.85 .85 0 1 0 .01 0M359.2 329.6a.85 .85 0 1 0 .01 0M336.1 334.3a.85 .85 0 1 0 .01 0M333.1 321.1a.85 .85 0 1 0 .01 0M329.7 335.2a.85 .85 0 1 0 .01 0M375.3 340.3a.85 .85 0 1 0 .01 0M411 334.8a.85 .85 0 1 0 .01 0M348.5 298.7a.85 .85 0 1 0 .01 0M330 329.8a.85 .85 0 1 0 .01 0M332.8 330.5a.85 .85 0 1 0 .01 0M333.8 339.8a.85 .85 0 1 0 .01 0M345.1 309.2a.85 .85 0 1 0 .01 0M375 326.2a.85 .85 0 1 0 .01 0M344.1 350.5a.85 .85 0 1 0 .01 0M350 342.8a.85 .85 0 1 0 .01 0M330.5 340.6a.85 .85 0 1 0 .01 0M353.5 314.5a.85 .85 0 1 0 .01 0M362.9 313a.85 .85 0 1 0 .01 0M363.3 334.9a.85 .85 0 1 0 .01 0M330.2 353.8a.85 .85 0 1 0 .01 0M355.5 325.9a.85 .85 0 1 0 .01 0M379.8 313.1a.85 .85 0 1 0 .01 0M336.6 311.5a.85 .85 0 1 0 .01 0M380.6 344.4a.85 .85 0 1 0 .01 0M330.4 339.1a.85 .85 0 1 0 .01 0M340.7 334.2a.85 .85 0 1 0 .01 0M385.2 335.9a.85 .85 0 1 0 .01 0"/>
<path d="M347.5 338.8a.85 .85 0 1 0 .01 0M339 348a.85 .85 0 1 0 .01 0M363.6 315.1a.85 .85 0 1 0 .01 0M380.6 337.8a.85 .85 0 1 0 .01 0M329.6 339a.85 .85 0 1 0 .01 0M340.1 334.8a.85 .85 0 1 0 .01 0M365.8 338.1a.85 .85 0 1 0 .01 0M330.1 335.7a.85 .85 0 1 0 .01 0M340.2 321a.85 .85 0 1 0 .01 0M419.1 320.9a.85 .85 0 1 0 .01 0M328.8 335.9a.85 .85 0 1 0 .01 0M329.7 318.4a.85 .85 0 1 0 .01 0M332.1 352.4a.85 .85 0 1 0 .01 0M377.2 339.4a.85 .85 0 1 0 .01 0M329.3 339.6a.85 .85 0 1 0 .01 0M365.4 333.9a.85 .85 0 1 0 .01 0M341.5 332.5a.85 .85 0 1 0 .01 0M348.1 316.1a.85 .85 0 1 0 .01 0M330.5 318.1a.85 .85 0 1 0 .01 0M456.3 329.3a.85 .85 0 1 0 .01 0M414.3 327.2a.85 .85 0 1 0 .01 0M352.1 337.9a.85 .85 0 1 0 .01 0M330.9 339.4a.85 .85 0 1 0 .01 0M346.3 338.3a.85 .85 0 1 0 .01 0M332.1 324.1a.85 .85 0 1 0 .01 0M345.9 334.9a.85 .85 0 1 0 .01 0M349 320.6a.85 .85 0 1 0 .01 0M330.6 326.4a.85 .85 0 1 0 .01 0M491.5 343.3a.85 .85 0 1 0 .01 0M366.5 326.2a.85 .85 0 1 0 .01 0M330 351.6a.85 .85 0 1 0 .01 0M329 323.5a.85 .85 0 1 0 .01 0M377.9 328.3a.85 .85 0 1 0 .01 0M333.9 313.4a.85 .85 0 1 0 .01 0M371.3 336.7a.85 .85 0 1 0 .01 0M354.1 327.6a.85 .85 0 1 0 .01 0M330 330.8a.85 .85 0 1 0 .01 0M358.5 317.9a.85 .85 0 1 0 .01 0M333.6 317.3a.85 .85 0 1 0 .01 0M342.7 339a.85 .85 0 1 0 .01 0M376.8 329.9a.85 .85 0 1 0 .01 0M414.2 352.3a.85 .85 0 1 0 .01 0M330.5 353.6a.85 .85 0 1 0 .01 0M329.9 309.3a.85 .85 0 1 0 .01 0M334 346a.85 .85 0 1 0 .01 0M329.8 338.5a.85 .85 0 1 0 .01 0M377.9 342.4a.85 .85 0 1 0 .01 0M347.7 335a.85 .85 0 1 0 .01 0M363.4 332.6a.85 .85 0 1 0 .01 0M339.8 337.4a.85 .85 0 1 0 .01 0M348.6 346.2a.85 .85 0 1 0 .01 0M351.5 336.5a.85 .85 0 1 0 .01 0M394.4 326.5a.85 .85 0 1 0 .01 0M435.6 330.2a.85 .85 0 1 0 .01 0M328.6 339.2a.85 .85 0 1 0 .01 0M449.2 313.1a.85 .85 0 1 0 .01 0M437.2 313.1a.85 .85 0 1 0 .01 0M334.5 312a.85 .85 0 1 0 .01 0M331.7 313.5a.85 .85 0 1 0 .01 0M329.9 341.2a.85 .85 0 1 0 .01 0M331.2 333.2a.85 .85 0 1 0 .01 0M330 334.9a.85 .85 0 1 0 .01 0M329.8 334.8a.85 .85 0 1 0 .01 0M331.6 333a.85 .85 0 1 0 .01 0M329.5 337.4a.85 .85 0 1 0 .01 0M329.6 337.8a.85 .85 0 1 0 .01 0M330.5 320.6a.85 .85 0 1 0 .01 0M329.8 323.3a.85 .85 0 1 0 .01 0M363.3 323.9a.85 .85 0 1 0 .01 0M420 339a.85 .85 0 1 0 .01 0M368.7 337.8a.85 .85 0 1 0 .01 0M329.9 353.1a.85 .85 0 1 0 .01 0M339.6 321.4a.85 .85 0 1 0 .01 0M357.7 324.7a.85 .85 0 1 0 .01 0M331.3 345.3a.85 .85 0 1 0 .01 0M344.8 336.5a.85 .85 0 1 0 .01 0M330.1 328.7a.85 .85 0 1 0 .01 0M331.6 321.5a.85 .85 0 1 0 .01 0M329.9 331.6a.85 .85 0 1 0 .01 0M347.2 329.7a.85 .85 0 1 0 .01 0M329.8 328.6a.85 .85 0 1 0 .01 0M329.9 332.5a.85 .85 0 1 0 .01 0M329.6 328.1a.85 .85 0 1 0 .01 0M351.9 311.1a.85 .85 0 1 0 .01 0M372 318.6a.85 .85 0 1 0 .01 0M329.6 329.3a.85 .85 0 1 0 .01 0M335.2 312.1a.85 .85 0 1 0 .01 0M348.2 336.4a.85 .85 0 1 0 .01 0M391.5 344.3a.85 .85 0 1 0 .01 0M329 344.3a.85 .85 0 1 0 .01 0M436.6 346.2a.85 .85 0 1 0 .01 0M329.5 330.9a.85 .85 0 1 0 .01 0M431.8 321.3a.85 .85 0 1 0 .01 0M330.1 335.2a.85 .85 0 1 0 .01 0M363 314.1a.85 .85 0 1 0 .01 0M330.5 337.3a.85 .85 0 1 0 .01 0M385 341.8a.85 .85 0 1 0 .01 0M330.3 340.8a.85 .85 0 1 0 .01 0M351.7 319.3a.85 .85 0 1 0 .01 0M330 336.7a.85 .85 0 1 0 .01 0M332.8 320.9a.85 .85 0 1 0 .01 0M329.7 315.5a.85 .85 0 1 0 .01 0M367.2 313a.85 .85 0 1 0 .01 0M334.1 323.3a.85 .85 0 1 0 .01 0M329.5 333.8a.85 .85 0 1 0 .01 0M336.5 331a.85 .85 0 1 0 .01 0M330.7 342.1a.85 .85 0 1 0 .01 0M332.3 330.4a.85 .85 0 1 0 .01 0M329.2 338a.85 .85 0 1 0 .01 0M363.7 330a.85 .85 0 1 0 .01 0M329.4 319.5a.85 .85 0 1 0 .01 0M341.1 319.9a.85 .85 0 1 0 .01 0M329.8 356.8a.85 .85 0 1 0 .01 0M347.8 338.6a.85 .85 0 1 0 .01 0M409.1 320.4a.85 .85 0 1 0 .01 0M338 341a.85 .85 0 1 0 .01 0M337.7 349.8a.85 .85 0 1 0 .01 0M329.9 339.4a.85 .85 0 1 0 .01 0M337.3 334.2a.85 .85 0 1 0 .01 0M329.8 323.9a.85 .85 0 1 0 .01 0M331.9 357.7a.85 .85 0 1 0 .01 0M372.1 327.2a.85 .85 0 1 0 .01 0M353.3 325.9a.85 .85 0 1 0 .01 0M353.9 312.7a.85 .85 0 1 0 .01 0M365.1 322.3a.85 .85 0 1 0 .01 0M335.4 311.9a.85 .85 0 1 0 .01 0M355.8 319.8a.85 .85 0 1 0 .01 0M345.5 323.7a.85 .85 0 1 0 .01 0M345.9 323.8a.85 .85 0 1 0 .01 0M338.7 314.9a.85 .85 0 1 0 .01 0M372.1 329.7a.85 .85 0 1 0 .01 0"/>
<path d="M329.9 335.5a.85 .85 0 1 0 .01 0M329.2 339.9a.85 .85 0 1 0 .01 0M331.5 341.7a.85 .85 0 1 0 .01 0M333.8 338a.85 .85 0 1 0 .01 0M356.2 339.2a.85 .85 0 1 0 .01 0M330.5 342.6a.85 .85 0 1 0 .01 0M329.6 346.2a.85 .85 0 1 0 .01 0M331.5 315.4a.85 .85 0 1 0 .01 0M354.3 333a.85 .85 0 1 0 .01 0M329.8 338.2a.85 .85 0 1 0 .01 0M340.3 314.6a.85 .85 0 1 0 .01 0M350.6 312.8a.85 .85 0 1 0 .01 0M349.7 327.4a.85 .85 0 1 0 .01 0M345.7 320.1a.85 .85 0 1 0 .01 0M329.8 341.3a.85 .85 0 1 0 .01 0M356.9 327.2a.85 .85 0 1 0 .01 0M368.6 326.6a.85 .85 0 1 0 .01 0M346.8 316a.85 .85 0 1 0 .01 0M331.5 320.4a.85 .85 0 1 0 .01 0M329.3 328.2a.85 .85 0 1 0 .01 0M352.5 344.9a.85 .85 0 1 0 .01 0M346.8 312.7a.85 .85 0 1 0 .01 0M353.1 335.5a.85 .85 0 1 0 .01 0M330.2 337.1a.85 .85 0 1 0 .01 0M328.9 329.3a.85 .85 0 1 0 .01 0M403.6 346a.85 .85 0 1 0 .01 0M331.1 348.6a.85 .85 0 1 0 .01 0M331.4 328a.85 .85 0 1 0 .01 0M331.8 321.3a.85 .85 0 1 0 .01 0M331 341.4a.85 .85 0 1 0 .01 0M342.6 328.4a.85 .85 0 1 0 .01 0M335 331.8a.85 .85 0 1 0 .01 0M359.4 336.1a.85 .85 0 1 0 .01 0M362.5 352.2a.85 .85 0 1 0 .01 0M328.3 329.7a.85 .85 0 1 0 .01 0M330.6 323a.85 .85 0 1 0 .01 0M329.2 345a.85 .85 0 1 0 .01 0M329.3 331.4a.85 .85 0 1 0 .01 0M337.6 334.5a.85 .85 0 1 0 .01 0M356.2 338.3a.85 .85 0 1 0 .01 0M330.1 343.9a.85 .85 0 1 0 .01 0M360.2 341a.85 .85 0 1 0 .01 0M331.1 318.2a.85 .85 0 1 0 .01 0M352.9 323a.85 .85 0 1 0 .01 0M329 327.1a.85 .85 0 1 0 .01 0M369.9 339.4a.85 .85 0 1 0 .01 0M426.5 344.9a.85 .85 0 1 0 .01 0M337.6 336.8a.85 .85 0 1 0 .01 0M329.3 346.7a.85 .85 0 1 0 .01 0M330.4 326.1a.85 .85 0 1 0 .01 0M333.3 341.5a.85 .85 0 1 0 .01 0M330.1 356.3a.85 .85 0 1 0 .01 0M447.1 360.9a.85 .85 0 1 0 .01 0M350.5 323.2a.85 .85 0 1 0 .01 0M386.8 317.6a.85 .85 0 1 0 .01 0M350.8 332.1a.85 .85 0 1 0 .01 0M421.4 358.7a.85 .85 0 1 0 .01 0M346.5 317.4a.85 .85 0 1 0 .01 0M328.7 367.4a.85 .85 0 1 0 .01 0M330.7 329.1a.85 .85 0 1 0 .01 0M329.3 340.9a.85 .85 0 1 0 .01 0M330.1 346a.85 .85 0 1 0 .01 0M331 330.7a.85 .85 0 1 0 .01 0M329.4 321.4a.85 .85 0 1 0 .01 0M364.8 316.3a.85 .85 0 1 0 .01 0M362.6 331.6a.85 .85 0 1 0 .01 0M329.8 342.8a.85 .85 0 1 0 .01 0M330 344a.85 .85 0 1 0 .01 0M361.1 342.2a.85 .85 0 1 0 .01 0M329.8 323.2a.85 .85 0 1 0 .01 0M368 336.5a.85 .85 0 1 0 .01 0M329.6 339.8a.85 .85 0 1 0 .01 0M330.2 332.5a.85 .85 0 1 0 .01 0M332 338.1a.85 .85 0 1 0 .01 0M369.3 308.4a.85 .85 0 1 0 .01 0M343.9 342.4a.85 .85 0 1 0 .01 0M339.8 324.1a.85 .85 0 1 0 .01 0M329.4 328.6a.85 .85 0 1 0 .01 0M411.5 307.6a.85 .85 0 1 0 .01 0M331.6 342a.85 .85 0 1 0 .01 0M365.6 324.5a.85 .85 0 1 0 .01 0M363.5 333.3a.85 .85 0 1 0 .01 0M386.7 319.1a.85 .85 0 1 0 .01 0M347.3 325.5a.85 .85 0 1 0 .01 0M330.2 335.1a.85 .85 0 1 0 .01 0M330.3 327.7a.85 .85 0 1 0 .01 0M330.8 322a.85 .85 0 1 0 .01 0M377.4 343.5a.85 .85 0 1 0 .01 0M354.4 341.8a.85 .85 0 1 0 .01 0M407.6 338.9a.85 .85 0 1 0 .01 0M329.2 327.1a.85 .85 0 1 0 .01 0M331.4 351.6a.85 .85 0 1 0 .01 0M389.1 340a.85 .85 0 1 0 .01 0M356.4 325.2a.85 .85 0 1 0 .01 0M329.1 334.4a.85 .85 0 1 0 .01 0M329 329.8a.85 .85 0 1 0 .01 0M381.5 349.9a.85 .85 0 1 0 .01 0M336.7 333.8a.85 .85 0 1 0 .01 0M351.7 339.1a.85 .85 0 1 0 .01 0M446.7 326.7a.85 .85 0 1 0 .01 0M336.7 338.6a.85 .85 0 1 0 .01 0M330.5 343.7a.85 .85 0 1 0 .01 0M333.3 333.5a.85 .85 0 1 0 .01 0M328.6 332.8a.85 .85 0 1 0 .01 0M379.6 328.9a.85 .85 0 1 0 .01 0M335.6 353.9a.85 .85 0 1 0 .01 0M331.2 335.2a.85 .85 0 1 0 .01 0M331.4 339.6a.85 .85 0 1 0 .01 0M329.5 333.9a.85 .85 0 1 0 .01 0M329.3 344.9a.85 .85 0 1 0 .01 0M329.8 344.1a.85 .85 0 1 0 .01 0M329.3 341.2a.85 .85 0 1 0 .01 0M331.1 325a.85 .85 0 1 0 .01 0M356.9 320.4a.85 .85 0 1 0 .01 0M335.6 306a.85 .85 0 1 0 .01 0M347.4 348.2a.85 .85 0 1 0 .01 0M410 358.9a.85 .85 0 1 0 .01 0M353.4 337.2a.85 .85 0 1 0 .01 0M330.7 370.5a.85 .85 0 1 0 .01 0M383.6 361.2a.85 .85 0 1 0 .01 0M332.6 324.5a.85 .85 0 1 0 .01 0M337.9 322.4a.85 .85 0 1 0 .01 0M374.4 343.6a.85 .85 0 1 0 .01 0M330.5 345.2a.85 .85 0 1 0 .01 0M365.1 340.8a.85 .85 0 1 0 .01 0M338.6 327.8a.85 .85 0 1 0 .01 0M330.8 344.4a.85 .85 0 1 0 .01 0M384.8 349.9a.85 .85 0 1 0 .01 0M470.1 334.5a.85 .85 0 1 0 .01 0M331 329.8a.85 .85 0 1 0 .01 0M330.2 365.3a.85 .85 0 1 0 .01 0"/>
<path d="M330.2 339a.85 .85 0 1 0 .01 0M339 332a.85 .85 0 1 0 .01 0M330.2 338.4a.85 .85 0 1 0 .01 0M384.2 342.8a.85 .85 0 1 0 .01 0M356.7 332a.85 .85 0 1 0 .01 0M331.9 334.3a.85 .85 0 1 0 .01 0M332.6 315.6a.85 .85 0 1 0 .01 0M387 352.3a.85 .85 0 1 0 .01 0M347 332.5a.85 .85 0 1 0 .01 0M329.5 325.6a.85 .85 0 1 0 .01 0M337 339.6a.85 .85 0 1 0 .01 0M330.6 349.3a.85 .85 0 1 0 .01 0M337.1 315.3a.85 .85 0 1 0 .01 0M329.8 326.3a.85 .85 0 1 0 .01 0M331 336.6a.85 .85 0 1 0 .01 0M331 338.3a.85 .85 0 1 0 .01 0M352.9 354.6a.85 .85 0 1 0 .01 0M332.4 331.4a.85 .85 0 1 0 .01 0M331.2 330.7a.85 .85 0 1 0 .01 0M329.8 359.8a.85 .85 0 1 0 .01 0M330.5 297.4a.85 .85 0 1 0 .01 0M329 321.7a.85 .85 0 1 0 .01 0M384.6 320.8a.85 .85 0 1 0 .01 0M329.1 353.8a.85 .85 0 1 0 .01 0M383.5 334.7a.85 .85 0 1 0 .01 0M329.1 323.4a.85 .85 0 1 0 .01 0M329.8 344.8a.85 .85 0 1 0 .01 0M330.7 342.2a.85 .85 0 1 0 .01 0M372.4 325.5a.85 .85 0 1 0 .01 0M377.7 333.5a.85 .85 0 1 0 .01 0M409 328.5a.85 .85 0 1 0 .01 0M355.1 298.8a.85 .85 0 1 0 .01 0M347.6 333.8a.85 .85 0 1 0 .01 0M328.6 326.5a.85 .85 0 1 0 .01 0M379.8 282.1a.85 .85 0 1 0 .01 0M330.5 329.1a.85 .85 0 1 0 .01 0M336.1 326.7a.85 .85 0 1 0 .01 0M465.9 352.7a.85 .85 0 1 0 .01 0M403.4 309.6a.85 .85 0 1 0 .01 0M332.3 322.6a.85 .85 0 1 0 .01 0M330.4 335.1a.85 .85 0 1 0 .01 0M361.5 323.4a.85 .85 0 1 0 .01 0M353.8 327.2a.85 .85 0 1 0 .01 0M340.8 320.5a.85 .85 0 1 0 .01 0M407.9 324.7a.85 .85 0 1 0 .01 0M329.9 326a.85 .85 0 1 0 .01 0M411.6 324.6a.85 .85 0 1 0 .01 0M364 347.3a.85 .85 0 1 0 .01 0M329 334.7a.85 .85 0 1 0 .01 0M339.9 333.4a.85 .85 0 1 0 .01 0M371.4 318.1a.85 .85 0 1 0 .01 0M329.1 333.8a.85 .85 0 1 0 .01 0M332.5 330.8a.85 .85 0 1 0 .01 0M405.2 332a.85 .85 0 1 0 .01 0M377 353.5a.85 .85 0 1 0 .01 0M336.6 317.4a.85 .85 0 1 0 .01 0M346.6 344.2a.85 .85 0 1 0 .01 0M410.6 337a.85 .85 0 1 0 .01 0M334.1 320.2a.85 .85 0 1 0 .01 0M365.5 327.3a.85 .85 0 1 0 .01 0M347.5 326.1a.85 .85 0 1 0 .01 0M337.8 316.8a.85 .85 0 1 0 .01 0M346.8 323.1a.85 .85 0 1 0 .01 0M360.5 325.7a.85 .85 0 1 0 .01 0M357.9 304a.85 .85 0 1 0 .01 0M331.5 340.6a.85 .85 0 1 0 .01 0M351.8 338.5a.85 .85 0 1 0 .01 0M329.6 331.1a.85 .85 0 1 0 .01 0M362.5 342.2a.85 .85 0 1 0 .01 0M329.8 351.8a.85 .85 0 1 0 .01 0M365.8 312.7a.85 .85 0 1 0 .01 0M330.2 348.2a.85 .85 0 1 0 .01 0M335.8 325.9a.85 .85 0 1 0 .01 0M331.4 331.6a.85 .85 0 1 0 .01 0M328.8 334.9a.85 .85 0 1 0 .01 0M339.7 335.4a.85 .85 0 1 0 .01 0M380.2 343.4a.85 .85 0 1 0 .01 0M355.8 313.8a.85 .85 0 1 0 .01 0M331.1 307.6a.85 .85 0 1 0 .01 0M335 345.6a.85 .85 0 1 0 .01 0M330.3 345a.85 .85 0 1 0 .01 0M350.5 347.1a.85 .85 0 1 0 .01 0M330.3 338.7a.85 .85 0 1 0 .01 0M330.4 334.5a.85 .85 0 1 0 .01 0M346.1 320a.85 .85 0 1 0 .01 0M329.7 340.9a.85 .85 0 1 0 .01 0M336.2 331.3a.85 .85 0 1 0 .01 0M366.8 350.3a.85 .85 0 1 0 .01 0M331 320.9a.85 .85 0 1 0 .01 0M349.5 330.9a.85 .85 0 1 0 .01 0M450.8 348.3a.85 .85 0 1 0 .01 0M349.4 315.2a.85 .85 0 1 0 .01 0M394.2 336.8a.85 .85 0 1 0 .01 0M390.8 306.8a.85 .85 0 1 0 .01 0M367.1 287a.85 .85 0 1 0 .01 0M334.6 322a.85 .85 0 1 0 .01 0M351.6 319.6a.85 .85 0 1 0 .01 0M349.6 339.7a.85 .85 0 1 0 .01 0M430.2 340.3a.85 .85 0 1 0 .01 0M361.4 331a.85 .85 0 1 0 .01 0M331.1 333.4a.85 .85 0 1 0 .01 0M330.5 316.7a.85 .85 0 1 0 .01 0M349.8 325.5a.85 .85 0 1 0 .01 0M329.6 354.6a.85 .85 0 1 0 .01 0M329.5 337.9a.85 .85 0 1 0 .01 0M342.5 335.6a.85 .85 0 1 0 .01 0M329.9 331.7a.85 .85 0 1 0 .01 0M361.3 316.8a.85 .85 0 1 0 .01 0M352.1 332.2a.85 .85 0 1 0 .01 0M329.9 336.5a.85 .85 0 1 0 .01 0M353.2 331.4a.85 .85 0 1 0 .01 0M328.9 337.4a.85 .85 0 1 0 .01 0M340.8 340.4a.85 .85 0 1 0 .01 0M340.2 320a.85 .85 0 1 0 .01 0M329.1 338.9a.85 .85 0 1 0 .01 0M333.7 318.3a.85 .85 0 1 0 .01 0M346.1 289.9a.85 .85 0 1 0 .01 0M332 326a.85 .85 0 1 0 .01 0M354 326.4a.85 .85 0 1 0 .01 0M330 346.8a.85 .85 0 1 0 .01 0M347.6 330.1a.85 .85 0 1 0 .01 0M328.7 347.6a.85 .85 0 1 0 .01 0M332.4 321.2a.85 .85 0 1 0 .01 0M329.9 332.3a.85 .85 0 1 0 .01 0M329.7 320.3a.85 .85 0 1 0 .01 0M343.9 305.4a.85 .85 0 1 0 .01 0M330.1 324.5a.85 .85 0 1 0 .01 0M415.3 335a.85 .85 0 1 0 .01 0M329.8 336.4a.85 .85 0 1 0 .01 0M386.7 351.1a.85 .85 0 1 0 .01 0M330.4 341.5a.85 .85 0 1 0 .01 0"/>
<path d="M330.1 322a.85 .85 0 1 0 .01 0M329.3 337.2a.85 .85 0 1 0 .01 0M357 331.6a.85 .85 0 1 0 .01 0M329.8 315.6a.85 .85 0 1 0 .01 0M332.6 337.9a.85 .85 0 1 0 .01 0M329.6 346.2a.85 .85 0 1 0 .01 0M335.1 333.3a.85 .85 0 1 0 .01 0M335 320.2a.85 .85 0 1 0 .01 0M386.6 319.2a.85 .85 0 1 0 .01 0M332.1 338.9a.85 .85 0 1 0 .01 0M368.7 323.7a.85 .85 0 1 0 .01 0M395.8 330.7a.85 .85 0 1 0 .01 0M375.5 350.3a.85 .85 0 1 0 .01 0M416.2 345.8a.85 .85 0 1 0 .01 0M375 333.4a.85 .85 0 1 0 .01 0M353.2 335a.85 .85 0 1 0 .01 0M331 364.5a.85 .85 0 1 0 .01 0M330.4 355.3a.85 .85 0 1 0 .01 0M329.3 350.7a.85 .85 0 1 0 .01 0M329.4 320.5a.85 .85 0 1 0 .01 0M329.6 340a.85 .85 0 1 0 .01 0M330.6 330.5a.85 .85 0 1 0 .01 0M341.2 338.2a.85 .85 0 1 0 .01 0M391.1 314.7a.85 .85 0 1 0 .01 0M329.6 336.2a.85 .85 0 1 0 .01 0M333.6 278.9a.85 .85 0 1 0 .01 0M338.2 323.3a.85 .85 0 1 0 .01 0M335.5 340.7a.85 .85 0 1 0 .01 0M365.6 328.1a.85 .85 0 1 0 .01 0M329.8 340.9a.85 .85 0 1 0 .01 0M341.5 338a.85 .85 0 1 0 .01 0M331.3 345.6a.85 .85 0 1 0 .01 0M338.1 329.4a.85 .85 0 1 0 .01 0M419.9 326.7a.85 .85 0 1 0 .01 0M330.8 333.6a.85 .85 0 1 0 .01 0M332.3 341a.85 .85 0 1 0 .01 0M329.6 340.2a.85 .85 0 1 0 .01 0M358.2 346.6a.85 .85 0 1 0 .01 0M330.3 330.9a.85 .85 0 1 0 .01 0M330 334.2a.85 .85 0 1 0 .01 0M329.8 329.8a.85 .85 0 1 0 .01 0M360.7 336.7a.85 .85 0 1 0 .01 0M331.7 339.6a.85 .85 0 1 0 .01 0M407.8 353.5a.85 .85 0 1 0 .01 0M330 347a.85 .85 0 1 0 .01 0M328.6 331.6a.85 .85 0 1 0 .01 0M356.3 343.7a.85 .85 0 1 0 .01 0M379.3 306.9a.85 .85 0 1 0 .01 0M330.2 398a.85 .85 0 1 0 .01 0M333.1 337.1a.85 .85 0 1 0 .01 0M340.5 309.9a.85 .85 0 1 0 .01 0M329.2 342.6a.85 .85 0 1 0 .01 0M329.6 335.2a.85 .85 0 1 0 .01 0M329.8 340.2a.85 .85 0 1 0 .01 0M369 355.6a.85 .85 0 1 0 .01 0M329.7 343.7a.85 .85 0 1 0 .01 0M331.4 349.3a.85 .85 0 1 0 .01 0M330.1 334.2a.85 .85 0 1 0 .01 0M329.4 338.5a.85 .85 0 1 0 .01 0M423.6 344.3a.85 .85 0 1 0 .01 0M356.9 357.3a.85 .85 0 1 0 .01 0M379.7 334.8a.85 .85 0 1 0 .01 0M341 321.3a.85 .85 0 1 0 .01 0M329.6 351.2a.85 .85 0 1 0 .01 0M329.1 337a.85 .85 0 1 0 .01 0M331.5 349.7a.85 .85 0 1 0 .01 0M331.6 336.4a.85 .85 0 1 0 .01 0M399.6 329a.85 .85 0 1 0 .01 0M330.2 323a.85 .85 0 1 0 .01 0M336.7 331.6a.85 .85 0 1 0 .01 0M331 341.7a.85 .85 0 1 0 .01 0M337.5 321.7a.85 .85 0 1 0 .01 0M332.2 305.2a.85 .85 0 1 0 .01 0M400 336.6a.85 .85 0 1 0 .01 0M336.9 340.2a.85 .85 0 1 0 .01 0M330.6 335.2a.85 .85 0 1 0 .01 0M329.6 328.3a.85 .85 0 1 0 .01 0M378.7 325.4a.85 .85 0 1 0 .01 0M329.8 342.4a.85 .85 0 1 0 .01 0M330.1 344.3a.85 .85 0 1 0 .01 0M344 336.9a.85 .85 0 1 0 .01 0M368.1 340.3a.85 .85 0 1 0 .01 0M368.2 351.1a.85 .85 0 1 0 .01 0M361.9 319.1a.85 .85 0 1 0 .01 0M341.7 323.4a.85 .85 0 1 0 .01 0M328.9 329.2a.85 .85 0 1 0 .01 0M330.1 331.8a.85 .85 0 1 0 .01 0M416.4 330a.85 .85 0 1 0 .01 0M372.4 362.8a.85 .85 0 1 0 .01 0M332.4 343.4a.85 .85 0 1 0 .01 0M331.2 322.7a.85 .85 0 1 0 .01 0M329.5 347.9a.85 .85 0 1 0 .01 0M331.6 326.5a.85 .85 0 1 0 .01 0M351.4 344.5a.85 .85 0 1 0 .01 0M402.5 322.6a.85 .85 0 1 0 .01 0M329.8 330.3a.85 .85 0 1 0 .01 0M419.1 337.4a.85 .85 0 1 0 .01 0M329.8 342a.85 .85 0 1 0 .01 0M329.7 329.9a.85 .85 0 1 0 .01 0M355.1 325.9a.85 .85 0 1 0 .01 0M340.1 331.6a.85 .85 0 1 0 .01 0M328.9 347.7a.85 .85 0 1 0 .01 0M410.3 341.7a.85 .85 0 1 0 .01 0M356.9 325.2a.85 .85 0 1 0 .01 0M329.6 343a.85 .85 0 1 0 .01 0M329.7 341.8a.85 .85 0 1 0 .01 0M334.9 339.8a.85 .85 0 1 0 .01 0M330.1 336.6a.85 .85 0 1 0 .01 0M332 330a.85 .85 0 1 0 .01 0M346.5 302.9a.85 .85 0 1 0 .01 0M329.6 338.6a.85 .85 0 1 0 .01 0M421 316a.85 .85 0 1 0 .01 0M363 349.8a.85 .85 0 1 0 .01 0M329.2 332.2a.85 .85 0 1 0 .01 0M330.4 335.7a.85 .85 0 1 0 .01 0M477.7 345.2a.85 .85 0 1 0 .01 0M329.3 338.4a.85 .85 0 1 0 .01 0M329.8 332.3a.85 .85 0 1 0 .01 0M329.3 333a.85 .85 0 1 0 .01 0M370.5 329.1a.85 .85 0 1 0 .01 0M396.4 332.5a.85 .85 0 1 0 .01 0M390.8 339.1a.85 .85 0 1 0 .01 0M329.6 358.5a.85 .85 0 1 0 .01 0M362.6 318.2a.85 .85 0 1 0 .01 0M438.8 341.6a.85 .85 0 1 0 .01 0M356.6 323.7a.85 .85 0 1 0 .01 0M329.6 332.7a.85 .85 0 1 0 .01 0M343.3 317.8a.85 .85 0 1 0 .01 0M376.4 331.7a.85 .85 0 1 0 .01 0M356.2 341.5a.85 .85 0 1 0 .01 0"/>
<path d="M330.7 327.2a.85 .85 0 1 0 .01 0M330.1 331.7a.85 .85 0 1 0 .01 0M334.9 333.5a.85 .85 0 1 0 .01 0M370.9 337.6a.85 .85 0 1 0 .01 0M404.5 339.8a.85 .85 0 1 0 .01 0M329.4 333.3a.85 .85 0 1 0 .01 0M347.6 339.7a.85 .85 0 1 0 .01 0M368.8 338.4a.85 .85 0 1 0 .01 0M330.5 336.3a.85 .85 0 1 0 .01 0M329.4 333.8a.85 .85 0 1 0 .01 0M329.8 328.6a.85 .85 0 1 0 .01 0M357.5 322.6a.85 .85 0 1 0 .01 0M329.6 329.1a.85 .85 0 1 0 .01 0M389.3 335.9a.85 .85 0 1 0 .01 0M330.5 337.2a.85 .85 0 1 0 .01 0M350 331a.85 .85 0 1 0 .01 0M329.4 336.1a.85 .85 0 1 0 .01 0M390.7 305a.85 .85 0 1 0 .01 0M404.7 317.1a.85 .85 0 1 0 .01 0M341 338.9a.85 .85 0 1 0 .01 0M330.6 356a.85 .85 0 1 0 .01 0M348.6 341.5a.85 .85 0 1 0 .01 0M333 371.3a.85 .85 0 1 0 .01 0M367.3 337.1a.85 .85 0 1 0 .01 0M354.2 317.3a.85 .85 0 1 0 .01 0M332.7 339.5a.85 .85 0 1 0 .01 0M419.5 328.7a.85 .85 0 1 0 .01 0M330.7 340.7a.85 .85 0 1 0 .01 0M330.1 343.9a.85 .85 0 1 0 .01 0M391 359.3a.85 .85 0 1 0 .01 0M386 314.4a.85 .85 0 1 0 .01 0M329.8 332.8a.85 .85 0 1 0 .01 0M378 328.2a.85 .85 0 1 0 .01 0M347.2 320.7a.85 .85 0 1 0 .01 0M328.9 350.4a.85 .85 0 1 0 .01 0M363.2 307a.85 .85 0 1 0 .01 0M329.3 340.9a.85 .85 0 1 0 .01 0M343 321.7a.85 .85 0 1 0 .01 0M329.4 341.4a.85 .85 0 1 0 .01 0M329.2 364.3a.85 .85 0 1 0 .01 0M367.9 337.2a.85 .85 0 1 0 .01 0M368 329.3a.85 .85 0 1 0 .01 0M336 342.4a.85 .85 0 1 0 .01 0M332.6 350.3a.85 .85 0 1 0 .01 0M333.1 342.8a.85 .85 0 1 0 .01 0M331.9 357.3a.85 .85 0 1 0 .01 0M339.7 336.7a.85 .85 0 1 0 .01 0M359.8 346.6a.85 .85 0 1 0 .01 0M329.7 337.6a.85 .85 0 1 0 .01 0M329.7 352.4a.85 .85 0 1 0 .01 0M339.8 335.3a.85 .85 0 1 0 .01 0M329.3 338.3a.85 .85 0 1 0 .01 0M346.7 321.8a.85 .85 0 1 0 .01 0M329.4 330.7a.85 .85 0 1 0 .01 0M329.8 337.9a.85 .85 0 1 0 .01 0M330.7 332.3a.85 .85 0 1 0 .01 0M339.9 300.4a.85 .85 0 1 0 .01 0M411.9 353.4a.85 .85 0 1 0 .01 0M467.4 315.4a.85 .85 0 1 0 .01 0M329.9 330.3a.85 .85 0 1 0 .01 0M330.5 339a.85 .85 0 1 0 .01 0M331.8 333.6a.85 .85 0 1 0 .01 0M328.7 331.6a.85 .85 0 1 0 .01 0M349.4 342.5a.85 .85 0 1 0 .01 0M333.4 334a.85 .85 0 1 0 .01 0M332.3 377.6a.85 .85 0 1 0 .01 0M381.6 289.6a.85 .85 0 1 0 .01 0M330.9 347.5a.85 .85 0 1 0 .01 0M329.6 329.7a.85 .85 0 1 0 .01 0M329.6 347.8a.85 .85 0 1 0 .01 0M389.7 325.6a.85 .85 0 1 0 .01 0M385.4 327.4a.85 .85 0 1 0 .01 0M371.4 312.3a.85 .85 0 1 0 .01 0M431.2 347.3a.85 .85 0 1 0 .01 0M331.8 336a.85 .85 0 1 0 .01 0M329.3 342.1a.85 .85 0 1 0 .01 0M331.3 332.5a.85 .85 0 1 0 .01 0M380.9 317.9a.85 .85 0 1 0 .01 0M351.3 310.3a.85 .85 0 1 0 .01 0M328.6 328.4a.85 .85 0 1 0 .01 0M330.9 347.8a.85 .85 0 1 0 .01 0M329.6 320.8a.85 .85 0 1 0 .01 0M329.1 335.2a.85 .85 0 1 0 .01 0M367.1 346a.85 .85 0 1 0 .01 0M331.2 334.6a.85 .85 0 1 0 .01 0M328.8 328.6a.85 .85 0 1 0 .01 0M328.7 338a.85 .85 0 1 0 .01 0M335.2 339a.85 .85 0 1 0 .01 0M355.5 336.6a.85 .85 0 1 0 .01 0M333.4 299.4a.85 .85 0 1 0 .01 0M352.5 345.9a.85 .85 0 1 0 .01 0M330.8 324a.85 .85 0 1 0 .01 0M329.9 348.4a.85 .85 0 1 0 .01 0M381.7 325.8a.85 .85 0 1 0 .01 0M330.5 352.8a.85 .85 0 1 0 .01 0M346 316.1a.85 .85 0 1 0 .01 0M369.3 326.4a.85 .85 0 1 0 .01 0M330.7 337.4a.85 .85 0 1 0 .01 0M330.8 324.7a.85 .85 0 1 0 .01 0M337.1 326a.85 .85 0 1 0 .01 0M362.4 332.8a.85 .85 0 1 0 .01 0M329.4 330.4a.85 .85 0 1 0 .01 0M331.6 354.1a.85 .85 0 1 0 .01 0M366.4 323.8a.85 .85 0 1 0 .01 0M349.6 316a.85 .85 0 1 0 .01 0M336.8 325.1a.85 .85 0 1 0 .01 0M329.9 330.3a.85 .85 0 1 0 .01 0M330.3 333.2a.85 .85 0 1 0 .01 0M331.5 320.5a.85 .85 0 1 0 .01 0M347.2 341.2a.85 .85 0 1 0 .01 0M386.4 352.2a.85 .85 0 1 0 .01 0M330.3 329.2a.85 .85 0 1 0 .01 0M330 338.4a.85 .85 0 1 0 .01 0M330.8 331.1a.85 .85 0 1 0 .01 0M399.1 317.8a.85 .85 0 1 0 .01 0M453.8 330a.85 .85 0 1 0 .01 0M337.3 335.9a.85 .85 0 1 0 .01 0M347.6 342.5a.85 .85 0 1 0 .01 0M331.2 347.2a.85 .85 0 1 0 .01 0M329.7 355.5a.85 .85 0 1 0 .01 0M330.9 335.8a.85 .85 0 1 0 .01 0M332.8 334.1a.85 .85 0 1 0 .01 0M446.8 341.2a.85 .85 0 1 0 .01 0M333.7 323.3a.85 .85 0 1 0 .01 0M344.8 340.6a.85 .85 0 1 0 .01 0M333.1 342.5a.85 .85 0 1 0 .01 0M346.1 344a.85 .85 0 1 0 .01 0M333.7 315.8a.85 .85 0 1 0 .01 0M469.9 309.5a.85 .85 0 1 0 .01 0M332 331.7a.85 .85 0 1 0 .01 0"/>
</g>
<line x1="331.3" y1="327.4" x2="513.9" y2="337.7" stroke="#0a0a0a" stroke-width="1.25"/>
<rect x="323.4" y="263.6" width="195.2" height="164.3" fill="none" stroke="#303030" stroke-width="1.05"/>
<path d="M323.4 426.2h-4M323.4 394.0h-4M323.4 361.8h-4M323.4 329.7h-4M323.4 297.5h-4M323.4 265.3h-4M327.6 427.9v6M364.9 427.9v6M402.1 427.9v6M439.4 427.9v6M476.6 427.9v6M513.9 427.9v6" stroke="#999" stroke-width="0.8" fill="none"/>
<g class="tk">
<text x="318.2" y="430.4" text-anchor="end" textLength="7.7" lengthAdjust="spacingAndGlyphs">10</text>
<text x="318.2" y="398.2" text-anchor="end" textLength="12.1" lengthAdjust="spacingAndGlyphs">100</text>
<text x="318.2" y="366.0" text-anchor="end" textLength="16.5" lengthAdjust="spacingAndGlyphs">1000</text>
<text x="318.2" y="333.9" text-anchor="end" textLength="20.9" lengthAdjust="spacingAndGlyphs">10000</text>
<text x="318.2" y="301.7" text-anchor="end" textLength="25.3" lengthAdjust="spacingAndGlyphs">100000</text>
<text x="318.2" y="269.5" text-anchor="end" textLength="29.7" lengthAdjust="spacingAndGlyphs">1000000</text>
<text x="327.6" y="445.5" text-anchor="middle" textLength="4.7" lengthAdjust="spacingAndGlyphs">0</text>
<text x="364.9" y="445.5" text-anchor="middle" textLength="4.7" lengthAdjust="spacingAndGlyphs">5</text>
<text x="402.1" y="445.5" text-anchor="middle" textLength="9.4" lengthAdjust="spacingAndGlyphs">10</text>
<text x="439.4" y="445.5" text-anchor="middle" textLength="9.4" lengthAdjust="spacingAndGlyphs">15</text>
<text x="476.6" y="445.5" text-anchor="middle" textLength="9.4" lengthAdjust="spacingAndGlyphs">20</text>
<text x="513.9" y="445.5" text-anchor="middle" textLength="9.4" lengthAdjust="spacingAndGlyphs">25</text>
</g>
<text class="pl" x="284.7" y="256.0">D</text>
<text class="ax" x="179.2" y="467.2" textLength="208.5" lengthAdjust="spacingAndGlyphs">Years after transplantation</text>
<text class="ax" style="font-size:19px" transform="translate(15.1 231.7) rotate(-90)" textLength="39.3" lengthAdjust="spacingAndGlyphs">Cpm</text>
</svg>
</body></html>
